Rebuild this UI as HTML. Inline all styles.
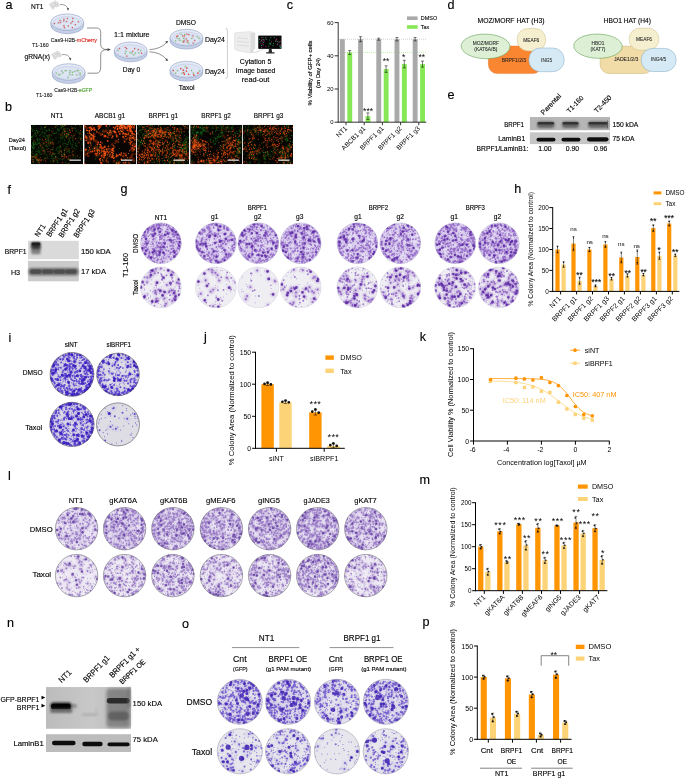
<!DOCTYPE html>
<html><head><meta charset="utf-8"><title>Figure</title>
<style>
html,body{margin:0;padding:0;background:#fff;}
svg{display:block;font-family:"Liberation Sans",sans-serif;}
</style></head><body>
<svg width="685" height="778" viewBox="0 0 685 778">
<defs>
<filter id="b3" x="-5%" y="-5%" width="110%" height="110%"><feGaussianBlur stdDeviation="0.35"/></filter>
<filter id="b6" x="-30%" y="-100%" width="160%" height="300%"><feGaussianBlur stdDeviation="0.6"/></filter>
<filter id="b10" x="-30%" y="-100%" width="160%" height="300%"><feGaussianBlur stdDeviation="1.0"/></filter>
<filter id="b15" x="-30%" y="-100%" width="160%" height="300%"><feGaussianBlur stdDeviation="1.5"/></filter>
<linearGradient id="ngr" x1="0" x2="1" y1="0" y2="0"><stop offset="0" stop-color="#bcbcbc"/><stop offset=".55" stop-color="#c8c8c8"/><stop offset="1" stop-color="#b4b4b4"/></linearGradient>
</defs>
<rect width="685" height="778" fill="#fff"/>
<g opacity=".999">
<text x="5.6" y="8.5" font-size="12.6" stroke="#000" stroke-width=".16">a</text>
<circle cx="50.6" cy="4.6" r="1.15" fill="#efefef" stroke="#b4b4b4" stroke-width=".35"/>
<circle cx="52.8" cy="3.2" r="1.15" fill="#efefef" stroke="#b4b4b4" stroke-width=".35"/>
<circle cx="55" cy="4.2" r="1.15" fill="#efefef" stroke="#b4b4b4" stroke-width=".35"/>
<circle cx="51.8" cy="6.4" r="1.15" fill="#efefef" stroke="#b4b4b4" stroke-width=".35"/>
<circle cx="54" cy="6.2" r="1.15" fill="#efefef" stroke="#b4b4b4" stroke-width=".35"/>
<circle cx="56.4" cy="5.8" r="1.15" fill="#efefef" stroke="#b4b4b4" stroke-width=".35"/>
<circle cx="57.2" cy="3.4" r="1.15" fill="#efefef" stroke="#b4b4b4" stroke-width=".35"/>
<circle cx="55.2" cy="2" r="1.15" fill="#efefef" stroke="#b4b4b4" stroke-width=".35"/>
<circle cx="52.8" cy="8" r="1.15" fill="#efefef" stroke="#b4b4b4" stroke-width=".35"/>
<circle cx="58.2" cy="5.2" r="1.15" fill="#efefef" stroke="#b4b4b4" stroke-width=".35"/>
<path d="M55.4 2.1h0m-2.4 1.2h0m4.4 .2h0m-2.2 .8h0m-4.4 .4h0m7.6 .6h0m-1.8 .6h0m-2.4 .4h0m-2.2 .2h0m1 1.6h0" stroke="#c4c4c4" stroke-width="0.8" stroke-linecap="round" fill="none" stroke-opacity="0.9"/>
<circle cx="52.8" cy="54.8" r="1.15" fill="#efefef" stroke="#b4b4b4" stroke-width=".35"/>
<circle cx="55" cy="53.4" r="1.15" fill="#efefef" stroke="#b4b4b4" stroke-width=".35"/>
<circle cx="57.2" cy="54.4" r="1.15" fill="#efefef" stroke="#b4b4b4" stroke-width=".35"/>
<circle cx="54" cy="56.6" r="1.15" fill="#efefef" stroke="#b4b4b4" stroke-width=".35"/>
<circle cx="56.2" cy="56.4" r="1.15" fill="#efefef" stroke="#b4b4b4" stroke-width=".35"/>
<circle cx="58.6" cy="56" r="1.15" fill="#efefef" stroke="#b4b4b4" stroke-width=".35"/>
<circle cx="59.4" cy="53.6" r="1.15" fill="#efefef" stroke="#b4b4b4" stroke-width=".35"/>
<circle cx="57.4" cy="52.2" r="1.15" fill="#efefef" stroke="#b4b4b4" stroke-width=".35"/>
<circle cx="55" cy="58.2" r="1.15" fill="#efefef" stroke="#b4b4b4" stroke-width=".35"/>
<circle cx="60.4" cy="55.4" r="1.15" fill="#efefef" stroke="#b4b4b4" stroke-width=".35"/>
<path d="M57.6 52.3h0m-2.4 1.2h0m4.4 .2h0m-2.2 .8h0m-4.4 .4h0m7.6 .6h0m-1.8 .6h0m-2.4 .4h0m-2.2 .2h0m1 1.6h0" stroke="#c4c4c4" stroke-width="0.8" stroke-linecap="round" fill="none" stroke-opacity="0.9"/>
<path d="M50.9 22.2 v3.2 a16.4 8.3 0 0 0 32.8 0 v-3.2z" fill="#c5d0e8" stroke="#7f8fb5" stroke-width=".5"/>
<ellipse cx="67.3" cy="22.2" rx="16.4" ry="8.3" fill="#e4eaf7" stroke="#7f8fb5" stroke-width=".5"/>
<ellipse cx="67.3" cy="23.1" rx="14.399999999999999" ry="6.500000000000001" fill="#dde4f3" stroke="#a9b5d2" stroke-width=".35"/>
<path d="M67.5 18.5h0m5.6 .1h0m-9 .9h0m-3.6 .9h0m3.1 .8h0m9 .2h0m-6.5 .1h0m12.7 .7h0m-18.9 .2h0m-1.6 .6h0m-3.7 .3h0m16.5 .1h0m4.2 1.5h0m-11.2 .6h0m4 .8h0m4.3 1.4h0m-7.6 .3h0" stroke="#aab2c6" stroke-width="2.1" stroke-linecap="round" fill="none" stroke-opacity="0.5"/>
<path d="M72.7 18.4h0m-5.3 .1h0m-3.5 .5h0m-4 1.7h0m3.9 .1h0m3.1 .7h0m5.7 0h0m5.6 .1h0m-17.4 .9h0m-2.4 .3h0m12.6 .1h0m-16.7 .7h0m21.1 1h0m-7.1 1.2h0m-4.4 .1h0m.4 1.5h0m8.1 .1h0" stroke="#e8412f" stroke-width="1.25" stroke-linecap="round" fill="none"/>
<path d="M52.3 72 v3.2 a16.4 8.3 0 0 0 32.8 0 v-3.2z" fill="#c5d0e8" stroke="#7f8fb5" stroke-width=".5"/>
<ellipse cx="68.7" cy="72" rx="16.4" ry="8.3" fill="#e4eaf7" stroke="#7f8fb5" stroke-width=".5"/>
<ellipse cx="68.7" cy="72.9" rx="14.399999999999999" ry="6.500000000000001" fill="#dde4f3" stroke="#a9b5d2" stroke-width=".35"/>
<path d="M77.9 70.4h0m-.8 .2h0m-11.5 .1h0m0 .1h0m4.2 .1h0m-7.9 .1h0m13.3 .4h0m-2.9 .4h0m-2.2 .3h0m9.3 .8h0m-16.7 .2h0m-6.8 .2h0m3.9 .9h0m10 .2h0m-11.4 .1h0m21.6 .1h0m-2.7 .1h0m-4.9 .3h0m-4.4 2.1h0" stroke="#aab2c6" stroke-width="2.1" stroke-linecap="round" fill="none" stroke-opacity="0.5"/>
<path d="M70.2 70.3h0m-5.2 .2h0m1.4 0h0m12.3 0h0m-1.5 .3h0m-15.3 .4h0m12.5 .1h0m-4.6 1h0m2.9 .1h0m-9.7 .4h0m-6.4 .3h0m23.7 0h0m-8 1.3h0m-2.4 .3h0m-9.8 .1h0m-1.3 .1h0m21.3 0h0m-3.7 .2h0m-8.4 2.6h0" stroke="#74c857" stroke-width="1.25" stroke-linecap="round" fill="none"/>
<path d="M114.3 50.3 v3.2 a16.4 8.3 0 0 0 32.8 0 v-3.2z" fill="#c5d0e8" stroke="#7f8fb5" stroke-width=".5"/>
<ellipse cx="130.7" cy="50.3" rx="16.4" ry="8.3" fill="#e4eaf7" stroke="#7f8fb5" stroke-width=".5"/>
<ellipse cx="130.7" cy="51.2" rx="14.399999999999999" ry="6.500000000000001" fill="#dde4f3" stroke="#a9b5d2" stroke-width=".35"/>
<path d="M125.9 47.7h0m-7 .5h0m16.3 .2h0m-9 .4h0m11.6 1.1h0m-20.2 .2h0m22.9 .5h0m-14.9 .7h0m6.5 .4h0m-1.6 .5h0m7.8 .3h0m-6.4 .4h0m10 .1h0m-6.9 .4h0m-9.9 .1h0m8.1 1.3h0m-5.9 1.1h0" stroke="#aab2c6" stroke-width="2.1" stroke-linecap="round" fill="none" stroke-opacity="0.5"/>
<path d="M125.2 47.4h0m-5.5 1.1h0m7.1 .1h0m7.7 .1h0m3.9 .6h0m-5.5 1.9h0m8.5 2h0m-14.7 2.9h0" stroke="#e8412f" stroke-width="1.25" stroke-linecap="round" fill="none"/>
<path d="M118.2 50.5h0m22.5 0h0m-14.3 .9h0m3.5 1.4h0m5.5 .2h0m3.5 0h0m-7.7 .1h0m-5.9 .6h0m8.6 1.2h0" stroke="#74c857" stroke-width="1.25" stroke-linecap="round" fill="none"/>
<path d="M170 37.6 v3.2 a16.4 8.3 0 0 0 32.8 0 v-3.2z" fill="#c5d0e8" stroke="#7f8fb5" stroke-width=".5"/>
<ellipse cx="186.4" cy="37.6" rx="16.4" ry="8.3" fill="#e4eaf7" stroke="#7f8fb5" stroke-width=".5"/>
<ellipse cx="186.4" cy="38.5" rx="14.399999999999999" ry="6.500000000000001" fill="#dde4f3" stroke="#a9b5d2" stroke-width=".35"/>
<path d="M180.3 33.8h0m6.1 .4h0m-1.3 .1h0m4.4 .2h0m3 1.1h0m-9.6 .1h0m.9 .4h0m-5.5 .2h0m-1.3 .3h0m20 .1h0m-20.5 1.3h0m7.7 .1h0m8.2 .1h0m6.7 0h0m-13.7 .7h0m-6.3 .1h0m15.6 1.2h0m-15.1 .1h0m7.7 .2h0m-2.9 .1h0m-9 .4h0m7.3 .4h0m1.3 .3h0m3.3 0h0m6.3 1h0m-4.5 .6h0" stroke="#aab2c6" stroke-width="2.1" stroke-linecap="round" fill="none" stroke-opacity="0.5"/>
<path d="M187 34.2h0m1.8 .5h0m-11.1 1.1h0m6.8 .1h0m-1.8 .1h0m10.4 0h0m-16.6 .3h0m9.8 2.5h0m8.5 1.8h0m-6.9 .1h0m-3.8 .1h0m2.9 1.3h0m-3.4 .1h0m9.4 .9h0" stroke="#e8412f" stroke-width="1.25" stroke-linecap="round" fill="none"/>
<path d="M181.2 34.3h0m3.4 .3h0m12.6 2h0m-20 1.5h0m21.7 .1h0m-15.5 .3h0m8.3 0h0m-12.5 .1h0m.7 1.8h0m-4.2 .4h0m6.9 .4h0m5.8 1.7h0" stroke="#74c857" stroke-width="1.25" stroke-linecap="round" fill="none"/>
<path d="M170 69.6 v3.2 a16.4 8.3 0 0 0 32.8 0 v-3.2z" fill="#c5d0e8" stroke="#7f8fb5" stroke-width=".5"/>
<ellipse cx="186.4" cy="69.6" rx="16.4" ry="8.3" fill="#e4eaf7" stroke="#7f8fb5" stroke-width=".5"/>
<ellipse cx="186.4" cy="70.5" rx="14.399999999999999" ry="6.500000000000001" fill="#dde4f3" stroke="#a9b5d2" stroke-width=".35"/>
<path d="M185.4 66.8h0m2 1h0m-6.5 .8h0m2.7 1.3h0m-10.8 .2h0m5 .5h0m13.7 .2h0m8.2 .3h0m-13.3 .1h0m-2.6 1.3h0m13.9 .4h0m-4.7 .2h0m-11.2 .1h0m-6.2 .1h0m12.9 .9h0m-4.6 .2h0m10.6 .8h0" stroke="#aab2c6" stroke-width="2.1" stroke-linecap="round" fill="none" stroke-opacity="0.5"/>
<path d="M186.8 68h0m-6.1 .5h0m2.5 1.7h0m-9.8 .4h0m13.1 .4h0m-2.9 1.5h0m14.4 .6h0m-13.5 1.1h0m4.1 .2h0m5.1 .6h0" stroke="#e8412f" stroke-width="1.25" stroke-linecap="round" fill="none"/>
<path d="M185.3 66.3h0m6.3 4h0m-14.2 .4h0m21.9 .2h0m-23.7 2.2h0m18.1 .1h0m-11.5 .1h0" stroke="#74c857" stroke-width="1.25" stroke-linecap="round" fill="none"/>
<path d="M186.8 68h0m-6.1 .5h0m2.5 1.7h0m-9.8 .4h0m13.1 .4h0m-2.9 1.5h0m14.4 .6h0m-13.5 1.1h0m4.1 .2h0m5.1 .6h0" stroke="#e8412f" stroke-width="1.25" stroke-linecap="round" fill="none"/>
<text x="31" y="8.6" font-size="6.8" textLength="12.4" lengthAdjust="spacingAndGlyphs" stroke="#000" stroke-width=".14">NT1</text>
<text x="24.5" y="58.8" font-size="7" textLength="25.5" lengthAdjust="spacingAndGlyphs" stroke="#000" stroke-width=".14">gRNA(x)</text>
<path d="M60 4.5 q7 -.5 8 5" fill="none" stroke="#444" stroke-width=".5"/><path d="M66.8 8.3l1.3 2.4 .9-2.6z" fill="#444"/>
<path d="M62 54.5 q7.5 -.5 8.3 5" fill="none" stroke="#444" stroke-width=".5"/><path d="M69.1 58.3l1.3 2.4 .9-2.6z" fill="#444"/>
<text x="50.8" y="42.3" font-size="5.4" textLength="46.2" lengthAdjust="spacingAndGlyphs" fill="#222" stroke="#222" stroke-width=".14">Cas9-H2B-<tspan fill="#e0281e" stroke="#e0281e">mCherry</tspan></text>
<text x="32" y="46.6" font-size="5.3" textLength="16.6" lengthAdjust="spacingAndGlyphs" fill="#222" stroke="#222" stroke-width=".14">T1-160</text>
<text x="54.3" y="92.2" font-size="5.38" textLength="37.7" lengthAdjust="spacingAndGlyphs" fill="#222" stroke="#222" stroke-width=".14">Cas9-H2B-<tspan fill="#4aa02c" stroke="#4aa02c">eGFP</tspan></text>
<text x="36" y="96.6" font-size="5.23" textLength="16.4" lengthAdjust="spacingAndGlyphs" fill="#222" stroke="#222" stroke-width=".14">T1-160</text>
<path d="M87 28 h9.5 q4.2 0 4.2 4.2 v12 q0 5.4 6.5 5.4 q-6.5 0 -6.500 5.4 v12 q0 6.2 -4.2 6.200 h-9" fill="none" stroke="#333" stroke-width=".55"/>
<path d="M107.4 48.2l3.400 1.4 -3.400 1.400z" fill="#333"/>
<text x="114" y="36.6" font-size="6.85" textLength="35.6" lengthAdjust="spacingAndGlyphs" stroke="#000" stroke-width=".14">1:1 mixture</text>
<text x="122.8" y="71.7" font-size="6.91" textLength="17.5" lengthAdjust="spacingAndGlyphs" stroke="#000" stroke-width=".14">Day 0</text>
<text x="175.9" y="25" font-size="6.95" textLength="20" lengthAdjust="spacingAndGlyphs" stroke="#000" stroke-width=".14">DMSO</text>
<text x="178.8" y="89.6" font-size="6.6" textLength="15.8" lengthAdjust="spacingAndGlyphs" stroke="#000" stroke-width=".14">Taxol</text>
<path d="M149.500 49.6 q11 -.5 17 -7" fill="none" stroke="#333" stroke-width=".55"/><path d="M165.200 41.5l2.800 -.6 -1 2.700z" fill="#333"/>
<path d="M149.500 51.8 q11 .5 17 7.6" fill="none" stroke="#333" stroke-width=".55"/><path d="M165.2 60.200l2.800 .8 -1 -2.800z" fill="#333"/>
<text x="204.9" y="41.9" font-size="7.03" textLength="20" lengthAdjust="spacingAndGlyphs" stroke="#000" stroke-width=".14">Day24</text>
<text x="204.9" y="74" font-size="7.03" textLength="20" lengthAdjust="spacingAndGlyphs" stroke="#000" stroke-width=".14">Day24</text>
<path d="M225.5 28.200 q1.900 .2 1.900 2.200 v46 q0 2 -1.900 2.200" fill="none" stroke="#aaa" stroke-width=".6"/>
<path d="M234.500 34 q0 -1.200 1.500 -1.400 l14 -1 4 .8 q1 .2 1 1.400 v14.500 l-4.500 4.600 -13 -2.200 q-3 -.5 -3 -3z" fill="#ededed" stroke="#cfcfcf" stroke-width=".4"/>
<path d="M250.500 33 l4.500 .2 v15.500 l-4.500 4.800z" fill="#dcdcdc"/>
<path d="M237 41.500 l12 1 M237 45 l12 1.200 M238 38 l10 .6" stroke="#c8c8c8" stroke-width=".5" fill="none"/>
<path d="M251 52 q5 1.500 9 -1.500 l4 -2" fill="none" stroke="#999" stroke-width=".4"/>
<rect x="258.2" y="35.5" width="23.4" height="13.4" fill="#2e2e2e" rx=".7"/>
<rect x="258.8" y="36.1" width="22.2" height="12.2" fill="#070707"/>
<path d="M262.9 37.2h0m11.4 .3h0m-3.5 .1h0m-5.1 .2h0m-6.1 1.5h0m6.7 .2h0m-2.7 .1h0m5.7 .4h0m-7.7 .3h0m15.9 .9h0m-1.7 .1h0m-15.6 .7h0m19 0h0m-15.7 .5h0m5.7 .5h0m1.2 .3h0m3.1 .3h0m-2.9 .3h0m-.4 .3h0m7.2 .4h0m-4.4 1h0m-11.5 .1h0m7.4 .4h0m11 .1h0m.5 1.2h0m.4 .4h0" stroke="#22a866" stroke-width="1.15" stroke-linecap="round" fill="none" stroke-opacity="0.9"/>
<path d="M261.7 37.6h0m4.2 .2h0m10.6 1.1h0m-14.4 .8h0m2 .1h0m0 .1h0m12 0h0m-14.7 .7h0m14.6 0h0m-11.9 .7h0m16.3 0h0m-18.3 .2h0m9.4 .3h0m7.4 .3h0m-17.8 1.7h0m16.6 .1h0m-15.3 .1h0m1.2 .9h0m16.4 .3h0m.2 .5h0m-14.2 .9h0m-4.3 1.1h0" stroke="#a8327e" stroke-width="1.15" stroke-linecap="round" fill="none" stroke-opacity="0.9"/>
<path d="M269 48.800 h2.600 l.5 3.500 h2.400 v1.200 h-8.400 v-1.200 h2.400z" fill="#2a2a2a"/>
<text x="255.6" y="64.2" font-size="6.83" text-anchor="middle" textLength="31.5" lengthAdjust="spacingAndGlyphs" stroke="#000" stroke-width=".14">Cytation 5</text>
<text x="255.6" y="72.8" font-size="6.91" text-anchor="middle" textLength="39.5" lengthAdjust="spacingAndGlyphs" stroke="#000" stroke-width=".14">Image based</text>
<text x="255.6" y="81.6" font-size="6.98" text-anchor="middle" textLength="27.5" lengthAdjust="spacingAndGlyphs" stroke="#000" stroke-width=".14">read-out</text>
<text x="4.9" y="111.2" font-size="12.6" stroke="#000" stroke-width=".16">b</text>
<text x="57" y="118.4" font-size="6.8" text-anchor="middle" textLength="12.4" lengthAdjust="spacingAndGlyphs" stroke="#000" stroke-width=".14">NT1</text>
<text x="110" y="118.4" font-size="7.02" text-anchor="middle" textLength="30.5" lengthAdjust="spacingAndGlyphs" stroke="#000" stroke-width=".14">ABCB1 g1</text>
<text x="163.3" y="118.4" font-size="7.03" text-anchor="middle" textLength="29.5" lengthAdjust="spacingAndGlyphs" stroke="#000" stroke-width=".14">BRPF1 g1</text>
<text x="216" y="118.4" font-size="7.03" text-anchor="middle" textLength="29.5" lengthAdjust="spacingAndGlyphs" stroke="#000" stroke-width=".14">BRPF1 g2</text>
<text x="268.5" y="118.4" font-size="7.03" text-anchor="middle" textLength="29.5" lengthAdjust="spacingAndGlyphs" stroke="#000" stroke-width=".14">BRPF1 g3</text>
<text x="8.8" y="141.8" font-size="5.69" textLength="16.2" lengthAdjust="spacingAndGlyphs" stroke="#000" stroke-width=".14">Day24</text>
<text x="8.8" y="149.7" font-size="5.64" textLength="17.3" lengthAdjust="spacingAndGlyphs" stroke="#000" stroke-width=".14">(Taxol)</text>
<g clip-path="url(#cb21)"><clipPath id="cb21"><rect x="30.9" y="124.8" width="52.2" height="39.4"/></clipPath>
<rect x="30.9" y="124.8" width="52.2" height="39.4" fill="#060503"/>
<g filter="url(#b10)">
<path d="M62.6 125.7h0m.4 .7h0m-18.5 .9h0m-12.7 .6h0m28.8 .2h0m7.5 .5h0m-10.5 .4h0m-12.7 .4h0m-12.5 .4h0m31.4 .1h0m-14.3 .3h0m9.1 .2h0m17.6 .2h0m-38.2 1.2h0m4.5 .1h0m37.4 .4h0m-23.5 .5h0m12.3 .5h0m-24.6 .2h0m-9.5 .1h0m26.3 .4h0m3.7 0h0m3.3 .1h0m-.9 .7h0m15 0h0m-15.2 .1h0m-27.2 .5h0m28.1 .7h0m-23.4 .2h0m-12.4 .7h0m29.3 .2h0m-.9 .4h0m3.1 0h0m7.3 .1h0m-23.8 .3h0m9.1 0h0m-17.8 1.1h0m1.6 .7h0m12.9 .1h0m11.7 .2h0m-3.8 .4h0m21.6 0h0m-44.8 .1h0m32.4 0h0m-18.9 1.5h0m18 .4h0m-18.6 .1h0m-14.8 .1h0m28 .5h0m-24.8 .2h0m37.1 0h0m-22.6 .2h0m-4.7 .3h0m-11 .2h0m25.3 .1h0m-28.9 .4h0m0 0h0m38.3 .1h0m4.3 .5h0m-30.7 .4h0m31 .9h0m-29.9 .1h0m-6.5 .1h0m-7.8 .8h0m27.8 .3h0m-16.7 .1h0m22 .5h0m-32 .4h0m19.1 .7h0m-9.5 .1h0m13.8 .1h0m-.8 .1h0m-15.3 .3h0m3.7 .4h0m-6.8 .4h0m31.1 0h0m-1 .4h0m-7.6 .1h0m-28.7 .8h0m26.4 1.2h0m-21.7 .2h0m2.9 .1h0m1.6 .6h0m13.7 0h0m-19.5 .2h0m11.8 .3h0m-10.7 .3h0m15.4 .4h0m-20 .3h0m3.5 .1h0m40.3 1h0m-2.4 .1h0m-40.6 .5h0m19.5 1h0m1.6 .1h0m15 .2h0m-.1 .6h0m-29.5 .5h0m4.8 .2h0m-6.6 .2h0m20.1 .7h0m-5 .6h0m5.8 .8h0m-24.6 .4h0m36 1.2h0" stroke="#1c8a1e" stroke-width="2.4" stroke-linecap="round" fill="none" stroke-opacity="0.15"/>
<path d="M72.9 128.4h0m-8.8 .8h0m.3 5h0m4.2 .4h0m-18.9 .3h0m11.3 0h0m10.5 .7h0m-4.9 1.3h0m9 1.8h0m5 .6h0m-31.9 2.8h0m3.9 .2h0m-6.3 .1h0m3.8 1.3h0m16.8 6.1h0m-23.7 .8h0m29.4 4h0m-8 .1h0m3.7 1.7h0m-6.4 .2h0m-25.5 .3h0m9.5 1.5h0m18 .2h0m-7.7 .4h0m-18.5 .2h0m32.5 .2h0m-28.6 .4h0m-3.5 1.3h0m15.5 0h0m-14 1.8h0" stroke="#c23a08" stroke-width="2.4" stroke-linecap="round" fill="none" stroke-opacity="0.17"/>
</g>
<path d="M61.2 124.8h0m1.4 .9h0m-22.1 .7h0m21.3 0h0m-28.8 .1h0m29.7 0h0m-6.6 .3h0m16.4 1h0m-40.7 .1h0m5 .1h0m23.8 .1h0m-12.2 .1h0m-17 .2h0m33 .3h0m-.7 .3h0m-30.1 .3h0m11.3 .1h0m14 0h0m13.4 .1h0m-36.1 .2h0m-3.8 .1h0m35.3 0h0m-33.1 .5h0m37.1 0h0m-12.3 .2h0m-13.5 .1h0m-9.8 .5h0m10.7 .2h0m20.8 0h0m8.9 .1h0m-30 .1h0m16.6 .4h0m-7.1 .6h0m8.7 .3h0m10.6 .6h0m-31.2 .1h0m-9.5 .1h0m26.3 .4h0m3.7 0h0m-23.1 .3h0m17 .1h0m8.6 .4h0m-.3 .1h0m7 .2h0m-5.1 .2h0m-29.1 .1h0m26.3 .4h0m6.9 .1h0m-21.4 .2h0m-7.1 .2h0m16.9 .9h0m2.2 .4h0m-18.4 .3h0m-8.2 .2h0m13.6 .1h0m11.7 0h0m6.8 .2h0m-30.7 .7h0m35.3 .4h0m-22.3 .5h0m21.4 .2h0m-39.2 .1h0m27.2 .2h0m16.9 0h0m4.7 0h0m-32.8 .6h0m-4.3 .3h0m-9.9 .4h0m7.4 .4h0m-3.9 .2h0m30.2 .1h0m-8.8 .1h0m22.7 0h0m-50 .3h0m25 .3h0m5.7 0h0m-19.7 .1h0m38.1 .1h0m-16.9 .1h0m-2.2 .7h0m5.7 0h0m-34.6 .1h0m0 .3h0m37.2 .1h0m5.4 .5h0m-12.8 .5h0m-29.5 1.6h0m-1.9 .5h0m28.1 0h0m-26.9 .3h0m-1.3 .1h0m9.1 .1h0m33.4 .1h0m-21.8 .5h0m23.6 .3h0m-39.3 .1h0m6.1 .3h0m13.8 .1h0m-.8 .1h0m-18 .2h0m36.8 0h0m-34.1 .1h0m28.5 0h0m-16.7 .1h0m28.4 .3h0m.4 .3h0m-44.7 .2h0m7.7 1h0m-4.6 .1h0m34.9 1h0m-20.8 .3h0m-12.8 .2h0m14.1 0h0m-16.1 .1h0m10.4 .3h0m-12.1 .2h0m-2.5 .3h0m1.1 .6h0m13.6 .8h0m-12.8 .1h0m14.3 .1h0m29.2 .1h0m-15.8 .2h0m-21.5 .4h0m32.2 .1h0m-2.4 .1h0m-40.6 .5h0m23.5 .2h0m-10.2 .4h0m14.7 .1h0m2.5 .5h0m-3.3 .7h0m-21.7 .4h0m5.8 .3h0m13.7 .5h0m7.8 .2h0m-26.4 .5h0m13.4 .3h0m-14.3 .8h0m28.1 .9h0" stroke="#17701a" stroke-width="1.1" stroke-linecap="round" fill="none" stroke-opacity="0.45"/>
<path d="M64.5 125.5h0m.4 0h0m10.7 0h0m-41.5 .2h0m21.6 0h0m4.9 0h0m1.7 .3h0m-16.2 .3h0m16.9 .1h0m-18.3 1.2h0m.4 .1h0m10.7 0h0m5.8 .1h0m-.4 .1h0m13.2 0h0m-22.1 .4h0m15.8 .3h0m-27.6 .5h0m1.5 0h0m21.8 .8h0m-14.2 .1h0m9 .4h0m-22.3 .1h0m-4.2 .1h0m44.1 0h0m-43.2 1h0m6.1 .1h0m-1.1 .1h0m4.5 .1h0m-4.9 .3h0m45 .1h0m-37.6 .5h0m11.4 0h0m-19 .3h0m-1.9 .1h0m33.2 .1h0m-13.9 .1h0m-1 .1h0m13.3 .2h0m-14.1 .1h0m14.9 .3h0m14.1 .7h0m-30.5 .4h0m-15.3 .2h0m11.7 .2h0m19.8 .5h0m-23.8 .1h0m18.9 0h0m-13.9 .2h0m-17.3 .6h0m.3 0h0m-.4 .3h0m35.3 .1h0m3.9 .3h0m10.5 .1h0m-2.8 .4h0m-16.3 .1h0m19.4 .4h0m-35.8 .2h0m-14.1 .6h0m8.2 .3h0m-2.4 .8h0m32.4 0h0m-22.9 .1h0m4 1.4h0m17.6 .1h0m-18.2 .4h0m-14.8 .1h0m-.4 .4h0m-1.4 .1h0m36.6 .1h0m-31.6 .1h0m.8 0h0m25.7 0h0m-12 .2h0m-17.3 .3h0m12.6 0h0m18.3 .5h0m-32.9 .2h0m.4 0h0m2.3 .3h0m45.5 .1h0m-50.5 .2h0m44.2 .1h0m-30 .3h0m-13 .3h0m1.5 .7h0m37.9 0h0m-31.8 .1h0m6.9 0h0m19.6 .2h0m-.8 .2h0m-7.3 .2h0m-26.2 .2h0m6.1 0h0m5 .4h0m30.4 .3h0m-40 .1h0m46.8 0h0m-32.4 .1h0m8.3 .4h0m-4 .7h0m11.6 .3h0m-4.7 .2h0m-19.8 .2h0m3.1 .9h0m25 .2h0m-32.2 .1h0m24.6 0h0m-2.5 .3h0m-19.4 .2h0m22.7 0h0m7.7 0h0m-29.3 .1h0m30.2 .6h0m-17.4 1h0m11.6 .1h0m-.4 .3h0m-18.4 .2h0m-8.8 .2h0m25.3 .1h0m-14.8 .3h0m14.9 .5h0m-26.2 .1h0m-1.7 .6h0m18.5 .1h0m3 .1h0m-7.9 .8h0m32.3 .5h0m-24.8 .8h0m-10.2 .7h0m17.3 .6h0m-28.6 .3h0m2.9 0h0m.7 .4h0m17 .3h0m3.1 .4h0m-23.7 .3h0m35.9 2.7h0m-16 .1h0" stroke="#25a027" stroke-width="0.75" stroke-linecap="round" fill="none" stroke-opacity="0.78"/>
<path d="M65.7 124.8h0m-8.6 .8h0m6.2 .5h0m16.5 0h0m-8.3 .4h0m8.9 .5h0m-35.9 .3h0m-2.6 .6h0m33.5 .4h0m-9.4 .1h0m-8.4 .6h0m-9.5 1h0m9.4 0h0m-8 .2h0m-12.8 .3h0m10.2 .2h0m18.9 .1h0m-14.5 .1h0m2.4 .1h0m29.3 .7h0m-18.4 .3h0m15.3 .3h0m-37.7 .1h0m20.5 .2h0m16 .1h0m-43.4 .2h0m19.1 .6h0m-9.3 .3h0m-9.8 .6h0m44.6 0h0m-39.6 .4h0m26.7 0h0m-33.8 .4h0m13.2 .2h0m2.6 .3h0m15.2 0h0m-28.5 .7h0m11.7 0h0m-14.6 .1h0m40.1 .3h0m6.3 .1h0m-13.9 .1h0m-33.7 .2h0m28.7 .4h0m-13.4 .4h0m9.1 0h0m24.5 .6h0m-32.5 .1h0m-14.9 .1h0m4.5 .1h0m2.4 .1h0m8.2 .7h0m.7 0h0m-11.8 .2h0m15.6 0h0m11.7 .2h0m8.1 .1h0m-24.4 .5h0m-2.1 .5h0m23 .2h0m-10.3 .5h0m-18.9 .1h0m38.5 0h0m-5.1 .2h0m-40.2 .6h0m.5 .6h0m42.3 0h0m-31.6 .3h0m-6.7 .4h0m30 .1h0m-26.3 .3h0m31 .2h0m-38.8 .1h0m15.9 .9h0m-15.7 .1h0m26.3 .7h0m16.9 0h0m-29.9 .1h0m-15.8 .1h0m1.8 .5h0m39.2 0h0m-14.5 .1h0m-19.2 .3h0m21.6 0h0m11.9 .6h0m-6.2 .2h0m-32 .4h0m16.4 1.3h0m14 .1h0m-19.4 .3h0m37 0h0m-43.8 .4h0m31.1 0h0m3.8 .2h0m-40.5 .1h0m-.6 1h0m32.7 0h0m1.9 0h0m5.8 .6h0m-14 .6h0m-25.1 .1h0m3.4 .1h0m23.1 .2h0m-7.2 .1h0m-11.4 .4h0m13.7 0h0m10.4 .1h0m8 .3h0m-21.4 .8h0m10.7 .2h0m-30.7 .1h0m3.5 .1h0m20.3 .6h0m.6 0h0m1.2 .5h0m-22.2 .8h0m10 .3h0m6.9 .4h0m1.6 .1h0m5.3 0h0m-19.9 .1h0m9.2 0h0m20.4 .1h0m-32.4 .4h0m-3.2 .2h0m35.5 0h0m-28.6 .1h0m-.9 .4h0m23.2 0h0m-25.5 .1h0m32.7 .1h0m-30.3 .3h0m11.6 .6h0m2.9 .3h0m4.5 1.1h0m7.6 0h0m-32.2 .4h0m5.5 0h0m-7.2 .5h0m36.4 .6h0" stroke="#42cc3c" stroke-width="0.5" stroke-linecap="round" fill="none" stroke-opacity="0.85"/>
<path d="M55.1 127.3h0m16.7 .9h0m-.3 7.4h0m1.3 2.5h0m7.8 1.2h0m-37.6 1.4h0m36.3 2h0m-27.9 .4h0m-11.1 1h0m1.7 2.2h0m11.3 1.2h0m13.6 2.3h0m-17.9 1.9h0m3.9 1.3h0m-.9 1h0m20.6 .6h0m-35.4 .5h0m32.8 .3h0m3.4 0h0m-7.3 1h0m-20.2 2h0m10.3 .6h0m-19.9 .1h0m31.7 .1h0m2.2 .2h0m-31.4 .1h0m2.8 .3h0m-2.3 .1h0m1.3 .5h0m28.2 3.4h0" stroke="#a33008" stroke-width="1.5" stroke-linecap="round" fill="none" stroke-opacity="0.55"/>
<path d="M62.2 125.2h0m3 .3h0m-.9 5.9h0m5.9 .3h0m-.1 .9h0m-3.4 .8h0m1.9 1.2h0m-7.6 .3h0m-18.8 4.4h0m3.3 0h0m-11.4 1.6h0m18.5 1.4h0m.5 1.8h0m-13 1.3h0m28.9 3.3h0m-18 .6h0m-7.8 1.3h0m29.8 .5h0m-13.8 .8h0m-8.4 .2h0m-18.6 4.5h0m29.7 0h0m-27.2 .3h0m1.7 0h0m28.4 .1h0m-27.1 2.2h0m.5 1.2h0m7.3 .6h0m-12.7 .2h0m29.9 1.4h0" stroke="#e8450c" stroke-width="1.05" stroke-linecap="round" fill="none" stroke-opacity="0.95"/>
<path d="M45.5 127h0m24.2 3.4h0m10.8 0h0m-8 .6h0m-20.4 .8h0m28 1.9h0m-15.7 .5h0m9.9 1h0m-7.7 1.7h0m9 1.8h0m-6.4 .2h0m-22.9 3.5h0m-2.5 .4h0m6.3 .9h0m10.3 2.3h0m-18.1 2.1h0m4.8 1.2h0m14 1.1h0m3.2 0h0m-2.9 1.7h0m-7.7 1.9h0m10.9 .7h0m12.7 1.2h0m-14.5 .6h0m3.6 .7h0m-34.5 .2h0m.1 2.3h0m9.2 .5h0m-3.1 .9h0m15.5 0h0" stroke="#ff5a14" stroke-width="0.8" stroke-linecap="round" fill="none"/>
<path d="M56.5 125h0m-25.4 3.4h0m41.8 0h0m-8.8 .8h0m5.7 .2h0m-4.9 1.3h0m.9 .8h0m-3.1 1.8h0m-13 1.6h0m16.9 1.2h0m-17.7 1.6h0m-.2 4.4h0m-5.4 1.9h0m3 1.1h0m1.6 6.6h0m-3.7 .2h0m.9 .1h0m-2 1.8h0m6.8 .2h0m14.7 .1h0m-2.7 .5h0m2.4 .9h0m4 .9h0m-34.7 .2h0m21.9 .6h0m-15.2 .2h0m-4.9 .4h0m28.5 .8h0m-30.5 3.3h0m6.2 1h0" stroke="#ff7d2c" stroke-width="0.55" stroke-linecap="round" fill="none"/>
</g>
<rect x="69.5" y="159.6" width="11.4" height="1.1" fill="#fff"/>
<g clip-path="url(#cb22)"><clipPath id="cb22"><rect x="84.2" y="124.8" width="52.2" height="39.4"/></clipPath>
<rect x="84.2" y="124.8" width="52.2" height="39.4" fill="#060503"/>
<g filter="url(#b10)">
<path d="M107.3 127.7h0m-4.8 3.6h0m-7.2 16.2h0m-2.8 1.1h0m4.4 1h0m-9.6 .2h0m10.3 6.4h0m-2 2.7h0m21.7 1.8h0" stroke="#1c8a1e" stroke-width="2.4" stroke-linecap="round" fill="none" stroke-opacity="0.15"/>
<path d="M106.4 125.1h0m17.6 .3h0m-3.7 .1h0m7.1 .7h0m3.4 .6h0m-6.4 .3h0m7 0h0m-6 .3h0m-36 .2h0m40.1 0h0m-38.7 .3h0m-4.2 .2h0m28.3 .2h0m2.8 0h0m-26.1 .5h0m25.8 .2h0m12.1 .8h0m-2.3 .3h0m-6.7 .5h0m-14.3 .2h0m3.9 0h0m11.9 .7h0m9 .2h0m1.1 .3h0m-21.2 .6h0m-3.6 .2h0m2.2 0h0m6.1 .1h0m12.9 .3h0m3.9 .3h0m-.4 .1h0m-6.7 .2h0m-22.9 .5h0m6.6 .8h0m-16.7 .4h0m-1.1 .2h0m31.8 1h0m7.4 0h0m-40.8 .2h0m18.2 .2h0m-21.5 .2h0m48.1 .1h0m-47.8 .2h0m45.9 .2h0m-2.5 .1h0m-45.6 .4h0m9.2 .7h0m-6.2 .1h0m47.4 .8h0m-40.7 .5h0m22.1 .7h0m-19.9 .2h0m28.3 .2h0m7.3 .1h0m-1.5 2.2h0m-33 .5h0m14.9 .2h0m21 .3h0m-30.2 3h0m29 .2h0m-36.7 .1h0m-.9 .5h0m14.4 .2h0m3.6 .1h0m-6.2 .2h0m28.3 0h0m-27.1 .2h0m-.8 .2h0m5.4 0h0m-26.6 .6h0m13.7 .3h0m-2 .3h0m4.7 .2h0m-4.4 .3h0m9.7 0h0m-14.8 .2h0m19.5 0h0m-21 .3h0m18.9 0h0m-8.6 .6h0m-14 1.4h0m38.4 .2h0m-15.1 .5h0m-3.2 .3h0m-22.3 .1h0m19.9 0h0m-2.1 .1h0m-6.6 .7h0m16.9 0h0m3.8 .2h0m-12.7 .2h0m5 .3h0m7.2 0h0m-4.2 .4h0m19.4 .3h0m-5.8 2.4h0m-23.4 .5h0m3.9 .2h0m10.5 2.5h0m12.4 .5h0" stroke="#c23a08" stroke-width="4.08" stroke-linecap="round" fill="none" stroke-opacity="0.17"/>
</g>
<path d="M111.6 134.1h0m-22.2 8.5h0m5.7 3.3h0m-3.3 .1h0m6.1 .3h0m-2.6 1.2h0m-1.1 1.3h0m-6.9 1h0m8.9 4h0m.4 1.5h0m1 .9h0m19.4 7.5h0" stroke="#17701a" stroke-width="1.1" stroke-linecap="round" fill="none" stroke-opacity="0.45"/>
<path d="M130.7 128h0m-34.3 2.1h0m6.1 1.2h0m29.1 4.4h0m-44.6 .2h0m3.5 6.4h0m-1.8 .5h0m47 1h0m-47.1 2.5h0m8.3 3.3h0m29.8 6.3h0m-9.4 4.8h0" stroke="#25a027" stroke-width="0.75" stroke-linecap="round" fill="none" stroke-opacity="0.78"/>
<path d="M107.3 127.7h0m-19.2 3.1h0m32.2 2.1h0m-11.9 1.7h0m-18.1 4.4h0m1.5 4.9h0m5.7 4.5h0m21.8 .1h0m-26.8 .1h0m-4.1 1.9h0m11.3 2.4h0m-4.1 6h0" stroke="#42cc3c" stroke-width="0.5" stroke-linecap="round" fill="none" stroke-opacity="0.85"/>
<path d="M124 125.4h0m-25.7 1.4h0m30.7 0h0m-9.1 .1h0m3.5 0h0m7.7 0h0m-6.7 .2h0m-38.5 .1h0m36.6 .2h0m3.2 .2h0m4.5 0h0m-8.6 .1h0m5.1 0h0m-6 .2h0m9.8 0h0m-43.9 .2h0m39.1 .2h0m4.5 0h0m3.7 0h0m-12 .5h0m-27.3 .7h0m8.9 1.2h0m2.7 .1h0m22.6 .3h0m-24.7 .5h0m11.5 1.3h0m-16.3 .1h0m11.7 .4h0m0 .2h0m14 .6h0m-30.6 .5h0m6.5 .1h0m9.5 0h0m16 .2h0m-.6 .3h0m-36.1 .6h0m15 .5h0m12.6 0h0m-23.2 .2h0m36.3 .1h0m4 .7h0m-48.3 .2h0m-1.7 .7h0m43.2 .1h0m3.6 0h0m-39.1 .4h0m1.2 .2h0m-5.9 .1h0m6.5 .1h0m.2 1.2h0m-4.2 .1h0m26.3 .6h0m-19.9 .2h0m21.8 .5h0m-29.7 .1h0m1.8 .8h0m44 1.3h0m-21.9 .5h0m21 .3h0m1.5 .2h0m-44.1 .4h0m43.6 .1h0m-20.1 1.4h0m-18.6 1.1h0m-.2 .1h0m37 0h0m-32.8 .3h0m-5.1 .2h0m13 .7h0m-17.6 .1h0m20.7 0h0m-3.2 .1h0m23.7 .2h0m1.5 1.4h0m-28.7 .3h0m8 0h0m-7.5 .8h0m-15.8 .3h0m36.3 1.4h0m.7 0h0m10.3 .1h0m-3.4 .3h0m-22 .1h0m-25.5 .4h0m19.9 0h0m-2.1 .1h0m-4.4 .1h0m22.5 .2h0m10.8 .6h0m-43.5 .2h0m13.7 .4h0m21.4 0h0m8.3 .6h0m-1.8 .7h0m3.6 1.6h0m.5 1.7h0m-19.9 .1h0m-7.2 .4h0m12.8 .6h0m9.6 1h0" stroke="#a33008" stroke-width="2.55" stroke-linecap="round" fill="none" stroke-opacity="0.55"/>
<path d="M123.3 125h0m-16.9 .1h0m22.3 0h0m-8.4 .4h0m-19.3 .2h0m20.4 .1h0m2.6 .1h0m-6.9 .1h0m-32.1 .2h0m13.4 0h0m19.4 0h0m2.6 0h0m7 0h0m2.9 0h0m-1.6 .1h0m-13.2 .8h0m15.9 0h0m2.1 0h0m-44.1 .5h0m32.5 .2h0m-31.1 .1h0m36.5 0h0m-33.3 .1h0m30.6 0h0m-25.4 .1h0m15.7 .2h0m4.8 0h0m10.2 .3h0m-12.4 .6h0m13.1 0h0m-1.1 .6h0m1 0h0m-35.9 .1h0m32.6 .2h0m-12.8 1h0m16.2 .1h0m5 0h0m-46.1 .3h0m29.3 .2h0m-21.9 .1h0m35.2 .2h0m-16.7 .1h0m8 1.3h0m8.6 .2h0m-12.2 .4h0m8.3 .3h0m6 .1h0m-17.5 .8h0m-23.6 .3h0m12.2 .1h0m-.8 .4h0m8.3 .2h0m-7 .1h0m17.6 .6h0m-30.1 .2h0m-6.6 .5h0m45.6 0h0m-2.2 .3h0m-38.4 .6h0m-.4 1.1h0m16.3 1.2h0m.3 .3h0m16.8 .4h0m-23.9 .6h0m30.2 0h0m-32.7 .4h0m-10 .4h0m42.2 .9h0m-33 .5h0m3.6 1.6h0m34.4 .4h0m-34.4 .9h0m2.1 .6h0m-1.2 .8h0m-15.9 .8h0m26.1 .1h0m21.9 .2h0m-48.5 .4h0m11.7 .6h0m-2.6 .1h0m7.3 .1h0m2 .2h0m-11.5 .3h0m11.5 0h0m2 .6h0m2.5 .6h0m12.9 .5h0m-16 .4h0m-9.9 .2h0m1 .1h0m21.6 1.5h0m7.9 .1h0m-21.7 .6h0m12.2 .3h0m-4.2 .4h0m.6 .6h0m8.5 1.9h0m4.3 3.5h0m-24 .5h0m-17.1 .5h0" stroke="#e8450c" stroke-width="1.78" stroke-linecap="round" fill="none" stroke-opacity="0.95"/>
<path d="M92.6 124.9h0m39.8 .2h0m2 .6h0m-3.6 .2h0m-31.3 .1h0m6.7 .1h0m22.9 .5h0m2.1 0h0m-.4 .2h0m-39.9 .1h0m9.2 .4h0m13.3 0h0m12 .1h0m.1 .3h0m-3.1 .2h0m-4.7 .4h0m2.6 .2h0m-28.7 .3h0m38.8 0h0m-32 .2h0m-5.7 .2h0m.2 0h0m-1.8 .3h0m32 .5h0m-36.5 .2h0m2.9 .3h0m-1.8 .1h0m22.4 .2h0m21.2 .2h0m-9.9 .2h0m.6 .3h0m9 .2h0m-16.3 .5h0m-7.4 .6h0m0 0h0m-18 .4h0m43.1 .3h0m.4 0h0m-7.5 .3h0m-22.9 .5h0m24 0h0m-34.8 .1h0m44.5 .5h0m-5.9 .6h0m-44.6 .5h0m40.2 .4h0m-9 .4h0m-9 .3h0m-21.5 .2h0m25.7 .4h0m24.2 .3h0m-2.7 .2h0m-42.5 .1h0m2.6 .7h0m32.5 .1h0m8.9 .7h0m-.2 .1h0m-4.9 .3h0m-43.7 .2h0m45.7 1.2h0m-43.8 1.2h0m12.4 1.6h0m31.9 1.2h0m-27.4 .6h0m3.5 .1h0m25.7 .6h0m-30 .2h0m.8 0h0m-15.6 .5h0m42.7 .4h0m-18.6 .8h0m-1 .1h0m-6.2 .2h0m-7.1 1.3h0m13.6 .1h0m1 .6h0m-6.6 .1h0m-16.3 .5h0m13.3 0h0m8.4 1.1h0m-7.4 .2h0m-7.9 .1h0m2.3 .4h0m-12.4 .2h0m32.4 .8h0m-14.6 .1h0m.1 .2h0m15.8 .1h0m-24.7 .7h0m5.2 .2h0m15.5 0h0m-4.1 .2h0m-1.5 1.1h0m2.4 1.3h0m-13.1 .4h0m-1 .4h0m.6 1.6h0m.4 1.9h0m22.6 0h0m-4.3 1h0" stroke="#ff5a14" stroke-width="1.36" stroke-linecap="round" fill="none"/>
<path d="M120.7 125.3h0m2.1 .1h0m7.1 0h0m-8.6 .3h0m-11.5 .2h0m15.2 .5h0m-.9 .7h0m-2.5 .1h0m1 0h0m-2.9 .2h0m9.8 .2h0m-3.7 .9h0m-8.4 .5h0m-7.2 1.3h0m-18.7 .1h0m29 .2h0m-7.3 .3h0m-3 .3h0m3.8 .3h0m-2.1 .3h0m10.3 .1h0m-12.9 .4h0m1.6 .3h0m-1.4 .2h0m14.1 .1h0m-29.8 .3h0m34.7 0h0m-40.7 .1h0m20.9 0h0m-18 .1h0m32.1 .6h0m-32 .4h0m18.2 .7h0m23.2 .1h0m-39.9 .3h0m-1.1 .2h0m3.7 .8h0m28.1 .2h0m-33.4 .2h0m43.8 0h0m-39.7 .3h0m38.8 .6h0m-42.6 .1h0m34.3 .3h0m-5.8 1.3h0m11.3 .2h0m-.6 2.8h0m-38.7 .5h0m24.7 .1h0m-12.9 .1h0m-2.6 1.2h0m13.9 1.4h0m-16.3 1.1h0m2.4 0h0m36.3 .1h0m-41.4 .9h0m18.6 .4h0m-18.7 .3h0m14.5 .2h0m24.3 .2h0m1.4 .1h0m-37.4 .3h0m9.5 .1h0m-2.5 .2h0m-5.6 .3h0m31 .8h0m-32.1 .4h0m2.1 0h0m10.2 .5h0m-8.6 .6h0m10.3 .1h0m-13.6 .3h0m25.6 .5h0m-10 .3h0m-9.2 .1h0m24.1 0h0m-24.5 .3h0m12.6 .4h0m-3.8 .2h0m-5.4 .2h0m2.6 .3h0m-4.6 .4h0m7.8 .2h0m10 .2h0m-13.9 .5h0m5.6 1.2h0m-11.5 .1h0m24.2 .2h0m-22.8 .1h0m2.4 .3h0m18.7 1.2h0m-23.4 .5h0m3.9 .2h0m-3.3 .9h0m5.6 1.1h0m8.2 .5h0m1.9 .1h0m-2.5 .6h0m.8 .1h0m7.5 .6h0" stroke="#ff7d2c" stroke-width="0.94" stroke-linecap="round" fill="none"/>
</g>
<rect x="121" y="159.6" width="11.4" height="1.1" fill="#fff"/>
<g clip-path="url(#cb23)"><clipPath id="cb23"><rect x="137" y="124.8" width="52.2" height="39.4"/></clipPath>
<rect x="137" y="124.8" width="52.2" height="39.4" fill="#060503"/>
<g filter="url(#b10)">
<path d="M170.5 125.5h0m-10 .4h0m-20.6 .3h0m5.3 0h0m4.6 3.1h0m11 .5h0m6.9 .1h0m-11.7 1h0m-10.2 .1h0m8.5 .4h0m1.5 .2h0m33.2 .3h0m-50.6 .2h0m43.3 .5h0m-33.1 .1h0m15.2 .1h0m-14.6 .3h0m16.6 .2h0m-3 .3h0m-24.6 .5h0m32.9 .2h0m3.7 .3h0m-21.4 .4h0m-5.9 .3h0m31 0h0m-29.3 .2h0m-4.3 .4h0m18.1 0h0m-6.6 .6h0m29.9 .1h0m-15.3 .6h0m-33.3 .6h0m49.6 .3h0m-.7 .4h0m-43.1 .2h0m35.8 .5h0m7.3 .4h0m-43.4 1h0m33.6 .3h0m-38 .1h0m6 .2h0m13.7 .3h0m15 0h0m-33 .6h0m43 .1h0m-43.2 .3h0m45.7 .5h0m-16.5 .2h0m19.1 .2h0m-4.4 .5h0m-42.6 .5h0m21.7 .4h0m11.8 .4h0m10.8 .5h0m-.9 .1h0m-10.7 1.4h0m-20 .5h0m27.2 .3h0m2 .2h0m1.3 .3h0m1.8 .5h0m-18.8 .5h0m17.3 .5h0m-24.6 .8h0m25.8 1.3h0m.5 .1h0m-3.7 .1h0m-12.3 .2h0m-13.2 2.7h0m22.1 0h0m-.6 .4h0m-12.6 .3h0m4.7 .4h0m-2.4 2.1h0m10.8 0h0m9.3 .1h0m-17 2.1h0m-14.4 .4h0m22.6 0h0m-2.5 .5h0m7.7 .4h0m-31.4 .3h0m20.2 .2h0m-4.7 .1h0m9.1 .5h0" stroke="#1c8a1e" stroke-width="2.4" stroke-linecap="round" fill="none" stroke-opacity="0.15"/>
<path d="M148.8 125.3h0m1 2.5h0m37.5 .1h0m-28.9 .4h0m-.8 .4h0m7.4 .1h0m12.4 .1h0m-3.2 .7h0m-16.2 .4h0m2.8 0h0m-1.5 .2h0m18.5 .1h0m-16.8 .2h0m0 0h0m2.9 .6h0m1.4 .2h0m-4.5 .2h0m-11.1 .1h0m29.2 0h0m.9 .1h0m-22.7 .1h0m3.1 0h0m-.8 .1h0m3 .5h0m7.6 0h0m4.5 1h0m-36.7 .4h0m17.7 .3h0m-3.1 .3h0m24.6 .6h0m-11.7 .2h0m-.4 .1h0m10.8 .1h0m-20 .3h0m5.9 0h0m-16.5 .1h0m.8 .1h0m15.3 .2h0m3.5 .4h0m-16.6 .2h0m5.8 .2h0m16.6 .1h0m-21.5 .3h0m30.4 .1h0m-33.4 .1h0m20.5 0h0m9 .6h0m-13.3 .2h0m-24.7 1.5h0m35.3 .1h0m5.5 .3h0m-12.6 .1h0m-16.1 .3h0m8.4 .3h0m-2.4 .3h0m-2.1 .3h0m-.1 .8h0m6.4 .2h0m-1.5 .7h0m-6 .4h0m1.5 .2h0m16 .1h0m-16.6 .3h0m27.1 .1h0m-21.5 .2h0m26.5 0h0m-37.2 .3h0m34.1 .9h0m-15.9 .4h0m22.7 .2h0m-31.6 .4h0m-18.2 .5h0m10.8 .1h0m1.2 .2h0m-4.2 .2h0m18.4 .2h0m7.1 .1h0m-34.4 .1h0m16.3 0h0m13.5 .1h0m-16.8 .1h0m20.9 .2h0m-34.1 .4h0m36.2 .4h0m-29.2 .6h0m2.8 0h0m9.2 0h0m-1.1 .2h0m19.4 0h0m4.9 .1h0m-4.8 .1h0m-23.8 .3h0m31.2 0h0m-5.4 .1h0m-14.8 .2h0m2.2 0h0m-16.7 .3h0m13 0h0m18.2 .3h0m-11.9 .3h0m5.2 .1h0m-5.4 .3h0m-19.9 .2h0m8 .6h0m28.6 0h0m-38.1 .2h0m31.7 0h0m1 .2h0m-4.8 .3h0m-25.3 .1h0m-8.7 .3h0m35.5 .1h0m10.8 0h0m-43.3 .1h0m26.8 .1h0m11.6 0h0m-30.3 .1h0m.8 .2h0m3.8 .1h0m21.8 0h0m-3.6 .1h0m8.5 0h0m-30.8 .1h0m-11.9 .4h0m35.8 0h0m-30.5 .3h0m-4.2 .5h0m39.9 0h0m1.4 .4h0m-23 .3h0m21.1 .1h0m-13.8 .4h0m-21.4 1h0m9.6 .3h0m31.1 .1h0m-45.4 .1h0m11.9 0h0m.7 .1h0m26.1 .3h0m-34.9 .2h0m14.9 .2h0m24.3 .2h0m-15.4 .5h0m-17.1 .1h0m28.3 0h0m1.5 .6h0m-35.6 1h0m2.8 .6h0m-8.4 .1h0m35.1 .4h0" stroke="#c23a08" stroke-width="2.64" stroke-linecap="round" fill="none" stroke-opacity="0.17"/>
</g>
<path d="M165.8 124.9h0m-7.2 .2h0m19.5 0h0m-7.6 .4h0m-25.3 .7h0m-1.2 .2h0m-1.2 .4h0m-3 .3h0m4.9 .1h0m20.1 .1h0m14.7 .7h0m-12.9 .1h0m-5.3 .1h0m-14.9 .1h0m3.4 .2h0m5 1.1h0m-14.7 .2h0m20.4 .9h0m-14.7 .3h0m28.6 .3h0m-27.8 .1h0m-4.8 .1h0m14 .1h0m11.4 .4h0m-14.1 .3h0m-4.5 .4h0m25.5 0h0m-28.3 .2h0m3.4 .2h0m-4.2 .1h0m17.8 .4h0m-24.6 .5h0m13.4 .2h0m9.8 .1h0m13.4 .2h0m-28.2 .3h0m.9 .4h0m31 0h0m-29.3 .2h0m5.5 .3h0m8.3 .1h0m-16.2 .2h0m5 0h0m23.2 .1h0m-18.6 .3h0m29.9 .1h0m-35.2 .1h0m.8 .3h0m36.7 0h0m-13.7 .7h0m-37.2 .1h0m49.6 .3h0m-5.7 .1h0m5 .3h0m-45.5 .3h0m9.5 .1h0m-11.6 .4h0m35.7 .2h0m-31.5 1.1h0m41.8 .5h0m-40.2 .1h0m27.2 0h0m14.7 .1h0m-27.5 .3h0m-17.3 .1h0m-.4 .5h0m26.1 .1h0m15.5 .4h0m-13.6 .5h0m-30.6 .5h0m1.1 .7h0m1.6 0h0m-4.6 .3h0m48 1.1h0m-.6 .3h0m-33.7 .2h0m34.7 1.1h0m.6 .1h0m-5.9 .1h0m-6.7 .1h0m-4.4 4.2h0m16.1 0h0m-32.5 .5h0m18.2 .1h0m6.4 .4h0m7.9 .1h0m-28.2 .2h0m13.8 .1h0m-17.3 .1h0m1.3 2.6h0m9.4 1.5h0m-.5 .3h0m-6.8 .5h0m7.3 .2h0m-21.1 1.7h0m8.3 0h0m9.4 0h0m-7.1 .1h0m10.3 .2h0m8 .1h0m-5.9 .2h0m12.3 .2h0m-31.2 .5h0m23.2 0h0m7.3 0h0m4.4 0h0m3.3 .4h0m-31.4 .3h0m15.5 .3h0m-6.4 .2h0m18.3 .5h0m-17.1 .2h0m16 .6h0" stroke="#17701a" stroke-width="1.1" stroke-linecap="round" fill="none" stroke-opacity="0.45"/>
<path d="M175 125h0m-1.9 .2h0m-14.8 .1h0m-19.8 .2h0m13.4 0h0m-1.2 .1h0m32.3 0h0m-28.7 .3h0m32.2 1.8h0m-12 .3h0m6 .1h0m-30.7 1.2h0m6 .1h0m-14.2 .4h0m26.1 .1h0m3 0h0m-10.2 .2h0m-20.1 .2h0m-.5 .2h0m-.1 .2h0m8.8 .2h0m21.4 .1h0m-.5 .1h0m5.1 .3h0m1.4 0h0m-31 .3h0m11.3 0h0m32.7 .7h0m-16.1 .1h0m-13.6 .1h0m22.3 .1h0m-38.4 .8h0m5 .4h0m22.9 .4h0m-18.1 .5h0m.4 .2h0m1.6 .1h0m-9.6 .2h0m-3.1 .5h0m3.8 0h0m22.5 .5h0m10.4 .2h0m-38.5 .6h0m31.8 1.3h0m-28.8 .3h0m35.8 .5h0m-2.9 .1h0m10.2 .3h0m-1.7 .5h0m-46.1 .3h0m38 .5h0m-38 .1h0m19.7 .5h0m18.3 .1h0m6.7 .6h0m-41.6 .6h0m42.4 0h0m1.7 .2h0m.1 0h0m-43.7 .1h0m36.4 .2h0m9.8 .1h0m-45.8 .1h0m41.4 .4h0m-16.9 .1h0m15.5 .2h0m1 1h0m-.1 .3h0m-44.1 .1h0m-1 .1h0m46.1 0h0m1.2 0h0m1.4 1.1h0m-8.9 .2h0m7.9 0h0m-29.4 .5h0m23.9 0h0m-26.5 .2h0m-16 .3h0m43.2 0h0m2 .2h0m-.6 .1h0m1.9 .2h0m-17 1h0m13.8 .2h0m-19.2 .3h0m4.6 0h0m18.1 0h0m-15.4 .1h0m11.9 1.3h0m-22.8 .1h0m-20.9 .1h0m45.2 .7h0m-11.7 1.5h0m-13.8 1.4h0m-3.1 .6h0m16.7 .5h0m-28.4 .6h0m36.3 1h0m-6.8 .3h0m-3.5 .2h0m10.8 0h0m-8.3 1.7h0m5.1 .2h0m-3 .1h0m1.1 .9h0m7.4 .1h0m-13.2 .1h0m5.4 .9h0m-9.2 .5h0m13.6 .1h0m-9.1 .5h0m-10 .3h0" stroke="#25a027" stroke-width="0.75" stroke-linecap="round" fill="none" stroke-opacity="0.78"/>
<path d="M185.6 125.1h0m-44.2 .4h0m8.4 .2h0m23.8 0h0m14.1 0h0m-27.2 .2h0m-20.6 .3h0m-2.5 1.6h0m5.7 .1h0m10.4 0h0m21.3 .6h0m-32.3 .6h0m8.5 .1h0m5.6 0h0m-2.2 .2h0m-11.4 .2h0m17.8 .2h0m-12.4 .4h0m7.6 .7h0m-1.7 .5h0m34.7 .5h0m-50.6 .2h0m13.9 0h0m29.4 .5h0m-17.9 .2h0m-22.6 .1h0m21.5 .2h0m3.1 .2h0m-10.5 .6h0m18.2 .1h0m-18.1 .3h0m-11.5 .3h0m27.7 .3h0m-29.2 .1h0m42.3 .2h0m-39.8 .7h0m4.8 .2h0m27.1 .5h0m-1.1 .4h0m-4.7 .2h0m-27.1 .2h0m44.7 .3h0m-47.2 2.3h0m29.9 .1h0m-9.2 .2h0m5.1 0h0m9.5 0h0m8.2 .3h0m-44.8 .7h0m18.3 .2h0m15.1 0h0m12.3 .3h0m1 0h0m-46.3 .3h0m46.1 .1h0m-46.3 .3h0m40.2 .1h0m-34.7 .8h0m3.1 .6h0m38.3 .7h0m-23.9 .1h0m20.6 .3h0m-8.8 .1h0m-8.4 .3h0m14.7 .7h0m-25.8 .4h0m18.7 .6h0m0 0h0m13.7 1h0m-2.7 .2h0m-3.2 .1h0m2.6 .1h0m-19.7 .2h0m21.6 .2h0m.2 .5h0m-33.8 .3h0m6.2 .3h0m5.9 .6h0m-4.6 .1h0m26 .2h0m-49.3 .4h0m45 .3h0m2.3 .1h0m1.8 .3h0m.5 .1h0m-1.9 .7h0m-25.5 .5h0m.1 .8h0m25.9 .2h0m-12.7 .6h0m-10.4 .1h0m17.4 .1h0m-.6 .4h0m-19.4 .2h0m4.4 .1h0m2.4 0h0m-8.8 1.3h0m27.5 .7h0m-26.1 .5h0m29.8 .1h0m-40.6 .6h0m8.3 0h0m24.8 .2h0m-13.4 .2h0m-28.1 1h0m22.7 .3h0m-5.1 .2h0m22.6 0h0m-23.1 .5h0m-10.9 .3h0m41.8 .2h0m-35.7 .8h0m22.1 .1h0m-16.7 1.1h0" stroke="#42cc3c" stroke-width="0.5" stroke-linecap="round" fill="none" stroke-opacity="0.85"/>
<path d="M148.8 125.3h0m-2.3 1h0m6 .2h0m22.6 .7h0m12.2 .7h0m-36.9 .5h0m27.4 .3h0m-9.8 .3h0m-6.5 .5h0m-17.2 .1h0m11.4 0h0m5.1 .1h0m.6 .1h0m-2 .4h0m18.4 .1h0m-16.3 .1h0m7.9 0h0m-8.4 .1h0m-13.4 .1h0m34.2 .4h0m-17.9 .1h0m-18.7 .3h0m13.9 .1h0m-9.4 .1h0m30.1 .1h0m-27.5 .1h0m2.8 .2h0m6.3 .4h0m8.6 0h0m-23.4 .2h0m18.6 .5h0m-3.7 .2h0m-14.1 .1h0m32.6 1.7h0m-27.5 .6h0m23 0h0m-14.3 .4h0m-.7 .1h0m-13.7 .4h0m5.1 0h0m15.6 0h0m3.4 .1h0m-.4 .3h0m-17.1 .3h0m3.8 0h0m3 0h0m8.7 0h0m-22.9 .2h0m4.3 0h0m19.7 .5h0m-7.8 .3h0m-17.7 .1h0m33.8 1.8h0m-12.6 .1h0m-7.7 .6h0m8.8 .3h0m-17.2 .1h0m1.3 0h0m-7 .1h0m9.6 .1h0m11.3 0h0m-2 .5h0m23.5 .3h0m-33.5 .8h0m.9 .2h0m24.9 1.4h0m-30.5 .1h0m7.7 0h0m-12.4 .1h0m16.6 0h0m24.1 .3h0m-23.4 .1h0m-6.9 .7h0m13.1 0h0m-.6 .1h0m-22 .1h0m8.5 .9h0m4.8 .2h0m-5 .5h0m17.7 .3h0m-2.4 .1h0m-16.8 .1h0m-13.2 .6h0m31.7 .2h0m-10.3 .6h0m20.7 0h0m3.9 0h0m-39 .2h0m12 0h0m18.3 .2h0m-1.5 .1h0m-25.8 .2h0m5.7 .1h0m23.7 .2h0m.7 0h0m-30 .5h0m6.5 .5h0m18.8 0h0m-23.2 .2h0m-11.7 .2h0m28.7 .1h0m-16.9 .2h0m-1 .2h0m-6.2 .2h0m29.4 .1h0m15.8 .2h0m-9.8 .3h0m-7.3 .1h0m2.5 .2h0m-25.3 .1h0m7.7 .3h0m6 0h0m20.1 0h0m-7 .1h0m-21.7 .2h0m27.6 0h0m-30.3 .1h0m-7.9 .1h0m34.4 .1h0m-11.9 .2h0m-20.9 .1h0m35 0h0m-17.5 .1h0m-9.5 .2h0m-4.8 .1h0m-8 .3h0m11 0h0m4.2 .1h0m-8.2 .3h0m30.4 0h0m4.9 .4h0m5.7 0h0m-39.3 .5h0m31.5 0h0m3.9 .7h0m-39.4 .5h0m9.9 .5h0m32.6 .4h0m-8.2 .2h0m1.2 0h0m-21.2 .4h0m25 .4h0m-35.6 .4h0m1.1 0h0m25 .1h0m-23.9 .6h0m-3.1 .8h0m35.8 0h0m-43.9 .8h0m9.2 1.3h0" stroke="#a33008" stroke-width="1.65" stroke-linecap="round" fill="none" stroke-opacity="0.55"/>
<path d="M183.4 125.6h0m-40.8 1.5h0m30.2 .2h0m-29 .4h0m30.5 .2h0m-13.5 .9h0m16.6 .1h0m-21.8 .2h0m-2.1 1.1h0m5.8 0h0m-7 .3h0m-.7 .5h0m-5 .1h0m30 0h0m-22.5 .1h0m11.2 .1h0m-4.5 .2h0m13.3 0h0m10 .1h0m-23.9 .2h0m2.1 0h0m-2.9 .1h0m7 0h0m-4.7 .2h0m2.3 .3h0m1.1 .1h0m3 .1h0m-7.7 .1h0m11.3 .3h0m-16.4 .1h0m-4.7 .3h0m23.9 0h0m-4.7 .4h0m-14.3 .3h0m1 0h0m12.2 .1h0m-10.8 .4h0m-3.1 .1h0m-7.9 .3h0m30.1 0h0m-24 .3h0m-1.4 .1h0m2.8 0h0m1.3 .3h0m-10.6 .1h0m25.2 .1h0m-12.7 .4h0m-7.2 .2h0m14.3 0h0m-10.8 .4h0m4.6 .1h0m14.4 0h0m-28.4 .6h0m-.3 .3h0m36.4 .1h0m-5.1 .1h0m-20.6 .1h0m8 .2h0m-6.9 1.5h0m4.1 .1h0m-9.2 .5h0m4.7 .7h0m23.2 .5h0m-3.5 .2h0m-7.9 .5h0m-4.9 .1h0m-8.4 .3h0m-9.6 .3h0m9.5 .3h0m19.8 0h0m-21.5 .2h0m3.6 .2h0m-6.5 .4h0m3.8 0h0m.8 0h0m4.8 .3h0m26.5 0h0m-17 .4h0m14.3 0h0m-25.6 .2h0m-11.9 .2h0m37.1 .4h0m-22.3 .2h0m13 .3h0m-22.9 1.1h0m8.6 .3h0m12.4 .1h0m14.8 .1h0m-31.4 .1h0m11 0h0m6.6 .6h0m-20.5 .6h0m.9 0h0m6.9 .1h0m8.8 .3h0m-12.3 .6h0m-4.3 .5h0m-9.2 .5h0m18.7 .1h0m18.2 .3h0m-11.9 .3h0m9.2 .1h0m-13.3 .3h0m-3.9 .8h0m3.2 .1h0m14.9 .1h0m-10.1 .2h0m6.4 .1h0m-.1 .1h0m12.8 .3h0m-48.6 .1h0m10.2 .3h0m-6.9 .1h0m38.1 .1h0m8.7 .3h0m-14.4 .1h0m-22.3 .1h0m25.4 .1h0m4.8 .3h0m-34.7 .1h0m25.7 .2h0m13.6 0h0m-33.9 .2h0m-.4 .1h0m4.1 .1h0m25.9 .5h0m-32.9 .3h0m9.9 0h0m-17.2 .3h0m40.3 .1h0m-44.1 .1h0m28.3 0h0m-18.6 .5h0m41.1 .2h0m-39 .2h0m12.5 0h0m18.8 .4h0m-33.1 .1h0m34.8 0h0m-30 .2h0m-13.2 .4h0m2.1 .2h0m17.7 .2h0m23.8 .1h0m-15.4 .5h0m-8.1 1.2h0m-12 .1h0m.5 .4h0m26 .9h0m-29.5 .2h0" stroke="#e8450c" stroke-width="1.16" stroke-linecap="round" fill="none" stroke-opacity="0.95"/>
<path d="M170.7 125.5h0m-10 2h0m7.2 0h0m-18.1 .3h0m1.9 .3h0m32.7 0h0m-29.7 .6h0m2.9 0h0m-5.3 .1h0m12.7 0h0m11.9 .4h0m-2.7 .4h0m-12.1 1h0m-13.7 .2h0m5.9 .2h0m4.8 .1h0m-5.1 .3h0m5.4 .2h0m19.5 0h0m-21.8 .2h0m5.3 .6h0m1.5 0h0m6.5 .3h0m.3 .2h0m-20.6 .2h0m4.3 .5h0m-4.7 .1h0m9.2 .1h0m4 0h0m1.8 0h0m4.2 .1h0m-20.6 .4h0m4.1 .1h0m7.4 .2h0m2.2 0h0m7.5 0h0m-4.6 .7h0m-4.4 .1h0m15.2 0h0m4.4 0h0m-23.2 .3h0m4.7 0h0m-15.7 .2h0m9.9 .2h0m6 .2h0m-13.7 .4h0m12.1 .3h0m19.2 .4h0m-30.9 .2h0m5.5 1h0m19.2 1.4h0m-31.6 .5h0m8 .1h0m27.4 .1h0m-33.6 .3h0m7.3 0h0m.4 .1h0m16.8 1h0m11.8 0h0m-26.3 .2h0m-8.4 1.2h0m-2.4 .2h0m21.1 .2h0m14.6 .3h0m-15.5 .3h0m9.8 0h0m-19.1 .3h0m21.4 .4h0m-17 .1h0m1.7 0h0m-2 .9h0m31.4 .1h0m-40 .6h0m28.7 0h0m-14.3 .1h0m-12.2 .5h0m29.8 0h0m-34 .2h0m32.8 .1h0m-25.4 .3h0m-1.6 1.1h0m21.3 .1h0m-11.8 .3h0m17.6 .1h0m2.8 0h0m-35 .2h0m10.4 0h0m-12.2 .2h0m2.6 .1h0m17.8 .2h0m12.7 0h0m3.7 .2h0m-34.8 .1h0m28.1 .1h0m-11.3 .1h0m18.5 .1h0m-23.1 .2h0m26.2 .1h0m-48.4 .3h0m6.7 .3h0m8.5 0h0m19.4 0h0m10.1 0h0m-3.6 .3h0m-19.7 .1h0m-12.1 .1h0m8.6 0h0m28 .6h0m3.1 0h0m-11.1 .3h0m-33.1 .7h0m-1.3 .2h0m44.5 0h0m-11.3 .2h0m-28.2 .2h0m5.1 .1h0m25.6 .1h0m4.9 .1h0m-31.6 .1h0m30.4 0h0m2 .2h0m-37.8 .1h0m-5.7 .1h0m5.3 .3h0m21.5 0h0m13.5 .2h0m-36.4 .2h0m-2.8 .1h0m35.8 .1h0m-5 .2h0m-2.9 .2h0m-1.3 .3h0m-24.9 .4h0m1.7 0h0m26.4 .1h0m-30.9 .4h0m45.3 .3h0m-40 .2h0m7.5 .2h0m22.6 .1h0m-18.1 .1h0m-4.8 .1h0m12.5 1.6h0m6.1 1.5h0m-15.6 .1h0m-15.9 .2h0m8.5 .4h0m36.4 .4h0m-9.7 .1h0m-28.2 .8h0" stroke="#ff5a14" stroke-width="0.88" stroke-linecap="round" fill="none"/>
<path d="M170.2 125.2h0m-11.8 .5h0m26.1 .7h0m1.1 0h0m-38.2 .1h0m11 1.8h0m3 0h0m-16 .8h0m36.3 .1h0m-1.5 .1h0m-26 .7h0m3.8 0h0m2.8 0h0m5.9 .1h0m-18.4 .3h0m12.7 .1h0m-4.3 .2h0m-3.4 .6h0m3.5 .7h0m-.7 .4h0m-2.9 .1h0m0 .1h0m2.4 0h0m12.9 0h0m-15.6 .2h0m19.3 .2h0m1.5 .1h0m-11.2 .1h0m-11.5 .3h0m4.7 .2h0m-17.9 .1h0m22 .2h0m5.2 .3h0m.6 .2h0m-17.4 .1h0m10 .2h0m12.4 .2h0m-12.6 .1h0m7.3 .1h0m4.9 .2h0m-17 .8h0m1 .1h0m4.6 0h0m4.7 .2h0m2.6 .4h0m-17.1 .4h0m17.5 .2h0m2 .5h0m4.7 .2h0m12.1 .4h0m-41 .1h0m32 .2h0m-38.8 .9h0m35.3 .1h0m8.2 .5h0m-24 .4h0m2.2 1.2h0m-.2 .4h0m.8 .1h0m-9 .1h0m9.9 .1h0m-4.6 .1h0m8.3 0h0m-6.6 .1h0m.5 .3h0m4.4 .1h0m.9 .1h0m-12.4 .2h0m22.6 .1h0m-20 .1h0m16 .1h0m-12.1 .2h0m22.6 .2h0m-.8 .4h0m-.5 .4h0m-12.3 .2h0m13.6 .5h0m-6.3 .1h0m-24.1 .1h0m22.9 .2h0m-27.4 .2h0m11.8 .1h0m.2 .2h0m-18.2 .5h0m28.3 0h0m17.4 .7h0m-12.4 .1h0m-34.4 .1h0m9.6 .4h0m14.8 .1h0m-9.2 .4h0m-7.5 .1h0m11.2 0h0m-18 .7h0m15 .3h0m18.6 .1h0m5.1 0h0m2.4 0h0m-4.8 .1h0m-2 .4h0m5.4 .1h0m-18.3 .1h0m2.1 0h0m23.5 .1h0m-27.7 .1h0m23.2 .2h0m2.9 .1h0m-35 .2h0m13.2 .2h0m10.8 .6h0m-25.8 .1h0m-2.9 .3h0m10.5 .2h0m-9.5 .2h0m-.6 .3h0m39.6 .1h0m-45.1 .5h0m3 .2h0m26.8 .1h0m5.1 .2h0m-19.2 .2h0m-2.5 .1h0m13.7 0h0m-18 .4h0m26.6 .1h0m5.1 .3h0m-37.5 .2h0m8.3 .3h0m29.3 0h0m-4.6 .1h0m-31.7 .1h0m44.7 .4h0m-43.3 .7h0m39.9 1.3h0m-45.4 .1h0m3.8 .6h0m20.6 .7h0m-13.9 .3h0m24.2 0h0m4.1 0h0m8.8 .1h0m-49.7 .2h0m38.9 0h0m-34.5 .1h0m23.5 .2h0m14.5 0h0m-35.6 1h0m25.1 .1h0m-20.7 .2h0m10.4 1.6h0" stroke="#ff7d2c" stroke-width="0.61" stroke-linecap="round" fill="none"/>
</g>
<rect x="173.5" y="159.6" width="11.4" height="1.1" fill="#fff"/>
<g clip-path="url(#cb24)"><clipPath id="cb24"><rect x="190.2" y="124.8" width="52.2" height="39.4"/></clipPath>
<rect x="190.2" y="124.8" width="52.2" height="39.4" fill="#060503"/>
<g filter="url(#b10)">
<path d="M201.3 125.3h0m18.9 0h0m-17.5 .1h0m30.2 .1h0m-26.1 .2h0m-12.8 .6h0m29 .1h0m-10.8 .4h0m4.2 0h0m-19.8 .1h0m31.1 .3h0m-31.8 .1h0m8.7 .1h0m-11.5 .1h0m38.8 .2h0m-9.9 .1h0m5.9 0h0m-28.3 .1h0m26 0h0m-23.9 .6h0m14.6 1.4h0m23.9 .2h0m-35.7 .4h0m-9.9 .1h0m27.4 .5h0m-16.5 .4h0m-4.6 .2h0m-7.5 .5h0m29.1 .4h0m-24.1 .2h0m-7.5 .5h0m9.3 .2h0m37.4 0h0m-15 .5h0m-20.6 .5h0m37.5 0h0m-21 1.6h0m1 .2h0m-21.1 .5h0m44 .3h0m-23.6 .5h0m22.8 0h0m-26.6 .4h0m15.3 .3h0m-3.2 .8h0m-16.9 .2h0m28.7 .5h0m-41.4 .1h0m12.8 .1h0m14.9 .8h0m13.2 .5h0m-.6 .4h0m1 .1h0m1.4 .2h0m-27.1 .4h0m24.8 .9h0m4.2 0h0m-1.5 5.3h0m-2 .5h0m0 .3h0m-12.9 .3h0m13.6 .8h0m-43.8 .4h0m44.1 .8h0m1.1 0h0m-.8 .7h0m-3 1.4h0m-.3 2.1h0m-3.8 3.7h0m-40.7 .6h0m.7 1.4h0m41.1 .1h0m-25.1 .4h0m-4 .2h0m13.1 .1h0" stroke="#1c8a1e" stroke-width="2.4" stroke-linecap="round" fill="none" stroke-opacity="0.15"/>
<path d="M194.3 125.9h0m12.5 1.4h0m19.7 .6h0m15.6 1.1h0m-8.3 1h0m-11.8 .2h0m6.8 1.3h0m3.8 0h0m8.1 .4h0m-12.8 3.5h0m-4.1 .6h0m11.7 .1h0m-39.7 .5h0m33.6 1.8h0m-34.9 1.4h0m1.5 0h0m-2 1.1h0m-.1 .3h0m1.2 0h0m7.8 .3h0m26.5 .1h0m-30.4 .1h0m-1.6 .5h0m-2.5 .2h0m37.7 0h0m-1.7 .4h0m9 0h0m-11.8 .4h0m9.7 .4h0m-44.8 .2h0m4.1 0h0m26.3 .7h0m8.8 .2h0m-36 .1h0m35 0h0m-31.5 .1h0m4.6 0h0m28 0h0m-38.2 .1h0m35.1 .1h0m-27.9 .3h0m30.7 .1h0m-37.6 .2h0m4.4 0h0m-3.5 .1h0m2 .1h0m4.9 0h0m31.6 .1h0m-41.7 .4h0m12.8 .1h0m-10.4 .1h0m.6 0h0m32.6 0h0m-32.9 .2h0m36.4 .4h0m7.6 .5h0m-11.4 .4h0m-23.4 .1h0m-10.5 .2h0m2.1 .1h0m8.5 0h0m-5.1 .1h0m-.8 .3h0m39.4 0h0m-35.4 .3h0m19 1h0m1.1 .2h0m1.8 .4h0m6.3 .8h0m-5.9 .5h0m15.1 0h0m-15.8 .2h0m9.1 .1h0m-39.4 .2h0m37.5 .1h0m-17.1 .9h0m9.8 0h0m9.2 .1h0m-3.5 .1h0m-5.9 .5h0m.8 .8h0m-10.9 .4h0m-9.5 .3h0m5.6 .2h0m26 .7h0m-17.1 .2h0m13.3 .1h0m-4.1 .1h0m-29.4 .2h0m18.8 0h0m22.2 .8h0m-21.6 .1h0m-6.6 .1h0m21.9 1.1h0m-11.8 .1h0m2.4 .3h0m-9 .1h0m-13.1 .6h0m5.3 .2h0m-5.9 .2h0m21.2 0h0m2.5 .1h0m1.7 .3h0m-5.4 .2h0m13.1 .3h0m-35.2 .2h0m12.6 .5h0m6.2 0h0" stroke="#c23a08" stroke-width="2.76" stroke-linecap="round" fill="none" stroke-opacity="0.17"/>
</g>
<path d="M218.4 124.8h0m-17.6 .2h0m.5 .3h0m8.9 .1h0m2.7 .3h0m-18.4 .7h0m17.7 .4h0m4.2 0h0m13.3 .1h0m-33.8 .4h0m41.6 .3h0m-37.4 .2h0m21.7 .1h0m3.8 0h0m-24.4 .1h0m12.4 .2h0m-10.7 .2h0m3.9 0h0m6.7 0h0m15.4 0h0m-5.2 .2h0m-28.4 .4h0m29.4 0h0m-21.7 .1h0m36.6 .5h0m-10.3 .1h0m10.9 .4h0m-.6 .4h0m-45 .1h0m17.2 .6h0m18.6 .2h0m-24.9 .1h0m19.3 0h0m-29.1 .5h0m33.9 0h0m-36.2 .2h0m14.8 .4h0m-17.3 .7h0m44 .1h0m-41.8 .3h0m20.1 .2h0m9.4 .1h0m-31.4 .2h0m48.3 .3h0m-16.5 .4h0m-21.7 .1h0m14.5 0h0m-21.5 .2h0m45.7 .7h0m-20.5 .4h0m-24.4 .2h0m18 .8h0m23.9 .2h0m-14.6 .3h0m-27.7 .6h0m40.5 .1h0m.7 1h0m.1 .1h0m-20.5 .7h0m-9.2 1.2h0m1.9 .2h0m4.9 .7h0m26.2 .4h0m-45.1 .1h0m43.7 .4h0m-1.3 .6h0m2.3 1.2h0m-35.9 .4h0m34.7 0h0m-16.5 .4h0m.8 .8h0m-20.8 1.9h0m22.4 .1h0m2.2 0h0m-20 .2h0m32.8 .5h0m-12.9 .3h0m15 2h0m-1.3 .2h0m.5 .5h0m1 .5h0m-34.7 .1h0m33 .1h0m1.1 .1h0m-32.4 .2h0m29 .4h0m-2.9 .8h0m-22.3 .1h0m24.9 1.2h0m2.2 1.1h0m-14.1 .3h0m-33.8 .3h0m28.2 .1h0m13.7 1.9h0m-40.7 .6h0m5.7 1.1h0m-5 .3h0m25.4 .5h0m4.2 .1h0m-17.6 .1h0" stroke="#17701a" stroke-width="1.1" stroke-linecap="round" fill="none" stroke-opacity="0.45"/>
<path d="M215.6 125h0m-12.9 .4h0m30.2 .1h0m-38.9 .8h0m27.4 0h0m1.6 .1h0m-26.4 .5h0m16.4 0h0m14.7 .3h0m-36.2 .1h0m26.8 .2h0m-18 .2h0m2.6 0h0m14.7 .1h0m10.3 0h0m-28.3 .1h0m5.3 .3h0m16.4 0h0m19.6 0h0m-46.7 .1h0m7.5 .2h0m30.4 .7h0m-28.3 .7h0m12.5 0h0m-23.3 .2h0m13.4 1h0m15.6 0h0m17.6 .1h0m-37.4 .4h0m-5.9 .2h0m29.9 0h0m5.5 .2h0m-34.6 .2h0m5 .1h0m19.7 .3h0m12.8 0h0m-33.3 .1h0m-2.9 .1h0m2.9 .3h0m20.8 0h0m-1.2 .1h0m14.6 0h0m-35.3 .3h0m37.4 0h0m-6.6 .7h0m-12.4 .1h0m-24.4 .1h0m41.4 1.3h0m-45 .6h0m.6 .2h0m5.4 .1h0m23.9 0h0m-2.8 .1h0m-22.3 .8h0m46.2 .1h0m-23.7 .1h0m-1.1 .3h0m-1 .2h0m14.5 .1h0m-37.6 .6h0m5.5 0h0m43.6 .3h0m-2.7 .3h0m-.2 .3h0m-28.6 .2h0m-16.1 .3h0m23.1 .3h0m-21.9 .6h0m43 .1h0m-.6 .4h0m-41.6 1h0m18.8 .9h0m25 .1h0m-24.5 .1h0m23.5 .2h0m-14.1 .2h0m-10.7 .3h0m11.1 .4h0m6.8 .3h0m-11.9 .3h0m1.3 1h0m8.6 0h0m3.4 .3h0m5.8 1.5h0m.3 0h0m-.3 2.2h0m3 .3h0m-46.8 .1h0m40.5 .3h0m3.6 .5h0m-1.9 .1h0m-.7 .7h0m-46.7 1h0m31.6 0h0m15.8 2.2h0m-18.5 5.4h0m14.7 .6h0m-25.1 .4h0m27.1 .9h0m-27.8 1h0" stroke="#25a027" stroke-width="0.75" stroke-linecap="round" fill="none" stroke-opacity="0.78"/>
<path d="M220.2 125.3h0m-13.4 .4h0m20.6 .3h0m-30.9 .1h0m43.7 .7h0m-49.1 .4h0m9.5 0h0m4 .2h0m-11.5 .1h0m38.9 0h0m-23.9 .1h0m23.8 .1h0m-9.9 .1h0m-10 .5h0m19.8 .1h0m-39.9 1.2h0m11.8 0h0m14.1 .2h0m-12.1 .2h0m-12.9 .1h0m9.9 0h0m17.4 .2h0m-15.6 .2h0m-1 .4h0m12 .5h0m-2.8 .1h0m24.2 .1h0m-36 .1h0m27.5 .2h0m-30.7 .2h0m.6 0h0m-1 .3h0m-.6 .2h0m25.8 0h0m-29.9 .1h0m8.3 0h0m20.1 0h0m-24.8 1.1h0m16.4 0h0m-15.9 .2h0m.3 .2h0m-3.1 .1h0m8.1 .2h0m31.4 .5h0m-11.9 .7h0m-3 .4h0m-23.3 .4h0m25.7 .1h0m-22.5 .2h0m44 .3h0m-48.4 .2h0m24.8 .3h0m18.5 .3h0m-22.3 .1h0m13.8 .6h0m-1.7 .5h0m-16.9 .2h0m5.3 0h0m22.9 .5h0m-40.9 .1h0m40.4 .2h0m-24.6 .3h0m24.5 .3h0m-12.6 .1h0m-9 .6h0m-2.4 .2h0m7.7 0h0m17.3 .2h0m1.4 .2h0m-49.6 .8h0m51.5 .5h0m-4.9 1h0m-33.8 .2h0m-5 .1h0m31.8 .6h0m-26.4 .3h0m20.3 .2h0m8.6 .3h0m3.7 .8h0m3.3 .4h0m.9 .4h0m-.9 .8h0m-5.5 .2h0m6.4 0h0m-46.6 .2h0m26.3 0h0m18.3 .3h0m-21.3 .6h0m20.6 .1h0m-36.2 1.6h0m24.2 2.3h0m-19.9 .5h0m-10.6 1.3h0m41.2 .3h0m-28.1 3.5h0m8.1 1.2h0m7.6 .9h0m.8 0h0m-14.9 .7h0m7.8 .3h0" stroke="#42cc3c" stroke-width="0.5" stroke-linecap="round" fill="none" stroke-opacity="0.85"/>
<path d="M215.7 125.5h0m7.6 .3h0m-26.2 1.3h0m6.6 .6h0m12.8 .2h0m-9.4 .7h0m14.9 1.6h0m-27.2 5.4h0m29 .4h0m-28 .6h0m35.4 .8h0m-6.2 .2h0m3.6 .7h0m-2 1.8h0m6.8 .2h0m-29.5 .6h0m-10 .3h0m1.6 .1h0m-3.2 .3h0m32.6 0h0m4.5 0h0m-36.7 .1h0m45.9 .2h0m-11.1 .2h0m5.1 .3h0m-26.8 .4h0m25.1 0h0m1.5 .2h0m-5.3 .1h0m1 .1h0m-30.4 .2h0m40.1 .2h0m-37.1 .3h0m3.3 0h0m-5.9 .3h0m-5.1 .4h0m7.2 0h0m8.3 .4h0m-15.1 .1h0m1.2 .1h0m2.5 0h0m26.1 .2h0m-29.6 .1h0m.8 .2h0m.9 .1h0m2 .1h0m4.9 0h0m33.6 .1h0m-40.8 .3h0m1 .1h0m-1.3 .2h0m.4 0h0m7.6 .2h0m20.6 0h0m-24 .3h0m31.9 .1h0m-4.4 .2h0m3.6 0h0m-8 .2h0m16.4 .1h0m-44.3 .3h0m9.5 .2h0m-8.4 .3h0m41.6 0h0m-6.7 .2h0m-38.5 1.4h0m36.8 .4h0m-12.1 .1h0m7.8 .1h0m2.3 0h0m-2.7 .1h0m-31.4 .1h0m34.7 .5h0m4.3 .4h0m-31.9 .1h0m24 .4h0m-5.8 .1h0m16.1 .7h0m-20.2 .5h0m19 .1h0m-3.5 .1h0m-11.6 .5h0m7.1 .3h0m3 .3h0m-3.6 .2h0m-1.2 .4h0m-5.3 .6h0m-19.6 1.2h0m16.4 .6h0m16.6 .2h0m2 .2h0m-20.3 .3h0m4.4 .2h0m16.6 .5h0m-20.2 .3h0m-12.3 .9h0m5.1 .1h0m.2 .1h0m-8.1 .8h0m5.2 .3h0m-6.1 .1h0m32.4 .5h0m-15.4 .1h0m-20.5 .2h0m16.7 0h0m8.5 .2h0m-14.4 1.1h0" stroke="#a33008" stroke-width="1.72" stroke-linecap="round" fill="none" stroke-opacity="0.55"/>
<path d="M198.4 126.9h0m8.4 .4h0m25.8 4.2h0m8.1 .4h0m1.7 1.2h0m-31.9 .8h0m29.4 1.3h0m-12 .2h0m7.6 .7h0m-5.5 1.4h0m3.7 .1h0m-40.6 1.1h0m36 .1h0m4.7 1.4h0m-31 .2h0m31.5 .1h0m-39.2 .7h0m40 0h0m-29.6 .1h0m17.5 .1h0m-20.1 .1h0m-6.9 .5h0m11 .2h0m-12.1 .2h0m45 .4h0m-45.1 .5h0m4.2 0h0m-.2 .7h0m33.2 0h0m-6 .1h0m6.2 .6h0m-32.7 .2h0m35.9 0h0m-6.2 .2h0m-33.6 .1h0m4.6 .4h0m-6.7 .1h0m6.3 0h0m3.9 0h0m-3.6 .1h0m-5.2 .2h0m38.9 0h0m-40.5 .4h0m7.3 .1h0m4.3 0h0m-10.4 .1h0m3.5 0h0m29.7 0h0m7.3 .1h0m-23.1 .4h0m-19.1 .4h0m2.1 0h0m10.6 .1h0m21.9 .5h0m3.2 .1h0m-37.1 .2h0m30.2 0h0m-19.6 .1h0m25.8 .5h0m-34.9 .3h0m-3.1 .2h0m37.9 .2h0m-24.4 .2h0m-5.3 .1h0m-8.8 .3h0m12.9 .1h0m1.8 .5h0m2.7 .3h0m26.2 0h0m-39 .9h0m28.6 0h0m8.4 .3h0m-7.4 .1h0m-32 .1h0m25.1 .1h0m11 .2h0m-2.5 .5h0m-3.6 .9h0m4.2 .1h0m-18.4 .1h0m5.5 2.3h0m7.1 .1h0m5.7 .2h0m10.2 .2h0m-20.2 .9h0m-6.7 .1h0m-2.1 .1h0m8.8 .3h0m16.8 .1h0m-18.3 .2h0m13.8 .4h0m3 0h0m-22.1 .9h0m3.3 0h0m-10.4 .3h0m-2.9 .3h0m14.1 0h0m7.1 0h0m-20.4 .8h0m19.6 0h0m-2.6 .5h0m-19.7 .6h0m13.9 0h0m8.9 .4h0m-12 .3h0m1.5 .2h0m-4.5 .2h0" stroke="#e8450c" stroke-width="1.21" stroke-linecap="round" fill="none" stroke-opacity="0.95"/>
<path d="M193.5 127.7h0m33 .2h0m15.6 1.1h0m-34.2 2.1h0m20.9 .4h0m-16.4 1.1h0m20.7 2.1h0m-36.5 .4h0m.1 .4h0m42.3 .9h0m-45.5 .9h0m7.4 2.1h0m35.2 0h0m-41.1 .3h0m-.5 .1h0m1.5 0h0m32.9 .4h0m-37.6 .1h0m44.4 .2h0m-41.7 .4h0m44.1 .6h0m-5.9 .3h0m-37.4 .1h0m16.1 .1h0m22.3 .5h0m-36.6 .1h0m-3.9 .1h0m35.8 .5h0m-38.1 .1h0m39.9 0h0m5 0h0m-42.3 .5h0m4.1 0h0m11.6 .1h0m-8.4 .1h0m2.7 0h0m-7.5 .2h0m42.4 .4h0m-41.7 .2h0m35 0h0m-31.5 .1h0m30.1 .1h0m-33.4 .1h0m-.2 .2h0m2.6 .4h0m-4.7 .1h0m34.3 0h0m-35.2 .1h0m1.6 .1h0m-1.2 .5h0m-.4 .2h0m4.9 .4h0m33 .2h0m-4.4 .4h0m-6.9 .1h0m-26.1 .3h0m-3.5 .3h0m8.8 .2h0m38.6 .3h0m-40.7 .5h0m-2.6 .2h0m9.1 .1h0m34.7 .6h0m-15.8 .1h0m5.4 0h0m-34.4 .9h0m46 .1h0m-28.7 .1h0m-18.1 .4h0m1.8 .3h0m11.2 .2h0m32.4 .8h0m-14.2 .4h0m-2.2 .3h0m-24.4 .5h0m-2.1 .4h0m12.6 .7h0m-3.7 .3h0m32 0h0m-4.2 1.2h0m-14.7 .3h0m-6 1h0m-2.1 .7h0m4.7 .6h0m-15.3 .2h0m25.2 0h0m-9 .1h0m-11.3 .2h0m-1.5 .1h0m10.3 .1h0m3 .1h0m-11 .4h0m4.7 0h0m.6 0h0m15.2 .2h0m-11 .1h0m-10.9 .2h0m6.7 0h0m16.9 0h0m-25.4 .1h0m20 .1h0m-5.8 .1h0m-4.9 .9h0m1.2 0h0m6.2 0h0m-25.6 .8h0m17.3 .8h0" stroke="#ff5a14" stroke-width="0.92" stroke-linecap="round" fill="none"/>
<path d="M194.3 125.9h0m31.7 4h0m7.8 .1h0m8.1 1.1h0m-31.8 2.1h0m-16 4.8h0m2.1 .1h0m33.2 .3h0m1.2 .6h0m-3.7 .6h0m.3 .6h0m-32.5 .1h0m1.9 .3h0m6.1 0h0m31.8 0h0m.2 0h0m-43.9 .5h0m8.2 .6h0m42.1 .1h0m-13.9 .2h0m-29.8 .2h0m41.4 .1h0m-40.2 .1h0m20.1 0h0m-16.7 .3h0m-8.2 .3h0m1 1.1h0m9.6 .1h0m-10.1 .1h0m11.5 .2h0m17.6 0h0m-21.2 .1h0m2.1 .3h0m28 0h0m-38.2 .1h0m.2 .1h0m.1 0h0m4.3 0h0m21.7 .2h0m4.4 0h0m5.6 0h0m-29.1 .1h0m2.5 0h0m28.2 .1h0m-31.9 .7h0m.2 .1h0m-8.2 .1h0m6 .2h0m12.1 0h0m-13.3 .1h0m-2.1 .1h0m28.8 0h0m-15.5 .5h0m-14.4 .1h0m40 .2h0m-41.5 .1h0m3.6 .1h0m34.1 .5h0m-31.4 .1h0m8.1 0h0m-9.3 .3h0m-5.1 .2h0m6 0h0m10.6 .1h0m-6.6 .2h0m19 1h0m-16.5 .3h0m-6.7 .4h0m-6.6 .5h0m42.2 .1h0m-3.2 .1h0m8 .3h0m1.2 .2h0m-8.6 .6h0m-6.6 .5h0m-20.9 .1h0m-11.3 .5h0m11.9 .2h0m6.3 0h0m6.7 0h0m-16.5 .2h0m25 .2h0m-21.9 .1h0m9.7 1h0m16.6 .3h0m-20.5 .2h0m4.2 0h0m3.7 .4h0m18.1 .3h0m-13.1 .1h0m-4 .1h0m-.1 .1h0m7.1 .7h0m-17.4 .3h0m31.2 .1h0m-32.4 1.3h0m14.3 .1h0m-19.6 .9h0m17.5 .5h0m20.5 .1h0m-19 .1h0m-10.5 .1h0m23.9 .6h0m-42 .1h0m6.8 .1h0m4.5 .3h0m6.7 .1h0m7 .5h0m17.4 1.1h0" stroke="#ff7d2c" stroke-width="0.63" stroke-linecap="round" fill="none"/>
</g>
<rect x="227.5" y="159.6" width="11.4" height="1.1" fill="#fff"/>
<g clip-path="url(#cb25)"><clipPath id="cb25"><rect x="243" y="124.8" width="50" height="39.4"/></clipPath>
<rect x="243" y="124.8" width="50" height="39.4" fill="#060503"/>
<g filter="url(#b10)">
<path d="M248.5 126.7h0m-3 .4h0m9.4 1h0m5.2 0h0m-5.3 1.1h0m-2.1 .2h0m15.4 .8h0m-22.7 .1h0m3.6 .6h0m7 .1h0m-.8 .9h0m13.9 .1h0m13.5 .8h0m-35.2 1.3h0m36.7 .2h0m-14.5 1h0m16.9 1.9h0m.6 1.5h0m-.2 .4h0m-43.7 .4h0m41.8 0h0m-34.2 3h0m3.8 1.6h0m-11.3 1.1h0m44.8 .3h0m.4 .5h0m1.7 .2h0m-.3 1h0m.2 .1h0m-15 .3h0m-21.5 .8h0m19.8 .1h0m14.7 .3h0m1.7 .7h0m-33.1 .6h0m19.5 .3h0m5.7 .7h0m-.9 .2h0m-9.5 .2h0m8.1 .5h0m-15.6 .5h0m-14.1 .8h0m32.6 .1h0m-15 .3h0m15 1h0m-30.3 1h0m13.4 .6h0m17.7 .6h0m2.7 .1h0m-4.9 .2h0m-16.7 .3h0m-15 .6h0m16.1 1h0m14.2 .1h0m-24.3 .1h0m3.6 .7h0m24.8 1.9h0m6.5 .7h0m-40.4 1.1h0m9.3 .3h0" stroke="#1c8a1e" stroke-width="2.4" stroke-linecap="round" fill="none" stroke-opacity="0.15"/>
<path d="M254.1 125.1h0m5.8 .1h0m16.5 0h0m-2.8 1.6h0m.6 .7h0m7.3 .7h0m-22.3 .2h0m10.8 0h0m-14 .4h0m6.5 .1h0m-7.9 .1h0m10.5 .7h0m-4.1 .1h0m-.8 .2h0m29.4 0h0m-28.7 .2h0m4.3 .7h0m6 0h0m9.3 .1h0m10.7 0h0m-3.7 .1h0m-43.1 .2h0m27.8 .5h0m-7.5 .8h0m-6.4 .1h0m21.4 .2h0m6.8 .5h0m-17.4 .2h0m8.6 .3h0m-26 .2h0m15.4 .1h0m-14.2 .9h0m12.7 .5h0m-12.3 .6h0m31.8 0h0m-11.7 1.3h0m3.6 .2h0m-22.4 .5h0m-1.5 .1h0m16 .6h0m2.7 .4h0m4.9 .9h0m-6.8 .1h0m8.7 1.1h0m-5.3 .5h0m-10 .5h0m-14.7 1.1h0m18.4 .6h0m6 .5h0m-18.6 .2h0m19.2 .3h0m-7.4 .4h0m9.4 0h0m7.5 1.4h0m-15.6 .3h0m-17.5 .1h0m36.2 .8h0m-3.9 .4h0m-35.8 .5h0m43.5 .2h0m-46.9 .2h0m34.7 .2h0m-19.7 .3h0m29.1 .2h0m.6 1.1h0m-7.4 .4h0m-25.6 .4h0m4.1 .3h0m-8.8 .4h0m24.9 .3h0m-24 .6h0m30.4 2.1h0m-31.9 .3h0m36 .8h0m-11.6 .2h0m6.5 0h0m7.8 .1h0m-5.8 .5h0m-.9 .1h0m-.5 .9h0m-27.2 .1h0m19.1 .1h0m4.8 3.2h0m-.9 .1h0m15.6 1.9h0" stroke="#c23a08" stroke-width="2.64" stroke-linecap="round" fill="none" stroke-opacity="0.17"/>
</g>
<path d="M249.7 124.9h0m37.4 .6h0m-28.1 .6h0m9 .3h0m-9.6 .6h0m-12.9 .1h0m2.8 1.9h0m40.5 0h0m-34 .2h0m-2.1 .2h0m-4.9 .3h0m13.4 .7h0m19.7 0h0m-31.9 .5h0m6.8 .1h0m24.8 0h0m-35.4 .1h0m15.4 .4h0m-11.3 .4h0m5.9 0h0m29.5 .3h0m-.7 .6h0m-35.9 .9h0m-.7 .4h0m6.4 .3h0m36.2 .5h0m-41.8 .3h0m27 .1h0m11.2 .1h0m-25.9 .1h0m5.7 .3h0m2.5 1.7h0m19.2 1.4h0m-39.6 .6h0m38.3 .4h0m-17.8 1.6h0m17.4 .3h0m-35.4 .7h0m3.8 1.6h0m33.7 .8h0m-36.1 .7h0m36.3 .4h0m-33.2 .4h0m.6 1.2h0m19.2 0h0m-1.7 .9h0m14.7 .3h0m-14.2 .1h0m10.9 .3h0m5 .3h0m-33.1 .6h0m25 .4h0m-.7 .8h0m-24.7 .9h0m26.2 1.2h0m2.5 0h0m4 .7h0m-44.3 .3h0m10.1 .3h0m29.6 0h0m-30.2 .3h0m20.5 .2h0m-8.5 .1h0m5.4 .3h0m20.6 1h0m-29.3 .1h0m21.8 .3h0m1.3 0h0m-29.4 .1h0m15.5 0h0m-3.2 1.5h0m10.8 .6h0m-9.2 .3h0m10.5 1.5h0m2.8 .9h0m4.5 .7h0m-3.8 1h0m.7 0h0m-26 .4h0m27 .1h0" stroke="#17701a" stroke-width="1.1" stroke-linecap="round" fill="none" stroke-opacity="0.45"/>
<path d="M286.5 125.5h0m2 .2h0m-28.8 1.2h0m23.5 0h0m-23.1 1.2h0m-4.1 1h0m-8.1 .5h0m20.2 .6h0m-22.7 .1h0m9.6 .5h0m1 .2h0m35.5 .3h0m-4 .5h0m-18.4 .2h0m-8 .1h0m-2.8 .1h0m2.6 0h0m-.3 .8h0m-9.6 .2h0m33.1 1.1h0m-21.3 .3h0m.9 0h0m-5.2 .1h0m23.1 2h0m4.9 .5h0m.6 1.5h0m-12.8 .7h0m11 .4h0m2.3 1.2h0m-5.6 .9h0m-34 .4h0m13.3 .6h0m19.8 .3h0m7 2.3h0m2.1 .7h0m-.3 1h0m-4.1 .1h0m-4.9 1.6h0m-28.1 .8h0m10.9 .2h0m-6.4 .8h0m25.1 .2h0m1.3 .1h0m-1.8 .1h0m-10.4 .4h0m-5.2 .4h0m-7.2 .3h0m8.5 .1h0m-16.9 .2h0m14.7 .3h0m-4.6 .3h0m-1.5 .4h0m26.9 0h0m-18.7 .2h0m.7 .4h0m.6 .1h0m-17.4 .2h0m-1.8 .2h0m32.9 .1h0m-34.8 .9h0m17.9 .7h0m3.2 0h0m18.3 .8h0m-6 .1h0m2.9 .6h0m-19.8 .1h0m.3 1.2h0m-5.5 .9h0m29.2 .2h0m2.8 1h0m-4.5 .1h0m-36.2 .2h0m-3.9 .3h0m17.9 0h0m18.5 .5h0m5.8 .1h0m-39 .2h0m40.7 0h0m-31.8 .8h0m-8.6 .3h0" stroke="#25a027" stroke-width="0.75" stroke-linecap="round" fill="none" stroke-opacity="0.78"/>
<path d="M248.5 126.7h0m9.8 .2h0m29.8 .1h0m-1.4 .1h0m-23.7 .5h0m-8.1 .5h0m-1.6 1.4h0m-3.2 .7h0m10 .3h0m4 1h0m.8 0h0m8.2 .3h0m15.7 0h0m-26.4 .1h0m20.2 .9h0m-26.2 1.2h0m16.1 .2h0m-6.1 1h0m3.2 .1h0m22.2 .1h0m-.2 .3h0m-6.4 .7h0m-15.4 .9h0m20.8 1h0m-8.9 .1h0m5.2 .7h0m-43.7 .4h0m41.8 0h0m-31.1 .7h0m33.7 .2h0m.5 .1h0m-10.2 .6h0m12.6 .1h0m-.3 .5h0m2.4 .2h0m.2 .7h0m-20.2 1.3h0m-29.3 1.3h0m10.7 0h0m21.8 2h0m14.3 .1h0m-36.5 1.1h0m22.6 2h0m12.2 .8h0m-20.8 .1h0m12 .7h0m-6.8 .1h0m-9.5 .4h0m.7 0h0m0 .1h0m20.8 .1h0m-4.8 .3h0m-30.1 .3h0m30.1 .2h0m3.2 0h0m5.1 .5h0m-14.6 .1h0m-3.6 .3h0m13 .2h0m-25.6 .2h0m30 0h0m-22.4 .1h0m-12.9 .2h0m11.5 .2h0m-11.5 .4h0m1.2 0h0m17.1 .9h0m12.8 .3h0m-31.6 .3h0m12.7 .3h0m-15 .6h0m5.2 0h0m24.8 .2h0m-15.4 .4h0m-10.9 .1h0m12.4 .3h0m-10.1 .2h0m-1.2 .4h0m29.9 .1h0m-15 2.6h0" stroke="#42cc3c" stroke-width="0.5" stroke-linecap="round" fill="none" stroke-opacity="0.85"/>
<path d="M267.7 126.7h0m10.5 1.1h0m-19 .6h0m14.8 .1h0m-7.8 .2h0m-10.2 .1h0m6.5 .1h0m-7.9 .1h0m-6.9 .6h0m13.3 .2h0m-1.3 .1h0m.5 .1h0m30.5 .3h0m-6.3 .3h0m-19.9 .2h0m1.3 .1h0m-14.4 .2h0m-7 .2h0m27.8 .5h0m11.4 .3h0m-28.9 .1h0m17 .3h0m-13.4 .2h0m-14.7 .2h0m28.2 .8h0m12.8 .2h0m-20.8 .2h0m6.2 .2h0m9 .6h0m-26.1 .2h0m32.2 1.1h0m-22.1 .8h0m10.4 .5h0m2.1 .1h0m7.2 .1h0m7.2 .7h0m-9.7 .4h0m-11.1 .1h0m-3.2 1.7h0m-14.2 .7h0m12.6 .5h0m2.9 .5h0m-23 1.1h0m30.1 .4h0m4.8 .2h0m-4.7 .3h0m-1.9 1h0m9.9 .8h0m-12.2 .4h0m-20.2 .8h0m-5.1 .1h0m41.8 0h0m-.5 .7h0m-28 1h0m19.6 .5h0m-19.7 .3h0m24 2.1h0m-3 .2h0m-29 .5h0m34.6 .2h0m-9.7 .1h0m10.2 .1h0m-28.2 .2h0m34.5 .1h0m-37.8 .1h0m22.1 .1h0m1.7 1.1h0m7.7 .2h0m-17.8 .3h0m-17.9 .8h0m14.3 .4h0m-9.7 .4h0m30.9 .2h0m-32.5 .2h0m2.1 .1h0m29.7 0h0m1.6 .3h0m-39.5 .6h0m9.7 1.5h0m30.9 1h0m-32.1 1.1h0m21.9 .3h0m-33 .2h0m3 .8h0m45.6 .9h0" stroke="#a33008" stroke-width="1.65" stroke-linecap="round" fill="none" stroke-opacity="0.55"/>
<path d="M270.3 126.9h0m22.3 .6h0m-11.1 .7h0m4 0h0m-16 .1h0m.5 .1h0m5.3 .3h0m13 .8h0m-6.6 .1h0m-16.6 .1h0m22.4 .1h0m-27 .4h0m-1.7 .3h0m21.7 .5h0m-12.8 .3h0m-4.4 .1h0m20.6 .7h0m-33.2 .4h0m35.8 .9h0m-2.6 .1h0m-14.8 .1h0m7.5 .1h0m4 0h0m-13.5 .5h0m13.9 2.8h0m-4 .7h0m-23.9 .6h0m-3.9 .7h0m15.7 .1h0m6.9 .2h0m-4.5 1.4h0m-22.3 2.1h0m34.6 .9h0m-2.4 .8h0m-2.3 .1h0m-20.5 .2h0m35.2 .1h0m-41.4 .1h0m24.1 0h0m3.3 .5h0m3.2 .2h0m-30.5 .1h0m25.7 1.2h0m16.8 0h0m-23.3 .2h0m24.1 .2h0m-8.7 .3h0m-38.9 1h0m16.8 0h0m-9.3 .2h0m23.4 .2h0m8.7 .3h0m-24.4 .7h0m-12 1h0m3.2 .8h0m17.5 0h0m-13.1 .1h0m27.5 0h0m-7.3 .1h0m7.7 .6h0m8.8 .9h0m-.4 .7h0m-39.3 .2h0m1.9 0h0m38.1 .2h0m-42.7 .2h0m36.5 .2h0m2 .5h0m-6.2 .1h0m-7.5 1.3h0m6.5 0h0m1.1 .7h0m-32 .3h0m29.3 .2h0m-27.2 .2h0m25.6 .1h0m3.8 .1h0m-27.2 .1h0m16.2 .4h0m13.1 .8h0m-7.3 .5h0m12.3 .9h0m-43.4 .3h0m33 .4h0m5.5 1.1h0" stroke="#e8450c" stroke-width="1.16" stroke-linecap="round" fill="none" stroke-opacity="0.95"/>
<path d="M259.9 125.2h0m17.7 0h0m6.8 1.1h0m-19.9 .2h0m23.7 .5h0m-30.8 .6h0m15.1 .2h0m11.9 .3h0m-11.6 .8h0m5.9 0h0m-6.4 .1h0m-1.3 .2h0m17.2 .2h0m-14.9 .2h0m-6.4 .2h0m-11.8 .6h0m29.8 .4h0m6.3 .2h0m-43.7 .1h0m30.3 0h0m7.8 0h0m1.9 0h0m-23.5 .1h0m.1 .1h0m4.9 .8h0m14.8 .1h0m-9.1 .2h0m5 .5h0m-2 1h0m7.1 .6h0m-19.2 1.1h0m21.5 .2h0m-33.8 .4h0m-.6 1.5h0m1.9 .5h0m-4.6 .5h0m15.7 0h0m-13 .4h0m29.2 1.1h0m-12 .1h0m8.7 1.1h0m-5.3 .5h0m-24.7 1.6h0m44.1 1h0m-19.7 .1h0m-21.7 .4h0m8.6 .1h0m-4.5 .2h0m36.1 .7h0m-14.9 .5h0m1.2 0h0m-31.9 .4h0m37.2 0h0m-29.6 .5h0m1.1 1.1h0m27.7 0h0m5.5 .1h0m.4 .6h0m1.8 0h0m-46.9 .2h0m6.1 .1h0m38 .6h0m-31.2 .8h0m.1 .2h0m5.9 0h0m25 0h0m-2.5 .1h0m3.3 0h0m-29.9 .3h0m-4.8 .1h0m-.6 .2h0m-.7 .3h0m13.7 .1h0m-8.8 1.7h0m33.9 1.6h0m.8 .6h0m-.5 .5h0m-8.5 1h0m3.2 1.1h0m-12.7 .1h0m11.9 0h0m1.1 1.7h0m-1.6 1.7h0m6 1.4h0m-2.7 .3h0" stroke="#ff5a14" stroke-width="0.88" stroke-linecap="round" fill="none"/>
<path d="M254.1 125.1h0m11.5 .1h0m10.8 0h0m-5.7 .1h0m4.3 .8h0m-1.4 .7h0m-12.9 .6h0m13.5 .1h0m14.5 .2h0m-12.3 .9h0m6.4 .1h0m-6 1.3h0m12.8 0h0m1.2 .1h0m-29.9 .1h0m.1 .1h0m13.1 .2h0m-17.3 .3h0m8.4 .1h0m6 0h0m8.8 .2h0m-4.4 .3h0m-19.8 .4h0m20.4 .4h0m-11.5 .4h0m24.1 .3h0m-37.1 1.2h0m-.2 .6h0m11 .2h0m11.4 1.6h0m-29.4 1.3h0m20.5 0h0m17.3 .2h0m-2.8 .4h0m1.4 .2h0m-12.2 .1h0m9.4 .7h0m-19.7 .1h0m18.3 .7h0m-11.1 .4h0m6.1 .5h0m10.8 .3h0m-31.9 .3h0m-.4 .5h0m13.1 .2h0m-13.8 .2h0m39.8 1h0m-22.3 .5h0m-15.7 .3h0m22.3 .7h0m-7.4 .4h0m-7.1 1.6h0m4.3 .1h0m19.8 .6h0m.5 .8h0m-39.6 .3h0m2.4 .1h0m3.2 .1h0m-.2 .2h0m-6.2 .3h0m2.5 .1h0m27.5 1.3h0m15.1 .1h0m-42.4 .5h0m34.4 0h0m-21.5 .7h0m20.9 .2h0m8.2 .1h0m-35.2 .1h0m33 .4h0m-34.8 .5h0m13 1.2h0m25 1.3h0m-3.5 .7h0m2.7 .3h0m-39.2 .4h0m30 .1h0m6.7 .2h0m-28.7 1.2h0m21.8 .3h0m3.6 .8h0m1.4 2.1h0m6.5 .5h0m-24.8 .1h0m18.6 1h0" stroke="#ff7d2c" stroke-width="0.61" stroke-linecap="round" fill="none"/>
</g>
<rect x="278.2" y="159.6" width="11.4" height="1.1" fill="#fff"/>
<text x="286.8" y="8.7" font-size="12.6" stroke="#000" stroke-width=".16">c</text>
<line x1="339" y1="39.2" x2="426" y2="39.2" stroke="#9a9a9a" stroke-width="0.5" stroke-dasharray="1 1"/>
<line x1="339" y1="52.5" x2="426" y2="52.5" stroke="#87e856" stroke-width="0.5" stroke-dasharray="1 1"/>
<rect x="339.9" y="39.2" width="4.9" height="83" fill="#a9a9a9"/>
<rect x="347.3" y="52.5" width="4.9" height="69.7" fill="#87e856"/>
<path d="M349.7 50.5V54.5M348.2 50.5h3M348.2 54.5h3" stroke="#111" stroke-width="0.55" fill="none"/>
<rect x="358.1" y="39.2" width="4.9" height="83" fill="#a9a9a9"/>
<rect x="365.5" y="116.2" width="4.9" height="5.98" fill="#87e856"/>
<path d="M360.5 36.7V41.7M359 36.7h3M359 41.7h3" stroke="#111" stroke-width="0.55" fill="none"/>
<path d="M367.9 112.9V119.5M366.4 112.9h3M366.4 119.5h3" stroke="#111" stroke-width="0.55" fill="none"/>
<rect x="376.3" y="39.2" width="4.9" height="83" fill="#a9a9a9"/>
<rect x="383.7" y="69.1" width="4.9" height="53.1" fill="#87e856"/>
<path d="M378.7 38.2V40.2M377.2 38.2h3M377.2 40.2h3" stroke="#111" stroke-width="0.55" fill="none"/>
<path d="M386.1 65.8V72.4M384.6 65.8h3M384.6 72.4h3" stroke="#111" stroke-width="0.55" fill="none"/>
<rect x="394.5" y="39.2" width="4.9" height="83" fill="#a9a9a9"/>
<rect x="401.9" y="64.1" width="4.9" height="58.1" fill="#87e856"/>
<path d="M396.9 37.5V40.9M395.4 37.5h3M395.4 40.9h3" stroke="#111" stroke-width="0.55" fill="none"/>
<path d="M404.3 60.3V67.9M402.8 60.3h3M402.8 67.9h3" stroke="#111" stroke-width="0.55" fill="none"/>
<rect x="412.7" y="39.2" width="4.9" height="83" fill="#a9a9a9"/>
<rect x="420.1" y="64.1" width="4.9" height="58.1" fill="#87e856"/>
<path d="M415.1 37.5V40.9M413.6 37.5h3M413.6 40.9h3" stroke="#111" stroke-width="0.55" fill="none"/>
<path d="M422.5 61.1V67.1M421 61.1h3M421 67.1h3" stroke="#111" stroke-width="0.55" fill="none"/>
<line x1="338.2" y1="22.3" x2="338.2" y2="122.5" stroke="#000" stroke-width="0.8"/>
<line x1="337.8" y1="122.2" x2="426.3" y2="122.2" stroke="#000" stroke-width="0.8"/>
<line x1="334.6" y1="122.2" x2="338.2" y2="122.2" stroke="#000" stroke-width="0.8"/>
<text x="333.6" y="124.3" font-size="5.9" text-anchor="end">0</text>
<line x1="334.6" y1="89" x2="338.2" y2="89" stroke="#000" stroke-width="0.8"/>
<text x="333.6" y="91.1" font-size="5.9" text-anchor="end">20</text>
<line x1="334.6" y1="55.8" x2="338.2" y2="55.8" stroke="#000" stroke-width="0.8"/>
<text x="333.6" y="57.9" font-size="5.9" text-anchor="end">40</text>
<line x1="334.6" y1="22.6" x2="338.2" y2="22.6" stroke="#000" stroke-width="0.8"/>
<text x="333.6" y="24.7" font-size="5.9" text-anchor="end">60</text>
<line x1="346" y1="122.2" x2="346" y2="125.2" stroke="#000" stroke-width="0.8"/>
<line x1="364.2" y1="122.2" x2="364.2" y2="125.2" stroke="#000" stroke-width="0.8"/>
<line x1="382.4" y1="122.2" x2="382.4" y2="125.2" stroke="#000" stroke-width="0.8"/>
<line x1="400.6" y1="122.2" x2="400.6" y2="125.2" stroke="#000" stroke-width="0.8"/>
<line x1="418.8" y1="122.2" x2="418.8" y2="125.2" stroke="#000" stroke-width="0.8"/>
<text font-size="6.6" text-anchor="end" transform="translate(347.6 128.9) rotate(-45)">NT1</text>
<text font-size="6.6" text-anchor="end" transform="translate(365.8 128.9) rotate(-45)">ABCB1 g1</text>
<text font-size="6.6" text-anchor="end" transform="translate(384 128.9) rotate(-45)">BRPF1 g1</text>
<text font-size="6.6" text-anchor="end" transform="translate(402.2 128.9) rotate(-45)">BRPF1 g2</text>
<text font-size="6.6" text-anchor="end" transform="translate(420.4 128.9) rotate(-45)">BRPF1 g3</text>
<text font-size="5.96" text-anchor="middle" textLength="65" lengthAdjust="spacingAndGlyphs" transform="translate(312.4 73) rotate(-90)" stroke="#000" stroke-width=".16">% Viability of GFP+ cells</text>
<text font-size="5.74" text-anchor="middle" textLength="30" lengthAdjust="spacingAndGlyphs" transform="translate(319.6 73) rotate(-90)" stroke="#000" stroke-width=".16">(on Day 24)</text>
<text x="368.1" y="113.6" font-size="8.6" text-anchor="middle">***</text>
<text x="386" y="63.6" font-size="8.6" text-anchor="middle">**</text>
<text x="403.8" y="59.6" font-size="8.6" text-anchor="middle">*</text>
<text x="421.8" y="60" font-size="8.6" text-anchor="middle">**</text>
<rect x="407" y="16.4" width="10.6" height="3.6" fill="#a9a9a9"/>
<text x="420.8" y="20.3" font-size="5.47" textLength="16.4" lengthAdjust="spacingAndGlyphs" stroke="#000" stroke-width=".1">DMSO</text>
<rect x="407" y="25.2" width="10.6" height="3.6" fill="#87e856"/>
<text x="420.8" y="29" font-size="5.53" textLength="8.6" lengthAdjust="spacingAndGlyphs" stroke="#000" stroke-width=".1">Tax</text>
<text x="447.6" y="9.2" font-size="12.6" stroke="#000" stroke-width=".16">d</text>
<text x="511" y="22.5" font-size="6.88" text-anchor="middle" textLength="67" lengthAdjust="spacingAndGlyphs" stroke="#000" stroke-width=".14">MOZ/MORF HAT (H3)</text>
<text x="627.4" y="22.5" font-size="6.84" text-anchor="middle" textLength="47.2" lengthAdjust="spacingAndGlyphs" stroke="#000" stroke-width=".14">HBO1 HAT (H4)</text>
<rect x="488.3" y="46" width="53.5" height="27.6" rx="9" fill="#fa8632" stroke="#dd7426" stroke-width=".4"/>
<ellipse cx="485.6" cy="46.4" rx="24.4" ry="12.3" fill="#ddf0d6" stroke="#5a9a48" stroke-width=".55" transform="rotate(1 485.4 46.2)"/>
<rect x="517.2" y="28.5" width="28.4" height="22.4" rx="10.5" fill="#f6efcf" stroke="#cdbd84" stroke-width=".5"/>
<rect x="528.9" y="48" width="35.3" height="23.7" rx="11.5" fill="#d6eaf5" stroke="#7fa9c4" stroke-width=".5"/>
<text x="485.9" y="45.2" font-size="4.6" text-anchor="middle" textLength="26.2" lengthAdjust="spacingAndGlyphs" fill="#222" stroke="#222" stroke-width=".06">MOZ/MORF</text>
<text x="485.8" y="51.1" font-size="4.6" text-anchor="middle" textLength="23" lengthAdjust="spacingAndGlyphs" fill="#222" stroke="#222" stroke-width=".06">(KAT6A/B)</text>
<text x="513.9" y="61.7" font-size="4.8" text-anchor="middle" textLength="24.5" lengthAdjust="spacingAndGlyphs" fill="#222" stroke="#222" stroke-width=".06">BRPF1/2/3</text>
<text x="531.3" y="41.6" font-size="4.6" text-anchor="middle" textLength="16" lengthAdjust="spacingAndGlyphs" fill="#222" stroke="#222" stroke-width=".06">MEAF6</text>
<text x="546.6" y="61.7" font-size="4.7" text-anchor="middle" textLength="11" lengthAdjust="spacingAndGlyphs" fill="#222" stroke="#222" stroke-width=".06">ING5</text>
<rect x="600.1" y="46.2" width="52.9" height="27.3" rx="9" fill="#f1dba6" stroke="#c9b373" stroke-width=".5"/>
<ellipse cx="598" cy="46.2" rx="24.2" ry="12.1" fill="#ddf0d6" stroke="#5a9a48" stroke-width=".55" transform="rotate(1 598 46.2)"/>
<rect x="629.2" y="28.2" width="29.6" height="22" rx="10.5" fill="#f6efcf" stroke="#cdbd84" stroke-width=".5"/>
<rect x="641.2" y="48.4" width="35" height="23.1" rx="11.5" fill="#d6eaf5" stroke="#7fa9c4" stroke-width=".5"/>
<text x="598" y="45.3" font-size="4.6" text-anchor="middle" textLength="12.8" lengthAdjust="spacingAndGlyphs" fill="#222" stroke="#222" stroke-width=".06">HBO1</text>
<text x="598" y="51.1" font-size="4.6" text-anchor="middle" textLength="14.8" lengthAdjust="spacingAndGlyphs" fill="#222" stroke="#222" stroke-width=".06">(KAT7)</text>
<text x="626.2" y="61.4" font-size="4.8" text-anchor="middle" textLength="24.5" lengthAdjust="spacingAndGlyphs" fill="#222" stroke="#222" stroke-width=".06">JADE1/2/3</text>
<text x="644" y="41.4" font-size="4.6" text-anchor="middle" textLength="16" lengthAdjust="spacingAndGlyphs" fill="#222" stroke="#222" stroke-width=".06">MEAF6</text>
<text x="658.6" y="61.4" font-size="4.7" text-anchor="middle" textLength="15.5" lengthAdjust="spacingAndGlyphs" fill="#222" stroke="#222" stroke-width=".06">ING4/5</text>
<text x="447.6" y="98.6" font-size="12.6" stroke="#000" stroke-width=".16">e</text>
<rect x="529.9" y="117" width="80.1" height="13.2" fill="#b6b6b6"/>
<rect x="537" y="121.6" width="17.6" height="6.4" rx="3.2" fill="#505050" opacity="0.8" filter="url(#b10)"/>
<rect x="537.5" y="122" width="16.6" height="2.6" rx="1.3" fill="#2a2a2a" opacity="0.85" filter="url(#b6)"/>
<rect x="562" y="121.6" width="17" height="6.4" rx="3.2" fill="#505050" opacity="0.8" filter="url(#b10)"/>
<rect x="562.5" y="122" width="16" height="2.6" rx="1.3" fill="#2a2a2a" opacity="0.85" filter="url(#b6)"/>
<rect x="588" y="121.6" width="20" height="6.4" rx="3.2" fill="#505050" opacity="0.8" filter="url(#b10)"/>
<rect x="588.5" y="122" width="19" height="2.6" rx="1.3" fill="#2a2a2a" opacity="0.85" filter="url(#b6)"/>
<rect x="606.8" y="120.5" width="1.2" height="8" fill="#3a3a3a" opacity=".6" filter="url(#b6)"/>
<rect x="529.9" y="132.3" width="80.1" height="11.8" fill="#c6c6c6"/>
<rect x="536.5" y="137.7" width="19" height="3.8" rx="1.9" fill="#0c0c0c" opacity="1" filter="url(#b6)"/>
<rect x="561.5" y="137.7" width="19" height="3.8" rx="1.9" fill="#0c0c0c" opacity="1" filter="url(#b6)"/>
<rect x="587" y="137.2" width="21.5" height="4.2" rx="2.1" fill="#0c0c0c" opacity="1" filter="url(#b6)"/>
<text x="504.2" y="126.6" font-size="6.93" textLength="19.79" lengthAdjust="spacingAndGlyphs" stroke="#000" stroke-width=".14">BRPF1</text>
<text x="498.2" y="140.8" font-size="6.93" textLength="27" lengthAdjust="spacingAndGlyphs" stroke="#000" stroke-width=".14">LaminB1</text>
<text x="476.6" y="150.8" font-size="6.93" textLength="51.8" lengthAdjust="spacingAndGlyphs" stroke="#000" stroke-width=".14">BRPF1/LaminB1:</text>
<text x="545" y="150.8" font-size="6.75" text-anchor="middle" textLength="13.3" lengthAdjust="spacingAndGlyphs" stroke="#000" stroke-width=".14">1.00</text>
<text x="572.5" y="150.8" font-size="6.75" text-anchor="middle" textLength="13.3" lengthAdjust="spacingAndGlyphs" stroke="#000" stroke-width=".14">0.90</text>
<text x="600.6" y="150.8" font-size="6.75" text-anchor="middle" textLength="13.3" lengthAdjust="spacingAndGlyphs" stroke="#000" stroke-width=".14">0.96</text>
<text x="612.5" y="126.6" font-size="6.84" textLength="25.8" lengthAdjust="spacingAndGlyphs" stroke="#000" stroke-width=".14">150 kDA</text>
<text x="612.5" y="140.8" font-size="6.84" textLength="22" lengthAdjust="spacingAndGlyphs" stroke="#000" stroke-width=".14">75 kDA</text>
<text font-size="6.86" textLength="26" lengthAdjust="spacingAndGlyphs" transform="translate(543.5 115.2) rotate(-46)" stroke="#000" stroke-width=".14">Parental</text>
<text font-size="6.7" textLength="21" lengthAdjust="spacingAndGlyphs" transform="translate(569.4 113.4) rotate(-46)" stroke="#000" stroke-width=".14">T1-160</text>
<text font-size="6.86" textLength="21.5" lengthAdjust="spacingAndGlyphs" transform="translate(597 113.4) rotate(-46)" stroke="#000" stroke-width=".14">T2-450</text>
<text x="7.5" y="193.8" font-size="12.6" stroke="#000" stroke-width=".16">f</text>
<rect x="28" y="240.8" width="50.8" height="18.4" fill="#dadada"/>
<rect x="31.200" y="242.200" width="9.400" height="12" rx="1.500" fill="#5a5a5a" opacity=".7" filter="url(#b10)"/>
<rect x="31.400" y="242.400" width="9" height="6.500" rx="1" fill="#2a2a2a" opacity=".85" filter="url(#b10)"/>
<rect x="31.600" y="242.600" width="8.600" height="3" rx="1" fill="#151515" opacity=".8" filter="url(#b6)"/>
<rect x="28" y="260.9" width="50.8" height="20.4" fill="#cbcbcb"/>
<rect x="28.500" y="268" width="50" height="7.600" rx="3" fill="#555" opacity=".8" filter="url(#b10)"/>
<rect x="30" y="269.400" width="11.500" height="4.400" rx="2.200" fill="#3a3a3a" opacity=".6" filter="url(#b6)"/>
<rect x="42" y="269.400" width="11.500" height="4.400" rx="2.200" fill="#3a3a3a" opacity=".6" filter="url(#b6)"/>
<rect x="53.5" y="269.400" width="11.500" height="4.400" rx="2.200" fill="#3a3a3a" opacity=".6" filter="url(#b6)"/>
<rect x="65" y="269.400" width="11.500" height="4.400" rx="2.200" fill="#3a3a3a" opacity=".6" filter="url(#b6)"/>
<text x="4.7" y="253.8" font-size="7.67" textLength="21.9" lengthAdjust="spacingAndGlyphs" stroke="#000" stroke-width=".14">BRPF1</text>
<text x="10.9" y="274.8" font-size="7.33" textLength="9.2" lengthAdjust="spacingAndGlyphs" stroke="#000" stroke-width=".14">H3</text>
<text x="80.9" y="253.8" font-size="7.9" textLength="29.8" lengthAdjust="spacingAndGlyphs" stroke="#000" stroke-width=".14">150 kDA</text>
<text x="80.9" y="273.6" font-size="7.82" textLength="25.1" lengthAdjust="spacingAndGlyphs" stroke="#000" stroke-width=".14">17 kDA</text>
<text font-size="7.41" textLength="13.5" lengthAdjust="spacingAndGlyphs" transform="translate(38.6 237.6) rotate(-57)" stroke="#000" stroke-width=".14">NT1</text>
<text font-size="7.75" textLength="32.5" lengthAdjust="spacingAndGlyphs" transform="translate(50.2 237.6) rotate(-57)" stroke="#000" stroke-width=".14">BRPF1 g1</text>
<text font-size="7.75" textLength="32.5" lengthAdjust="spacingAndGlyphs" transform="translate(62.4 238.2) rotate(-57)" stroke="#000" stroke-width=".14">BRPF1 g2</text>
<text font-size="7.75" textLength="32.5" lengthAdjust="spacingAndGlyphs" transform="translate(77.4 238.4) rotate(-57)" stroke="#000" stroke-width=".14">BRPF1 g3</text>
<text x="120.6" y="192.8" font-size="12.6" stroke="#000" stroke-width=".16">g</text>
<text x="257.3" y="209.6" font-size="6.76" text-anchor="middle" textLength="19.3" lengthAdjust="spacingAndGlyphs" stroke="#000" stroke-width=".14">BRPF1</text>
<text x="378.4" y="209.6" font-size="6.76" text-anchor="middle" textLength="19.3" lengthAdjust="spacingAndGlyphs" stroke="#000" stroke-width=".14">BRPF2</text>
<text x="475.3" y="209.6" font-size="6.76" text-anchor="middle" textLength="19.3" lengthAdjust="spacingAndGlyphs" stroke="#000" stroke-width=".14">BRPF3</text>
<text x="161" y="219.5" font-size="6.75" text-anchor="middle" textLength="12.3" lengthAdjust="spacingAndGlyphs" stroke="#000" stroke-width=".14">NT1</text>
<text x="214.7" y="219.2" font-size="6.81" text-anchor="middle" textLength="7.4" lengthAdjust="spacingAndGlyphs" stroke="#000" stroke-width=".14">g1</text>
<text x="257.7" y="219.2" font-size="6.81" text-anchor="middle" textLength="7.4" lengthAdjust="spacingAndGlyphs" stroke="#000" stroke-width=".14">g2</text>
<text x="299.7" y="219.2" font-size="6.81" text-anchor="middle" textLength="7.4" lengthAdjust="spacingAndGlyphs" stroke="#000" stroke-width=".14">g3</text>
<text x="358" y="219.2" font-size="6.81" text-anchor="middle" textLength="7.4" lengthAdjust="spacingAndGlyphs" stroke="#000" stroke-width=".14">g1</text>
<text x="400.3" y="219.2" font-size="6.81" text-anchor="middle" textLength="7.4" lengthAdjust="spacingAndGlyphs" stroke="#000" stroke-width=".14">g2</text>
<text x="454.3" y="219.2" font-size="6.81" text-anchor="middle" textLength="7.4" lengthAdjust="spacingAndGlyphs" stroke="#000" stroke-width=".14">g1</text>
<text x="497.4" y="219.2" font-size="6.81" text-anchor="middle" textLength="7.4" lengthAdjust="spacingAndGlyphs" stroke="#000" stroke-width=".14">g2</text>
<text font-size="6.6" text-anchor="middle" textLength="19" lengthAdjust="spacingAndGlyphs" transform="translate(138.2 243.4) rotate(-90)" stroke="#000" stroke-width=".14">DMSO</text>
<text font-size="6.52" text-anchor="middle" textLength="15.6" lengthAdjust="spacingAndGlyphs" transform="translate(138.2 287.4) rotate(-90)" stroke="#000" stroke-width=".14">Taxol</text>
<text font-size="7.75" text-anchor="middle" textLength="24.3" lengthAdjust="spacingAndGlyphs" transform="translate(128 265.2) rotate(-90)" stroke="#000" stroke-width=".14">T1-160</text>
<clipPath id="p1"><circle cx="160.9" cy="243.2" r="20.5"/></clipPath>
<circle cx="160.9" cy="243.2" r="20.5" fill="#e6dff4"/>
<g clip-path="url(#p1)">
<g filter="url(#b10)">
<path d="M158.8 224.4h0m-5 .1h0m3.3 .2h0m1 0h0m.1 .4h0m-1.7 .6h0m12.3 .3h0m-9.7 .1h0m-5.5 .9h0m-1.8 .1h0m-2.6 .2h0m20.5 .5h0m-14.3 .4h0m3.1 .1h0m14.9 0h0m-26.3 .3h0m1.3 .4h0m22.7 .1h0m-3.8 .2h0m-12.8 .2h0m17.8 .9h0m-24.2 .3h0m6.2 0h0m-8.9 .1h0m27.1 .8h0m-27.9 .4h0m15.1 0h0m16.1 0h0m-6.4 .9h0m-1.8 .5h0m-12.6 .1h0m18.6 0h0m-5.2 .7h0m-24 .3h0m31.3 0h0m-24.2 .1h0m26 0h0m.7 .2h0m-13.1 .2h0m-10.7 .2h0m20 0h0m-13.1 .2h0m-8.3 .6h0m9.9 0h0m-17.2 .3h0m28.2 .1h0m3.4 1.2h0m2 .4h0m-25.5 .7h0m-7.8 .1h0m7.1 .6h0m-6.7 .4h0m23.7 0h0m-6.1 .1h0m4.1 0h0m3 .6h0m-25.3 1.2h0m33.9 .4h0m-8.4 .2h0m2.7 .1h0m-10.7 .5h0m1.4 .2h0m16.4 .1h0m-22.3 .2h0m-11.7 .1h0m5.8 .2h0m-8.1 .2h0m33.8 0h0m-13.9 .3h0m13.8 .8h0m-7.4 .8h0m8.1 0h0m-20.7 .9h0m4.9 .1h0m-5.2 .1h0m-12.8 .2h0m.1 0h0m19 .1h0m15.3 0h0m-19.3 .3h0m-4.5 .3h0m21.7 0h0m-34.9 .4h0m30.5 .1h0m-31.2 .1h0m1.1 .2h0m.9 0h0m8.6 .2h0m-5.2 .1h0m23.8 .1h0m-23.2 .3h0m-.6 .2h0m12.7 .3h0m1.9 0h0m-19.6 .7h0m3.6 .1h0m-4 .2h0m14.8 0h0m-2.6 .1h0m14.1 .1h0m5.6 0h0m-10.9 .8h0m-3.1 .2h0m-10.8 .1h0m3.5 .3h0m21.9 .1h0m-19.5 .2h0m4.6 0h0m3.7 .1h0m-8.2 .1h0m-5.6 .3h0m6.7 .2h0m20.4 .4h0m-20.2 .1h0m-11.6 .1h0m14.5 .9h0m5.2 .2h0m-15.4 .4h0m19.8 1.2h0m5.3 .1h0m-24.1 .4h0m.7 .4h0m12.8 .3h0m-6.5 2.3h0m-4.6 .9h0m10 0h0m-2.1 1.6h0" stroke="#7a46ba" stroke-width="4.05" stroke-linecap="round" fill="none" stroke-opacity="0.24"/>
</g>
<g filter="url(#b6)">
<path d="M161.2 223.8h0m5.7 .3h0m-8.1 .3h0m-5 .1h0m3.3 .2h0m1 0h0m5.9 .2h0m-5.8 .2h0m8.2 0h0m-.3 .1h0m-5.5 .2h0m2.6 0h0m-3.8 .2h0m-2.9 .1h0m12.3 .3h0m-9.7 .1h0m-5.2 .1h0m-1.2 .4h0m.9 .4h0m5.7 0h0m-7.5 .1h0m-2.6 .2h0m24 .2h0m-3.5 .3h0m-14.3 .4h0m18 .1h0m-12.6 .3h0m-10.7 .1h0m.6 0h0m-2.3 .3h0m22.7 .1h0m-3.8 .2h0m-13.3 .6h0m18.8 .3h0m1.3 .2h0m-26 .3h0m6.2 0h0m-8.9 .1h0m6.8 .3h0m8.8 0h0m-7.1 .1h0m11.7 .2h0m6.9 .2h0m2 .3h0m-26.8 .7h0m21.7 .3h0m4.2 .6h0m-18.1 .3h0m-1.4 .4h0m14.3 0h0m-15.7 .1h0m20 .1h0m-28.3 .1h0m31.3 0h0m-24.2 .1h0m7.5 0h0m-5.2 .1h0m24.4 .1h0m-23.8 .4h0m20 0h0m-31.2 .2h0m18.1 0h0m17.8 .3h0m-16.2 .3h0m-17.2 .3h0m17.3 0h0m10.9 .1h0m-28.9 .4h0m14.8 .1h0m.3 .1h0m17.2 .6h0m2 .4h0m-18 .1h0m-19.6 .2h0m12.1 .4h0m6 .5h0m20.5 0h0m-27.2 .2h0m-6.7 .4h0m27.3 0h0m-9.7 .1h0m4.1 0h0m5 .6h0m3.3 .8h0m-27.9 .1h0m-2.7 .3h0m25.5 .6h0m2.7 .1h0m-17.5 .1h0m6.8 .4h0m10 0h0m-27.7 .2h0m14.9 0h0m20.6 .1h0m-22.3 .2h0m-5.9 .3h0m-8.1 .2h0m33.8 0h0m-13.9 .3h0m-3.1 .8h0m16.9 0h0m-31.8 .2h0m10.5 0h0m21.5 .1h0m.6 0h0m-8.2 .5h0m1.9 .1h0m-15.5 .3h0m1 .5h0m-.3 .2h0m9 0h0m-21.8 .2h0m.1 0h0m19 .1h0m15.3 0h0m-35.7 .1h0m11.9 .5h0m21.7 0h0m-34.9 .4h0m30.5 .1h0m-30.1 .3h0m.9 0h0m8.6 .2h0m-5.2 .1h0m23.8 .1h0m7.9 0h0m-25.6 .2h0m-5.5 .1h0m6.2 .1h0m-6.8 .1h0m12.7 .3h0m1 0h0m.9 0h0m4.1 .6h0m-23.7 .1h0m34 .2h0m-34.4 .1h0m14.8 0h0m1.7 .2h0m9.8 0h0m-8.5 .5h0m3.2 .3h0m9.2 .2h0m-23.1 .1h0m6 .1h0m15.1 .1h0m-25.3 .2h0m.1 .1h0m10 .1h0m.1 .2h0m-5.6 .3h0m6.7 .2h0m8.1 .3h0m12.3 .1h0m-20.2 .1h0m13.7 0h0m-24.2 .2h0m11 0h0m18.8 .5h0m-22.5 .1h0m22.4 .2h0m-18.9 .2h0m7.8 0h0m-15.4 .4h0m24.7 .1h0m-16.4 .3h0m-8.7 .2h0m26.3 0h0m-6.1 .6h0m-20.8 .4h0m3.1 0h0m1.7 0h0m-2.8 .1h0m-2.7 .6h0m16.2 .1h0m-9.6 .4h0m-2.6 .7h0m9.6 .2h0m9.6 0h0m-12.2 .1h0m-1.3 .9h0m-4.6 .9h0m10 0h0m-8 1.3h0m5.9 .3h0" stroke="#7a46ba" stroke-width="1.85" stroke-linecap="round" fill="none" stroke-opacity="0.66"/>
<path d="M158.5 228.3h0m-11.4 .3h0m7.4 .9h0m17.8 .9h0m-27.7 1.6h0m15.1 0h0m16.1 0h0m-8.2 1.4h0m-12.6 .1h0m22.5 1.1h0m-12.4 .4h0m-12.1 1h0m-7 2.8h0m24.1 1h0m1 .7h0m8.6 1.6h0m-15 1h0m-17.6 .4h0m32.1 2.3h0m-15.8 1h0m-2.9 .7h0m-18.4 .9h0m4 2.2h0m8.2 .3h0m19.7 .1h0m-14 1h0m-7.3 .4h0m21.9 .1h0m-14.9 .2h0m3.7 .1h0m-18.5 1.2h0m14.5 .9h0m14.9 1.9h0m-23.4 .8h0" stroke="#5a28a2" stroke-width="2.7" stroke-linecap="round" fill="none" stroke-opacity="0.8"/>
</g><g filter="url(#b3)">
<path d="M164.2 223.5h0m-6 .2h0m1.1 .1h0m-3.3 .1h0m6.2 0h0m2.1 0h0m-3.1 .4h0m-1.9 .2h0m7.1 0h0m-3.1 .3h0m3.5 .6h0m-6.9 .1h0m.1 .1h0m6.2 0h0m-4.5 .3h0m-9.3 .1h0m14.1 0h0m-10.4 .1h0m-3.4 .4h0m4 .3h0m11.6 0h0m-8.9 .2h0m3.7 .3h0m4.4 0h0m.3 0h0m-16.7 .1h0m3.1 0h0m-6.1 .4h0m6.5 .2h0m-2.8 .2h0m.4 0h0m5.3 .1h0m13.9 .2h0m-13.7 .2h0m-6 .2h0m18.5 .2h0m-8.4 .1h0m-3.8 .1h0m4.4 0h0m8.2 .1h0m-13.2 .1h0m-10 .1h0m14.7 0h0m-9.4 .2h0m7.7 0h0m7.7 0h0m5 0h0m-12.4 .1h0m-9.1 .1h0m20.4 0h0m1.1 0h0m-23.1 .1h0m7.8 .1h0m-9.5 .2h0m1.6 .1h0m-2.7 .1h0m10.1 0h0m17 0h0m-11.5 .1h0m-4.2 .3h0m-10.2 .3h0m19.5 0h0m-1.1 .1h0m-21.7 .1h0m22.1 0h0m-12.4 .1h0m-6.8 .1h0m11.7 .3h0m5.3 .1h0m-19.4 .7h0m26.5 .1h0m1.2 .2h0m-28.6 .1h0m3.3 .1h0m-3.8 .1h0m17.7 0h0m.5 0h0m14.6 .1h0m-26 .1h0m1.8 0h0m12 0h0m-17.5 .3h0m3.5 0h0m14.3 0h0m3.6 0h0m-16.7 .2h0m19.9 .1h0m-5.3 .3h0m9 0h0m-31.8 .1h0m6 .1h0m3.2 0h0m-7.7 .1h0m.9 .1h0m15.6 0h0m3.6 .1h0m-21.4 .1h0m2.7 0h0m13.3 .1h0m-2.5 .2h0m-14.3 .1h0m6.3 0h0m11.3 .2h0m-16.6 .1h0m.1 .1h0m4.1 0h0m-6.1 .2h0m5.4 0h0m6.8 0h0m17.8 .2h0m-27.7 .1h0m24 0h0m-20.1 .1h0m11.8 0h0m13.7 .2h0m2.4 0h0m-8.5 .1h0m.7 .1h0m-16.8 .1h0m9.1 0h0m-16.9 .1h0m.6 0h0m34.9 .2h0m-12.4 .1h0m2.5 0h0m-26.1 .1h0m15.9 0h0m11.6 0h0m-14.7 .3h0m6.3 0h0m1.9 0h0m12.1 .1h0m-30.3 .1h0m9.4 0h0m-6.1 .4h0m28.8 0h0m-1.1 .2h0m-16.4 .1h0m18.1 .1h0m.8 0h0m.4 0h0m-26.8 .2h0m7.3 .1h0m1.5 0h0m16 0h0m1 .1h0m-2.2 .2h0m-15.4 .1h0m13.6 0h0m2.6 0h0m-6.4 .1h0m-30.4 .2h0m14.2 0h0m4.8 0h0m15.1 .1h0m-32.4 .1h0m-1.4 .1h0m8.3 .2h0m-2.2 .5h0m12.1 0h0m6.8 0h0m-9.3 .1h0m9.1 0h0m-12.9 .1h0m24.9 .2h0m-8.5 .1h0m-14.9 .1h0m-9.9 .1h0m34.3 .2h0m0 0h0m-22.1 .2h0m-5.1 .1h0m19.1 0h0m-20.2 .1h0m1.5 0h0m25 0h0m-13.3 .1h0m-5.1 .1h0m.2 .2h0m-10.5 .1h0m13.1 .1h0m3.1 0h0m6.5 0h0m.9 0h0m-12.9 .1h0m16.7 .1h0m-17.4 .1h0m21.2 .1h0m-37.1 .2h0m.5 0h0m5.4 .1h0m29 .1h0m-12.8 .2h0m-14.5 .1h0m28.1 0h0m-16.5 .2h0m1.7 0h0m1.6 0h0m3.7 0h0m-12.8 .2h0m11.3 0h0m-15.4 .2h0m23.6 .1h0m-24.6 .1h0m22.1 .2h0m-31.3 .1h0m30.8 0h0m-29.5 .1h0m.5 .5h0m26.6 .1h0m10 .1h0m-26.8 .1h0m.5 .2h0m6.2 .1h0m9.4 0h0m-5.4 .3h0m10.2 0h0m-23.6 .1h0m1.2 .1h0m-9.8 .1h0m4.4 .3h0m31.6 0h0m-14.1 .1h0m-15.3 .1h0m13.2 .1h0m-1.1 .1h0m4.2 0h0m-18.6 .1h0m11.1 .2h0m-3.2 .6h0m18.1 0h0m6.7 .2h0m-13.8 .1h0m11.7 0h0m1.4 0h0m-36.9 .1h0m21.2 .1h0m15.1 0h0m-14.9 .2h0m1.7 .1h0m12.8 0h0m-11.3 .5h0m8.4 0h0m-13.9 .1h0m-7.7 .1h0m26.5 .6h0m-23.7 .1h0m-9.4 .1h0m28.6 .3h0m-1.4 .2h0m-25.7 .1h0m6.9 0h0m5.3 0h0m-1.8 .2h0m-8.8 .1h0m10.7 0h0m-7.1 .4h0m21.4 0h0m3.6 .3h0m-17.2 .1h0m-4.9 .2h0m.9 .1h0m-7 .1h0m22 0h0m-7.4 .1h0m9.4 .1h0m-19.5 .3h0m-8.7 .3h0m25.4 0h0m6.2 .1h0m-12.1 .1h0m-12.2 .1h0m13.9 0h0m-18.7 .2h0m10.1 .2h0m1.6 0h0m8.4 .1h0m7.2 0h0m1.5 .3h0m-22.9 .2h0m18.2 .1h0m1.8 0h0m-9.6 .2h0m-8 .6h0m-10.6 .2h0m10.9 0h0m10.9 0h0m1.2 .1h0m6.6 .1h0m-23.2 .1h0m11 .3h0m-1.6 .3h0m4.7 0h0m5.2 .2h0m-14.2 .2h0m-8.2 .4h0m7.1 0h0m-.4 .1h0m.4 0h0m3.4 0h0m7.2 .1h0m4.2 .1h0m1.7 0h0m-6.7 .3h0m-16 .3h0m11.9 .1h0m7.9 .1h0m-14.7 .1h0m2.5 0h0m-3.5 .1h0m11.3 .2h0m-15.3 .2h0m17 .5h0m4.1 0h0m-13.8 .1h0m-3.2 .8h0m10.8 .3h0m-11.3 .1h0m1 .6h0m10 0h0m-1.8 .1h0m-8.6 .1h0m2.2 0h0m11.2 0h0m-5.2 .1h0m.5 .1h0m4.4 .1h0m-4.9 .2h0m-5.7 .2h0m.6 0h0" stroke="#7a46ba" stroke-width="1" stroke-linecap="round" fill="none" stroke-opacity="0.55"/>
<path d="M147.1 228.6h0m7.4 .9h0m17.8 .9h0m3.5 1.6h0m-10.7 3h0m-19.1 3.8h0m33.7 3.3h0m-16.3 4.7h0m-21.3 1.6h0m4 2.2h0m8.2 .3h0m5.7 1.1h0m-7.3 .4h0m21.9 .1h0m-14.9 .2h0m3.7 .1h0m-12.5 4.8h0" stroke="#5a28a2" stroke-width="1.3" stroke-linecap="round" fill="none" stroke-opacity="0.9"/>
</g></g>
<circle cx="160.9" cy="243.2" r="20.3" fill="none" stroke="#a79cc4" stroke-width="0.4"/>
<clipPath id="p2"><circle cx="160.9" cy="287.4" r="20.6"/></clipPath>
<circle cx="160.9" cy="287.4" r="20.6" fill="#efeef3"/>
<g clip-path="url(#p2)">
<g filter="url(#b10)">
<path d="M160.9 268.4h0m-5.2 .4h0m-4.6 1.2h0m.9 0h0m16.3 .4h0m-15.9 .2h0m19.9 1h0m-21.7 .8h0m22.8 .2h0m-18.7 .7h0m16.7 1.7h0m-20.5 .2h0m-.7 1.9h0m-3 .3h0m.1 .1h0m16.2 .1h0m15.4 1.8h0m-36.5 2.6h0m4.7 .1h0m9.9 .6h0m19.9 .1h0m-6.5 .3h0m8.3 .5h0m-11.8 1.4h0m-26 2.5h0m19.1 2.6h0m13.1 0h0m-17.8 .5h0m16.3 0h0m-11.2 .3h0m9.2 0h0m-5 1.2h0m-8.8 .4h0m-.7 .4h0m19.1 .1h0m5.3 1.8h0m-16.9 .6h0m13 .1h0m-30.6 .2h0m30.5 .9h0m-31.1 .4h0m-1.1 .7h0m31.8 .4h0m-10.6 .4h0m-8.3 .4h0m17.5 .1h0m1.5 .9h0m-2.9 1h0m-15.7 .5h0m-4.4 .1h0m14 2.3h0m-1.2 2h0" stroke="#7a46ba" stroke-width="4.2" stroke-linecap="round" fill="none" stroke-opacity="0.35"/>
</g>
<g filter="url(#b6)">
<path d="M160.9 268.4h0m-5.2 .4h0m-2.9 .7h0m-.8 .5h0m20.3 1.6h0m-21.7 .8h0m22.8 .2h0m-15.2 .2h0m-3.5 .5h0m6.7 1.2h0m5.2 .7h0m-4.7 .9h0m-11.7 1h0m-5.8 .2h0m2.8 .1h0m.1 .1h0m24.9 .3h0m-10.1 1.4h0m10.8 2h0m-25.8 .9h0m30.1 .1h0m-.3 .6h0m1.8 .8h0m1 .1h0m-35.3 1.2h0m26.3 0h0m-3.8 .1h0m-10.9 .3h0m23.4 1.2h0m0 1.9h0m-20.8 1h0m1.4 .7h0m13.1 0h0m-17.8 .5h0m16.3 0h0m-2 .3h0m5.4 0h0m3.4 0h0m-9.4 1.3h0m-13.2 .3h0m-.7 .4h0m1.2 1.4h0m22.6 .7h0m-8.8 .3h0m5.5 .2h0m-30.6 .2h0m-1 1.1h0m31.1 1.3h0m-.8 .2h0m-17.4 .1h0m7.6 .1h0m-8.3 .4h0m17.5 .1h0m-4.3 .6h0m-11 1.1h0m13.9 .2h0m-17 1.2h0m10.9 1.7h0m-11.7 1.9h0m10.5 .1h0" stroke="#7a46ba" stroke-width="1.9" stroke-linecap="round" fill="none" stroke-opacity="0.7"/>
<path d="M151.1 270h0m17.2 .4h0m-15.9 .2h0m19 4.4h0m-20.5 .2h0m12.6 2.4h0m15.4 1.8h0m-36.5 2.6h0m14.6 .7h0m13.4 .4h0m-29.5 4.4h0m19.5 3.4h0m4.2 1.2h0m9.6 .9h0m5.3 1.8h0m-16.9 .6h0m12.9 1.2h0m-31.1 .4h0m-1.1 .7h0m31.9 2.2h0m-18.6 1.5h0m-4.4 .1h0" stroke="#5a28a2" stroke-width="2.8" stroke-linecap="round" fill="none" stroke-opacity="0.85"/>
</g><g filter="url(#b3)">
<path d="M157.6 267.9h0m9.6 1.6h0m-7.2 .3h0m-3.5 .1h0m6.9 .2h0m1.1 .4h0m-8.5 .6h0m-1 .1h0m-.9 .2h0m-6 1.4h0m12.6 .4h0m13.4 2.1h0m-20.5 .3h0m10.2 1.9h0m.7 1.4h0m7.5 .6h0m-20.2 .4h0m9.7 0h0m.7 .2h0m.5 0h0m-19.1 2.1h0m13 0h0m7.3 .1h0m-3.8 .5h0m18.7 .2h0m-7.4 .3h0m-24.3 .2h0m-3.6 .1h0m8.2 .6h0m-10.2 1.4h0m20.4 1.1h0m13.2 .2h0m-18.7 .2h0m-2.3 .2h0m16.4 1h0m10.2 .5h0m-36.3 .2h0m27.1 .4h0m-26.8 .5h0m12.9 0h0m6.2 .2h0m-13.6 .2h0m5.8 .1h0m-5.5 .5h0m9.6 .3h0m9.9 0h0m-16.1 .2h0m9.3 0h0m-10.4 .6h0m16.6 .1h0m-2.5 .2h0m1.9 .2h0m-21.5 .6h0m21.7 .1h0m3.1 0h0m-12.8 .4h0m-11.6 .4h0m1 0h0m24.1 0h0m-5.5 .1h0m11.3 .3h0m-6.6 .5h0m1.7 0h0m-26.2 .5h0m3 .4h0m.1 1.2h0m-2 .8h0m18.5 0h0m-6.8 .2h0m-1.2 .2h0m-10.6 .2h0m28.2 .1h0m-13.8 .7h0m-16.1 .1h0m12.2 .1h0m-6.5 .5h0m10.8 .4h0m-7.9 .1h0m1.7 .4h0m-4.5 .2h0m-3.6 .1h0m15.8 .6h0m2.7 .1h0m-15.3 1.4h0m19.6 0h0m-13.4 .1h0m6.8 .3h0m-13.6 .1h0m9.2 .9h0m.5 1.8h0" stroke="#7a46ba" stroke-width="1" stroke-linecap="round" fill="none" stroke-opacity="0.55"/>
<path d="M168.3 270.4h0m-15.9 .2h0m19 4.4h0m7.5 4.4h0m-21.9 3.3h0m-16.1 4.8h0m23.7 4.6h0m-2 3.3h0m-18.2 1.6h0m-1.1 .7h0m8.9 3.8h0" stroke="#5a28a2" stroke-width="1.3" stroke-linecap="round" fill="none" stroke-opacity="0.9"/>
</g></g>
<circle cx="160.9" cy="287.4" r="20.4" fill="none" stroke="#cfcbdc" stroke-width="0.4"/>
<clipPath id="p3"><circle cx="215.9" cy="243.2" r="20.5"/></clipPath>
<circle cx="215.9" cy="243.2" r="20.5" fill="#e6dff4"/>
<g clip-path="url(#p3)">
<g filter="url(#b10)">
<path d="M213.6 223.1h0m-1.5 .7h0m3.9 .3h0m.7 .9h0m7.4 .9h0m-5.4 .2h0m2.2 .1h0m-.8 .3h0m-12.2 .9h0m1.4 .7h0m18.5 .5h0m-3.6 .2h0m-21.9 .5h0m.5 .8h0m15.8 .2h0m-13.6 .1h0m5 .5h0m-.6 1.5h0m-10.1 .3h0m31.8 .2h0m-12.8 .9h0m-17.4 .2h0m24.3 0h0m-.8 .1h0m-12.2 .1h0m19.5 .6h0m-17.5 .1h0m-4.3 .7h0m-.6 .3h0m6.1 0h0m-5.8 .8h0m-.8 .7h0m16.8 1.3h0m.4 .1h0m8 0h0m-27.5 .7h0m24.8 .2h0m.8 .1h0m-2.4 .1h0m-27.9 .6h0m-5.9 .2h0m26.5 .1h0m-1.6 .3h0m-19.6 .6h0m18.7 0h0m-23.5 .4h0m28.1 0h0m-26.3 1h0m16.8 0h0m7.7 .2h0m-.2 .3h0m-19.2 .2h0m2.3 0h0m20.2 .4h0m8.9 .1h0m-34.3 .1h0m-3.4 .2h0m37.1 0h0m-28.7 .6h0m-2.6 .4h0m3.9 .3h0m25.6 0h0m-13.5 .4h0m-12.6 .2h0m-9.8 .4h0m26.5 1.1h0m-25.9 .5h0m3.1 .4h0m32.6 .1h0m-19.8 .1h0m11.6 .9h0m-25.3 .6h0m14.6 .7h0m-13.1 .3h0m24.6 .3h0m-22.9 .3h0m6.6 0h0m3.4 .9h0m-3.6 .1h0m20 .3h0m1.2 .6h0m-18 .4h0m14.2 0h0m-19 .1h0m9.2 .2h0m14.4 .5h0m-30 .2h0m13.3 .5h0m-9.7 .2h0m24.1 .4h0m-11.9 .2h0m8.1 .6h0m2.8 .5h0m-14 .2h0m10.4 .2h0m-19.6 .6h0m18.2 .7h0m-11.1 .2h0m-1.5 .3h0m14.7 .3h0m-8.6 .4h0m-5.5 .3h0m7.9 .5h0m2.6 .6h0m-2.7 .5h0" stroke="#7a46ba" stroke-width="4.05" stroke-linecap="round" fill="none" stroke-opacity="0.24"/>
</g>
<g filter="url(#b6)">
<path d="M213.6 223.1h0m2.7 .4h0m.2 .1h0m-4.4 .2h0m-.7 .2h0m4.6 .1h0m.3 0h0m-.7 .4h0m-6.6 .1h0m6.1 .2h0m9 1.1h0m-5.4 .2h0m2.2 .1h0m-2.9 .7h0m-10.1 .5h0m16.3 .1h0m-10.5 .4h0m-4.4 .2h0m17.6 .3h0m.9 .2h0m-3.6 .2h0m-6.4 .1h0m.6 0h0m-16.1 .4h0m24.5 .1h0m-22.7 .2h0m5 .2h0m11.4 .2h0m-17.7 .1h0m25.7 .1h0m-23.5 .2h0m5 .5h0m-5.4 .8h0m6.5 .2h0m-1.7 .5h0m21.7 .5h0m-16.4 .1h0m-12.4 .3h0m16 .5h0m-17.4 .2h0m23.5 .1h0m-16.4 .1h0m4.2 0h0m11.9 0h0m-8.8 .5h0m15.3 0h0m1.1 .1h0m-17.5 .1h0m18.9 .7h0m-26.3 .1h0m2.5 .2h0m10.9 .6h0m7.8 .1h0m-10.1 .5h0m-9.1 .3h0m26.6 .9h0m-33 .2h0m23.2 .2h0m-24.1 .1h0m32.5 0h0m-19.5 .1h0m-8 .6h0m12.8 .2h0m12 0h0m-1.6 .2h0m-9.8 .2h0m-18.1 .4h0m27.2 0h0m-1.2 .2h0m-5.4 .1h0m11.6 .3h0m-36.9 .3h0m4.1 .3h0m4 0h0m-8.8 .4h0m28.1 0h0m-7.8 .1h0m17.9 .4h0m-38.3 .3h0m5.4 .1h0m-3.5 .1h0m24.5 .2h0m-.2 .3h0m3.3 .6h0m8.9 .1h0m-37.7 .3h0m37.1 0h0m-36.8 .3h0m8.1 .3h0m4.7 0h0m-12.5 .1h0m23.6 .1h0m-18.4 .2h0m3.9 .3h0m25.6 0h0m-13.5 .4h0m1.1 .4h0m-3.5 .3h0m17.7 .6h0m-11.2 .4h0m-1.4 .3h0m-9.8 .5h0m-11.6 .1h0m32.6 .1h0m-19.8 .1h0m-5.6 .1h0m-9.3 .3h0m35.8 1.5h0m-18.2 .2h0m-14.9 .4h0m16.4 .1h0m8.2 .2h0m-16.3 .3h0m-4.6 .4h0m8 .5h0m-3.6 .1h0m20 .3h0m1.2 .6h0m-18 .4h0m16.7 0h0m-21.5 .1h0m9.2 .2h0m14.4 .5h0m-.3 .1h0m-29.7 .1h0m7.7 .2h0m9.8 .1h0m-4.2 .2h0m12.3 .6h0m2.1 0h0m-18.7 .8h0m14.9 0h0m2.8 .5h0m-23.9 .1h0m9.9 .1h0m10.4 .2h0m-19.6 .6h0m3.4 0h0m-1.6 .4h0m16.3 .1h0m.1 .2h0m-11.1 .2h0m-1.5 .3h0m7 .7h0m-6.4 .3h0m7.9 .5h0m2.6 .6h0m-.9 .2h0m-8.9 .1h0m6.1 0h0" stroke="#7a46ba" stroke-width="1.85" stroke-linecap="round" fill="none" stroke-opacity="0.66"/>
<path d="M216.7 225h0m3.4 1.5h0m-1.5 3.8h0m-19.3 2.4h0m25.9 1.3h0m-15.3 1.6h0m5.5 .3h0m-5.8 .8h0m16.4 2.1h0m6.1 1h0m-36.2 .9h0m24.9 .4h0m-.9 .6h0m-4.9 1.4h0m-11.7 .7h0m2.3 0h0m-5.2 .6h0m5.8 2.1h0m-9.8 .4h0m.6 1.6h0m27.5 1.5h0m-25.3 .6h0m14.6 .7h0m-11.4 .9h0m23.8 2.3h0m-21.8 1.7h0m12.2 .6h0m8 3.6h0m-8.6 .4h0m2.3 1.9h0" stroke="#5a28a2" stroke-width="2.7" stroke-linecap="round" fill="none" stroke-opacity="0.8"/>
</g><g filter="url(#b3)">
<path d="M218.1 223.2h0m-2.3 .5h0m4.3 .7h0m-8.8 .2h0m-.8 .2h0m2.2 0h0m-3.7 .1h0m11.9 .2h0m4.1 .1h0m-11.2 .1h0m-5.7 .2h0m-1.3 .2h0m5.1 0h0m-.9 .3h0m9.6 0h0m-12.6 .3h0m1.4 0h0m4.4 .2h0m-7.1 .2h0m2 .2h0m18 .1h0m-18.1 .1h0m5.3 0h0m9.7 0h0m1 .1h0m3.6 0h0m-14.5 .1h0m13.6 .2h0m-20.5 .3h0m-.3 .1h0m21.6 .1h0m-4.6 .2h0m-13.8 .1h0m1 .1h0m-3.2 .3h0m.4 .2h0m3 .1h0m7.5 0h0m-16.9 .1h0m24.8 .3h0m-21.9 .2h0m13.2 0h0m9.7 .3h0m.5 0h0m-6.8 .3h0m6.7 .2h0m-24.8 .1h0m24.2 .2h0m-15.1 .2h0m-8.1 .1h0m-1.9 .6h0m1.1 .1h0m19.5 .5h0m-19 .1h0m-3.4 .1h0m.9 0h0m24.1 0h0m-15.7 .1h0m-10.4 .1h0m22 .4h0m5.5 0h0m-10.7 .2h0m2.9 .1h0m-7.2 .2h0m2.5 0h0m9.2 0h0m-6.9 .1h0m-17.6 .1h0m.7 .4h0m5.7 .1h0m20 .1h0m-22.6 .1h0m13.7 .1h0m-15.8 .2h0m6 .1h0m23.7 .2h0m-12.1 .1h0m13.7 .1h0m-7.4 .1h0m-7.2 .2h0m12.1 0h0m-9.8 .3h0m.7 0h0m10.1 0h0m3.8 0h0m-20.7 .1h0m-10.6 .2h0m-5.5 .1h0m1.5 0h0m9.3 0h0m26.4 .2h0m-20 .3h0m-8.2 .2h0m23.3 0h0m1.4 0h0m-27.7 .2h0m-5.6 .2h0m4.4 .2h0m32.4 0h0m-30.2 .3h0m-4.9 .1h0m14.5 .5h0m6.9 0h0m-4.5 .2h0m7.9 0h0m1.2 .5h0m3.4 0h0m-25.9 .4h0m2.1 0h0m4.3 0h0m26.1 .2h0m-10.4 .4h0m2 0h0m5.1 .1h0m-12.6 .1h0m11.8 0h0m3.4 0h0m-33.7 .2h0m23.3 .1h0m-14.8 .1h0m13.6 0h0m2.5 .1h0m-6.6 .1h0m-3.2 .1h0m-18.9 .2h0m33.2 0h0m-31.7 .2h0m21.9 .1h0m7.1 0h0m-8.2 .3h0m7.9 .1h0m-28.3 .2h0m21.7 .1h0m15.2 .2h0m-22.7 .2h0m16.1 0h0m-22.6 .1h0m14.2 0h0m-6.8 .1h0m20.6 .2h0m-26.3 .3h0m15.5 .2h0m-.7 .2h0m4.4 0h0m-27.2 .5h0m25.9 .1h0m7.5 0h0m-33.1 .2h0m17.9 0h0m-21.5 .1h0m15.6 0h0m21.8 0h0m-22 .1h0m10.6 0h0m-2.4 .1h0m-19.1 .3h0m31.1 0h0m-35.8 .2h0m1.4 0h0m14 0h0m-14.6 .4h0m11.4 0h0m12.4 0h0m-23.8 .4h0m23.8 .2h0m10.4 .2h0m-9 .5h0m12.2 .1h0m-37 .3h0m30.6 .1h0m3.6 0h0m-16 .2h0m-17.4 .1h0m8.8 .2h0m25.4 0h0m-4.3 .1h0m-30.7 .1h0m12.1 0h0m-11.5 .2h0m1.9 .1h0m6.4 .1h0m23.1 0h0m-22.9 .1h0m24.8 0h0m-14.3 .1h0m-.3 .4h0m-9.7 .5h0m17.7 0h0m.9 .1h0m4.9 0h0m-15.1 .1h0m8 .1h0m7 0h0m-31.5 .1h0m-.8 .1h0m35.6 0h0m-35.4 .3h0m5.7 0h0m25.9 .1h0m2.3 0h0m-14.3 .3h0m8.9 0h0m6.7 0h0m-27.5 .1h0m10.3 .1h0m.1 0h0m1.8 .1h0m6 .3h0m-2.6 .1h0m-15.4 .3h0m6.3 .1h0m9.5 0h0m-2.5 .2h0m1.5 0h0m-19.4 .1h0m22 .9h0m-22.8 .2h0m17 .2h0m10.2 .1h0m-9.8 .1h0m12.7 0h0m-9.2 .2h0m9 0h0m-21.1 .4h0m16.1 .1h0m2.8 .7h0m-.3 .3h0m-14.9 .3h0m13.4 0h0m-15.9 .2h0m-3.9 .1h0m21.3 0h0m-20.5 .1h0m-5.3 .1h0m26.5 0h0m-13.9 .3h0m1.2 0h0m13.7 .3h0m-5.4 .1h0m-9.6 .7h0m-12.5 .1h0m2.2 .2h0m21.1 .1h0m-15.1 .3h0m-1.4 .1h0m-.9 .2h0m13.4 .1h0m-13.5 .1h0m8.4 .4h0m-6.1 .1h0m3.2 .2h0m10.6 0h0m-.9 .2h0m-18 .1h0m6.3 .2h0m13.8 0h0m-15.3 .1h0m4.2 .4h0m6.6 .1h0m-2.3 .2h0m1.9 0h0m-3.4 .4h0m2.9 0h0m-10 .4h0m10.5 0h0m-5.5 .2h0m6.6 0h0m-5.4 .1h0m-1 .3h0m-4.6 .1h0" stroke="#7a46ba" stroke-width="1" stroke-linecap="round" fill="none" stroke-opacity="0.55"/>
<path d="M220.1 226.5h0m-1.5 3.8h0m6.6 3.7h0m-9.8 1.9h0m10.6 2.9h0m6.1 1h0m-12.2 1.9h0m-14.3 2.1h0m.6 2.7h0m-9.8 .4h0m17.4 4.4h0m12.4 3.2h0m-9.6 2.3h0m8 3.6h0m-6.3 2.3h0" stroke="#5a28a2" stroke-width="1.3" stroke-linecap="round" fill="none" stroke-opacity="0.9"/>
</g></g>
<circle cx="215.9" cy="243.2" r="20.3" fill="none" stroke="#a79cc4" stroke-width="0.4"/>
<clipPath id="p4"><circle cx="215.9" cy="287.4" r="20.6"/></clipPath>
<circle cx="215.9" cy="287.4" r="20.6" fill="#efeef3"/>
<g clip-path="url(#p4)">
<g filter="url(#b10)">
<path d="M208.6 269.2h0m3.3 .5h0m.3 2.5h0m3.2 .6h0m-11 .8h0m13.2 1.7h0m9.6 2.8h0m-21.6 2.1h0m13.6 .4h0m-20.8 1h0m36.9 .5h0m-28.3 3.7h0m22.2 1.9h0m-15.9 1.9h0m-2.7 2h0m-9.8 2.1h0m17.4 5.8h0m-13.4 .8h0m8.3 6h0m5.3 .6h0" stroke="#7a46ba" stroke-width="4.2" stroke-linecap="round" fill="none" stroke-opacity="0.35"/>
</g>
<g filter="url(#b6)">
<path d="M208.6 269.2h0m3.3 .5h0m.3 2.5h0m15 .2h0m-11.8 .4h0m2.2 2.5h0m3.7 2h0m5.2 .1h0m4.9 .5h0m-4.2 .2h0m-21.6 2.1h0m13.6 .4h0m16.1 1.5h0m-26.7 1.7h0m22.4 5.6h0m-17.7 .2h0m10.2 .3h0m-5.5 .3h0m-7.4 1.4h0m-9.8 2.1h0m7.1 1.7h0m8.4 2h0m6 3.4h0m-16.1 1.8h0m3.6 3.2h0m3.3 .5h0" stroke="#7a46ba" stroke-width="1.9" stroke-linecap="round" fill="none" stroke-opacity="0.7"/>
<path d="M204.4 273.6h0m-6 8h0m8.6 4.2h0m22.2 1.9h0m-11 11.8h0m-13.4 .8h0m13.6 6.6h0" stroke="#5a28a2" stroke-width="2.8" stroke-linecap="round" fill="none" stroke-opacity="0.85"/>
</g><g filter="url(#b3)">
<path d="M216.7 267.4h0m.3 2.3h0m-3.3 .8h0m6.7 0h0m1.8 .1h0m7.3 1.7h0m-3.1 2.3h0m-13.7 .7h0m3.4 2.5h0m2.6 1.3h0m9.6 .9h0m-22.9 .3h0m27.5 .1h0m-31 1.4h0m4.1 0h0m23.3 0h0m-20.9 1.6h0m18.2 1.1h0m-28.3 .7h0m17.4 .3h0m2 1.4h0m10.5 .9h0m-12.9 .1h0m15.7 .1h0m-31.2 .2h0m17.4 .7h0m17 1.3h0m-3.9 1.6h0m-18.3 1.2h0m14.7 1h0m-28.4 .7h0m17.8 .6h0m-17.6 1.3h0m24.8 .4h0m-2.6 .6h0m.5 1.5h0m-6 2.9h0m4.2 1.9h0m-4.4 .6h0m5.8 0h0" stroke="#7a46ba" stroke-width="1" stroke-linecap="round" fill="none" stroke-opacity="0.55"/>
<path d="M198.4 281.6h0m19.8 17.9h0m-13.4 .8h0m13.6 6.6h0" stroke="#5a28a2" stroke-width="1.3" stroke-linecap="round" fill="none" stroke-opacity="0.9"/>
</g></g>
<circle cx="215.9" cy="287.4" r="20.4" fill="none" stroke="#cfcbdc" stroke-width="0.4"/>
<clipPath id="p5"><circle cx="258.4" cy="243.2" r="20.5"/></clipPath>
<circle cx="258.4" cy="243.2" r="20.5" fill="#e6dff4"/>
<g clip-path="url(#p5)">
<g filter="url(#b10)">
<path d="M257.1 223.8h0m-3 .2h0m-.6 .1h0m1.7 0h0m-1.3 .2h0m4.4 .4h0m-4.1 .4h0m7.4 1h0m-6.9 .2h0m-2.7 .4h0m2.7 .4h0m8.2 .5h0m-15.4 1.4h0m22.4 .3h0m-20.3 .3h0m2.5 .1h0m8.9 .6h0m-16.6 .1h0m21.3 .3h0m-20.4 .2h0m28.2 0h0m-.7 .1h0m-.9 .7h0m-23.3 .1h0m19.5 0h0m-10.4 .8h0m-15.7 .3h0m23.7 .1h0m-9 .1h0m-4.9 .2h0m-6.2 .4h0m-4 1.1h0m34.3 .3h0m-11.3 .1h0m-21.6 .4h0m25.3 .3h0m-3.1 .1h0m-5 1.1h0m-2.2 1h0m7.8 0h0m-11.7 .2h0m8.3 .2h0m-11 .5h0m6.9 .5h0m-17.9 .9h0m15.7 .1h0m-12.2 .1h0m11.2 0h0m16.8 0h0m-31.8 .6h0m33.3 .2h0m-31 .3h0m31.5 .2h0m-6 .4h0m10.1 .1h0m-37.4 .2h0m35.5 .2h0m-37.5 .1h0m34.8 .1h0m-18.4 .1h0m.7 .3h0m-6.4 .5h0m-2.6 .3h0m-8 .2h0m13.4 .1h0m25.2 .5h0m-19.1 .6h0m17.8 .4h0m-24 .3h0m9.3 .6h0m-14.2 .1h0m-6.9 .3h0m10.7 .1h0m1.5 .1h0m23.8 .5h0m-4.6 .6h0m-4.4 .1h0m-25.6 .3h0m13.4 1.2h0m5 .7h0m-15.5 .4h0m23.5 .9h0m-4.7 .4h0m-10.9 1.7h0m20.8 .1h0m-28 .4h0m13.3 .2h0m15.5 0h0m-13 .2h0m4.1 .4h0m-3.1 .2h0m10.4 .1h0m-23.4 .7h0m16.9 .1h0m3.2 .4h0m-18.7 .3h0m-3 1h0m12.4 .3h0m-12.8 .4h0m20.2 .3h0m-8.3 .7h0m-6.3 .4h0m12 .6h0m-3.9 .2h0m6.3 .2h0m-9.1 .3h0m-1.5 .9h0" stroke="#7a46ba" stroke-width="4.05" stroke-linecap="round" fill="none" stroke-opacity="0.24"/>
</g>
<g filter="url(#b6)">
<path d="M257.1 223.8h0m-3 .2h0m1.1 .1h0m2.4 0h0m.7 .6h0m8.9 .3h0m-13 .1h0m.5 1.2h0m-4.1 .2h0m1.4 .2h0m2.7 .4h0m2.2 .1h0m6 .4h0m-10.4 .1h0m11.4 0h0m-16.4 1.3h0m23.8 0h0m-14.9 .1h0m13.5 .2h0m-17.8 .4h0m8.9 .6h0m4.7 .4h0m-20.4 .2h0m28.2 0h0m-.7 .1h0m-23.5 .4h0m16.9 .1h0m5.7 .2h0m-23.3 .1h0m19.5 0h0m-10.4 .8h0m17 .2h0m-29.1 .9h0m21.3 .6h0m3 .2h0m-25.6 .1h0m15.6 0h0m15.7 .6h0m-7.3 .7h0m-3.1 .1h0m-8 .3h0m3 .8h0m-13.5 .5h0m26.8 0h0m4 .4h0m-19.5 .1h0m7.8 0h0m-11.7 .2h0m5.8 0h0m2.5 .2h0m-11 .5h0m-4.8 .4h0m11.7 .1h0m-17.9 .9h0m31.2 0h0m.5 0h0m-28.2 .2h0m11.2 0h0m16.8 0h0m6.1 0h0m.5 0h0m-17.7 .1h0m9.3 .2h0m-11.9 .4h0m15.2 .1h0m4.5 0h0m-10.2 .1h0m-13.9 .1h0m-11.4 .1h0m34.4 0h0m-4.4 .2h0m1.5 0h0m3.7 .3h0m-36.5 .1h0m26.8 0h0m-6.1 .1h0m16.2 0h0m-37.4 .2h0m35.5 .2h0m-37.5 .1h0m16.4 .2h0m-3.6 .1h0m4.3 .2h0m-3.6 1.1h0m20.6 0h0m4.6 .5h0m-14.9 .2h0m-9.9 .2h0m8.4 0h0m-2.7 .2h0m19.4 .3h0m-24 .5h0m7.7 .5h0m-14.2 .1h0m-6.9 .3h0m10.7 .1h0m1.5 .1h0m-11.7 1.2h0m26.5 0h0m-25.6 .3h0m10.6 .1h0m8 .1h0m3.5 .4h0m8.4 .3h0m-15.2 .3h0m12.4 0h0m-28.2 .5h0m18.9 .2h0m-15.5 .4h0m10.8 .1h0m1.3 .1h0m20.1 .1h0m-24.7 .4h0m13.1 .2h0m-15.3 1.1h0m-.6 .4h0m21.9 .3h0m2.1 .4h0m-16.2 .3h0m13.4 0h0m-25.2 .1h0m3.4 .2h0m25.4 0h0m-13 .2h0m-13.1 .4h0m8.7 0h0m10.8 .3h0m5 0h0m-3.3 1.2h0m-23 .1h0m4.3 .2h0m9.1 .7h0m-12.1 .3h0m12.4 .3h0m.2 0h0m-13.4 .4h0m.4 0h0m.4 .2h0m18.5 .1h0m1.3 0h0m-19 .6h0m10.7 .1h0m3.2 .3h0m-9.5 .1h0m11.7 .3h0m.3 .3h0m-3.9 .2h0m6.3 .2h0m-9.1 .3h0m-1.5 .9h0" stroke="#7a46ba" stroke-width="1.85" stroke-linecap="round" fill="none" stroke-opacity="0.66"/>
<path d="M253.5 224.1h0m.4 .2h0m7.7 1.8h0m-12 3.5h0m-5.2 .8h0m-2.4 2.5h0m23.7 .1h0m-9 .1h0m-4.9 .2h0m-10.2 1.5h0m34.3 .3h0m-11.3 .1h0m-21.6 .4h0m13.1 4.9h0m-16 .7h0m33.3 1.8h0m-24.1 .9h0m-2.6 .3h0m-8 .2h0m37.3 1.6h0m-24 .3h0m24.2 1.7h0m-4.6 .6h0m-16.6 1.6h0m13 2h0m-4.7 .4h0m-10.9 1.7h0m6.1 .7h0m6.6 .6h0m-3.1 .2h0m-13 .8h0m16.9 .1h0" stroke="#5a28a2" stroke-width="2.7" stroke-linecap="round" fill="none" stroke-opacity="0.8"/>
</g><g filter="url(#b3)">
<path d="M259.4 223.8h0m.8 .1h0m2.1 .1h0m.3 0h0m-.9 .2h0m-.9 .2h0m-3.8 .2h0m-5.9 .4h0m8.6 0h0m-6.2 .2h0m.1 0h0m.4 0h0m12.6 .9h0m-6.1 .1h0m3.8 .2h0m-12.2 .2h0m5.7 .2h0m9.5 0h0m-16.6 .1h0m16.6 0h0m-10.3 .2h0m-3.6 .2h0m4 .2h0m12.8 0h0m-13.8 .1h0m13.6 .4h0m-10.7 .1h0m8.2 .1h0m-18.7 .1h0m-.9 .4h0m22.7 0h0m.1 0h0m-23.3 .2h0m.1 .2h0m6.4 0h0m-.9 .2h0m19.2 0h0m-11.9 .2h0m-2.5 .1h0m3.7 0h0m6.4 .4h0m-14.6 .3h0m1.5 0h0m8.3 .2h0m-4.9 .1h0m-4.7 .3h0m6.9 0h0m-14.1 .2h0m9.2 .1h0m-5.7 .1h0m-4.2 .2h0m1.2 0h0m8.4 0h0m-.4 .1h0m1.9 .4h0m-5 .3h0m12.6 .1h0m-22.6 .1h0m2.1 .2h0m26.8 .3h0m-3 .7h0m-9.9 .5h0m.7 0h0m12.5 0h0m4.8 .1h0m-25.2 .1h0m8.1 0h0m8.7 .4h0m-22.2 .2h0m4.5 0h0m6.7 .1h0m15.7 0h0m-7.2 .1h0m2 0h0m6.1 0h0m-9.3 .1h0m3.6 .1h0m-23 .2h0m20.7 0h0m9.6 .1h0m-29 .1h0m25.4 0h0m-7.6 .1h0m-4.8 .1h0m-18.6 .1h0m23.3 0h0m-23 .1h0m8.9 0h0m9.8 0h0m-11.6 .1h0m-1.2 .1h0m12.5 .1h0m8.2 0h0m9.1 0h0m-29.5 .1h0m6.3 .1h0m23.3 .2h0m-36.1 .2h0m3.3 .3h0m13 .1h0m4.5 .1h0m-10 .2h0m4.8 .1h0m15.4 .2h0m-6.3 .1h0m1.4 0h0m-14 .1h0m18.8 0h0m5.9 0h0m-19 .1h0m13.1 0h0m-25.2 .1h0m5.9 0h0m19 .3h0m-14.4 .1h0m1.7 .3h0m8.6 0h0m9.5 .4h0m-4.2 .2h0m-4.7 .2h0m-21.9 .1h0m12.3 0h0m8.6 0h0m0 0h0m-13.4 .3h0m2.7 0h0m-11 .1h0m32.6 .1h0m-19.5 .1h0m-9.3 .1h0m15.4 .3h0m7.3 .1h0m-11 .1h0m12.9 .6h0m5.3 0h0m-13.3 .1h0m8.3 .2h0m-27.9 .2h0m8.1 0h0m6.7 0h0m14.8 0h0m-29.6 .2h0m-4.4 .3h0m2.4 .1h0m.8 .1h0m26.5 0h0m4.8 .3h0m-7.7 .1h0m-2.5 .1h0m-13.1 .3h0m14.1 0h0m-9.2 .5h0m7.1 0h0m9.4 .1h0m-18.9 .1h0m13.2 0h0m-22.3 1.1h0m12.6 .3h0m5.5 0h0m13.8 .2h0m-34.9 .1h0m21.8 0h0m-23.8 .3h0m34.1 .1h0m-9.3 .2h0m-19.9 .5h0m6.8 .2h0m16.9 .1h0m-14.5 .1h0m-8.2 .1h0m22.6 .4h0m-21.5 .1h0m15.4 .1h0m-21.6 .1h0m11.6 0h0m-7.3 .3h0m10.6 0h0m15.6 0h0m-32.1 .6h0m3.2 0h0m32.9 0h0m-12.3 .3h0m-4 .2h0m1.9 .1h0m-8.9 .1h0m15 0h0m6.9 0h0m-30.8 .1h0m32.1 .1h0m-33.5 .1h0m12.3 0h0m19.6 0h0m-9.6 .2h0m-18.5 .1h0m4 0h0m2.5 0h0m-4.6 .1h0m14.6 0h0m-5.4 .1h0m1.9 .1h0m-.1 .3h0m16.5 0h0m-13 .1h0m-20.3 .2h0m6.2 0h0m-5.4 .2h0m25.1 0h0m-3.9 .2h0m7.9 .5h0m-25.7 .2h0m27.1 .1h0m-26.7 .1h0m28.9 .1h0m-8.1 .1h0m.2 .2h0m-21.1 .1h0m12 0h0m.5 .5h0m-12.8 .1h0m-.6 .3h0m-2.6 .2h0m10.2 .3h0m-1.8 .1h0m0 .5h0m-7.9 .2h0m24.6 0h0m-16 .2h0m7.1 .1h0m-16.1 .1h0m2.6 .1h0m21.1 0h0m-22.6 .4h0m7.4 0h0m20.2 .4h0m0 0h0m-27.2 .1h0m8.3 0h0m19.8 .1h0m-18.4 .4h0m16.5 0h0m-15.5 .1h0m-6.1 .3h0m5.7 0h0m14 0h0m-1.6 .3h0m-11.4 .7h0m4.4 .3h0m3.4 .3h0m3.5 .2h0m.8 .5h0m-4.6 .4h0m-7.3 .2h0m2.5 0h0m2.1 0h0m-6.9 .5h0m2 .2h0m3.6 .4h0m-5.1 .7h0m7.1 .1h0m-2 .1h0" stroke="#7a46ba" stroke-width="1" stroke-linecap="round" fill="none" stroke-opacity="0.55"/>
<path d="M261.6 226.1h0m-17.2 4.3h0m-2.4 2.5h0m14.7 .2h0m-13.7 2.5h0m-2.9 5.6h0m33.3 1.8h0m-24.1 .9h0m-2.6 .3h0m5.3 2.1h0m19.6 2.3h0m-8.3 4h0m-10.9 1.7h0m6.1 .7h0m6.6 .6h0m-3.1 .2h0" stroke="#5a28a2" stroke-width="1.3" stroke-linecap="round" fill="none" stroke-opacity="0.9"/>
</g></g>
<circle cx="258.4" cy="243.2" r="20.3" fill="none" stroke="#a79cc4" stroke-width="0.4"/>
<clipPath id="p6"><circle cx="258.4" cy="287.4" r="20.6"/></clipPath>
<circle cx="258.4" cy="287.4" r="20.6" fill="#efeef3"/>
<g clip-path="url(#p6)">
<g filter="url(#b10)">
<path d="M257.2 270.5h0m10.3 .9h0m1.2 7.5h0m6.3 2.3h0m-24.7 5.9h0m22.8 7.3h0m-26 1.6h0m-1.3 3.2h0m22.3 6.1h0" stroke="#7a46ba" stroke-width="4.2" stroke-linecap="round" fill="none" stroke-opacity="0.35"/>
</g>
<g filter="url(#b6)">
<path d="M257.2 270.5h0m-6.3 2.9h0m.7 0h0m-.3 7.3h0m23.7 .5h0m-24.7 5.9h0m4.4 3h0m-1.9 .8h0m-5.7 5.1h0m11.7 0h0m-13 3.2h0m22.3 6.1h0" stroke="#7a46ba" stroke-width="1.9" stroke-linecap="round" fill="none" stroke-opacity="0.7"/>
<path d="M267.5 271.4h0m1.2 7.5h0m4.4 15.5h0" stroke="#5a28a2" stroke-width="2.8" stroke-linecap="round" fill="none" stroke-opacity="0.85"/>
</g><g filter="url(#b3)">
<path d="M268.1 270.6h0m-3.6 .3h0m-3.8 4.3h0m-9.1 .5h0m-9 1.3h0m7.9 2.1h0m23.7 .9h0m1.8 2h0m-29.8 2.3h0m24.3 .8h0m1.1 .1h0m-1 .4h0m-23.2 1.1h0m23.8 1.8h0m-29.3 .9h0m1.5 2.3h0m-1.5 .2h0m28.7 2.4h0m-15 1.7h0m-.4 6.8h0" stroke="#7a46ba" stroke-width="1" stroke-linecap="round" fill="none" stroke-opacity="0.55"/>
<path d="M267.5 271.4h0m1.2 7.5h0" stroke="#5a28a2" stroke-width="1.3" stroke-linecap="round" fill="none" stroke-opacity="0.9"/>
</g></g>
<circle cx="258.4" cy="287.4" r="20.4" fill="none" stroke="#cfcbdc" stroke-width="0.4"/>
<clipPath id="p7"><circle cx="300.7" cy="243.2" r="20.5"/></clipPath>
<circle cx="300.7" cy="243.2" r="20.5" fill="#e6dff4"/>
<g clip-path="url(#p7)">
<g filter="url(#b10)">
<path d="M296.3 224.1h0m10.3 1.3h0m2.5 .1h0m-.1 .5h0m-11.1 .1h0m8.9 1h0m-15.3 1h0m12.8 0h0m-.9 .6h0m-3.9 .1h0m7.6 .3h0m.2 0h0m-2.6 .9h0m-9.9 .7h0m3 .5h0m16.6 .1h0m-11.7 .1h0m-11.4 .2h0m23.2 .1h0m-27.6 .4h0m26.1 .3h0m-20.8 .6h0m-1.5 .2h0m11 .1h0m.9 .3h0m-11.8 .1h0m16.6 1h0m-11.4 .1h0m9.5 .2h0m-14.6 .4h0m22.6 .1h0m-9.1 .1h0m-9 .1h0m21.7 .4h0m.1 .1h0m-20.9 .4h0m19.2 .2h0m-19.6 .6h0m7.9 .1h0m-18.6 .5h0m25 .2h0m8 .1h0m-24.2 .5h0m24.7 .7h0m-15.6 .1h0m15.1 0h0m-9.2 .2h0m3.7 0h0m-3.9 .7h0m1.5 .2h0m8.9 .3h0m-6 .1h0m1.1 .4h0m-19.1 .3h0m24.3 .4h0m-37.2 .2h0m7 .4h0m5.9 0h0m7.6 0h0m2 .6h0m-23.7 .2h0m14 0h0m24.7 0h0m-23.9 .3h0m14.2 .2h0m10.2 0h0m-36.2 .6h0m18.3 0h0m-5.4 .4h0m-14.8 .3h0m5.1 .1h0m10.4 .1h0m22.2 .8h0m-35.9 .2h0m19.5 1.1h0m-12.7 .6h0m10 .2h0m12.3 0h0m-9.2 .4h0m-16.6 .1h0m-4.1 1.9h0m11.1 0h0m8.5 .2h0m-17 1h0m15.4 0h0m15 0h0m-4 .4h0m-3.7 .3h0m-1.4 .9h0m-16.4 .1h0m11.2 .1h0m1.4 .6h0m12.4 .5h0m-27 .2h0m21.3 .9h0m-5.4 .6h0m-5.8 .1h0m3.8 .3h0m-3.8 .2h0m13 0h0m-8.1 .7h0m-15.8 .1h0m9.6 .4h0m-6.6 .1h0m-.9 .2h0m12 .2h0m3.6 .1h0m4.3 1.1h0m-13.5 .7h0m.9 .1h0m5.1 .2h0m-6.1 .4h0m5.8 .5h0m2.8 .8h0" stroke="#7a46ba" stroke-width="4.05" stroke-linecap="round" fill="none" stroke-opacity="0.24"/>
</g>
<g filter="url(#b6)">
<path d="M296.3 224.1h0m7.7 .7h0m3.9 .5h0m-14.3 .1h0m13 0h0m2.5 .1h0m-.1 .5h0m-9.5 .4h0m-3.6 .2h0m5.1 .5h0m11.7 .8h0m-21.2 .2h0m8.6 .4h0m-.4 .2h0m3.7 0h0m-3.9 .1h0m8.5 .5h0m.9 .1h0m-4.2 .6h0m-9.9 .7h0m15.6 0h0m-6.1 .3h0m-6.5 .2h0m-8.8 .1h0m13.7 .1h0m9.8 0h0m-19.9 .1h0m-1.3 .1h0m23.2 .1h0m2.2 0h0m-29.8 .4h0m2.2 .5h0m28.1 .2h0m-12.6 .2h0m6.7 .2h0m-8.7 .4h0m-11.8 .1h0m-5.6 .2h0m3.8 .6h0m18.4 .2h0m-20.5 .1h0m15.2 0h0m3.4 .2h0m-18 .4h0m3.4 0h0m22.6 .1h0m-9.1 .1h0m-9 .1h0m21.7 .4h0m-25.8 .1h0m25.9 0h0m-20.9 .4h0m13.9 .2h0m5.3 0h0m-29.2 .1h0m8.2 .2h0m9.1 .4h0m10.2 .2h0m-28.6 .3h0m16.8 .1h0m-13.4 .1h0m21.6 0h0m8 .1h0m-24.2 .5h0m9.1 .8h0m15.1 0h0m-12.7 .2h0m7.2 0h0m-17.4 .5h0m17.9 .8h0m-17.7 .4h0m23.2 .4h0m-28.3 .3h0m-6.8 .1h0m16.1 0h0m-17.4 .1h0m0 0h0m7 .4h0m5.9 0h0m7.6 0h0m-13.8 .3h0m13.2 0h0m-19.6 .1h0m-1.5 .4h0m14 0h0m24.7 0h0m-23.9 .3h0m14.2 .2h0m10.2 0h0m-23.7 .1h0m-11.1 .1h0m-1.4 .4h0m18.3 0h0m8.9 .3h0m-14.3 .1h0m17.7 .1h0m-32.5 .2h0m15.5 .2h0m2 .2h0m15.4 0h0m4.8 .6h0m-37.1 1.3h0m33.9 0h0m-19.3 .2h0m-6.6 .4h0m10 .2h0m12.3 0h0m-17.9 .4h0m8.7 0h0m-16.6 .1h0m21.1 .1h0m10 .1h0m-2.6 .4h0m-32.8 .3h0m12.2 .9h0m-.9 .1h0m3.3 .2h0m5.2 0h0m-9.6 .7h0m11 .7h0m8 0h0m-3.7 .3h0m-1.4 .9h0m-16.4 .1h0m11.2 .1h0m-2.4 .6h0m16.2 .5h0m-27 .2h0m24.3 0h0m-27.8 .5h0m24.8 .4h0m3.2 0h0m-14.5 .5h0m-12.4 .1h0m11.9 0h0m6.4 0h0m-16.5 .1h0m10.7 0h0m-8.1 .5h0m8.1 0h0m13 0h0m-25.2 .3h0m17.1 .4h0m-8.2 .4h0m-4.6 .2h0m-.9 .2h0m12 .2h0m3.6 .1h0m1.6 .8h0m-3.7 .6h0m3.2 .2h0m-10.3 .2h0m.9 .1h0m5.1 .2h0m-6.7 .1h0m4 0h0m-3.4 .3h0m5.8 .5h0m0 .4h0m2.8 .4h0" stroke="#7a46ba" stroke-width="1.85" stroke-linecap="round" fill="none" stroke-opacity="0.66"/>
<path d="M297.9 226.1h0m8.9 1h0m-2.5 1h0m2.8 1h0m.2 0h0m7.1 2.2h0m-1.4 1.1h0m-20.8 .6h0m-1.5 .2h0m11 .1h0m-5.7 1.5h0m-.1 2.6h0m7.9 .1h0m14.9 2h0m-9.7 .3h0m-.2 .7h0m1.5 .2h0m8.9 .3h0m-4.9 .5h0m-19.1 .3h0m24.3 .4h0m-14.7 1.2h0m-17.5 2.1h0m-3.3 1.1h0m19.5 1.1h0m-20.3 3.2h0m2.6 1.2h0m15.4 0h0m15 0h0m-12.9 2.4h0m-.7 2.6h0m-14.7 1h0m9.6 .4h0m12.4 1.7h0" stroke="#5a28a2" stroke-width="2.7" stroke-linecap="round" fill="none" stroke-opacity="0.8"/>
</g><g filter="url(#b3)">
<path d="M299.3 223.8h0m6.4 .6h0m-9.3 .3h0m5.4 .3h0m-7 .2h0m6 0h0m-5.3 .2h0m13.9 .3h0m-18.1 .4h0m1.6 .2h0m.8 0h0m-4.2 .1h0m19.8 .3h0m-18.8 .2h0m5 0h0m15.4 0h0m.8 0h0m-5.6 .2h0m5.9 0h0m-18.9 .1h0m7 .1h0m4.8 0h0m-6.8 .3h0m9.8 0h0m-14.8 .4h0m10.4 0h0m-1.6 .2h0m-14 .1h0m9.8 0h0m-7.7 .3h0m1.7 0h0m21.4 .1h0m-5.6 .1h0m-6.4 .1h0m-13.1 .2h0m6.3 0h0m7 .4h0m-13.2 .1h0m11 .1h0m-4.2 .1h0m3.8 .1h0m13 0h0m-14.3 .5h0m17.3 0h0m-1.1 .2h0m-1.4 .2h0m3.7 .2h0m-18.2 .4h0m-5.9 .1h0m22.7 .1h0m-6.6 .1h0m-22.1 .3h0m5.5 0h0m2.3 .3h0m6.3 0h0m17.6 0h0m-24.7 .1h0m.4 0h0m13.1 .1h0m-4.1 .1h0m10.7 0h0m-27.7 .1h0m16.1 .1h0m-9.5 .1h0m22.1 0h0m-13.7 .1h0m-5.8 .2h0m5.9 0h0m-7.5 .4h0m25.2 0h0m-16.5 .1h0m12.5 0h0m-26.6 .1h0m16.1 0h0m.6 .1h0m-20.3 .5h0m27.4 .1h0m-16.9 .3h0m-10.5 .2h0m1.1 .5h0m23.5 0h0m-21.4 .1h0m7 0h0m12.8 0h0m11.2 0h0m-26.6 .2h0m25.1 .1h0m2.6 0h0m-15.5 .1h0m2.5 .1h0m12 0h0m-25.4 .2h0m23.5 0h0m-19.7 .2h0m2.5 .1h0m3 .1h0m-9.4 .1h0m25.4 0h0m0 0h0m-34.3 .2h0m1.8 .1h0m4.4 0h0m8.2 .2h0m-15.3 .2h0m-1.3 .1h0m18.7 .1h0m7.8 .5h0m11.1 .1h0m-37.6 .1h0m24.3 0h0m2.7 .1h0m-4 .1h0m1.5 .2h0m-19 .1h0m32.5 0h0m.3 0h0m-15.5 .2h0m-6.4 .1h0m13.8 0h0m-22.9 .1h0m1.2 .1h0m2 0h0m1.5 .2h0m24.4 .2h0m-30.8 .1h0m-4.2 .1h0m.6 0h0m10 0h0m24.3 .2h0m-28.4 .1h0m23.5 0h0m-25.2 .1h0m12.1 0h0m1.3 .1h0m2.9 .1h0m3.6 .1h0m12 .2h0m-27.8 .1h0m25.6 0h0m-11.9 .1h0m-24.2 .1h0m4.2 0h0m23.1 .1h0m-27.5 .1h0m9.7 .1h0m4.9 .3h0m10.8 0h0m-2.5 .2h0m-22.8 .1h0m1.6 .1h0m33.2 0h0m-4.4 .2h0m8.1 0h0m-11.7 .1h0m-22.4 .1h0m2.4 0h0m30.6 .1h0m-26.5 .1h0m23.5 0h0m-24 .3h0m11.2 0h0m2.4 0h0m5.1 0h0m-1.7 .2h0m-11.3 .2h0m21.1 .2h0m-36.7 .1h0m16 0h0m-2.8 .4h0m8.6 0h0m3.6 0h0m3.3 .2h0m-29.1 .2h0m22.7 0h0m-17.6 .2h0m3.9 .1h0m14.3 0h0m10 .2h0m-28.5 .2h0m32.1 .1h0m-13.7 .3h0m-4.1 .1h0m14.7 0h0m1.1 .2h0m1.2 .1h0m-22.2 .1h0m20.4 .1h0m-32.3 .1h0m34.3 .2h0m-14.5 .2h0m3 .2h0m12.8 0h0m-35.3 .2h0m10.7 0h0m9.4 0h0m14.4 0h0m-12.5 .2h0m-22.8 .2h0m15.4 .1h0m-2.1 .1h0m19.9 0h0m-4.5 .1h0m2.9 0h0m-7.1 .1h0m-13.3 .1h0m2.4 .2h0m14 .1h0m-24.8 .1h0m-1 .1h0m27.8 .1h0m5.9 0h0m-7.9 .2h0m-27.8 .2h0m23.9 .1h0m-9 .1h0m9.1 0h0m9.6 .7h0m-30.6 .2h0m24.9 0h0m-26 .2h0m14 .1h0m-10.8 .4h0m-.9 .1h0m5.6 0h0m21.3 0h0m-21.9 .2h0m5.6 .1h0m-9.5 .1h0m-.7 .1h0m10.6 .4h0m-11.7 .1h0m13.5 0h0m3.6 .1h0m13.2 0h0m-29.9 .2h0m19.8 0h0m-14.2 .1h0m24.9 0h0m-3.2 .1h0m-27.4 .6h0m7.6 .1h0m8.7 0h0m13.7 .3h0m-27.8 .2h0m0 0h0m27.5 .3h0m-15.4 .1h0m-6.1 .5h0m2 0h0m4.6 .2h0m-16.6 .1h0m17.2 .1h0m-16.7 .2h0m5.4 .1h0m22.7 .1h0m-21.7 .4h0m-4.1 .4h0m.5 .2h0m24.4 .3h0m.4 .2h0m-9.3 .1h0m-7.2 .1h0m-7.3 .2h0m8.4 .1h0m8.6 0h0m7.1 0h0m-19.5 .3h0m6.8 0h0m12 .4h0m-6.1 .2h0m3.3 .2h0m-16.8 .4h0m15.7 .3h0m-16.9 .2h0m3.3 0h0m-4.1 .2h0m17.5 0h0m-9.3 .1h0m3 0h0m-4.8 .8h0m-1.3 .6h0m-.8 .3h0m2.8 0h0m.9 0h0m8.7 0h0m-2.7 .1h0m-8.7 .3h0m5.7 .2h0m1.5 1.1h0m-3.9 .3h0" stroke="#7a46ba" stroke-width="1" stroke-linecap="round" fill="none" stroke-opacity="0.55"/>
<path d="M297.9 226.1h0m8.9 1h0m7.6 4.2h0m-1.4 1.1h0m-20.8 .6h0m3.7 4.4h0m7.9 .1h0m5.2 2.3h0m-.2 .7h0m1.5 .2h0m-26.3 5.9h0m19.5 1.1h0m-20.3 3.2h0m2.6 1.2h0m15.4 0h0m2.1 2.4h0m-15.4 3.6h0" stroke="#5a28a2" stroke-width="1.3" stroke-linecap="round" fill="none" stroke-opacity="0.9"/>
</g></g>
<circle cx="300.7" cy="243.2" r="20.3" fill="none" stroke="#a79cc4" stroke-width="0.4"/>
<clipPath id="p8"><circle cx="300.7" cy="287.4" r="20.6"/></clipPath>
<circle cx="300.7" cy="287.4" r="20.6" fill="#efeef3"/>
<g clip-path="url(#p8)">
<g filter="url(#b10)">
<path d="M293.8 269.7h0m9.1 .5h0m7.7 1.5h0m4.3 5.3h0m-1.7 1.1h0m5 .7h0m-1 2h0m1.1 .2h0m-36.6 3.4h0m27.8 2.7h0m-13.1 .4h0m-5.1 .7h0m3.5 .4h0m11.2 .1h0m-22.8 .5h0m34.5 .3h0m-26.9 1.6h0m21.3 .2h0m-9.6 1h0m-6.5 .2h0m17.8 .3h0m-26 .1h0m-.6 2.3h0m8.8 1.4h0m8.1 0h0m10 2h0m-1.5 3.5h0m-19 .3h0m-3.3 1.2h0m1.9 1.2h0" stroke="#7a46ba" stroke-width="4.2" stroke-linecap="round" fill="none" stroke-opacity="0.35"/>
</g>
<g filter="url(#b6)">
<path d="M309.2 269.6h0m-15.4 .1h0m9.1 .5h0m4.2 .7h0m.7 3.4h0m-12.9 2.7h0m20 0h0m-1.7 1.1h0m-29.6 2h0m34.7 .9h0m-8.8 6.1h0m-24.7 .2h0m8.9 .3h0m-2.4 .6h0m-8.1 1h0m34.5 .3h0m-37.2 .8h0m27.8 .2h0m-16.8 .6h0m20.6 .2h0m-3.6 .4h0m-12.5 .8h0m17.8 .3h0m-14.4 3h0m-3.4 .8h0m3.6 2.1h0m16.4 1h0m-12.8 1.1h0m9.4 1.3h0m-19 .3h0m6.4 .2h0m-9.7 1h0m1.9 1.2h0m3.7 1.8h0" stroke="#7a46ba" stroke-width="1.9" stroke-linecap="round" fill="none" stroke-opacity="0.7"/>
<path d="M310.6 271.7h0m7.6 7.1h0m-1 2h0m-35.5 3.6h0m14.7 3.1h0m-1.6 1.1h0m11.2 .1h0m-15.2 2.4h0m11.7 1.2h0m-14.7 .6h0m-.6 2.3h0m16.9 1.4h0m10 2h0" stroke="#5a28a2" stroke-width="2.8" stroke-linecap="round" fill="none" stroke-opacity="0.85"/>
</g><g filter="url(#b3)">
<path d="M300.9 269.3h0m.3 0h0m-9.6 1.8h0m8.1 0h0m-11.6 1.3h0m2.8 .4h0m2.8 2.5h0m-6.9 .7h0m26.5 .1h0m-22.1 1.2h0m5.3 1.4h0m-14.9 4.3h0m26.2 .1h0m-25.1 .1h0m-.7 .4h0m17 .7h0m-16.1 1.2h0m3.6 0h0m-1.7 .6h0m8.3 .4h0m17.1 1.7h0m-7.9 .2h0m-13 1h0m26.4 0h0m-10.8 .3h0m-1.2 .1h0m1.5 .4h0m-15.7 .3h0m10.1 .1h0m-1.7 1.4h0m-5.6 1.2h0m26.2 .3h0m-22.8 1.5h0m-2.9 .9h0m6.7 .4h0m7.4 .8h0m8.6 .1h0m-10.7 1.3h0m5.5 .1h0m4.9 .6h0m-28.2 .1h0m19.6 .1h0m-21 .6h0m13.3 .2h0m-9.6 3.2h0m4.4 .1h0m-.6 1.3h0m5.9 0h0m8.9 .6h0m-6.6 .9h0" stroke="#7a46ba" stroke-width="1" stroke-linecap="round" fill="none" stroke-opacity="0.55"/>
<path d="M318.2 278.8h0m-36.5 5.6h0m13.1 4.2h0m7.7 3.7h0m-15.3 2.9h0m16.9 1.4h0m10 2h0" stroke="#5a28a2" stroke-width="1.3" stroke-linecap="round" fill="none" stroke-opacity="0.9"/>
</g></g>
<circle cx="300.7" cy="287.4" r="20.4" fill="none" stroke="#cfcbdc" stroke-width="0.4"/>
<clipPath id="p9"><circle cx="357.4" cy="243.2" r="20.5"/></clipPath>
<circle cx="357.4" cy="243.2" r="20.5" fill="#e6dff4"/>
<g clip-path="url(#p9)">
<g filter="url(#b10)">
<path d="M353.6 223.8h0m3.6 0h0m2 .2h0m-5.5 .3h0m7.8 .4h0m2.9 .1h0m-13.4 1.7h0m3.1 .1h0m16.1 1.5h0m-21.1 .7h0m3.6 .6h0m-4.3 .8h0m17.5 0h0m6 .4h0m-16.5 .5h0m-10.7 .2h0m13.6 .1h0m-1.6 1.1h0m-10.3 .4h0m22.7 0h0m-3.4 .4h0m9.8 1h0m-5.4 .3h0m-22.9 .2h0m-3.2 1.1h0m15.4 .2h0m-15.5 1h0m-3.2 .2h0m2.4 .4h0m20.9 0h0m-23.9 .1h0m35.3 .1h0m-15.7 .1h0m-6.4 .7h0m-.4 .5h0m-7.5 .2h0m1.5 .3h0m17 .1h0m11.6 .7h0m-28.4 .4h0m6 .3h0m9.6 0h0m-2.6 .3h0m-13.9 .4h0m-6.7 .2h0m.2 .1h0m37 .1h0m-15.2 .1h0m-23.1 .2h0m37 .3h0m-17.5 .1h0m-18.6 .2h0m28.8 1.9h0m-28.9 .5h0m30.1 .4h0m-24.9 .1h0m18.2 .3h0m13.9 .3h0m.5 .5h0m-16 .4h0m9.1 .1h0m-10.9 .2h0m-17.4 .2h0m13 0h0m10.8 .6h0m-25.8 .2h0m18.5 .7h0m-1.5 .3h0m-4.3 .3h0m-5.4 .4h0m15.6 .6h0m6.9 .1h0m4.4 .3h0m-5.4 .2h0m5.8 .4h0m-34.2 .6h0m1 .2h0m.4 .1h0m-1.4 .2h0m13.7 .4h0m15.4 .1h0m3.8 .2h0m.4 0h0m-25.3 .1h0m9.6 .2h0m13.3 3h0m-14.3 .4h0m12.7 .4h0m-7.5 1.8h0m-13.2 .4h0m3.8 1h0m9 .1h0m-10.2 .4h0m7.3 .1h0m-7.7 .2h0m10.8 0h0" stroke="#7a46ba" stroke-width="4.05" stroke-linecap="round" fill="none" stroke-opacity="0.24"/>
</g>
<g filter="url(#b6)">
<path d="M356 223.3h0m1.2 .5h0m2 .2h0m-5.5 .3h0m4.7 .3h0m3.1 .1h0m-10.5 1.8h0m9.1 .2h0m6.6 .7h0m-1.9 .2h0m5.4 .5h0m-24.2 1.2h0m17.3 .5h0m.7 .1h0m5 0h0m-20.6 .3h0m17.5 0h0m4.8 .4h0m1.2 0h0m-16.5 .5h0m-10.7 .2h0m13.6 .1h0m-14.4 .3h0m21.9 .2h0m-9.1 .6h0m-10.3 .4h0m22.7 0h0m-16 .1h0m3.3 .2h0m9.3 .1h0m-25.3 .2h0m35.1 .8h0m-5.4 .3h0m-22.9 .2h0m11.3 .7h0m4 .8h0m3.8 .3h0m-23.2 1.1h0m20.9 0h0m-23.9 .1h0m35.3 .1h0m-15.7 .1h0m-21.2 .4h0m5.4 .1h0m2.8 0h0m5.7 .7h0m-7.7 .5h0m1.3 0h0m.9 0h0m.8 .2h0m27.8 .6h0m-28.4 .4h0m-8.5 .2h0m14.5 .1h0m21.5 .1h0m-34.8 .1h0m28.8 0h0m-8.5 .1h0m10.4 0h0m-30.8 .7h0m37 .1h0m-15.2 .1h0m-23.1 .2h0m12.2 0h0m24.8 .3h0m-17.5 .1h0m-18.6 .2h0m7.6 .3h0m-5.8 .1h0m25.8 .4h0m6.2 .2h0m3.2 .8h0m-8.2 .1h0m-1.6 .4h0m-11.2 .4h0m14 .1h0m-24.9 .1h0m18.2 .3h0m-19.3 .1h0m33.7 .7h0m-16 .4h0m2.7 .1h0m6.4 0h0m-10.9 .2h0m-17.4 .2h0m13 0h0m10.8 .6h0m-25.8 .2h0m32.9 .2h0m-14.4 .5h0m-10.4 .2h0m8.9 .1h0m-6.5 .7h0m5.6 0h0m14.6 .3h0m-7.8 .3h0m6.9 .1h0m-8.2 .1h0m12.6 .2h0m-30.5 .1h0m25.1 .1h0m-28.6 .2h0m30.8 .3h0m-30.6 .5h0m1 .2h0m.4 .1h0m-1.4 .2h0m13.7 .4h0m-5.9 .1h0m21.3 0h0m3.8 .2h0m-24.9 .1h0m24.5 0h0m-30.6 .9h0m6.4 .1h0m2.9 .4h0m19.2 .1h0m-10.7 .1h0m-11.5 .6h0m4.3 .2h0m10.2 .1h0m8.4 .2h0m-13.4 .4h0m13.2 .1h0m-23.8 .4h0m8 .1h0m3.1 .2h0m-7.7 .2h0m2.4 0h0m4.1 .8h0m3.5 0h0m1.3 .9h0m-13.2 .4h0m2.1 0h0m2.9 .5h0m7.8 .6h0m-10.2 .4h0m7.3 .1h0m-7.7 .2h0m10.8 0h0" stroke="#7a46ba" stroke-width="1.85" stroke-linecap="round" fill="none" stroke-opacity="0.66"/>
<path d="M353.6 223.8h0m10.8 1h0m-10.3 1.8h0m-5 2.2h0m3.6 .6h0m-8.7 6.5h0m15.4 .2h0m-15.5 1h0m-3.2 .2h0m12.6 1.4h0m-.4 .5h0m-7.5 .2h0m18.5 .4h0m-1.2 1.4h0m-16.5 .7h0m-6.7 .2h0m-.3 3.5h0m37.3 1.1h0m-24 3.5h0m-5.4 .4h0m27.3 1.6h0m-.9 1.8h0m-15.7 .3h0m-1 3.4h0m12.7 .4h0m-16.9 3.2h0" stroke="#5a28a2" stroke-width="2.7" stroke-linecap="round" fill="none" stroke-opacity="0.8"/>
</g><g filter="url(#b3)">
<path d="M355.5 223.8h0m7.2 .5h0m-5.9 .6h0m-.4 .2h0m2.8 .3h0m.7 .1h0m-1.8 .4h0m-4 .1h0m9.6 .3h0m1.2 0h0m-5.9 .2h0m9.2 .2h0m-.3 .2h0m.3 .1h0m-10.6 .1h0m7.6 0h0m-18 .4h0m21.2 .1h0m-18.2 .1h0m4.9 .3h0m7.7 .3h0m-10.7 .4h0m12 0h0m4.8 .3h0m1.3 0h0m-18.9 .1h0m2.4 .1h0m-10.6 .4h0m13.8 .1h0m7.5 .1h0m5.4 0h0m-8.5 .2h0m-.7 .2h0m0 .2h0m-11.6 .1h0m10 .1h0m11.4 .1h0m-13.1 .1h0m15.1 .1h0m-28.6 .1h0m27 0h0m-17.6 .1h0m7 .2h0m9.3 0h0m3.2 .1h0m-10 .1h0m-12.4 .6h0m-4.3 .2h0m-5.1 .2h0m2.3 0h0m-.6 .3h0m.1 0h0m28.9 0h0m-28.3 .1h0m18.4 .1h0m-19.7 .2h0m-2.2 .4h0m17.3 0h0m7.6 .2h0m8.2 0h0m-23.4 .2h0m3.3 0h0m-10.7 .3h0m7.8 0h0m-1.7 .1h0m4.2 .1h0m9.4 .2h0m-13.6 .1h0m-1.6 .1h0m-4 .1h0m4.8 0h0m.1 .1h0m-5.5 .2h0m6.4 .2h0m8.8 .1h0m15 0h0m-30.6 .1h0m10.3 .2h0m12.2 .3h0m5.3 0h0m-28.4 .1h0m22.4 0h0m-19.4 .4h0m-1.2 .2h0m.8 0h0m32.5 .3h0m-35 .3h0m28.1 0h0m-4.7 .1h0m-16.9 .1h0m-8.7 .2h0m4.5 0h0m-4 .1h0m1.9 .2h0m18.2 .1h0m11.1 .1h0m1.5 0h0m-7.5 .5h0m-13.4 .1h0m3.6 0h0m11.7 0h0m7.4 0h0m-22.6 .1h0m24 0h0m-31.8 .3h0m-1.4 .1h0m6 .1h0m27.6 .2h0m-20.6 .1h0m19.8 .1h0m-31.8 .2h0m18 0h0m-13.3 .1h0m19.7 0h0m-28.5 .3h0m4.9 .1h0m6.5 .2h0m16.3 0h0m2.9 0h0m-29.1 .3h0m16 0h0m8.1 .1h0m-26.1 .2h0m23.7 .4h0m2.1 .1h0m3.9 .2h0m-1.2 .1h0m-.8 .1h0m-17.3 .1h0m23 0h0m-29 .1h0m-5.1 .4h0m33 0h0m-19 .4h0m-3.7 .1h0m19.8 0h0m-10.1 .1h0m12.9 .1h0m6.4 .1h0m.1 .2h0m-18.1 .2h0m-14.2 .1h0m-6.5 .1h0m1.1 0h0m31.1 .4h0m-5.1 .1h0m3 0h0m-4.8 .1h0m-2.3 .2h0m-13.9 .1h0m5.2 0h0m12.8 0h0m-25.1 .1h0m20.1 .1h0m.9 0h0m14.8 .2h0m-32.1 .1h0m2.6 .2h0m29.1 0h0m-35.3 .2h0m.1 .5h0m28.7 .5h0m-20.4 .1h0m-9.6 .3h0m27.7 .1h0m-27.9 .2h0m10.7 0h0m-7.8 .1h0m7.5 0h0m-10.6 .1h0m30.2 0h0m-1.2 .1h0m-15.1 .2h0m-12.5 .1h0m24.4 .1h0m-1.1 .1h0m-16.6 .1h0m13.1 .1h0m16.5 .2h0m-10.3 .2h0m1.4 0h0m-22.2 .2h0m16.7 0h0m-13.5 .1h0m26.9 0h0m-4.8 .1h0m-31.3 .1h0m14.7 .2h0m17.2 .1h0m2 0h0m2.3 .2h0m-32.9 .1h0m9.4 0h0m4 0h0m-17.1 .3h0m28.7 0h0m-5.9 .1h0m-1.5 .3h0m-6.1 .1h0m-.7 .1h0m-12.8 .1h0m14.8 .1h0m8.1 0h0m-3.5 .1h0m3.5 0h0m7 0h0m-.6 .1h0m-20.5 .1h0m.7 0h0m13.9 0h0m-20.2 .4h0m7.9 0h0m-10.4 .1h0m32.2 0h0m-10.8 .5h0m-4 .3h0m-.4 .6h0m-18.2 .1h0m5.7 0h0m28.1 0h0m-30.8 .4h0m26.2 0h0m-9.3 .1h0m5.3 0h0m-11 .4h0m-12.4 .3h0m1.3 0h0m8.2 0h0m-9.1 .5h0m1.3 0h0m23.2 .1h0m4.4 0h0m-17.9 .2h0m8.1 .1h0m3.7 0h0m4 .3h0m-10.9 .3h0m5 .2h0m-18.1 .2h0m13.2 .1h0m-13.2 .1h0m.7 0h0m7.9 0h0m-7.4 .1h0m4.6 0h0m-4.6 .1h0m25.2 0h0m-15.1 .2h0m14.6 0h0m-17.4 .1h0m-2.2 .1h0m12 .1h0m-17.9 .4h0m.6 .1h0m1.3 .1h0m-2.9 .2h0m6.6 0h0m1.3 .1h0m-1.7 .4h0m12.2 .1h0m6.5 0h0m-21.1 .2h0m19.5 .1h0m-2.6 .1h0m-10.2 .2h0m4.6 0h0m-4.3 .1h0m.5 .2h0m3.6 .7h0m0 0h0m.8 .2h0m-2.6 .3h0m-7.7 .7h0m10 0h0m.2 .1h0m-1.5 .1h0m-1.7 .1h0m-4.5 .2h0m3.7 .4h0m2.5 .4h0" stroke="#7a46ba" stroke-width="1" stroke-linecap="round" fill="none" stroke-opacity="0.55"/>
<path d="M364.4 224.8h0m-15.3 4h0m-5.1 7.1h0m-.1 1.2h0m1.5 2.3h0m18.5 .4h0m-1.2 1.4h0m-16.5 .7h0m-6.7 .2h0m37 4.6h0m-2.1 5.5h0m-.9 1.8h0m-15.7 .3h0" stroke="#5a28a2" stroke-width="1.3" stroke-linecap="round" fill="none" stroke-opacity="0.9"/>
</g></g>
<circle cx="357.4" cy="243.2" r="20.3" fill="none" stroke="#a79cc4" stroke-width="0.4"/>
<clipPath id="p10"><circle cx="357.4" cy="287.4" r="20.6"/></clipPath>
<circle cx="357.4" cy="287.4" r="20.6" fill="#efeef3"/>
<g clip-path="url(#p10)">
<g filter="url(#b10)">
<path d="M345.9 271.1h0m.8 4.7h0m-3.1 .3h0m23.9 .5h0m-3.8 .2h0m-.8 .1h0m-22 1.7h0m6.6 .4h0m14.7 .5h0m-16.1 .8h0m9.6 .1h0m-16.4 .1h0m1 .6h0m9.5 .6h0m12.1 .1h0m-1.1 2.7h0m14.6 1.5h0m-27.3 1.2h0m2.6 .5h0m-6.3 .1h0m-6.2 .3h0m10.2 .3h0m11.4 0h0m-11.7 1.2h0m7.5 .6h0m18.5 .2h0m-35.5 .8h0m1.7 .5h0m6.4 .2h0m26.1 .3h0m-18.6 1.4h0m-12.9 .7h0m15.5 .2h0m7.7 .7h0m-7.1 .3h0m-3 .6h0m-.4 2h0m.5 .5h0m10.5 .2h0m7.8 .4h0m-1.3 .3h0m-3 1.1h0m-22.5 .5h0m3.2 .3h0m-3.5 .4h0m25.3 .2h0m-23.6 .5h0m3.5 .3h0m-5.1 .6h0m11.1 .1h0m-4.4 1.2h0m2.9 .4h0m0 .1h0m-.9 .3h0m.8 .2h0m2.9 1.7h0" stroke="#7a46ba" stroke-width="4.2" stroke-linecap="round" fill="none" stroke-opacity="0.35"/>
</g>
<g filter="url(#b6)">
<path d="M352.3 268.1h0m11.2 .3h0m-14.7 1.6h0m-3.2 1h0m.3 .1h0m9.5 1.9h0m11.8 .2h0m-11.6 2.1h0m2.4 0h0m-11.3 .5h0m-3.1 .3h0m20.1 .7h0m-.8 .1h0m-22 1.7h0m3.2 .4h0m18.1 .5h0m-7.1 .1h0m-5.7 .5h0m-3.3 .2h0m9.6 .1h0m-16.4 .1h0m1 .6h0m7.1 .4h0m28.9 .1h0m-26.5 .1h0m12.1 .1h0m-19.4 .5h0m26.2 .6h0m-14.4 1.8h0m10.2 .2h0m-17.8 .1h0m5.8 .9h0m-4.4 1.3h0m2.6 .5h0m17.7 .4h0m-25.2 .3h0m16.6 0h0m6.5 .1h0m4.8 .1h0m-20.8 .5h0m5.3 1.1h0m-17 1h0m1.7 .5h0m6.4 .2h0m3.5 .1h0m5.5 1.5h0m-1.5 .1h0m-7.2 .6h0m-5.7 .1h0m7.3 .2h0m15.9 .7h0m-7.1 .3h0m7.9 .2h0m-17.9 1.2h0m6.6 1.2h0m-1.7 .3h0m12.7 .4h0m7.8 .4h0m-1.3 .3h0m-14.4 .7h0m-6.3 .3h0m17.7 .1h0m-22.5 .5h0m3.2 .3h0m10 .1h0m-13.5 .3h0m-1.9 .1h0m27.2 .1h0m-20.1 .8h0m6 .7h0m6.4 .8h0m-10.8 .4h0m2 .8h0m-2.1 .6h0m5.8 1.3h0" stroke="#7a46ba" stroke-width="1.9" stroke-linecap="round" fill="none" stroke-opacity="0.7"/>
<path d="M367.5 276.6h0m-20 2.4h0m13.3 5.5h0m14.6 1.5h0m-31 1.8h0m-6.2 .3h0m10.2 .3h0m-.3 1.2h0m26 .8h0m-1.3 1.8h0m-16 2.3h0m-2.4 1.6h0m.1 2.5h0m-7.1 3.9h0m-1.6 .9h0m9.6 1.7h0m0 .1h0m-.1 .5h0" stroke="#5a28a2" stroke-width="2.8" stroke-linecap="round" fill="none" stroke-opacity="0.85"/>
</g><g filter="url(#b3)">
<path d="M357.9 268.3h0m-6.6 .7h0m3.9 .3h0m3.4 .3h0m-2.7 .3h0m9.1 .1h0m-2.4 .6h0m-16 .5h0m1.9 .5h0m7.9 .4h0m11.7 0h0m-16.4 .5h0m-7.9 .4h0m20.3 .2h0m-20 .3h0m20.7 .3h0m-19.4 .3h0m13.6 .2h0m13.5 .6h0m-3.6 .1h0m-25.7 .4h0m18.2 0h0m4.5 1.3h0m-17.2 .2h0m10.9 1.5h0m3.8 .7h0m1.1 .2h0m-21.9 .2h0m5.1 .5h0m-1.4 .5h0m5.4 .7h0m18.9 .1h0m2.2 .8h0m4.2 .2h0m-21 .2h0m14.9 .4h0m.1 0h0m-6.5 .4h0m-19.8 .2h0m30 .2h0m-12.1 .2h0m5.8 .2h0m-.6 .6h0m-22.9 .3h0m.8 0h0m16.9 0h0m10.3 .1h0m-29 .3h0m21.7 0h0m-28 .5h0m22.3 .9h0m-20.9 .2h0m26 0h0m11.3 1.1h0m-6.7 .3h0m-20.2 .7h0m5.6 .1h0m-7.5 .3h0m-5.1 .6h0m9.3 .3h0m-12.4 .1h0m23.3 .2h0m3.8 .5h0m10.3 .2h0m-23.1 .2h0m15.5 .2h0m3 .1h0m-33.3 .7h0m7.3 0h0m-5.8 .2h0m29 0h0m-30.4 .5h0m7.1 .4h0m23.5 .1h0m-4 .2h0m-25.4 .8h0m13.8 .7h0m13 .8h0m1 .2h0m.4 .6h0m.6 .4h0m5 .4h0m-9.3 .2h0m-.6 .1h0m1.5 .9h0m-18.6 .1h0m24.2 .1h0m-29.9 .2h0m28.2 .4h0m-17.3 .3h0m20.2 0h0m-7 .2h0m4.6 .1h0m-.5 .1h0m-15.2 .2h0m5.2 .1h0m9 .4h0m-1.4 .3h0m-22.1 .2h0m23.3 .1h0m0 .1h0m1.5 .4h0m-16.7 .9h0m3.8 1.6h0m3.4 .2h0m-9.1 .2h0m1.3 .3h0m6.7 0h0m-.5 .6h0m-2.8 1.2h0" stroke="#7a46ba" stroke-width="1" stroke-linecap="round" fill="none" stroke-opacity="0.55"/>
<path d="M367.5 276.6h0m-20 2.4h0m.6 10.6h0m8.7 4.9h0m-9.4 8h0m-1.6 .9h0m9.6 1.7h0m0 .1h0m-.1 .5h0" stroke="#5a28a2" stroke-width="1.3" stroke-linecap="round" fill="none" stroke-opacity="0.9"/>
</g></g>
<circle cx="357.4" cy="287.4" r="20.4" fill="none" stroke="#cfcbdc" stroke-width="0.4"/>
<clipPath id="p11"><circle cx="400.3" cy="243.2" r="20.5"/></clipPath>
<circle cx="400.3" cy="243.2" r="20.5" fill="#e6dff4"/>
<g clip-path="url(#p11)">
<g filter="url(#b10)">
<path d="M394.1 224.2h0m-1.9 1.4h0m15.9 .1h0m3.8 1.1h0m-8.2 1.1h0m-16.7 .1h0m1 .6h0m1.5 0h0m6.6 0h0m-.5 .3h0m16.2 .7h0m-11.3 .5h0m14.6 0h0m-27.6 .5h0m19.4 .4h0m-2 .1h0m-1.8 .1h0m-.5 .4h0m-7.4 1.1h0m5.6 1.4h0m-7 .5h0m18.5 .1h0m-11.3 .6h0m-18.6 .2h0m20.7 .2h0m3.5 .4h0m-7.5 .1h0m7 1.4h0m-14.2 .3h0m-4.6 .1h0m3.1 .4h0m2.5 0h0m-3.9 .9h0m18.8 .1h0m-17 .2h0m17.9 .5h0m-21 .4h0m2.7 .1h0m3.2 .3h0m-7.4 .1h0m15.6 .8h0m-20.1 .5h0m17.7 1.2h0m2.6 .2h0m-20.2 .1h0m7.7 .1h0m-3.8 .3h0m12.1 .7h0m19.9 0h0m-10.2 .3h0m2 .2h0m-17.2 .7h0m8.8 .3h0m1.8 0h0m0 .9h0m10.6 .6h0m-14.7 .6h0m-15.9 .2h0m26.4 .3h0m-21 .1h0m-1.2 .9h0m-1 .7h0m11.3 .2h0m-6 .1h0m-7.6 .5h0m27 .1h0m-9.7 .3h0m16.3 .9h0m-2.3 .4h0m-21 .7h0m-8.6 .3h0m6.7 .3h0m15.1 .3h0m5.1 .1h0m.5 1.1h0m-4.2 .6h0m-20.2 .1h0m9.1 .6h0m-10.5 .3h0m9.9 .2h0m-2.3 .6h0m16.5 .7h0m-14.9 .4h0m-2.6 .1h0m4.2 .4h0m-5.4 .1h0m1.3 .5h0m6.6 .4h0m1.5 1h0" stroke="#7a46ba" stroke-width="4.05" stroke-linecap="round" fill="none" stroke-opacity="0.24"/>
</g>
<g filter="url(#b6)">
<path d="M406.7 225.2h0m-14.5 .4h0m10.9 .2h0m-3.6 1.1h0m9.2 .1h0m-17.2 .7h0m-1.7 .1h0m-1.8 .8h0m1.5 0h0m6.6 0h0m-.5 .3h0m10.1 .4h0m3.5 .2h0m2.6 .1h0m-3.4 .3h0m-7.9 .2h0m14.6 0h0m-27.6 .5h0m6.1 .2h0m13.3 .2h0m-2 .1h0m-1.8 .1h0m10.2 .3h0m-12.8 .9h0m-5.3 .3h0m19.7 .8h0m-10.4 .4h0m-12.1 .7h0m1.4 0h0m-4.1 .2h0m11.3 .5h0m-18.6 .2h0m20.7 .2h0m3.1 .4h0m.4 0h0m-7.5 .1h0m4.6 .7h0m-19.2 .3h0m21.6 .4h0m12.9 .1h0m-27.1 .2h0m-4.6 .1h0m5.6 .4h0m10.5 .6h0m9.7 .2h0m-24.1 .1h0m14.8 0h0m11.9 0h0m-24.9 .3h0m19.2 .1h0m-12.8 .4h0m11.5 0h0m-21 .4h0m2.7 .1h0m5.9 0h0m6.1 0h0m-8.8 .3h0m13.2 .1h0m12 .1h0m-23.3 .1h0m6.3 .6h0m-7.9 .1h0m-12.6 .1h0m39 0h0m-38.6 .3h0m7.6 .1h0m.1 .3h0m10 .8h0m2.6 .2h0m-20.2 .1h0m-.7 .4h0m38.3 .3h0m-39.1 .1h0m17.5 .3h0m19.9 0h0m-5.2 .3h0m-.7 .3h0m-10.7 .4h0m-8.8 .2h0m8.8 .3h0m1.8 0h0m-4.7 .1h0m4.7 .8h0m-.8 .3h0m17.4 .2h0m-20.7 .7h0m10.5 .5h0m-21 .1h0m-1.2 .9h0m16.1 0h0m-14.8 .1h0m19 .2h0m4.7 .1h0m-2.5 .2h0m-12.2 .3h0m-6 .1h0m25.1 0h0m-4.7 .4h0m-28 .1h0m27 .1h0m-9.7 .3h0m-10.4 .1h0m-1.4 .1h0m28.1 .7h0m-2.3 .4h0m-21 .7h0m-10.8 .1h0m2.2 .2h0m28.9 .1h0m-22.2 .2h0m18.4 .1h0m-3.3 .2h0m7.6 0h0m-2.5 .1h0m.5 1.1h0m-26.5 .4h0m11.9 .3h0m-.7 .6h0m-10.5 .3h0m2.8 .3h0m21.3 1.2h0m-19.2 .1h0m4.3 .3h0m-2.6 .1h0m13 .1h0m-8.8 .3h0m2.5 1h0m1.5 1h0m-1.1 .5h0m-2.3 .4h0" stroke="#7a46ba" stroke-width="1.85" stroke-linecap="round" fill="none" stroke-opacity="0.66"/>
<path d="M394.1 224.2h0m14 1.5h0m3.8 1.1h0m-8.2 1.1h0m-16.7 .1h0m15.6 3.6h0m-1.8 2.5h0m11.5 .6h0m-21.9 3.7h0m17.4 1h0m-21.6 1.6h0m3.3 2.9h0m-3.8 .3h0m21.8 1h0m2 .2h0m4 2.5h0m-30.6 .8h0m3.2 2h0m22.6 5.9h0m-20.2 .1h0m8.5 1.1h0m-2.3 .6h0m-2.2 1.7h0m1.3 .5h0" stroke="#5a28a2" stroke-width="2.7" stroke-linecap="round" fill="none" stroke-opacity="0.8"/>
</g><g filter="url(#b3)">
<path d="M401.8 223.4h0m2.9 .5h0m-.5 .5h0m2.3 .1h0m-9.5 .1h0m1.5 0h0m-3.7 .3h0m6.7 .3h0m0 0h0m-1.9 .4h0m-8.4 .2h0m-1.2 .6h0m6 0h0m12.6 .1h0m-8.2 .6h0m4.2 0h0m-9.8 .1h0m16.9 0h0m-18.6 .1h0m7.9 .5h0m-11.3 .3h0m9.6 0h0m-6.7 .1h0m-2.4 .1h0m.3 .1h0m11.1 0h0m-12.6 .2h0m11.4 .5h0m5.8 0h0m4.1 .1h0m-21.7 .6h0m15.7 0h0m10.8 .1h0m-7.2 .3h0m-16.4 .4h0m11.1 .1h0m-16 .1h0m26.4 .1h0m-7 .2h0m.8 .2h0m.1 0h0m-7.1 .1h0m4.5 0h0m.3 0h0m-2.9 .1h0m-15.1 .1h0m23.9 0h0m-23.8 .2h0m23.4 .1h0m-25.6 .1h0m7.5 .2h0m15.7 0h0m.7 0h0m-12.8 .2h0m-.6 .1h0m-10.1 .5h0m9.2 0h0m-5.9 .1h0m.7 0h0m28.4 0h0m-20.7 .2h0m18.5 .1h0m-28 .2h0m16.9 .1h0m13.6 0h0m-16.2 .1h0m-18.4 .2h0m11.1 .5h0m3.4 0h0m12.5 0h0m-12.4 .1h0m.7 .2h0m7.9 0h0m-18.7 .1h0m-1.1 .2h0m14.2 0h0m2.8 0h0m4.5 0h0m-15.2 .1h0m16.9 0h0m-16.3 .3h0m21.5 0h0m-20.1 1h0m6.8 .1h0m1.8 0h0m-20.3 .2h0m27 .2h0m-27.9 .6h0m15.7 .1h0m9.8 0h0m9.3 .3h0m-27.4 .1h0m10.6 0h0m10.5 0h0m4.5 .1h0m1.8 0h0m-8.1 .2h0m-25.8 .3h0m7.8 0h0m19.9 .4h0m-24.3 .1h0m4.6 .2h0m-10.2 .2h0m32.1 .1h0m-18.8 .1h0m18.5 0h0m-10.6 .1h0m4 0h0m13.3 0h0m-37.9 .2h0m24 .4h0m-3.9 .1h0m15.7 .1h0m-34.6 .2h0m37.3 .3h0m-39 .1h0m5.1 .1h0m10.9 0h0m-14.9 .1h0m.1 .2h0m19.2 .1h0m7.4 0h0m1.3 0h0m-1.3 .1h0m-16.6 .5h0m10.5 .3h0m10.2 0h0m-14.4 .1h0m-16.9 .2h0m30.8 0h0m-5.6 .1h0m3.1 0h0m-16.5 .1h0m13.8 0h0m3.9 0h0m-17.9 .4h0m1.6 0h0m2.4 .1h0m14.8 0h0m-9.4 .1h0m13.6 0h0m-9.9 .3h0m-12.9 .4h0m12.2 0h0m-23.3 .1h0m36.8 .2h0m-25.7 .2h0m-.9 .1h0m-10.8 .1h0m.3 .2h0m.3 0h0m5.6 0h0m11.5 0h0m1.7 0h0m-16 .1h0m9.9 0h0m-5.5 .6h0m-3.6 .6h0m32.8 0h0m-13.3 .1h0m12.1 0h0m-36.6 .2h0m1.9 .4h0m24.3 0h0m-25.2 .1h0m12.7 .1h0m-11.9 .1h0m3.8 .1h0m16.3 .1h0m5 0h0m-16.8 .1h0m-.4 .3h0m-6.6 .1h0m23 .2h0m4 0h0m-7.4 .1h0m-8.9 .1h0m11.7 0h0m-23.7 .2h0m10.9 0h0m11.5 0h0m-3.7 .1h0m13 .2h0m-26.2 .1h0m6.2 .2h0m-4.6 .4h0m26.1 .1h0m-8.4 .3h0m-7.6 .3h0m8.1 0h0m-12.2 .3h0m9 0h0m10.5 0h0m2.4 0h0m-15.9 .2h0m-12.4 .8h0m26.1 .2h0m-32.6 .1h0m2.2 0h0m29 .4h0m-29.5 .1h0m32 0h0m-15.7 .1h0m3.9 0h0m3.7 .2h0m-14.1 .2h0m11.8 0h0m5.3 0h0m-12.5 .2h0m-14.9 .1h0m8.6 .1h0m3.7 0h0m5.4 .2h0m2.8 .1h0m-19.2 .3h0m11.9 0h0m9.3 0h0m-13.2 .1h0m4.2 .1h0m-11.5 .1h0m3.7 .1h0m26.4 .2h0m-16.7 .2h0m.4 0h0m13.9 .1h0m-22.5 .1h0m3.4 0h0m-8.4 .1h0m5.5 0h0m22.3 .3h0m-14.1 .1h0m-6.9 .1h0m6.6 .1h0m-6.2 .2h0m3.6 .1h0m11.4 .3h0m1.8 .1h0m-7.2 .3h0m.8 .3h0m2.3 .4h0m-16.2 .2h0m6.2 0h0m14.1 .2h0m-1.1 .1h0m.5 .1h0m.2 .9h0m-9.7 .3h0m3.2 .1h0m1.9 0h0m-13.6 .3h0m2 .3h0m-1.4 .1h0m3.6 .5h0m6.7 .2h0m-3.6 .1h0m-4.8 .1h0m7.9 .5h0m5.5 .1h0m-10.1 .4h0m3.4 1h0" stroke="#7a46ba" stroke-width="1" stroke-linecap="round" fill="none" stroke-opacity="0.55"/>
<path d="M387 228h0m15.6 3.6h0m9.7 3.1h0m-21.9 3.7h0m-.9 5.5h0m24 4h0m-30.6 .8h0m3.2 2h0m2.4 6h0m8.5 1.1h0m-2.3 .6h0m-2.2 1.7h0" stroke="#5a28a2" stroke-width="1.3" stroke-linecap="round" fill="none" stroke-opacity="0.9"/>
</g></g>
<circle cx="400.3" cy="243.2" r="20.3" fill="none" stroke="#a79cc4" stroke-width="0.4"/>
<clipPath id="p12"><circle cx="400.3" cy="287.4" r="20.6"/></clipPath>
<circle cx="400.3" cy="287.4" r="20.6" fill="#efeef3"/>
<g clip-path="url(#p12)">
<g filter="url(#b10)">
<path d="M395.4 268.1h0m5.6 .2h0m-4.8 2.3h0m.4 0h0m9.6 .4h0m3.2 .4h0m-1.6 1h0m5.6 0h0m-13.4 2.5h0m-8.1 .1h0m16.4 .1h0m6 .5h0m-8 .6h0m-10 .2h0m-6 .9h0m13.8 .1h0m-5.6 1.5h0m-3.5 1.2h0m4.2 .1h0m9.4 .4h0m-17.9 2.2h0m27.8 1.5h0m-20.6 .1h0m19.8 1.1h0m2.4 0h0m-25.9 1.9h0m18.6 .2h0m-24.7 .2h0m21.3 .8h0m-10.5 2h0m20.9 1.3h0m-36.5 .5h0m36.1 .5h0m-23.3 .4h0m6.4 .1h0m15.6 .6h0m-24.6 .1h0m24.4 .4h0m-6.4 1.3h0m-8.1 .1h0m-17.8 .9h0m25.3 .8h0m-6.7 .1h0m-18.5 .1h0m26.6 .8h0m-21.3 .6h0m19.2 2h0m2.1 0h0m-1 1.9h0m-1.5 .1h0m.5 .2h0m-2.6 1.5h0m-4.5 1.1h0m.8 .6h0m-.4 .5h0" stroke="#7a46ba" stroke-width="4.2" stroke-linecap="round" fill="none" stroke-opacity="0.35"/>
</g>
<g filter="url(#b6)">
<path d="M395.4 268.1h0m7.4 .3h0m-4 .3h0m-3.8 1.2h0m1.6 .7h0m9.6 .4h0m3.2 .4h0m-1.6 1h0m4.6 0h0m1 0h0m-25.9 .5h0m.2 .5h0m4.2 1.6h0m16.4 .1h0m6 .5h0m-8 .6h0m-1.2 .1h0m-17.2 .5h0m3.2 .3h0m-3.8 .1h0m20.8 .1h0m-4.7 .1h0m3.4 1.1h0m-8.3 .4h0m9.9 .6h0m-18.9 .4h0m13.9 .1h0m-8.4 .1h0m4.2 .1h0m9.4 .4h0m-13.2 .4h0m8.4 .1h0m-13.1 1.7h0m27.8 1.5h0m-20.6 .1h0m5.3 1.7h0m5.6 .1h0m-23.2 .7h0m27.2 .7h0m-13.9 3h0m-10.6 .7h0m31.5 .6h0m-36.5 .5h0m36.1 .5h0m-23.3 .4h0m6.4 .1h0m-13.5 .6h0m2.6 .1h0m1.9 0h0m24.4 .4h0m-34.3 .9h0m4.4 .2h0m23.5 .2h0m-15.6 .2h0m15 1.6h0m-6.7 .1h0m-5.7 .2h0m11.7 .2h0m2.1 .5h0m-21.3 .6h0m1 .4h0m7.2 1.5h0m13.1 .1h0m-1 1.9h0m-19.5 .2h0m18.5 .1h0m-3.6 .2h0m-14.5 .7h0m12.3 2.6h0m-.9 .2h0" stroke="#7a46ba" stroke-width="1.9" stroke-linecap="round" fill="none" stroke-opacity="0.7"/>
<path d="M401 268.3h0m-4.8 2.3h0m3.8 4.3h0m-3.7 1.5h0m-6 .9h0m13.8 .1h0m13.6 8.1h0m2.4 0h0m-25.9 1.9h0m-6.1 .4h0m21.3 .8h0m8.7 5.4h0m-14.7 1.9h0m-17.8 .9h0m.1 1h0m24.5 3.4h0m-.4 2h0m-2.1 1.7h0m-4.5 1.1h0m.8 .6h0" stroke="#5a28a2" stroke-width="2.8" stroke-linecap="round" fill="none" stroke-opacity="0.85"/>
</g><g filter="url(#b3)">
<path d="M398.8 268.9h0m8.9 0h0m-12.6 .2h0m8.3 .7h0m-4.8 .2h0m-5.2 .9h0m13.9 0h0m-12.4 .5h0m6.9 .6h0m6.6 .1h0m-12.7 .2h0m4.1 0h0m.6 .9h0m-6.3 .2h0m18.4 .2h0m-15.8 .1h0m2.6 .1h0m1.5 .1h0m6.9 .8h0m-17.7 .1h0m-5.2 1h0m23.9 .8h0m6.1 .2h0m-6.3 .6h0m-7.3 1.3h0m-5 .2h0m5.1 .5h0m-19.1 .2h0m36.8 .4h0m-23.2 .2h0m16.1 0h0m-26.6 .1h0m33.4 0h0m-11.8 .6h0m-20.8 .1h0m16.6 .5h0m.3 .1h0m-9.4 .7h0m-3.1 .3h0m11.6 .1h0m15.5 .2h0m.8 .5h0m-9.5 .1h0m-3.5 .7h0m-2.5 .3h0m-20.4 .9h0m31.2 0h0m-11.5 .4h0m-5.2 .3h0m17.7 0h0m-.7 .1h0m-27.2 .2h0m12.5 .2h0m-10.8 1h0m-7.6 .6h0m7.6 .1h0m-7.4 .3h0m27.5 0h0m-2.5 .5h0m-25.4 .5h0m39.2 .3h0m0 .2h0m-38.2 1.7h0m.3 .1h0m18.2 .1h0m-14.4 .1h0m-1.5 .1h0m-1.1 .2h0m31.6 .3h0m-18.5 .2h0m21.7 .1h0m-29.5 1.2h0m-2.6 .1h0m15.3 0h0m11.5 .6h0m-7 .2h0m-2.1 .1h0m-5.6 .5h0m-13.2 .1h0m16.2 .4h0m-16.7 .6h0m30.7 .1h0m-1 .1h0m-29.7 .3h0m32.7 .9h0m-20.4 .4h0m3.5 .1h0m-11.8 1h0m-.2 .3h0m-.7 1.2h0m4.1 .2h0m22.6 .1h0m-16.3 .3h0m-5.2 .2h0m-5.7 .1h0m9.4 .2h0m-6.9 1.1h0m20.6 .7h0m-16.1 .2h0m-2.5 .1h0m11.2 .2h0m.3 .4h0m-9.7 .9h0m2.6 .3h0m8.7 .2h0" stroke="#7a46ba" stroke-width="1" stroke-linecap="round" fill="none" stroke-opacity="0.55"/>
<path d="M401 268.3h0m-4.8 2.3h0m3.8 4.3h0m-3.7 1.5h0m7.8 1h0m13.6 8.1h0m-29.6 2.3h0m30 6.2h0m-8.3 9.2h0m-2.1 1.7h0" stroke="#5a28a2" stroke-width="1.3" stroke-linecap="round" fill="none" stroke-opacity="0.9"/>
</g></g>
<circle cx="400.3" cy="287.4" r="20.4" fill="none" stroke="#cfcbdc" stroke-width="0.4"/>
<clipPath id="p13"><circle cx="455.2" cy="243.2" r="20.5"/></clipPath>
<circle cx="455.2" cy="243.2" r="20.5" fill="#e6dff4"/>
<g clip-path="url(#p13)">
<g filter="url(#b10)">
<path d="M453.2 223.2h0m1.2 2.4h0m-8.6 .3h0m1.2 .7h0m-3.7 .4h0m3.7 .5h0m14.9 0h0m4.4 .2h0m-1.8 .2h0m-15.8 .3h0m4.3 .2h0m1.5 .6h0m9.4 .1h0m-14 1.1h0m4 .1h0m-13.8 .2h0m3.6 .7h0m12.6 .1h0m9.4 0h0m-17.6 .3h0m-.1 .2h0m23 0h0m-1 .1h0m-16.7 1.3h0m17 .3h0m-32.4 .4h0m35.4 .1h0m-33.9 .2h0m22.8 .6h0m8.2 0h0m-25.6 1.2h0m10.4 .1h0m1.5 1.7h0m16.5 .2h0m-31.9 .2h0m.6 0h0m30 .1h0m2.8 .2h0m-27.3 .3h0m20.5 .1h0m-31 .3h0m38.2 .1h0m-30.5 .4h0m18 .2h0m-6.6 .2h0m-12.1 .1h0m25.5 0h0m-27 .1h0m19.3 0h0m-8.7 .2h0m14.6 .6h0m5 .2h0m-27.6 .6h0m12.4 .4h0m-7.2 .4h0m-10.8 1.2h0m20.2 .1h0m-14 .5h0m28 .1h0m-11.1 .1h0m4.3 0h0m-29.8 .1h0m21.8 .1h0m2.9 0h0m-1.3 .3h0m13 .4h0m.6 0h0m-25.9 .5h0m26.5 .2h0m-15 .3h0m15.4 0h0m-6.3 .2h0m-26 .7h0m12.1 1h0m-14.7 .1h0m25.8 .1h0m8.7 .1h0m-16.6 .1h0m-7.2 .1h0m2.4 .1h0m1.6 .7h0m-17 .1h0m1.9 .1h0m18.3 0h0m6.9 .1h0m5.3 .3h0m-12.8 .2h0m7.2 .5h0m-10.6 .4h0m-2.8 .3h0m18.1 0h0m-8.2 .1h0m-23.4 .2h0m24.4 .1h0m-22.6 .8h0m-.6 .3h0m10 .5h0m21.7 0h0m-30.4 .2h0m3.1 .1h0m11.7 .8h0m-13.9 .2h0m16.6 .7h0m9.3 0h0m-8.1 .5h0m-2 .1h0m-5.1 .3h0m6.5 0h0m-17.4 .3h0m9.7 .2h0m10.2 0h0m-15.5 1.1h0m16.7 .1h0m1.5 0h0m-4.1 .8h0m-11.4 .3h0m12.2 .5h0m-14 .5h0m9 .3h0m-.9 .6h0m4.2 0h0m4.2 .3h0m-13.3 .4h0m4.4 .1h0m7.6 0h0m-1.2 .1h0" stroke="#7a46ba" stroke-width="4.05" stroke-linecap="round" fill="none" stroke-opacity="0.24"/>
</g>
<g filter="url(#b6)">
<path d="M453.2 223.2h0m5.3 .5h0m-9 .5h0m3.7 .3h0m-2.1 .3h0m6.6 .4h0m-3.3 .4h0m-7.4 1h0m-3.7 .4h0m7.2 .1h0m17 0h0m-15.6 .2h0m10 .2h0m4.4 .2h0m-1.8 .2h0m-15.8 .3h0m13.7 0h0m-9.4 .2h0m10.5 0h0m-22 .2h0m7.7 .2h0m.9 .1h0m16.3 0h0m-11.9 .1h0m14.9 0h0m-5.5 .1h0m-7.5 .1h0m8.9 .2h0m-18 .2h0m14.4 .4h0m-11.8 .2h0m4 .1h0m-13.8 .2h0m3.6 .7h0m12.6 .1h0m9.4 0h0m4.3 .6h0m-32.2 1.7h0m13.3 .2h0m-13.2 .1h0m35.4 .1h0m-18.1 .1h0m-6.1 .3h0m22.6 0h0m1 .2h0m-10.5 .2h0m-.8 .2h0m-10.2 .4h0m10.5 0h0m9.9 .4h0m-25.6 .3h0m-1.4 1h0m29 0h0m-16.9 .7h0m16.5 .2h0m-31.9 .2h0m.6 0h0m28.5 0h0m-33.3 .1h0m34.8 0h0m2.8 .2h0m-13.8 .3h0m7 .1h0m-31 .3h0m38.2 .1h0m-25.6 .4h0m13.1 .2h0m4.1 .1h0m6.3 0h0m-18.6 .1h0m-10.5 .1h0m25.5 0h0m-33.1 .1h0m6.1 0h0m19.3 0h0m5.9 .8h0m-26.3 .1h0m23.7 .1h0m7.6 0h0m-33.9 .1h0m-.2 .5h0m6.5 0h0m29.3 .1h0m-33.8 .1h0m16.9 .2h0m-14.5 .4h0m7.3 0h0m13.7 0h0m10.3 0h0m-9.5 .4h0m-21.1 .3h0m3.5 .2h0m-.1 .2h0m12.2 .2h0m.4 0h0m3.5 .2h0m1.8 .1h0m-19.3 .2h0m13.7 .2h0m-6 .2h0m5.5 0h0m1.6 .3h0m13.6 .4h0m-25.9 .5h0m26.5 .2h0m-25.9 .1h0m10.9 .2h0m9.1 .2h0m6.2 0h0m-29.6 .1h0m11.7 .2h0m-15.2 .8h0m13 .6h0m-14.7 .1h0m25.8 .1h0m-7.9 .2h0m-7.2 .1h0m10.5 0h0m12.4 0h0m-20.5 .1h0m.1 .2h0m1.5 .5h0m-18.2 .1h0m1.2 0h0m10.5 .1h0m9.7 0h0m4.9 .1h0m2 0h0m-26.4 .2h0m19.6 .1h0m-.7 .2h0m10.3 .3h0m-3.1 .2h0m-10.6 .4h0m-3.8 .1h0m1 .2h0m18.1 0h0m-8.2 .1h0m-23.4 .2h0m-.2 .1h0m24.6 0h0m5.4 .1h0m-7.4 .5h0m-20.6 .2h0m-.6 .3h0m1.1 0h0m11.9 .4h0m-3 .1h0m21.7 0h0m-27.3 .3h0m26.2 .1h0m-5 .1h0m-23.8 .1h0m29.9 .5h0m-29.5 .2h0m16.6 .7h0m1.2 .5h0m-2 .1h0m-5.1 .3h0m-6.5 1.6h0m16.7 .1h0m1.5 0h0m1.7 .3h0m-5.8 .5h0m-11.4 .2h0m12.2 .6h0m1.6 .1h0m-1.3 .3h0m-14.3 .1h0m9 .3h0m-5.2 .5h0m-.8 .1h0m5.1 0h0m4.2 0h0m-5.2 .1h0m9.4 .2h0m-5.9 .1h0m-7.4 .3h0m4.4 .1h0m7.6 0h0" stroke="#7a46ba" stroke-width="1.85" stroke-linecap="round" fill="none" stroke-opacity="0.66"/>
<path d="M445.8 225.9h0m1.2 1.6h0m1.1 4.1h0m-.1 .2h0m23 0h0m-17.7 1.4h0m17 .3h0m-30.9 .7h0m31 .6h0m-25.6 1.2h0m10.4 .1h0m-7.8 2.7h0m-2.8 .9h0m11.4 .4h0m-3 .4h0m-13.6 3.4h0m34.2 .7h0m-11.1 .1h0m4.3 0h0m-29.8 .1h0m24.7 .1h0m11.7 .7h0m1.6 1h0m-32.3 .9h0m31.9 1.3h0m-34.9 1.2h0m30.5 .4h0m-30 3.6h0m14.8 .9h0m12 .9h0m-8.7 .9h0m-17.4 .3h0m9.7 .2h0m10.2 0h0m-12.8 2.3h0m12.2 2.8h0" stroke="#5a28a2" stroke-width="2.7" stroke-linecap="round" fill="none" stroke-opacity="0.8"/>
</g><g filter="url(#b3)">
<path d="M455 222.9h0m1.4 .9h0m1.9 .1h0m-2.8 .1h0m2.5 0h0m-5.2 .3h0m6.3 .5h0m.6 0h0m-6.8 .1h0m10.7 0h0m-14.3 .2h0m7.4 0h0m-6 .5h0m1.1 0h0m-.9 .1h0m4.4 .3h0m5.5 .1h0m-13.9 .1h0m1.7 0h0m16.8 .3h0m.7 0h0m-14.3 .1h0m14.9 .2h0m-2.8 .6h0m-18.6 .1h0m11.4 0h0m10.6 .1h0m-18.5 .1h0m14.7 .2h0m.8 0h0m-20.9 .2h0m-.8 .1h0m7.2 0h0m5.9 .1h0m12.6 .1h0m-21.3 .2h0m-1.7 .3h0m19.9 .1h0m-19.8 .1h0m.2 .4h0m14.5 0h0m7.1 .4h0m-12.1 .2h0m5.1 0h0m-18.4 .1h0m0 .1h0m14.2 0h0m0 .5h0m8.3 0h0m-15.4 .1h0m8.2 0h0m11.4 0h0m-11.9 .3h0m12.5 .2h0m-30.5 .3h0m28.6 .2h0m1.6 0h0m-28.5 .2h0m.6 .1h0m13.8 0h0m5.6 .4h0m-11.8 .1h0m-.1 .1h0m10.1 .1h0m-19.8 .1h0m26.8 .3h0m2.4 0h0m-29.5 .1h0m2.8 0h0m7.7 .3h0m18.7 0h0m-22 .5h0m13.4 0h0m-11.4 .1h0m21.4 .3h0m-11.8 .2h0m9.4 0h0m-21 .2h0m-2.5 .1h0m2.2 0h0m12.9 0h0m6.9 .1h0m-13.5 .1h0m-7.3 .2h0m17 0h0m-14.7 .2h0m0 0h0m-7.4 .1h0m27.1 0h0m-24.9 .2h0m6 .1h0m-11.1 .2h0m1.8 .1h0m29.3 0h0m-24.8 .2h0m6 0h0m19.5 0h0m1.3 0h0m-26.9 .1h0m16.1 0h0m-22.2 .3h0m1.9 .1h0m3.9 0h0m6.8 .2h0m3.6 0h0m5.9 0h0m.8 .2h0m-20 .2h0m21 .1h0m1.8 .1h0m-1.2 .1h0m-18 .1h0m4.9 0h0m23.6 0h0m-20.5 .2h0m1.2 .1h0m-4.9 .3h0m13.6 .5h0m.6 0h0m6.6 .1h0m3.9 0h0m-6.8 .1h0m-19.5 .3h0m-3.4 .3h0m15.2 .2h0m-15.7 .2h0m4.7 0h0m-6.9 .3h0m15.1 0h0m-15.5 .1h0m29.2 0h0m-17 .1h0m2.5 0h0m-14.8 .1h0m8.4 0h0m-4 .1h0m30.3 .2h0m-14.1 .2h0m8.4 0h0m2.6 0h0m-17.2 .1h0m-12.8 .1h0m8.1 .2h0m-.9 .5h0m12.7 .1h0m10.3 .1h0m-34.9 .1h0m-.1 .1h0m36.2 .1h0m-.5 .1h0m-21.9 .1h0m4.7 .1h0m-18.4 .2h0m11.5 0h0m21.5 0h0m-20.3 .3h0m-1.5 .1h0m1.7 0h0m-5.3 .1h0m-7.2 .1h0m11.8 0h0m11.3 .1h0m-.4 .1h0m2 0h0m-24.8 .1h0m32 0h0m-31.3 .1h0m31.4 0h0m-16.7 .1h0m20.3 0h0m-34.7 .3h0m20.2 0h0m-6.5 .1h0m16.5 .1h0m-17.4 .1h0m-7.4 .3h0m8.8 .5h0m16.3 0h0m-26.4 .1h0m8 0h0m8.5 0h0m2.2 .1h0m6.8 0h0m-8.5 .1h0m-10.3 .6h0m17.2 .1h0m-1.2 .2h0m-13.1 .1h0m14.3 .2h0m8.5 .2h0m-32.5 .1h0m24.4 0h0m-6.1 .1h0m-7.7 .5h0m10.9 0h0m-11 .1h0m-10 .1h0m18.4 0h0m-6.2 .1h0m.5 0h0m7.7 0h0m-21.4 .1h0m-.8 .1h0m15.9 0h0m-15.1 .1h0m23 0h0m.7 0h0m-2.2 .2h0m-12 .1h0m-9.9 .4h0m7.6 0h0m10.7 0h0m15.1 0h0m-26.3 .2h0m9.6 0h0m-14.5 .1h0m23.7 0h0m.4 0h0m-16.3 .1h0m12.7 .1h0m6.3 0h0m-15.4 .4h0m-14.8 .1h0m22.3 .3h0m11.3 0h0m-20.3 .1h0m-6.1 .1h0m3.4 0h0m21.9 0h0m-34.3 .1h0m28.7 .1h0m-22.6 .2h0m7.8 0h0m18.2 0h0m-30.5 .3h0m33.3 .4h0m-21.9 .1h0m3.8 0h0m4.1 .1h0m-18.9 .2h0m16.3 .1h0m7 .2h0m-23.7 .1h0m12.6 0h0m-1.4 .1h0m-7.3 .2h0m8 0h0m18.3 0h0m2.2 0h0m-23.5 .1h0m-9.2 .2h0m12.7 .4h0m-1.6 .2h0m11.4 0h0m8.6 0h0m-27.9 .2h0m-.6 .2h0m16.8 .1h0m5.3 .4h0m-1.7 .1h0m-.6 .1h0m.1 .2h0m-14.2 .1h0m-.2 .2h0m17.1 .1h0m.5 .1h0m-6.4 .1h0m-10.3 .1h0m.1 0h0m10.9 0h0m10.4 .1h0m-5.6 .1h0m3.6 .1h0m-16.1 .1h0m2.4 0h0m-9.8 .3h0m-1.3 .5h0m19.9 0h0m-1.9 .1h0m7.8 .1h0m-13.1 .2h0m-1.9 .2h0m4.7 .6h0m7.2 .2h0m-20.1 .2h0m20.6 .2h0m-20.3 .1h0m4 .7h0m-2.8 .1h0m1.3 .5h0m10.3 0h0m5.3 0h0m-13.9 .3h0m12.6 .4h0m1.4 0h0m-7.9 .1h0m5 0h0m2.2 0h0m-13.4 .2h0m12.3 .2h0m-7.6 .2h0m6.3 0h0m-.7 .1h0m-1.1 .1h0m.5 0h0m-7 .2h0m5.9 .1h0m.9 0h0m-3.3 .6h0m-3.2 .1h0" stroke="#7a46ba" stroke-width="1" stroke-linecap="round" fill="none" stroke-opacity="0.55"/>
<path d="M445.8 225.9h0m1.2 1.6h0m1.1 4.1h0m5.2 1.6h0m-13.9 1h0m15.8 1.9h0m-7.8 2.7h0m-2.8 .9h0m-5.2 4.2h0m23.1 .8h0m4.3 0h0m-29.8 .1h0m36.4 .8h0m1.6 1h0m-35.3 3.4h0m.5 4h0m14.8 .9h0m-7 4.6h0" stroke="#5a28a2" stroke-width="1.3" stroke-linecap="round" fill="none" stroke-opacity="0.9"/>
</g></g>
<circle cx="455.2" cy="243.2" r="20.3" fill="none" stroke="#a79cc4" stroke-width="0.4"/>
<clipPath id="p14"><circle cx="455.2" cy="287.4" r="20.6"/></clipPath>
<circle cx="455.2" cy="287.4" r="20.6" fill="#efeef3"/>
<g clip-path="url(#p14)">
<g filter="url(#b10)">
<path d="M453 267.6h0m3.9 2.6h0m4.1 .6h0m3.4 1.5h0m1.5 .3h0m-4.7 .3h0m-7.8 1.2h0m5.5 .4h0m-2.8 .4h0m1.7 .2h0m12.3 1h0m-15.7 1.7h0m-14.8 .5h0m17 .2h0m4.1 .6h0m-12 .3h0m-1.1 1.4h0m14.8 0h0m-1.6 .9h0m-8 .8h0m-14.8 .1h0m3.4 .1h0m7.9 1h0m25.4 .3h0m-33 .1h0m10.8 .1h0m-.8 .1h0m-12.3 .3h0m25.1 .1h0m-12 .1h0m16.6 0h0m-25.3 .4h0m3.3 0h0m-12.1 .1h0m30.4 0h0m-23.3 .1h0m3.4 .3h0m21.9 0h0m-11.5 1.2h0m10.3 .3h0m-22.4 .3h0m8 1.1h0m-7.8 1.3h0m-8.5 .7h0m11.2 .1h0m3.8 .1h0m7.9 .3h0m1 .5h0m-2.4 .7h0m3.5 1h0m9.4 .1h0m-9.6 .8h0m-13.7 .4h0m-7.2 .6h0m13.1 .1h0m-1.1 1.1h0m7 0h0m-3.7 .3h0m-2.1 .4h0m-12.7 .8h0m-.8 .3h0m5.8 .2h0m19.9 .3h0m-13.1 .8h0m11.9 1.6h0m-15 .6h0m16.1 .5h0m-8.9 .2h0m4.1 .4h0m2.1 .3h0m-14.3 .6h0m13.4 .5h0m-1.8 .2h0m-9.8 .9h0m0 .9h0" stroke="#7a46ba" stroke-width="4.2" stroke-linecap="round" fill="none" stroke-opacity="0.35"/>
</g>
<g filter="url(#b6)">
<path d="M453 267.6h0m-4.9 1.6h0m8.2 .2h0m4.7 1.4h0m3.4 1.5h0m3.9 .3h0m-3.4 .9h0m-15.8 .4h0m8.3 .3h0m.4 .2h0m1.1 .1h0m-11.9 .1h0m10.8 .5h0m-17.8 .2h0m9.3 .2h0m-2.2 .2h0m23 .4h0m-15.7 1.7h0m11.7 1.4h0m-17.4 .2h0m-3.4 .2h0m2.3 1.2h0m13.2 .9h0m-22.8 .9h0m3.4 .1h0m26.9 .4h0m6.4 .9h0m-22.2 .2h0m-.8 .1h0m.8 .3h0m0 .2h0m16.6 0h0m-25.3 .4h0m3.3 0h0m18.3 .1h0m-29.1 .1h0m15.7 0h0m-6.5 .3h0m21.9 0h0m-32.5 .6h0m21.5 .1h0m9.8 .8h0m-1.9 1h0m-17.5 .2h0m5 .2h0m-1.3 2.2h0m17.6 .2h0m-9.7 .1h0m16.1 0h0m-15.1 .5h0m14.1 0h0m-22.9 .5h0m-2.1 .2h0m8.5 0h0m3.5 1h0m9.4 .1h0m-4.2 .9h0m5.2 .1h0m-31.5 .8h0m13.1 .1h0m-13.4 .9h0m12.3 .2h0m-13.4 .1h0m26.8 0h0m4.8 .3h0m1.4 1h0m-22.9 .2h0m21.5 .1h0m-30.5 .1h0m11.2 .2h0m14.5 .3h0m-8.9 .4h0m-3.8 .1h0m-.4 .3h0m-3.8 1.5h0m15.7 .1h0m-15 .6h0m16.1 .5h0m-8.9 .2h0m11 .2h0m-6.9 .2h0m-12.4 .6h0m.2 .3h0m13.4 .5h0m-1.8 .2h0m.4 1.6h0m-10.2 .2h0m7.7 .1h0m-2.7 .7h0m-1.2 .3h0" stroke="#7a46ba" stroke-width="1.9" stroke-linecap="round" fill="none" stroke-opacity="0.7"/>
<path d="M456.9 270.2h0m9 2.4h0m-4.7 .3h0m-7.8 1.2h0m2.7 .8h0m-16.5 3.4h0m17 .2h0m4.1 .6h0m1.7 1.7h0m-9.6 1.7h0m-3.5 1.2h0m-7.6 .4h0m-2.3 .5h0m25.1 .1h0m-29.5 .6h0m7.1 .1h0m13.8 1.5h0m-12.1 .6h0m.2 2.4h0m-8.5 .7h0m11.2 .1h0m13.6 3.5h0m-13.7 .4h0m11.8 1.8h0m-3.7 .3h0m-2.1 .4h0m-12.7 .8h0m5 .5h0m17.1 4.7h0m-12.5 2.2h0" stroke="#5a28a2" stroke-width="2.8" stroke-linecap="round" fill="none" stroke-opacity="0.85"/>
</g><g filter="url(#b3)">
<path d="M450.5 268.3h0m-1.1 1.4h0m.2 .2h0m4.3 .4h0m-.7 .5h0m-1.9 .2h0m.7 1h0m13.1 .1h0m.6 .5h0m-13.5 1.2h0m-.8 .4h0m10.1 .3h0m-16.5 .6h0m15.2 0h0m-18.3 .2h0m4.9 1.2h0m-6.8 .1h0m13.8 .3h0m9 .2h0m-16.6 .3h0m6 0h0m12.4 .8h0m7.4 .2h0m1.1 .7h0m-31.2 .8h0m.2 .4h0m26.9 .1h0m-14.2 .1h0m6.4 .4h0m-22 .1h0m8.5 .2h0m22.8 .1h0m1.7 0h0m-33.1 .2h0m4 0h0m0 0h0m4 .2h0m12.1 0h0m-23 .4h0m4.2 .2h0m4.4 .1h0m9.5 .2h0m-15.1 .9h0m.7 0h0m25.3 .3h0m-25.2 .3h0m26.8 0h0m-5 .2h0m-25.3 .2h0m34.3 .7h0m-9.6 .2h0m-25.3 .1h0m8.7 .1h0m27 .2h0m-36.2 .1h0m20.2 .1h0m-2.9 .3h0m14.1 .3h0m-4.9 .4h0m-25.6 .3h0m34.9 0h0m-8.8 .2h0m-2.3 .2h0m2.7 0h0m11.9 .1h0m-7.4 .1h0m-19.5 .3h0m6.5 0h0m9.4 0h0m-22.4 .1h0m29.6 .2h0m-1.3 .6h0m1.6 .5h0m3.1 .3h0m-1.9 .8h0m-23.1 .2h0m5.1 .1h0m-11.6 .2h0m31.6 .3h0m-37.9 .4h0m35.1 .5h0m-31.8 .3h0m20.7 0h0m-20.8 1h0m15 0h0m-11.5 .6h0m29.6 .2h0m-33.1 .1h0m5 .4h0m23 .1h0m4.3 .1h0m-34.7 .1h0m20.4 .2h0m-17.6 .2h0m10.7 0h0m-6.9 .3h0m-5.1 .1h0m5.1 .1h0m18.6 .1h0m-23.8 .1h0m32.1 .3h0m-23.4 .3h0m-7 .1h0m12 .1h0m14.3 .2h0m-10.6 .7h0m-9.9 .6h0m9.7 1h0m-15.8 .1h0m8.5 .3h0m13.2 0h0m5.8 .4h0m-3.7 .1h0m-2.6 1h0m-2.7 .5h0m-8.5 .4h0m17.8 .1h0m-18.8 .5h0m6.8 .4h0m-12.1 .2h0m4.2 0h0m5.5 .1h0m12.2 0h0m-20.1 .6h0m9.6 .2h0m-7.2 .7h0m10.5 0h0m-1.5 .5h0m2.4 .8h0m.8 .1h0" stroke="#7a46ba" stroke-width="1" stroke-linecap="round" fill="none" stroke-opacity="0.55"/>
<path d="M456.9 270.2h0m9 2.4h0m-4.7 .3h0m-21.6 5.4h0m17 .2h0m4.1 .6h0m-11.4 4.6h0m-7.6 .4h0m-6.7 1.2h0m7.1 .1h0m1.7 2.1h0m16.5 6.7h0m-13.7 .4h0m11.8 1.8h0m-18.5 1.5h0" stroke="#5a28a2" stroke-width="1.3" stroke-linecap="round" fill="none" stroke-opacity="0.9"/>
</g></g>
<circle cx="455.2" cy="287.4" r="20.4" fill="none" stroke="#cfcbdc" stroke-width="0.4"/>
<clipPath id="p15"><circle cx="498.8" cy="243.2" r="20.5"/></clipPath>
<circle cx="498.8" cy="243.2" r="20.5" fill="#e6dff4"/>
<g clip-path="url(#p15)">
<g filter="url(#b10)">
<path d="M504.8 224.8h0m-3.8 .2h0m-9.1 .8h0m3.4 0h0m6.3 .1h0m3.3 .1h0m.6 .9h0m6.7 1.8h0m-4.9 .2h0m4.9 .1h0m-13.3 .9h0m14.4 .2h0m-24.3 .2h0m20.7 0h0m-4.9 .5h0m7.9 .4h0m1.8 .3h0m-24.9 .1h0m-1.7 .9h0m3.2 .5h0m-7.6 .2h0m3.8 .1h0m-2 .3h0m11.9 0h0m.4 0h0m16.3 0h0m-29.7 .7h0m16 .7h0m-8.7 .2h0m-8.9 .1h0m22.7 .1h0m-14.9 .7h0m-4.4 .8h0m-1.1 1.5h0m18.8 0h0m-6.9 .2h0m-17.1 .2h0m25.1 0h0m3.9 .2h0m.3 .4h0m-26.3 .4h0m23.2 0h0m-5.1 .3h0m-18.7 .1h0m26 .3h0m-5.8 .4h0m9.8 .1h0m3.5 .3h0m-15.1 .3h0m10.5 .4h0m-18.3 .1h0m6.4 .2h0m-13.9 .4h0m3.5 .1h0m13.1 .4h0m-5.9 .2h0m-15.9 .3h0m4.1 .6h0m25.9 .1h0m4.5 0h0m-16.6 .4h0m.3 .4h0m-15 .1h0m8.4 .1h0m12.3 .2h0m-10 .6h0m22.2 .3h0m-36.3 .4h0m24 0h0m11.3 0h0m-14.4 .2h0m-20 .7h0m3.5 .2h0m10.5 .9h0m1.8 .2h0m11.1 0h0m4.4 .4h0m-9.8 .3h0m13.8 0h0m-11.5 .1h0m-8.3 .3h0m3.3 0h0m8.6 .4h0m-20.8 .2h0m-1.8 .3h0m-1.3 .3h0m6.2 .1h0m3.7 0h0m22.1 .1h0m-9.7 .4h0m5.2 0h0m-.7 .3h0m4.2 .3h0m-28.3 .2h0m26.7 0h0m1 0h0m-23.1 .1h0m8.2 .1h0m8 .3h0m8.3 .2h0m-9.8 .1h0m0 .1h0m-21.6 1.4h0m4.9 0h0m4.8 .5h0m16.3 .1h0m3.6 0h0m-30.1 .6h0m26.6 .1h0m-.3 .3h0m0 0h0m-6 .2h0m7.6 0h0m-.9 .6h0m-13.2 .2h0m5.5 .7h0m3.4 1.5h0m-2.4 .2h0m3 0h0m-4.4 .4h0m1.8 .2h0m-5.3 .1h0m2.8 .2h0m.7 .2h0m-7.1 .4h0m5 .1h0m.8 0h0m-5.9 .4h0m.3 .7h0" stroke="#7a46ba" stroke-width="4.05" stroke-linecap="round" fill="none" stroke-opacity="0.24"/>
</g>
<g filter="url(#b6)">
<path d="M500.3 224.2h0m-2 .2h0m6.5 .4h0m-3.8 .2h0m-6 .2h0m6.6 .7h0m-4.2 .1h0m7.5 0h0m-13.2 1.6h0m16.7 .1h0m-10.5 .3h0m-9.6 .6h0m23.9 .1h0m-4.9 .2h0m4.9 .1h0m-9.9 .1h0m-11.7 .8h0m8.3 0h0m14.4 .2h0m-24.3 .2h0m20.7 0h0m4.4 .2h0m-27.5 .3h0m18.2 0h0m7.9 .4h0m-19.2 .3h0m21 0h0m-14.6 .1h0m-17.5 .6h0m5.5 .3h0m3.2 .5h0m-6.8 .1h0m18.7 0h0m-19.5 .1h0m1.8 .4h0m11.9 0h0m.4 0h0m16.3 0h0m-4.9 .2h0m-24.8 .5h0m7.3 .9h0m-8.9 .1h0m22.7 .1h0m5.4 0h0m2.9 0h0m1.7 0h0m-24.9 .7h0m-4.4 .8h0m9.6 .7h0m5.5 0h0m2.6 .8h0m-8.2 .1h0m1.3 .1h0m-17.1 .2h0m25.1 0h0m-3 .2h0m6.9 0h0m-18.3 .5h0m-7.7 .3h0m33.1 .1h0m-15 .2h0m-18.7 .1h0m2.2 0h0m8 .2h0m-6.7 .2h0m-1 .1h0m17.7 .2h0m-22.1 .6h0m16.1 0h0m14.6 .1h0m1.4 .1h0m4.5 0h0m-6.6 .1h0m-2.8 .1h0m8.8 0h0m-1.8 .1h0m-15.3 .3h0m15.9 .3h0m-8.8 .1h0m-17.5 .1h0m-10 .1h0m8.6 .2h0m14.5 .1h0m-6.5 .1h0m.6 .1h0m-1.9 .1h0m4.6 .1h0m-7.2 .3h0m7.4 0h0m-10.6 .1h0m-8.8 .3h0m4.7 0h0m0 .2h0m-3.4 .3h0m17 0h0m.2 0h0m-3.4 .3h0m-11.3 .2h0m8.4 .1h0m5.7 0h0m-3.4 .8h0m11.5 0h0m.8 .1h0m9.9 .2h0m-12.3 .4h0m11.3 0h0m-14.4 .2h0m-15.5 .3h0m25.5 .2h0m-25.9 .1h0m-4.1 .1h0m3.5 .2h0m10.5 .9h0m15.8 .1h0m-14 .1h0m11.1 0h0m-24.9 .3h0m-2 .1h0m31.3 0h0m.2 .1h0m-27.9 .1h0m17.9 .1h0m2.3 .1h0m-15.8 .3h0m19.4 .4h0m-20.8 .2h0m-1.8 .3h0m-1.3 .3h0m6.2 .1h0m3.7 0h0m22.1 .1h0m-4.5 .4h0m-5.3 .3h0m.8 .1h0m8 .2h0m-28.3 .2h0m26.7 0h0m-22.1 .1h0m8.2 .1h0m4.9 0h0m9.6 .2h0m-30 .1h0m23.5 0h0m-6.1 .1h0m4.6 .2h0m0 .1h0m6.7 .9h0m-17.4 .4h0m-10.9 .1h0m9.1 .1h0m18.9 .2h0m-2.4 .2h0m-25.7 .1h0m29.7 0h0m-30.1 .6h0m26.6 .1h0m-16.4 .3h0m16.1 0h0m0 0h0m-5.4 .1h0m-.6 .1h0m7.6 0h0m-8.7 .1h0m-9.4 .1h0m8.9 .1h0m-9.9 .1h0m16.8 0h0m1.4 .2h0m-16.8 .1h0m3.6 .1h0m11.5 .1h0m-6 .6h0m-8.1 .9h0m-5.3 .3h0m16.8 .3h0m.6 .2h0m-4.4 .4h0m1.8 .2h0m-5.3 .1h0m2.8 .2h0m.7 .2h0m-7.1 .4h0m5 .1h0m-4.7 .4h0m-.1 .2h0" stroke="#7a46ba" stroke-width="1.85" stroke-linecap="round" fill="none" stroke-opacity="0.66"/>
<path d="M491.9 225.8h0m3.4 0h0m10.2 1.1h0m-15.9 4.7h0m-2.3 1.7h0m12.9 1.7h0m-15.3 3.4h0m24.1 1h0m-3.1 .4h0m2.2 .7h0m4 .5h0m3.5 .3h0m-15.1 .3h0m10.5 .4h0m-18.3 .1h0m-7.5 .6h0m-5.2 1h0m30 .7h0m4.5 0h0m-16.3 .8h0m5.7 .4h0m-24.1 1.3h0m36.2 2.9h0m-19.8 .4h0m3.3 0h0m7 1.8h0m4.5 .3h0m3.6 .5h0m1.4 .7h0m-26.5 1.6h0m4.8 .5h0m16.3 .1h0m-6.2 4.4h0m-2.7 1.6h0m-5.9 .4h0m.3 .7h0" stroke="#5a28a2" stroke-width="2.7" stroke-linecap="round" fill="none" stroke-opacity="0.8"/>
</g><g filter="url(#b3)">
<path d="M500.8 223.9h0m-3.4 .1h0m-2.8 .4h0m-2.2 .1h0m4.6 .2h0m-.3 .4h0m3.7 0h0m.9 0h0m.4 0h0m5.3 0h0m-10.1 .2h0m1 .1h0m2.3 .2h0m3.5 .2h0m-12.8 .5h0m6 0h0m-7.2 .2h0m15.2 0h0m3.8 .3h0m-20.9 .2h0m5.3 0h0m5.2 0h0m-5.6 .2h0m-3.4 .2h0m1.2 .2h0m6.7 0h0m.9 0h0m5.5 0h0m-15 .5h0m7.7 .1h0m10.3 .5h0m2.4 0h0m-17.6 .1h0m11 .1h0m8.8 .4h0m-20.2 .2h0m17.5 0h0m-5.5 .1h0m2.1 .1h0m-14.3 .2h0m11 .3h0m.3 0h0m1.8 0h0m-18.5 .1h0m28.2 0h0m-20.6 .1h0m14.1 .2h0m-14 .1h0m7.2 0h0m-4.4 .3h0m-11.8 .2h0m5.7 .1h0m20.3 .1h0m2 0h0m-29 .1h0m14.4 .2h0m-4 .2h0m16.9 .3h0m-14.6 .1h0m15.2 .2h0m-13.6 .1h0m2.4 .2h0m1.1 0h0m14.5 .1h0m-13.8 .2h0m5 0h0m-6.1 .1h0m13.7 .2h0m-8.7 .2h0m3.7 0h0m-11.4 .1h0m6.5 .1h0m-11.6 .2h0m22.8 .1h0m-34.4 .1h0m1.9 0h0m19.7 .1h0m-12.6 .2h0m23.3 0h0m2.2 0h0m-6.6 .2h0m-20.5 .2h0m1.7 0h0m9.6 0h0m-15.1 .1h0m23.7 .2h0m6.3 0h0m-12.2 .1h0m6.7 0h0m1.7 .1h0m-7.8 .1h0m5.9 0h0m7.4 .1h0m-31.1 .6h0m5.4 0h0m1.2 0h0m8.8 0h0m-20.5 .1h0m14 0h0m4 .1h0m13.6 0h0m-7.8 .2h0m6.9 0h0m-7.6 .3h0m4.8 .1h0m-27.6 .1h0m8 .2h0m25.9 0h0m-11.5 .1h0m4 0h0m11.2 0h0m-28.2 .2h0m25.9 .2h0m1 .2h0m-6.3 .1h0m-23.1 .1h0m12.1 .1h0m-17.6 .1h0m16.3 0h0m12.8 .2h0m-22.8 .2h0m13.9 0h0m14.9 0h0m-7.6 .1h0m-21.3 .6h0m27.6 .1h0m-11.5 .1h0m4.7 .3h0m5.6 .1h0m-13.1 .1h0m13.1 .1h0m-8.6 .1h0m11.2 .1h0m-4.6 .2h0m-25.1 .1h0m29.5 .1h0m-10.6 .1h0m1.7 0h0m3.4 0h0m-5 .3h0m5.3 .1h0m-13.2 .3h0m2 0h0m-20.4 .5h0m7.2 .1h0m29.3 0h0m-27.6 .1h0m19.5 .1h0m7.7 .1h0m-21.3 .1h0m7.8 .2h0m.2 0h0m-10.1 .2h0m19.3 0h0m.1 .1h0m-18 .1h0m3.9 .2h0m-.7 .1h0m-16.3 .1h0m26.7 .1h0m-8.7 .1h0m-13.4 .1h0m11.4 0h0m14 .2h0m6.7 0h0m-29.7 .1h0m17.9 .1h0m-18.3 .1h0m16.5 .2h0m14.7 0h0m-39 .2h0m3.4 0h0m29.2 0h0m4.7 0h0m-24.6 .1h0m-6.7 .2h0m31.4 .1h0m-35.4 .1h0m5.8 0h0m28.4 0h0m-20.7 .3h0m-1 .1h0m3.6 .3h0m-9.3 .7h0m29.6 0h0m-28.1 .1h0m7.2 0h0m6.4 0h0m-10.1 .1h0m17.7 0h0m3.7 0h0m-13.4 .1h0m-13.4 .2h0m29.4 .1h0m-27.4 .3h0m8.1 .1h0m-18.5 .1h0m6 .1h0m32.1 .4h0m-36.1 .2h0m27.9 .2h0m-14.1 .1h0m11.3 0h0m-20.1 .1h0m8.1 0h0m-6.8 .1h0m24.5 0h0m-32.4 .1h0m-.4 .2h0m29.6 0h0m-13.2 .1h0m-10.3 .2h0m25.2 0h0m-25.8 .2h0m29.2 0h0m0 0h0m2.1 0h0m-26.2 .2h0m11.7 0h0m-9.8 .1h0m9.1 0h0m-5.3 .3h0m-14.9 .1h0m33.4 0h0m-9.3 .2h0m-22.3 .3h0m18.6 0h0m1.7 .1h0m12.2 0h0m-28.3 .1h0m17.1 0h0m9.5 .1h0m-11.2 .1h0m-16.3 .1h0m-4.7 .1h0m10.4 0h0m10.3 .2h0m.2 0h0m11.7 .1h0m-16.9 .2h0m-8.5 .1h0m1.6 .1h0m3.2 0h0m-10.2 .2h0m10.9 0h0m-10.2 .1h0m9.8 .3h0m13.6 0h0m-24.9 .1h0m4.7 .2h0m27.3 .4h0m0 0h0m-31.2 .1h0m4.9 .1h0m1.3 0h0m23.1 0h0m-8.4 .2h0m-15.3 .1h0m9.4 0h0m-14.1 .1h0m26.6 0h0m-14.1 .1h0m10.5 0h0m-23.7 .6h0m1.4 .1h0m25.6 0h0m-13.2 .1h0m14.5 .1h0m.1 0h0m-28.3 .1h0m.3 .4h0m.1 0h0m19.8 0h0m10.5 0h0m-17.8 .1h0m12.4 .1h0m-18.9 .2h0m21.8 0h0m1.7 .1h0m-19.6 .1h0m15.9 0h0m-12 .2h0m6.3 .4h0m2.5 .4h0m-12.5 .1h0m-1.4 .1h0m12.6 0h0m-12.9 .1h0m-5 .3h0m8.9 0h0m15.2 0h0m-20.7 .3h0m.8 0h0m18 0h0m-4.2 .3h0m-4.7 .1h0m-8.7 .1h0m-1.8 .1h0m5.2 0h0m-7.2 .3h0m20.7 0h0m-3.6 .1h0m3.2 .1h0m-9.9 .5h0m8.2 0h0m-4.8 .1h0m-10 .6h0m1.1 0h0m12.8 .2h0m-14.8 .4h0m6.7 .4h0m-7.1 .1h0m8.6 .1h0m-.3 .1h0m-3.5 .3h0m5.4 0h0m-.6 .2h0m1.5 .1h0m-2.8 .3h0m-2.4 .3h0" stroke="#7a46ba" stroke-width="1" stroke-linecap="round" fill="none" stroke-opacity="0.55"/>
<path d="M505.5 226.9h0m-15.9 4.7h0m-2.3 1.7h0m-2.4 5.1h0m21 1.4h0m2.2 .7h0m4 .5h0m-11.6 .6h0m10.5 .4h0m-18.3 .1h0m-7.5 .6h0m-5.2 1h0m23.9 1.9h0m-7.7 4.6h0m10.3 1.8h0m9.5 1.5h0m-21.7 2.1h0m16.3 .1h0" stroke="#5a28a2" stroke-width="1.3" stroke-linecap="round" fill="none" stroke-opacity="0.9"/>
</g></g>
<circle cx="498.8" cy="243.2" r="20.3" fill="none" stroke="#a79cc4" stroke-width="0.4"/>
<clipPath id="p16"><circle cx="498.8" cy="287.4" r="20.6"/></clipPath>
<circle cx="498.8" cy="287.4" r="20.6" fill="#efeef3"/>
<g clip-path="url(#p16)">
<g filter="url(#b10)">
<path d="M503.4 267.9h0m-13.6 1.8h0m3 0h0m-3.3 .3h0m1.1 0h0m5.7 1.3h0m5 .9h0m-5.4 1.1h0m-7.8 .3h0m11.3 .3h0m12.3 .3h0m-23.7 .2h0m14 .4h0m-18 .3h0m15.7 .8h0m-1.5 .4h0m-11.5 .1h0m29.4 .6h0m-7.2 1h0m2.9 2.3h0m-12.2 .3h0m13.2 .1h0m-28.9 .7h0m24.8 .3h0m-16.9 .5h0m16.2 1.2h0m-13.2 .3h0m10.9 .3h0m9.9 .1h0m-26.1 .3h0m22.3 .1h0m-2.1 .2h0m0 .2h0m-5.5 .2h0m-3.7 1.1h0m-12.3 .2h0m24.6 .1h0m3.4 .3h0m-5.8 .7h0m-24.6 .1h0m7 0h0m-12.5 1.3h0m14.6 .2h0m-10 .3h0m25.4 .7h0m6.8 .9h0m-1.1 .3h0m-15.8 .2h0m5.3 .1h0m-22.6 .3h0m31.4 .5h0m-31 .1h0m23.6 .4h0m11.1 .2h0m-29.9 .1h0m28 .2h0m1.7 0h0m-36.2 .9h0m20.6 0h0m-15.6 .9h0m4.6 0h0m-3.4 .2h0m-.2 .7h0m2.2 .9h0m-1.6 .1h0m20.2 .2h0m-19.6 .5h0m-1.8 .2h0m-3.3 1.8h0m29.3 .6h0m-.2 .1h0m-11.1 .2h0m9.7 .4h0m1.6 .3h0m-15 .3h0m13.2 .3h0m-18.6 .2h0m11.8 .4h0m-13.1 .9h0m15.9 1.3h0m-9.5 .6h0m8.6 .1h0" stroke="#7a46ba" stroke-width="4.2" stroke-linecap="round" fill="none" stroke-opacity="0.35"/>
</g>
<g filter="url(#b6)">
<path d="M492.8 269.7h0m-3.3 .3h0m17.5 1h0m-5.7 1.2h0m-5.4 1.1h0m-11.1 .2h0m3.3 .1h0m23.6 .6h0m1.2 .4h0m-10.9 .2h0m-18 .3h0m4.4 0h0m21.8 0h0m-25.3 .4h0m3.4 .3h0m15.3 .3h0m-16.9 .3h0m17.4 0h0m-2.5 .3h0m14.5 .3h0m-27.6 .3h0m20.4 .7h0m-25.2 1.7h0m28.1 .6h0m-13.6 .2h0m-14.3 .9h0m4 0h0m25.9 .2h0m-5.1 .1h0m7.9 .2h0m-22.5 .1h0m12.1 .1h0m-14.4 .1h0m21.8 .5h0m4.5 .6h0m-38.7 .1h0m28.4 .1h0m-13 .2h0m-15.5 .5h0m10.2 .2h0m22.3 .1h0m-7.6 .6h0m3 .1h0m-6.7 1h0m-11.8 .1h0m27.5 .5h0m-16.7 .2h0m10.9 .5h0m-24.6 .1h0m11.8 .3h0m13.3 .2h0m-30.6 .8h0m6.1 0h0m16.3 .9h0m-10.2 .2h0m17.8 .1h0m5.7 1.2h0m-15.8 .2h0m-4.1 .1h0m9.4 0h0m-1.7 .2h0m-6.3 .6h0m16.8 0h0m-31 .1h0m1.3 .3h0m22.3 .1h0m11.1 .2h0m-29.9 .1h0m29.7 .2h0m-2.7 .8h0m-33.5 .1h0m20.6 0h0m-11.1 1h0m-3.5 .8h0m9.1 .4h0m16.3 0h0m-15.6 .2h0m-7.6 .3h0m22.6 .2h0m-23.6 .6h0m-1.8 .2h0m25.2 .7h0m-14.7 .6h0m-13.8 .5h0m29.3 .6h0m-.2 .1h0m-20.3 .2h0m9.2 0h0m9.7 .4h0m-5.9 .1h0m-7.5 .5h0m13.2 .3h0m-5.1 1h0m-15.3 .5h0m.5 0h0m6.1 .1h0m9 1.1h0m2.9 .2h0m-11.6 .5h0m8.6 .1h0" stroke="#7a46ba" stroke-width="1.9" stroke-linecap="round" fill="none" stroke-opacity="0.7"/>
<path d="M503.4 267.9h0m-13.6 1.8h0m.8 .3h0m5.7 1.3h0m3.1 2.6h0m-11.4 .5h0m11.7 1.5h0m-1.5 .4h0m1.4 4.3h0m13.2 .1h0m-4.8 2.7h0m-2.3 .6h0m9.9 .1h0m-5.9 .6h0m0 .2h0m-21.5 1.5h0m24.6 .1h0m-20 1.1h0m2.1 1.5h0m-10 .3h0m32.2 1.6h0m-34.2 .9h0m33.2 1.5h0m-29.5 1.8h0m4.6 0h0m-3.4 .2h0m.4 1.7h0m20.2 .2h0m4.6 4.1h0m-20.4 .8h0m11.8 .4h0m2.8 2.2h0" stroke="#5a28a2" stroke-width="2.8" stroke-linecap="round" fill="none" stroke-opacity="0.85"/>
</g><g filter="url(#b3)">
<path d="M502.2 268h0m.5 .5h0m2 .3h0m3.7 .7h0m-12.3 1.5h0m7.5 .3h0m3.5 .1h0m3.8 .4h0m-21.9 .2h0m15.7 .6h0m-18.3 .1h0m15 0h0m7.3 .8h0m2.8 .5h0m-2 1.1h0m-5.3 .2h0m-8.4 .2h0m13.4 .1h0m-26.6 .2h0m32.8 .5h0m-6.6 .3h0m1.4 0h0m-13.5 .4h0m-10.4 .2h0m.2 .6h0m27.5 .4h0m-19.4 .1h0m2.6 .3h0m18.9 .1h0m-7.6 .5h0m8.1 .4h0m-23.5 .3h0m14.9 0h0m-9.6 .1h0m-4.9 .4h0m10.8 .6h0m-12.5 .1h0m22.5 0h0m3.3 0h0m-32.8 .2h0m23.1 .1h0m4.7 .1h0m-26.4 .1h0m4.1 .5h0m7.9 0h0m10.7 .3h0m-5.9 .2h0m-21.5 .1h0m15.5 .2h0m21 0h0m-30.7 .2h0m-.2 .8h0m22.3 .4h0m-18.9 .3h0m.3 .3h0m-4.7 .1h0m3.7 .2h0m-2.3 .2h0m6.2 0h0m12.7 .7h0m-4.5 .3h0m4.2 .1h0m-25.3 .2h0m3.2 .3h0m17 0h0m-1.3 .1h0m-17.5 .6h0m35.2 .1h0m-.3 .3h0m-20 .3h0m14.8 .1h0m-17.8 .1h0m-13.7 .2h0m28.1 .3h0m-27.9 .2h0m24.2 0h0m13.4 0h0m-1.7 .2h0m-30.8 .1h0m30 .1h0m-22.6 .3h0m9.7 .2h0m-17.2 .4h0m27.6 .9h0m-14.1 .2h0m12.2 .2h0m-7.8 .1h0m3.5 0h0m1 .1h0m4.2 .1h0m2.9 0h0m-19.7 .1h0m22.5 0h0m-4 .2h0m-23.7 .2h0m1.9 .1h0m6.8 0h0m-6.2 1.3h0m23.1 0h0m-6.4 .1h0m-14.3 .1h0m-9.7 .2h0m5 0h0m1.1 0h0m9.5 .1h0m8.8 .4h0m-27.5 .2h0m16.2 .1h0m5.8 .3h0m4 .2h0m-23.2 .5h0m10.3 .3h0m1.3 .7h0m-14.5 .2h0m-.5 .5h0m33.8 0h0m-29.3 .5h0m16.4 .1h0m5.8 .4h0m6.9 .1h0m-18.1 .5h0m4.3 1h0m-3 .1h0m11.6 .1h0m-23.5 .1h0m21.2 .5h0m-23.1 .1h0m10.9 .5h0m-8.9 .6h0m5.7 .3h0m10.4 .1h0m-8.1 .3h0m14 .7h0m-5.2 .3h0m-15.1 .2h0m1.9 .4h0m8.7 .7h0m.9 .7h0m5.4 0h0m-2.3 .3h0" stroke="#7a46ba" stroke-width="1" stroke-linecap="round" fill="none" stroke-opacity="0.55"/>
<path d="M503.4 267.9h0m-12.8 2.1h0m-2.6 4.4h0m10.2 1.9h0m9.8 7.1h0m1.7 1.5h0m-21.5 1.5h0m24.6 .1h0m-20 1.1h0m-7.9 1.8h0m1.7 5.8h0m4.6 0h0m-3.4 .2h0m4.8 6.8h0m11.8 .4h0m2.8 2.2h0" stroke="#5a28a2" stroke-width="1.3" stroke-linecap="round" fill="none" stroke-opacity="0.9"/>
</g></g>
<circle cx="498.8" cy="287.4" r="20.4" fill="none" stroke="#cfcbdc" stroke-width="0.4"/>
<text x="514.3" y="193.3" font-size="12.6" stroke="#000" stroke-width=".16">h</text>
<rect x="555.4" y="249.5" width="4.2" height="41.9" fill="#ff9503"/>
<rect x="561.5" y="264.6" width="4.2" height="26.8" fill="#fdd377"/>
<path d="M557.5 246.1V252.9M556.4 246.1h2.2M556.4 252.9h2.2" stroke="#111" stroke-width="0.5" fill="none"/>
<path d="M563.6 261.7V267.5M562.5 261.7h2.2M562.5 267.5h2.2" stroke="#111" stroke-width="0.5" fill="none"/>
<path d="M557.5 246.8h0m0 5.4h0" stroke="#111" stroke-width="1.4" stroke-linecap="round" fill="none"/>
<path d="M563.6 262.2h0m0 4.1h0" stroke="#111" stroke-width="1.4" stroke-linecap="round" fill="none"/>
<rect x="571.4" y="243.6" width="4.2" height="47.8" fill="#ff9503"/>
<rect x="577.5" y="280.9" width="4.2" height="10.47" fill="#fdd377"/>
<path d="M573.5 236.5V250.8M572.4 236.5h2.2M572.4 250.8h2.2" stroke="#111" stroke-width="0.5" fill="none"/>
<path d="M579.6 277.2V284.7M578.5 277.2h2.2M578.5 284.7h2.2" stroke="#111" stroke-width="0.5" fill="none"/>
<path d="M573.5 237.9h0m0 11.4h0" stroke="#111" stroke-width="1.4" stroke-linecap="round" fill="none"/>
<path d="M579.6 277.9h0m0 5.3h0" stroke="#111" stroke-width="1.4" stroke-linecap="round" fill="none"/>
<rect x="587.3" y="249.5" width="4.2" height="41.9" fill="#ff9503"/>
<rect x="593.4" y="286" width="4.2" height="5.45" fill="#fdd377"/>
<path d="M589.4 247.4V251.6M588.3 247.4h2.2M588.3 251.6h2.2" stroke="#111" stroke-width="0.5" fill="none"/>
<path d="M595.5 285.1V286.8M594.4 285.1h2.2M594.4 286.8h2.2" stroke="#111" stroke-width="0.5" fill="none"/>
<path d="M589.4 247.8h0m0 3.4h0" stroke="#111" stroke-width="1.4" stroke-linecap="round" fill="none"/>
<path d="M595.5 285.3h0m0 1.2h0" stroke="#111" stroke-width="1.4" stroke-linecap="round" fill="none"/>
<rect x="603.3" y="244.5" width="4.2" height="46.9" fill="#ff9503"/>
<rect x="609.4" y="278.8" width="4.2" height="12.57" fill="#fdd377"/>
<path d="M605.4 241.5V247.4M604.3 241.5h2.2M604.3 247.4h2.2" stroke="#111" stroke-width="0.5" fill="none"/>
<path d="M611.5 277.6V280.1M610.4 277.6h2.2M610.4 280.1h2.2" stroke="#111" stroke-width="0.5" fill="none"/>
<path d="M605.4 242.1h0m0 4.7h0" stroke="#111" stroke-width="1.4" stroke-linecap="round" fill="none"/>
<path d="M611.5 277.8h0m0 1.8h0" stroke="#111" stroke-width="1.4" stroke-linecap="round" fill="none"/>
<rect x="619.2" y="257.5" width="4.2" height="33.9" fill="#ff9503"/>
<rect x="625.3" y="275.5" width="4.2" height="15.92" fill="#fdd377"/>
<path d="M621.3 252V262.9M620.2 252h2.2M620.2 262.9h2.2" stroke="#111" stroke-width="0.5" fill="none"/>
<path d="M627.4 273.8V277.2M626.3 273.8h2.2M626.3 277.2h2.2" stroke="#111" stroke-width="0.5" fill="none"/>
<path d="M621.3 253.1h0m0 8.7h0" stroke="#111" stroke-width="1.4" stroke-linecap="round" fill="none"/>
<path d="M627.4 274.1h0m0 2.4h0" stroke="#111" stroke-width="1.4" stroke-linecap="round" fill="none"/>
<rect x="635.2" y="257" width="4.2" height="34.4" fill="#ff9503"/>
<rect x="641.3" y="274.6" width="4.2" height="16.76" fill="#fdd377"/>
<path d="M637.3 249.9V264.2M636.2 249.9h2.2M636.2 264.2h2.2" stroke="#111" stroke-width="0.5" fill="none"/>
<path d="M643.4 273.4V275.9M642.3 273.4h2.2M642.3 275.9h2.2" stroke="#111" stroke-width="0.5" fill="none"/>
<path d="M637.3 251.3h0m0 11.4h0" stroke="#111" stroke-width="1.4" stroke-linecap="round" fill="none"/>
<path d="M643.4 273.6h0m0 1.8h0" stroke="#111" stroke-width="1.4" stroke-linecap="round" fill="none"/>
<rect x="651.2" y="228.1" width="4.2" height="63.3" fill="#ff9503"/>
<rect x="657.3" y="255.8" width="4.2" height="35.6" fill="#fdd377"/>
<path d="M653.3 224.8V231.5M652.2 224.8h2.2M652.2 231.5h2.2" stroke="#111" stroke-width="0.5" fill="none"/>
<path d="M659.4 252V259.6M658.3 252h2.2M658.3 259.6h2.2" stroke="#111" stroke-width="0.5" fill="none"/>
<path d="M653.3 225.4h0m0 5.4h0" stroke="#111" stroke-width="1.4" stroke-linecap="round" fill="none"/>
<path d="M659.4 252.8h0m0 5.2h0" stroke="#111" stroke-width="1.4" stroke-linecap="round" fill="none"/>
<rect x="667.1" y="223.5" width="4.2" height="67.9" fill="#ff9503"/>
<rect x="673.2" y="255.4" width="4.2" height="36" fill="#fdd377"/>
<path d="M669.2 221V226M668.1 221h2.2M668.1 226h2.2" stroke="#111" stroke-width="0.5" fill="none"/>
<path d="M675.3 254.1V256.6M674.2 254.1h2.2M674.2 256.6h2.2" stroke="#111" stroke-width="0.5" fill="none"/>
<path d="M669.2 221.5h0m0 4h0" stroke="#111" stroke-width="1.4" stroke-linecap="round" fill="none"/>
<path d="M675.3 254.4h0m0 1.7h0" stroke="#111" stroke-width="1.4" stroke-linecap="round" fill="none"/>
<line x1="552.7" y1="207.1" x2="552.7" y2="291.8" stroke="#000" stroke-width="1"/>
<line x1="552.2" y1="291.4" x2="679.4" y2="291.4" stroke="#000" stroke-width="1"/>
<line x1="549.3" y1="291.4" x2="552.7" y2="291.4" stroke="#000" stroke-width="1"/>
<text x="548.8" y="293.7" font-size="6.4" text-anchor="end">0</text>
<line x1="549.3" y1="270.4" x2="552.7" y2="270.4" stroke="#000" stroke-width="1"/>
<text x="548.8" y="272.8" font-size="6.4" text-anchor="end">50</text>
<line x1="549.3" y1="249.5" x2="552.7" y2="249.5" stroke="#000" stroke-width="1"/>
<text x="548.8" y="251.8" font-size="6.4" text-anchor="end">100</text>
<line x1="549.3" y1="228.5" x2="552.7" y2="228.5" stroke="#000" stroke-width="1"/>
<text x="548.8" y="230.9" font-size="6.4" text-anchor="end">150</text>
<line x1="549.3" y1="207.6" x2="552.7" y2="207.6" stroke="#000" stroke-width="1"/>
<text x="548.8" y="209.9" font-size="6.4" text-anchor="end">200</text>
<line x1="560.6" y1="291.4" x2="560.6" y2="294.4" stroke="#000" stroke-width="1"/>
<text font-size="7" text-anchor="end" transform="translate(561.5 299.1) rotate(-45)">NT1</text>
<line x1="576.6" y1="291.4" x2="576.6" y2="294.4" stroke="#000" stroke-width="1"/>
<text font-size="7" text-anchor="end" transform="translate(577.5 299.1) rotate(-45)">BRPF1 g1</text>
<line x1="592.5" y1="291.4" x2="592.5" y2="294.4" stroke="#000" stroke-width="1"/>
<text font-size="7" text-anchor="end" transform="translate(593.4 299.1) rotate(-45)">BRPF1 g2</text>
<line x1="608.5" y1="291.4" x2="608.5" y2="294.4" stroke="#000" stroke-width="1"/>
<text font-size="7" text-anchor="end" transform="translate(609.4 299.1) rotate(-45)">BRPF1 g3</text>
<line x1="624.4" y1="291.4" x2="624.4" y2="294.4" stroke="#000" stroke-width="1"/>
<text font-size="7" text-anchor="end" transform="translate(625.3 299.1) rotate(-45)">BRPF2 g1</text>
<line x1="640.4" y1="291.4" x2="640.4" y2="294.4" stroke="#000" stroke-width="1"/>
<text font-size="7" text-anchor="end" transform="translate(641.3 299.1) rotate(-45)">BRPF2 g2</text>
<line x1="656.4" y1="291.4" x2="656.4" y2="294.4" stroke="#000" stroke-width="1"/>
<text font-size="7" text-anchor="end" transform="translate(657.3 299.1) rotate(-45)">BRPF3 g1</text>
<line x1="672.3" y1="291.4" x2="672.3" y2="294.4" stroke="#000" stroke-width="1"/>
<text font-size="7" text-anchor="end" transform="translate(673.2 299.1) rotate(-45)">BRPF3 g2</text>
<text font-size="6.73" text-anchor="middle" textLength="114.5" lengthAdjust="spacingAndGlyphs" transform="translate(533.2 249.3) rotate(-90)">% Colony Area (Normalized to control)</text>
<text x="573.5" y="231.4" font-size="6.2" text-anchor="middle">ns</text>
<text x="589.7" y="243.8" font-size="6.2" text-anchor="middle">ns</text>
<text x="605.4" y="237.6" font-size="6.2" text-anchor="middle">ns</text>
<text x="621.3" y="246" font-size="6.2" text-anchor="middle">ns</text>
<text x="636.7" y="247.8" font-size="6.2" text-anchor="middle">ns</text>
<text x="579.5" y="277.9" font-size="8.2" text-anchor="middle" stroke="#000" stroke-width=".12">**</text>
<text x="596.4" y="284.9" font-size="8.2" text-anchor="middle" stroke="#000" stroke-width=".12">***</text>
<text x="611.8" y="279.1" font-size="8.2" text-anchor="middle" stroke="#000" stroke-width=".12">**</text>
<text x="627.7" y="275.5" font-size="8.2" text-anchor="middle" stroke="#000" stroke-width=".12">**</text>
<text x="643.6" y="274.9" font-size="8.2" text-anchor="middle" stroke="#000" stroke-width=".12">**</text>
<text x="653.2" y="224.3" font-size="8.2" text-anchor="middle" stroke="#000" stroke-width=".12">**</text>
<text x="669.1" y="221.3" font-size="8.2" text-anchor="middle" stroke="#000" stroke-width=".12">***</text>
<text x="659.2" y="253.1" font-size="8.2" text-anchor="middle" stroke="#000" stroke-width=".12">*</text>
<text x="675.3" y="254.7" font-size="8.2" text-anchor="middle" stroke="#000" stroke-width=".12">**</text>
<rect x="653.6" y="191.4" width="7.8" height="3" fill="#ff9503"/>
<text x="665.4" y="194.7" font-size="6.4" textLength="19.2" lengthAdjust="spacingAndGlyphs">DMSO</text>
<rect x="653.6" y="202.2" width="7.8" height="3" fill="#fdd377"/>
<text x="665.4" y="206" font-size="6.43" textLength="10" lengthAdjust="spacingAndGlyphs">Tax</text>
<text x="8.6" y="341.8" font-size="12.6" stroke="#000" stroke-width=".16">i</text>
<text x="71.2" y="347.2" font-size="6.67" text-anchor="middle" textLength="13" lengthAdjust="spacingAndGlyphs" stroke="#000" stroke-width=".14">siNT</text>
<text x="118.8" y="347.2" font-size="6.91" text-anchor="middle" textLength="24.5" lengthAdjust="spacingAndGlyphs" stroke="#000" stroke-width=".14">siBRPF1</text>
<text x="22.7" y="374.6" font-size="6.95" textLength="20" lengthAdjust="spacingAndGlyphs" stroke="#000" stroke-width=".14">DMSO</text>
<text x="25.2" y="429.8" font-size="7.02" textLength="16.8" lengthAdjust="spacingAndGlyphs" stroke="#000" stroke-width=".14">Taxol</text>
<clipPath id="p17"><circle cx="72" cy="374.4" r="22.2"/></clipPath>
<circle cx="72" cy="374.4" r="22.2" fill="#dcdbe6"/>
<g clip-path="url(#p17)">
<g filter="url(#b10)">
<path d="M71.7 353.7h0m-2.8 .1h0m11.3 1.1h0m-8.3 .2h0m-6.1 .1h0m11.1 .3h0m-2.6 1h0m-15.9 1.2h0m9 1.4h0m-7.2 .2h0m24 0h0m-21.8 .2h0m24.3 1h0m-17.6 .3h0m-14.4 .1h0m19.8 .5h0m-18.4 1.1h0m29.5 0h0m-31.2 .6h0m25 0h0m8.4 0h0m-34.7 .5h0m35.7 0h0m-17.4 .1h0m-1.5 .2h0m-5.1 .6h0m.7 .3h0m2.2 .2h0m-9.5 .1h0m-4.6 .4h0m19.9 0h0m9.7 .2h0m-19.2 .2h0m25.6 .2h0m2.4 0h0m-16.9 .1h0m-22.3 .3h0m17.2 0h0m15.8 .3h0m-18.2 .1h0m21.9 .1h0m-28.6 .7h0m23.9 0h0m5.7 .1h0m-34.8 .3h0m25.6 .1h0m9.2 0h0m-34.7 .4h0m13.9 .1h0m16.8 0h0m-13.9 .1h0m-16.2 .2h0m35.8 0h0m-33.9 .2h0m7.2 0h0m23.9 .2h0m-38.2 .3h0m4.4 .2h0m30.2 .1h0m3 0h0m.6 .4h0m-26.2 .2h0m16.6 .2h0m7.5 0h0m5.5 .1h0m-15.6 .1h0m-26.7 .4h0m25.5 .4h0m-4.8 .2h0m-17.1 .3h0m8.5 0h0m28.4 .1h0m-16.2 .1h0m16.4 .2h0m-38.2 .2h0m.7 0h0m39.2 .3h0m-41 .3h0m2.2 0h0m10.8 .2h0m1.1 .3h0m19.2 0h0m-14.6 .1h0m-17.9 .8h0m9.5 0h0m7.1 0h0m11.5 .1h0m-3 .5h0m-.5 .2h0m-4.5 .1h0m-9.8 .3h0m3.8 .1h0m15 1h0m3.7 .1h0m-34.6 .2h0m9.1 .1h0m24.1 .7h0m-19.9 .1h0m1 .4h0m14.8 0h0m11.1 .2h0m-40 .2h0m31.1 0h0m-30.9 .1h0m32.8 .1h0m-26.5 .2h0m32.2 .2h0m2.1 0h0m-.8 .3h0m-38.1 .3h0m23.2 .1h0m5.9 .5h0m-7.9 .1h0m13.8 .1h0m-35.6 .1h0m24.6 .1h0m2.2 0h0m11.8 .3h0m-22.9 .4h0m-13.8 .2h0m14.4 .1h0m16.4 .5h0m-30.3 .4h0m24.4 .1h0m3.3 .2h0m8 0h0m-1.2 .7h0m-.6 .1h0m-29.6 .1h0m-1.1 .4h0m29.2 .2h0m-25.2 .3h0m12.3 .1h0m-18.1 .3h0m30 .2h0m3.9 .8h0m-2.5 .9h0m-1 .4h0m-19.9 .2h0m3.1 .2h0m-9.4 .4h0m7.5 .1h0m19.5 0h0m-8.9 .4h0m6.5 0h0m-9.8 .1h0m-5.2 .2h0m9.2 0h0m7.4 0h0m-15.1 .1h0m-13.8 .1h0m23.5 0h0m-16.1 .2h0m20.9 .1h0m-11.4 .1h0m3.8 .3h0m6.5 .2h0m-26.4 .1h0m1.3 0h0m2.5 .1h0m19.9 .2h0m-8.4 .1h0m-7.4 .8h0m5.9 .2h0m10.2 0h0m1.8 .1h0m-16.6 .9h0m1.5 0h0m8.2 .1h0m-10 .2h0m-.7 .3h0m5.8 0h0m6.2 0h0m-12.3 .1h0m7.4 .2h0m2.4 0h0m-4.1 .7h0m.2 .1h0m5.2 0h0m-11.8 .1h0" stroke="#4c30cc" stroke-width="4.5" stroke-linecap="round" fill="none" stroke-opacity="0.14"/>
</g>
<g filter="url(#b6)">
<path d="M74.9 353.2h0m2.5 .2h0m-5.7 .3h0m5.6 .3h0m.2 .4h0m-8.2 .3h0m8.1 .3h0m-11.6 .2h0m16.8 0h0m-19.6 .2h0m9.5 .1h0m4.4 0h0m-8.4 1h0m5.8 0h0m-10 .2h0m17.4 .8h0m-23.3 .2h0m11.4 0h0m7.3 0h0m-3.6 .1h0m.6 .8h0m-10.8 .5h0m-6.5 .2h0m3.4 0h0m24 0h0m-21.8 .2h0m13.7 .1h0m6.7 .3h0m3.9 .6h0m-32 .4h0m13.2 .4h0m21.5 .3h0m-4 .7h0m-29.3 .2h0m5 .1h0m19.9 .1h0m-26.6 .4h0m25 0h0m8.4 0h0m-2.9 .1h0m3.3 0h0m-35.1 .4h0m35.7 0h0m-17.4 .1h0m16.4 .1h0m-17.9 .1h0m-15.4 .5h0m1.6 0h0m8.7 .1h0m2.9 .5h0m-9.5 .1h0m-4.2 .5h0m12.6 0h0m16.5 0h0m-13.6 .1h0m-5.5 .2h0m9.5 .1h0m18.5 .1h0m-21.6 .3h0m19.9 0h0m-37.5 .1h0m17.2 0h0m15.8 .3h0m-18.2 .1h0m21.9 .1h0m-19.5 .1h0m-17.2 .3h0m21.8 0h0m-13.7 .3h0m29.6 .1h0m-34.8 .3h0m10.5 0h0m15.1 .1h0m-14.2 .1h0m-11.3 .3h0m13.9 .1h0m16.8 0h0m5.8 0h0m-19.7 .1h0m3.3 0h0m-19.5 .2h0m35.8 0h0m-33.9 .2h0m31.1 .2h0m-38.2 .3h0m2.1 .2h0m16.1 0h0m16.4 .1h0m-22.6 .6h0m24.1 .2h0m5.5 .1h0m-15.6 .1h0m-26.7 .4h0m.5 .1h0m4.9 .1h0m28.3 .1h0m-8.2 .1h0m1.4 .2h0m-23.3 .3h0m1.8 0h0m6.7 0h0m12.2 .2h0m16.4 .2h0m-37.6 .2h0m.1 0h0m32.7 0h0m6.5 .3h0m-41 .3h0m2.2 0h0m.5 .1h0m10.3 .1h0m-13 .2h0m14.1 .1h0m19.2 0h0m7.5 0h0m-22.1 .1h0m0 .1h0m17.1 .2h0m-35 .5h0m28.1 .1h0m-14.1 .4h0m11.1 .1h0m-12.8 .1h0m7.8 .2h0m8.5 0h0m-18.3 .3h0m6.4 0h0m11.5 .1h0m-22.4 .1h0m16.4 0h0m7.7 0h0m8.6 0h0m1.6 0h0m-6.4 .2h0m6.9 0h0m-22.9 .4h0m20.7 0h0m-2.8 .1h0m-6.5 .2h0m-30.9 .3h0m14.1 0h0m-5 .1h0m.1 0h0m-9.1 .1h0m23.9 .2h0m16.5 .1h0m-7.3 .3h0m-19.9 .1h0m-11.9 .3h0m12.9 .1h0m14.8 0h0m11.1 .2h0m-40 .2h0m4.3 0h0m26.8 0h0m-11 .1h0m10.5 .2h0m8.6 .1h0m-7.3 .2h0m6.8 0h0m2.1 0h0m-.8 .3h0m-30.7 .1h0m12.1 0h0m-19.5 .2h0m23.2 .1h0m-24.1 .3h0m39.8 .2h0m-17.7 .1h0m13.8 .1h0m-35.6 .1h0m15.7 .1h0m8.9 0h0m2.2 0h0m-11.1 .7h0m-13.8 .2h0m35.9 .2h0m-5.1 .4h0m-30.3 .4h0m24.2 0h0m.2 .1h0m11.3 .2h0m-9.9 .2h0m3.6 0h0m-10.7 .3h0m15.2 .3h0m-24.2 .5h0m22.7 .2h0m-18 .1h0m-7.2 .2h0m12.3 .1h0m-18.1 .3h0m30 .2h0m-22.2 .2h0m-3.3 .2h0m8.4 0h0m-7.1 .2h0m-6.3 .5h0m30.5 .4h0m-22.2 .6h0m22.6 0h0m-19.9 .2h0m3.1 .2h0m11.1 0h0m-22.8 .1h0m2.3 .3h0m7.5 .1h0m8.3 .1h0m11.5 0h0m-9.2 .3h0m1.1 0h0m5.4 0h0m-9.8 .1h0m-5.2 .2h0m1.5 .1h0m-13.8 .1h0m23.5 0h0m-16.1 .2h0m20.9 .1h0m-11.4 .1h0m3.8 .3h0m-19.9 .3h0m1.3 0h0m2.5 .1h0m22.9 0h0m-25.3 .2h0m1.9 0h0m6.1 0h0m14.3 0h0m-4.2 .1h0m3.5 0h0m-1.2 .5h0m-8 .5h0m10.2 0h0m1.8 .1h0m-21.7 .1h0m3.7 .5h0m-4.1 .1h0m5.5 .2h0m1.5 0h0m1.5 .5h0m-4 .1h0m5.8 0h0m6.2 0h0m-12.3 .1h0m9.8 .2h0m3.4 0h0m-4.7 .2h0m.3 0h0m-1 .2h0m-2 .2h0m3.8 .1h0m-3.7 .1h0m5.2 0h0m-11.8 .1h0m.5 .2h0m9.9 0h0m.8 .1h0m-1.3 .2h0m-8.4 .2h0" stroke="#4c30cc" stroke-width="2" stroke-linecap="round" fill="none" stroke-opacity="0.82"/>
<path d="M68.9 353.8h0m11.3 1.1h0m-8.3 .2h0m-4.5 4h0m1.7 1.7h0m5.4 .6h0m11.1 1.1h0m-20.1 2.3h0m-11.9 .7h0m19.9 0h0m9.7 .2h0m6.4 .4h0m-14.5 .1h0m9.7 1.5h0m5.7 .5h0m-25 1h0m-9.9 .7h0m33.2 .1h0m.6 .4h0m-9.6 .4h0m-8.6 1.2h0m19.8 .4h0m-38 .5h0m9.2 2h0m7.1 0h0m8 .8h0m-10.5 .5h0m18.7 1.1h0m-34.2 2h0m32.8 .1h0m-26.5 .2h0m24.5 1.4h0m8.9 .7h0m-22.3 .7h0m13.8 1.2h0m6.8 .7h0m-30.2 .2h0m-1.1 .4h0m32.1 1.9h0m-2.5 .9h0m-.2 1.3h0m-8.2 .7h0m7.4 0h0m-1.7 1.1h0m-11.1 .5h0m-7.4 .8h0m11 1.3h0m-10 .2h0m6.4 .6h0m-1.7 .7h0" stroke="#3a1ebc" stroke-width="3" stroke-linecap="round" fill="none" stroke-opacity="0.92"/>
</g><g filter="url(#b3)">
<path d="M73.1 352.5h0m-3.1 .1h0m-1.1 .4h0m-.3 .6h0m3.3 .1h0m2.3 .5h0m2.9 .1h0m2.4 0h0m-9 .2h0m7.1 0h0m-13.7 .1h0m1.3 .1h0m3.2 .1h0m-2 .2h0m10.6 0h0m-12 .1h0m12.2 0h0m-11.3 .2h0m4.3 0h0m8.8 0h0m-13.5 .1h0m.6 .3h0m1.4 0h0m14 .4h0m-7.1 .4h0m-14 .2h0m2.9 .2h0m17.9 0h0m2.7 0h0m-25.1 .1h0m22.2 .2h0m-17 .7h0m15.6 0h0m3.7 .2h0m-3 .1h0m.2 0h0m5.4 .2h0m-27.5 .2h0m2.4 0h0m23.5 .5h0m-24.5 .1h0m.5 .6h0m13.8 0h0m12.8 .1h0m.7 .2h0m-20.2 .3h0m13.9 0h0m7.6 0h0m-26.2 .1h0m16.9 0h0m8.3 0h0m-29.9 .3h0m-2.1 .1h0m1.3 0h0m13.9 0h0m-5.5 .1h0m19.6 .1h0m-13.2 .2h0m1.5 .1h0m.4 .1h0m13.4 .1h0m-32.7 .3h0m21.7 0h0m-20.2 .2h0m.2 0h0m18.2 0h0m9.6 .8h0m.8 0h0m-21.6 .4h0m8.9 0h0m2.7 .4h0m-17.3 .1h0m.4 0h0m25.1 0h0m-17.6 .2h0m7.6 .2h0m-8.6 .4h0m-10.3 .2h0m-.3 .1h0m35.9 .1h0m-.5 .2h0m-23.4 .1h0m21.7 .2h0m-34.7 .1h0m30.5 0h0m-26.4 .1h0m22.5 0h0m11.9 0h0m-15 .1h0m-7.3 .1h0m.7 .2h0m18 0h0m-35 .2h0m11.5 0h0m25.8 .1h0m-7.8 .2h0m-1 .1h0m-26.9 .2h0m0 .1h0m29.5 0h0m7 0h0m-21.9 .1h0m2.3 0h0m18.8 0h0m-31 .3h0m12.2 0h0m-13.1 .1h0m14.3 0h0m-2.6 .4h0m1.1 .1h0m19.8 .2h0m-10.4 .3h0m-12.9 .2h0m24.3 .3h0m-24 .1h0m1.5 .3h0m3.4 .1h0m12.8 0h0m-19.6 .1h0m26.7 0h0m-40.1 .3h0m37.5 .1h0m.9 .3h0m-38.5 .1h0m-1.3 .2h0m22 .1h0m11.2 0h0m.6 0h0m-17.5 .2h0m1.9 .1h0m18.8 0h0m-17.9 .1h0m-15.6 .1h0m31.6 .3h0m6.8 0h0m-40.9 .3h0m39.5 .3h0m-23.8 .1h0m1.4 .2h0m17.7 0h0m-32 .2h0m36.2 0h0m.2 .3h0m-16 .6h0m8.9 0h0m-27.1 .1h0m36.3 .3h0m-7.2 .2h0m-22.4 .1h0m28.4 0h0m-10.8 .1h0m-23.4 .1h0m16.1 .1h0m6.7 .5h0m-9.3 .2h0m7.8 .1h0m-16.1 .2h0m2.6 .5h0m-15 .1h0m42.3 .1h0m-32.5 .1h0m9.2 .2h0m22.5 0h0m-8.9 .1h0m-8.2 .1h0m15.9 0h0m-30.4 .1h0m5.1 0h0m12.8 0h0m5.6 0h0m5.6 0h0m-24.4 .1h0m-3.6 .2h0m10.8 0h0m-4.5 .2h0m23.2 0h0m-21.4 .3h0m-18.3 .1h0m5.7 .3h0m9.6 0h0m0 0h0m25 0h0m-17.2 .1h0m7.5 .1h0m-25.2 .1h0m13.9 .2h0m22.1 0h0m-37.6 .1h0m1.9 0h0m26.1 .1h0m-27.8 .2h0m11.1 .3h0m12.7 0h0m-14 .2h0m11.1 0h0m8.5 .1h0m-22.4 .2h0m5.2 0h0m-14.9 .3h0m29.1 .1h0m-28.8 .2h0m5 .1h0m34.1 0h0m-26.8 .1h0m13.2 0h0m-4.3 .3h0m-10.6 .2h0m-.6 .1h0m-11.8 .2h0m40.1 .1h0m-7.7 .2h0m-18.3 .1h0m22.1 0h0m-22.2 .4h0m17.6 .1h0m-9.3 .1h0m14.1 0h0m-18.7 .1h0m21.2 0h0m-6.7 .1h0m-24.8 .2h0m12.8 0h0m-13.9 .1h0m4.6 0h0m-1.5 .1h0m-7.6 .1h0m6.3 0h0m19.4 .1h0m10.7 .1h0m-13.5 .3h0m7.1 .1h0m2.7 .1h0m-31.9 .8h0m7.5 0h0m-4.7 .2h0m23.3 0h0m-15 .2h0m10.7 0h0m14.1 .1h0m-13.8 .4h0m-21.3 .2h0m8.8 0h0m13.4 .1h0m-6.6 .1h0m-13.9 .5h0m28.8 0h0m3.9 0h0m-10 .4h0m-24.5 .3h0m12.9 0h0m-13.1 .2h0m27.1 0h0m-14.7 .1h0m-7.8 .3h0m7.1 .3h0m20.1 0h0m-25.5 .2h0m20.8 0h0m-9 .1h0m-14.9 .6h0m28 .2h0m-12.8 .4h0m6.7 0h0m6.4 0h0m-15.3 .1h0m6.9 0h0m-1.9 .2h0m-14.3 .2h0m-3.4 .3h0m25.7 0h0m-19.4 .1h0m21.6 .3h0m-14.5 .1h0m8.8 0h0m3 0h0m-9.9 .1h0m8.1 .3h0m-.3 .6h0m3.5 .3h0m-4.9 .2h0m1.5 0h0m-20 .6h0m6 0h0m9.4 0h0m1 .4h0m-2.7 .1h0m7.3 0h0m-15.5 .1h0m3.4 .2h0m-4 .1h0m9.4 .5h0m-7.5 .2h0m-2 .1h0m9.2 .2h0m-7.1 .2h0m-1.6 .1h0m4.4 .4h0m2.1 .3h0m-3.2 .2h0m4 0h0" stroke="#4c30cc" stroke-width="1.1" stroke-linecap="round" fill="none" stroke-opacity="0.7"/>
<path d="M80.2 354.9h0m-8.3 .2h0m-4.5 4h0m18.2 3.4h0m-32 3h0m36.9 2.7h0m-25 1h0m-9.9 .7h0m33.8 .5h0m-9.6 .4h0m-8.6 1.2h0m19.8 .4h0m-38 .5h0m9.2 2h0m7.1 0h0m-2.5 1.3h0m17.3 3.2h0m-2 1.6h0m.4 2.6h0m6.8 .7h0m-31.3 .6h0m32.1 1.9h0m-2.5 .9h0m-1 2h0m-20.2 2.4h0" stroke="#3a1ebc" stroke-width="1.43" stroke-linecap="round" fill="none" stroke-opacity="0.9"/>
</g></g>
<circle cx="72" cy="374.4" r="21.9" fill="none" stroke="#50505c" stroke-width="0.55"/>
<clipPath id="p18"><circle cx="118" cy="374.4" r="21.6"/></clipPath>
<circle cx="118" cy="374.4" r="21.6" fill="#dedde6"/>
<g clip-path="url(#p18)">
<g filter="url(#b10)">
<path d="M117.9 354.2h0m4.9 .2h0m-4.1 .3h0m-8.1 .4h0m14.9 .5h0m-15.6 1.5h0m17.1 .7h0m-5.6 .1h0m7.2 .5h0m-11.9 .3h0m1.5 .8h0m7.7 .1h0m-23.1 1.5h0m-.4 .3h0m13.2 .5h0m-7.5 .1h0m26.2 .1h0m-6.5 .1h0m-19 1.5h0m-9.2 .3h0m14.9 1.3h0m19.9 .2h0m-6.3 .7h0m8.1 .2h0m-35.8 .3h0m30.3 .4h0m6.2 0h0m-35.3 .1h0m25.4 0h0m9.1 .4h0m-19.2 .1h0m-18.4 2.6h0m10.4 1h0m-11.3 .6h0m5.6 1.2h0m8.6 .4h0m.5 .4h0m17.7 0h0m7.7 .8h0m-37.3 .1h0m17.2 .2h0m-18.8 .1h0m23.5 .9h0m3.5 .8h0m-27.9 .2h0m3.3 1.1h0m33.3 .3h0m-16.9 .2h0m-3.1 .2h0m19.7 0h0m-34 .3h0m31.5 0h0m-26.8 .7h0m13.8 .1h0m-14.2 .4h0m15.7 0h0m-18.8 .2h0m12.9 0h0m10 0h0m6.1 0h0m-3.9 .2h0m8 0h0m-35.1 .1h0m34.9 .9h0m-35.1 1h0m.7 0h0m2.4 2.8h0m32 .1h0m-1.3 .7h0m.2 .1h0m-28.1 .1h0m-1.6 .1h0m2.4 0h0m-3.1 .2h0m9.1 .6h0m12.6 .7h0m-7.8 .3h0m15.8 0h0m-4 1h0m-.6 .9h0m2.6 .2h0m-24.9 .4h0m5.9 .1h0m13.2 .5h0m-8.4 .3h0m6.9 .5h0m-8 .7h0m4.4 .1h0m6.6 0h0m1.3 0h0m-19.2 .2h0m6.9 .2h0m2.2 .2h0m.1 1.1h0m-3.4 .2h0m5.1 0h0" stroke="#4c30cc" stroke-width="4.5" stroke-linecap="round" fill="none" stroke-opacity="0.14"/>
</g>
<g filter="url(#b6)">
<path d="M122.6 353.8h0m-4.7 .4h0m.1 0h0m-6.3 .1h0m7 .1h0m4.1 0h0m-3.4 1h0m6.1 .2h0m3.3 1.1h0m-21.9 .3h0m20.1 .8h0m-13.1 .1h0m7.5 0h0m-3.2 1.6h0m7.7 .1h0m-22 .8h0m29.6 0h0m-16.2 .1h0m-14.9 .9h0m13.2 .5h0m-7.5 .1h0m19.7 .2h0m-23.5 .1h0m-1.3 .8h0m3.4 .2h0m29.8 .2h0m-36.6 .5h0m15 .1h0m16 .4h0m-12.5 .4h0m-3.6 .4h0m-2.2 .7h0m23.9 .4h0m-36.3 .1h0m.5 .2h0m20.1 .2h0m10.2 .2h0m-32.8 .1h0m3.7 0h0m25.4 0h0m9.1 .4h0m-19.2 .1h0m2.2 .6h0m-20 .3h0m-1.2 1.6h0m.6 .1h0m38.9 .2h0m-3 .2h0m-35.5 .4h0m10 .2h0m-11.3 .6h0m37.2 0h0m-31.6 1.2h0m8.6 .4h0m.5 .4h0m-14.2 .7h0m2.3 .2h0m4.3 0h0m12.9 .2h0m-18.8 .1h0m20.1 .2h0m9.5 .3h0m-6.1 .4h0m15.8 .1h0m-12.3 .7h0m-27.9 .2h0m15.8 .3h0m-12.5 .8h0m20.1 .3h0m13.2 0h0m-33.8 .1h0m16.9 .1h0m16.6 .2h0m-34 .3h0m31.5 0h0m-26.8 .7h0m3.7 .3h0m-4.1 .2h0m-3.1 .2h0m22.9 0h0m6.1 0h0m-23.5 .1h0m19.6 .1h0m8 0h0m-35.1 .1h0m34.9 .9h0m-33.9 .2h0m30.2 .4h0m-31.4 .4h0m.7 0h0m35.6 .3h0m1.5 .1h0m-9 .4h0m.2 .1h0m-25.6 1.1h0m8 0h0m3.5 .2h0m22.3 .2h0m-34.1 .4h0m32 .1h0m-3.7 .4h0m2.4 .3h0m.2 .1h0m2.1 .1h0m-29.4 .1h0m-3.1 .2h0m-.3 .2h0m8.6 0h0m9.4 .2h0m-16.2 .7h0m20.2 .2h0m-7.8 .3h0m16.2 .4h0m-25.9 .1h0m10 0h0m-8.6 .1h0m19.5 1.3h0m-10.5 .3h0m-5.9 .4h0m-.3 .2h0m16.7 0h0m-3.2 .3h0m-17.4 .3h0m9 0h0m2.8 .3h0m4.1 .2h0m-13.6 .6h0m5.6 .1h0m4.4 .1h0m2.4 0h0m4.2 0h0m1.3 0h0m-19.2 .2h0m3.4 0h0m3.5 .2h0m.5 .2h0m1.7 0h0m6.5 .7h0m-6.4 .4h0m3.4 .7h0" stroke="#4c30cc" stroke-width="2" stroke-linecap="round" fill="none" stroke-opacity="0.82"/>
<path d="M118.7 354.7h0m-8.1 .4h0m-.7 2h0m18.7 1.3h0m-11.9 .3h0m-13.9 2.4h0m31.5 1h0m-25.5 1.6h0m25.6 1.8h0m-6.3 .7h0m8.8 .9h0m-6.9 6.8h0m7.7 .8h0m-23.2 4.1h0m4.2 1.1h0m1.5 .4h0m-5.9 .2h0m-9.2 6h0m-1.6 .1h0m8.4 .8h0m20.6 1h0m-4 1h0m2 1.1h0m-24.9 .4h0m8.5 4.1h0m5.1 0h0" stroke="#3a1ebc" stroke-width="3" stroke-linecap="round" fill="none" stroke-opacity="0.92"/>
</g><g filter="url(#b3)">
<path d="M112.9 354.7h0m1.3 0h0m-4.2 1.1h0m3.9 .5h0m12.1 .3h0m2.3 .1h0m-16.9 .1h0m7.9 .3h0m-14.3 .3h0m8.5 .1h0m-1.1 .1h0m10.8 .4h0m5.2 0h0m-16.8 .2h0m16 .2h0m.3 0h0m-9.4 .4h0m11.6 .2h0m-1.9 .1h0m-19.7 .6h0m16.2 .1h0m-18.6 .2h0m-2.9 .6h0m-.8 .6h0m28.6 0h0m2 .7h0m-24.5 .4h0m7.4 0h0m-11.8 .1h0m17.7 0h0m10.9 .7h0m2.2 .6h0m-19.6 .2h0m-3 .2h0m2.2 .2h0m11.1 0h0m9.2 .1h0m-33.6 .4h0m1 .4h0m24.1 .4h0m-7.8 .1h0m9.3 .3h0m-29 .7h0m38.1 0h0m-34.8 .1h0m21 .5h0m-24 .6h0m27.9 0h0m-4.3 .1h0m-.3 .1h0m-18.4 .1h0m5.7 .2h0m13.5 .1h0m14.6 .1h0m.6 .3h0m-23.4 .3h0m-16.7 .2h0m5.3 0h0m.8 .1h0m-.8 .3h0m14.7 .1h0m19.1 .1h0m-38.6 .2h0m27.3 .6h0m-7 .3h0m-18.4 .1h0m2.2 0h0m-4.3 .2h0m27.3 .1h0m12.2 0h0m-37.4 .2h0m28.6 .1h0m-12.6 .1h0m-19.7 .2h0m28.4 0h0m-5.1 .3h0m-10.4 .4h0m3.5 .1h0m16 0h0m-9.4 .2h0m-6.8 .2h0m15.7 .1h0m1.2 .1h0m-14.4 .1h0m-17.9 .1h0m.9 .1h0m10.5 0h0m20.8 .3h0m-32.7 .2h0m.8 0h0m34.5 .1h0m1.7 .2h0m-33.3 .2h0m14.5 0h0m-16.4 .1h0m1.1 0h0m19 0h0m18.2 .1h0m-38.9 .2h0m3.7 .2h0m20.7 0h0m.8 .1h0m1.5 0h0m11.8 0h0m-21.1 .1h0m8.1 0h0m2.6 0h0m-27.7 .1h0m36.7 .2h0m-38.4 .2h0m-.4 .3h0m26.1 0h0m13.4 .1h0m-7.8 .2h0m-14.5 .2h0m-9.8 .1h0m13.1 .3h0m20.3 0h0m-9.8 .1h0m-14.7 .2h0m-10.3 .1h0m-4.3 .3h0m25 .5h0m-6.6 .2h0m-8 .1h0m18.5 0h0m-9.1 .2h0m12.1 .1h0m-20.5 .3h0m9.9 0h0m-20 .1h0m35.8 .4h0m1.3 .2h0m-32.8 .4h0m-.8 .2h0m-1.6 .3h0m22.9 0h0m.6 0h0m-7.7 .3h0m20.6 .3h0m-4.7 1h0m-10.1 .3h0m-3.3 .4h0m-19.5 .1h0m11.6 0h0m-9.6 .2h0m12.5 .2h0m9.3 .2h0m-14.4 .3h0m9.3 0h0m10.8 0h0m-24.3 .2h0m-3.7 .3h0m-1.5 .1h0m9.3 .1h0m10 0h0m-6.9 .5h0m4 .3h0m-14.6 .4h0m29.3 .4h0m-12.7 .1h0m15.6 0h0m-22.9 .1h0m-3 .1h0m-5.5 .1h0m30.1 .3h0m-28.8 .3h0m8.5 .4h0m13.5 .5h0m-10.3 .1h0m-10.5 .1h0m12.7 .1h0m14.4 .4h0m-3.9 .4h0m-24.2 .3h0m2.7 0h0m6.9 0h0m11 0h0m-21.6 .2h0m15.2 .3h0m-13.1 .2h0m19.1 .1h0m-17.9 .1h0m3.1 .1h0m19.8 .5h0m-15.4 .1h0m4.9 0h0m5.3 .1h0m1.6 0h0m-16.8 .9h0m3.5 0h0m-.8 .3h0m.6 .1h0m10.7 0h0m-1 .2h0m2 .3h0m-6.1 .2h0m.4 .2h0m-6.2 .1h0m7 1h0" stroke="#4c30cc" stroke-width="1.1" stroke-linecap="round" fill="none" stroke-opacity="0.7"/>
<path d="M110.6 355.1h0m18 3.3h0m-11.9 .3h0m17.6 3.4h0m.1 3.4h0m2.5 1.6h0m-6.9 6.8h0m-15.5 4.9h0m5.7 1.5h0m-5.9 .2h0m-10.8 6.1h0m29 1.8h0m-4 1h0" stroke="#3a1ebc" stroke-width="1.43" stroke-linecap="round" fill="none" stroke-opacity="0.9"/>
</g></g>
<circle cx="118" cy="374.4" r="21.3" fill="none" stroke="#50505c" stroke-width="0.55"/>
<clipPath id="p19"><circle cx="72" cy="424.4" r="22.4"/></clipPath>
<circle cx="72" cy="424.4" r="22.4" fill="#dcdbe6"/>
<g clip-path="url(#p19)">
<g filter="url(#b10)">
<path d="M68.7 403.2h0m5.8 .2h0m-3.8 .3h0m.1 0h0m.1 .3h0m5.6 0h0m-2.8 .1h0m-7.4 .2h0m3.9 .3h0m-1.7 .1h0m-3.5 .1h0m15.6 .7h0m-20.7 .3h0m2.6 .4h0m-2.5 .6h0m23 .1h0m-22.2 .1h0m22 .1h0m-16.8 .4h0m19.2 0h0m-13.2 1.4h0m6.3 0h0m-16.6 .2h0m22.3 0h0m-6.7 .1h0m1.7 .3h0m-4.3 .3h0m-1.2 1.6h0m11.7 .7h0m-17.7 .4h0m-11.4 .1h0m22.5 .9h0m-11.3 .6h0m21.1 .2h0m-2.2 .2h0m-.6 .2h0m-34 1.1h0m16.1 0h0m23.1 .1h0m-38.5 .1h0m39.7 0h0m-39.4 .1h0m24.1 0h0m-.7 .4h0m-4.6 .1h0m12.4 .2h0m-18.8 .6h0m8.5 .1h0m-20.2 .1h0m1.4 .3h0m-3.9 .3h0m13.2 0h0m29 .2h0m-24.5 .2h0m.8 0h0m2.2 0h0m-19.3 .3h0m26.1 0h0m-27.3 .2h0m31.4 .4h0m-2 .3h0m6 0h0m-28 .3h0m30.7 .1h0m2.6 .4h0m-1.7 .1h0m-32 .8h0m-5 .1h0m38.9 .1h0m-41.2 .1h0m42.2 .3h0m-.3 .8h0m-17.2 .3h0m5.4 .3h0m-28.4 .2h0m41 0h0m-25.4 .2h0m-16.8 .5h0m41 0h0m-31.3 .3h0m22.2 .6h0m-23.8 .1h0m-1.4 .7h0m5.5 .1h0m24.4 .3h0m-37.4 .5h0m9.5 .3h0m.9 0h0m31.6 .5h0m-16.8 .2h0m-9.6 .2h0m26.4 .2h0m-11.2 .7h0m-29.2 .5h0m11 .1h0m-.3 .2h0m10.8 0h0m-6.1 .3h0m-12.3 .7h0m1.5 0h0m33 .7h0m2.3 0h0m-40.6 .2h0m30.1 .1h0m10.7 .4h0m-5.2 .6h0m-32.9 .3h0m6.7 .2h0m1.6 .6h0m4.3 .3h0m7.2 .5h0m4.9 0h0m10.1 0h0m-11.5 .5h0m-22.4 .4h0m27.3 .1h0m7.7 .1h0m-11 .3h0m8.5 .3h0m-30.6 .4h0m31.9 .1h0m-26.8 .5h0m21.9 .7h0m-18.3 .8h0m-4.9 .1h0m10.4 .1h0m6.5 .1h0m-11.3 .1h0m21.8 .1h0m-29 .5h0m28.5 .2h0m-28 .1h0m-.4 .1h0m23.9 .1h0m-6.3 .1h0m-1.3 .5h0m-2.3 .1h0m1 .2h0m-14.3 .8h0m4.1 .1h0m19.6 0h0m-19.7 .3h0m0 .4h0m2.2 .1h0m13.5 0h0m-11.4 .4h0m6.3 0h0m.9 0h0m-12.3 .5h0m3.4 0h0m7.8 .7h0m3.1 0h0m1.7 .5h0m-9.3 .3h0" stroke="#4c30cc" stroke-width="4.5" stroke-linecap="round" fill="none" stroke-opacity="0.14"/>
</g>
<g filter="url(#b6)">
<path d="M72.8 402.5h0m-3.1 .7h0m4.8 .2h0m3 0h0m-6.6 .6h0m5.6 0h0m-2.8 .1h0m-7.4 .2h0m11.1 0h0m-10.2 .1h0m-4.4 .2h0m5.7 .1h0m-3.5 .1h0m-2.8 .3h0m6.8 .1h0m11.6 .3h0m-20.7 .3h0m1.9 .4h0m.7 0h0m21.4 0h0m-6.8 .5h0m5.9 .2h0m-23.1 .2h0m17.3 0h0m5.6 0h0m-6.4 .3h0m-10.4 .1h0m19.2 0h0m-1.8 .1h0m1.9 .4h0m-15.7 .8h0m2.4 .1h0m-10.3 .2h0m22.3 0h0m-18 .1h0m11.3 0h0m3.6 0h0m.2 .1h0m-2.1 .2h0m5.9 .1h0m-10.2 .2h0m-16.1 .7h0m15.1 .3h0m-17.6 .1h0m17.4 .5h0m-5.1 .2h0m-3.7 .5h0m20.5 0h0m-20.9 .1h0m23.5 .1h0m-20.3 .2h0m-11.4 .1h0m2.8 .4h0m-3.7 .2h0m22.5 0h0m.7 .8h0m10 .3h0m-4.7 .3h0m1.9 .1h0m-28.3 .8h0m33 .1h0m-38.7 .2h0m2.9 0h0m35.4 .1h0m-37.6 .1h0m39.7 0h0m-39.4 .1h0m4.7 0h0m30.2 .3h0m-11.5 .1h0m-4.6 .1h0m-6.4 .8h0m8.5 .1h0m18.8 0h0m-39 .1h0m-1.8 .3h0m3.2 0h0m25.9 0h0m-29.8 .3h0m13.2 0h0m29 .2h0m-24.5 .2h0m21.4 0h0m-37.7 .3h0m40.8 0h0m-42 .2h0m31 .3h0m5.1 0h0m-4.7 .1h0m-18.4 .3h0m16.4 0h0m6 0h0m-35.6 .1h0m7.6 .2h0m30.7 .1h0m-38.5 .4h0m41.1 0h0m-33.7 .9h0m-5 .1h0m38.9 .1h0m-35.6 .1h0m31.2 0h0m5.4 .3h0m-1.9 .5h0m-10.4 .2h0m12 .1h0m-6.2 .2h0m-5.6 .4h0m-28.1 .2h0m40.7 0h0m-42.2 .7h0m25.9 0h0m15.1 0h0m-21.9 .1h0m-9.4 .2h0m31.3 .1h0m-16.7 .1h0m-2 .1h0m-21.3 .1h0m30.9 .2h0m-23.8 .1h0m-6.5 .7h0m2.3 0h0m2.8 0h0m5.5 .1h0m11.5 .1h0m12.9 .2h0m-36.3 .4h0m40.2 .3h0m-5 .5h0m5.7 .1h0m-10.5 .1h0m-6.3 .1h0m-9.6 .2h0m15.2 .9h0m.9 .1h0m-30.1 .4h0m2.1 0h0m37 0h0m-28.1 .1h0m-.3 .2h0m-11.8 .1h0m33.1 0h0m-16.6 .2h0m-12.3 .7h0m13 0h0m-12.7 .6h0m34.2 .1h0m-38.3 .2h0m10.3 .1h0m19.8 0h0m9.5 0h0m-4.9 .1h0m-26.6 .3h0m30.9 .7h0m-36.3 .2h0m8.3 .8h0m-8.1 .1h0m12.4 .2h0m19.9 .3h0m-20.7 .1h0m12.9 .1h0m10.1 0h0m-26.7 .3h0m2.2 0h0m4.3 .2h0m-13.7 .4h0m-.1 .2h0m35.1 0h0m-11 .3h0m5 0h0m3.5 .3h0m-30.6 .4h0m25.2 0h0m-15.4 .1h0m-4.7 .5h0m.3 .3h0m21.6 .4h0m-19.4 .4h0m-2.1 .2h0m3.2 .2h0m-4.9 .1h0m10.4 .1h0m-4.8 .2h0m11.7 0h0m10.1 .1h0m-28.5 .8h0m-.4 .1h0m25 0h0m-1.1 .1h0m-23.2 .1h0m16.9 0h0m-3.6 .6h0m4.9 0h0m-3.9 .2h0m9 0h0m2.3 .2h0m-25.6 .6h0m20 0h0m-15.9 .1h0m19.6 0h0m.2 .5h0m-19.9 .2h0m-.7 .3h0m2.4 0h0m8.9 .2h0m.9 0h0m4.1 .3h0m-16.4 .2h0m3.4 0h0m13.7 0h0m-10.3 .3h0m4.4 .4h0m3.1 0h0m3.4 .1h0m-1.7 .4h0m-9.3 .3h0m1.9 .1h0m3.6 0h0m2.1 .1h0" stroke="#4c30cc" stroke-width="2" stroke-linecap="round" fill="none" stroke-opacity="0.82"/>
<path d="M68.7 403.2h0m2 .5h0m.1 0h0m-.6 .9h0m-10.2 2.2h0m.8 .2h0m17.5 1.9h0m.3 4.6h0m-11.3 .6h0m18.9 .4h0m-18.5 1.3h0m23.1 .1h0m-14.1 .2h0m7.1 .7h0m-14.5 1.8h0m2.2 0h0m6.8 .3h0m11.7 1.8h0m-39.3 1.1h0m24.7 1.4h0m-23 .5h0m15.6 .2h0m-17.6 3.1h0m9.5 .3h0m.9 0h0m31.6 1.1h0m-18.9 1.5h0m-16.9 1h0m35.3 .7h0m.2 .7h0m-5.2 .6h0m-26.2 .5h0m13.1 1.4h0m3.5 .5h0m4.9 .5h0m6.5 1.2h0m-11.2 2.3h0m-18.5 .7h0m28.5 .2h0m-12.1 .9h0m-11.6 1.5h0m2.2 .5h0m13.5 0h0m-11.4 .4h0" stroke="#3a1ebc" stroke-width="3" stroke-linecap="round" fill="none" stroke-opacity="0.92"/>
</g><g filter="url(#b3)">
<path d="M74.7 402.7h0m-3.6 .1h0m-1.3 .2h0m5.1 .1h0m-5.3 .2h0m5.7 .1h0m-.1 .3h0m-7.2 .2h0m5.2 .4h0m1.4 .2h0m5.9 0h0m-14.3 .2h0m-3.1 .4h0m9.6 .1h0m-5.7 .1h0m1.1 0h0m6.7 0h0m7.2 .2h0m.1 .1h0m-16 .1h0m5.8 .3h0m-7.9 .2h0m-.8 .1h0m10.9 .4h0m8.3 0h0m-20.5 .4h0m8.8 0h0m6.8 0h0m4.8 .2h0m-20.4 .2h0m24.1 .3h0m-2.3 .2h0m-23.5 .1h0m23.7 0h0m-24.1 .1h0m1.6 0h0m24.6 .2h0m-3.9 .2h0m-14.1 .3h0m16.5 .1h0m-25.7 .6h0m-2 .5h0m.9 0h0m18.1 .3h0m-13.2 .1h0m10.6 0h0m-16.6 .2h0m-1.9 .1h0m33.9 .3h0m-11.7 .1h0m-21 .2h0m.2 .4h0m-.5 .1h0m11.8 0h0m.2 .1h0m13.5 .2h0m1.1 0h0m-2.8 .2h0m-23.5 .1h0m.6 0h0m23 0h0m2.6 .2h0m.1 .1h0m-29 .1h0m3.5 0h0m16.9 0h0m-2.2 .1h0m-7.7 .4h0m25.3 .1h0m-6.4 .1h0m-27.3 .1h0m.3 0h0m34.8 0h0m-33.3 .1h0m12.6 .4h0m-9.7 .1h0m5.6 0h0m9.5 .5h0m-15.1 .3h0m-6.1 .2h0m14 .1h0m-15.3 .3h0m.8 0h0m19.5 .4h0m6.2 .3h0m-24.8 .3h0m36.5 0h0m-23.8 .6h0m24.4 .9h0m-36.5 .2h0m-2.7 .2h0m14.2 0h0m10.9 .1h0m4.9 .1h0m-15.7 .1h0m-11.4 .2h0m6.8 .1h0m2 .1h0m-3.9 1h0m.6 0h0m32.5 0h0m-40.2 .2h0m27.3 0h0m-18.1 .1h0m-10.5 .2h0m21.7 0h0m3.1 .5h0m7.1 .1h0m-1.7 .1h0m8.6 .2h0m-35.1 .1h0m27.1 .2h0m6 0h0m-31.2 .1h0m13 .1h0m-19.7 .1h0m.3 .2h0m11.2 .1h0m5.7 .4h0m6.8 .2h0m-16 .1h0m25.5 .2h0m-30.3 .1h0m13.5 0h0m-9.9 .2h0m5.1 0h0m.7 0h0m21.9 0h0m-21 .9h0m18.3 .1h0m-30.1 .1h0m40.1 0h0m-21.8 .3h0m10.8 .1h0m-16.6 .4h0m3.6 .5h0m-17.7 .2h0m10.3 0h0m-10.8 .1h0m24.3 0h0m10.9 .4h0m-20.6 .1h0m26.1 0h0m2.1 0h0m-.8 .3h0m-25.3 .2h0m-13.4 .1h0m-2.3 .4h0m29.3 0h0m11.1 0h0m-39.8 .4h0m2.5 0h0m30.3 0h0m-15.7 .1h0m-17.2 .1h0m25.8 0h0m-25.9 .4h0m40 0h0m-7.4 .2h0m3.1 0h0m-10.8 .1h0m-19.8 .2h0m16.7 0h0m5.8 .4h0m-27.5 .1h0m40.1 0h0m.5 .1h0m-36.8 .1h0m25.4 0h0m10.6 0h0m-2.5 .3h0m-2.9 .1h0m7.1 0h0m-5.6 .1h0m-25.4 .3h0m14.3 0h0m-15.3 .1h0m3.8 .1h0m6.9 0h0m17.8 0h0m-14.2 .1h0m-12.3 .1h0m-8.4 .1h0m9.7 0h0m8.4 0h0m-3.2 .5h0m17.4 .3h0m-23.6 .1h0m28.3 0h0m-38.9 .1h0m8.9 0h0m11 .2h0m10.5 0h0m5.9 0h0m-7.9 .1h0m10.7 .2h0m-21.2 .2h0m10.1 0h0m6.4 0h0m-.6 .2h0m-8.5 .4h0m1.2 .2h0m-25.8 .3h0m23.4 .1h0m-21.2 .3h0m7 .3h0m13.6 0h0m4.4 0h0m-15.2 .2h0m18.7 0h0m-28.3 .1h0m3.8 .1h0m17.6 .1h0m-1.4 .3h0m7.1 0h0m-16.3 .1h0m6.5 0h0m-1.9 .2h0m17.4 0h0m-25.2 .5h0m24.3 .4h0m-14.3 .2h0m-15.6 .1h0m5.5 .2h0m4.4 0h0m8.8 .4h0m-21 .1h0m14.1 0h0m7.1 0h0m-1.2 .2h0m-6.2 .2h0m19.1 .1h0m-13.9 .1h0m-16.3 .1h0m28.2 0h0m-1.6 .1h0m-28.5 .1h0m10.6 .1h0m-1.9 .1h0m8.4 .1h0m14.6 0h0m-24.4 .3h0m22.7 0h0m.6 .4h0m-14.7 .2h0m-2.4 .2h0m-11.7 .1h0m2.2 .1h0m.4 .2h0m20.7 .3h0m4.4 .2h0m-26.1 .1h0m-1 .3h0m25.4 0h0m-23.9 .1h0m11.6 0h0m-12.4 .1h0m3.9 .3h0m7.4 0h0m3.7 .1h0m-14.2 .1h0m1.3 .4h0m18.2 .1h0m-18.2 .1h0m-.2 .2h0m1.5 0h0m14.4 .1h0m-11.5 .1h0m-.5 .2h0m9.3 0h0m-4.8 .6h0m-4.6 .2h0m5.2 .4h0m8.5 0h0m-7.3 .3h0m5.2 .2h0m-6 .1h0m-4.1 .5h0m5.4 .3h0m2.3 .1h0" stroke="#4c30cc" stroke-width="1.1" stroke-linecap="round" fill="none" stroke-opacity="0.7"/>
<path d="M70.8 403.7h0m-.6 .9h0m-10.2 2.2h0m.8 .2h0m17.5 1.9h0m12.5 7h0m-7 .9h0m-14.5 1.8h0m2.2 0h0m18.5 2.1h0m-39.3 1.1h0m1.7 1.9h0m7.5 3.6h0m.9 0h0m12.7 2.6h0m-16.9 1h0m30.3 2h0m-26.2 .5h0m16.6 1.9h0m.2 4h0m-13.7 3.3h0m4.3 .9h0" stroke="#3a1ebc" stroke-width="1.43" stroke-linecap="round" fill="none" stroke-opacity="0.9"/>
</g></g>
<circle cx="72" cy="424.4" r="22.1" fill="none" stroke="#50505c" stroke-width="0.55"/>
<clipPath id="p20"><circle cx="118" cy="424.4" r="21.8"/></clipPath>
<circle cx="118" cy="424.4" r="21.8" fill="#dddde3"/>
<g clip-path="url(#p20)">
<g filter="url(#b10)">
<path d="M113.7 408.1h0m-4.4 5.4h0m25.4 .6h0m-7.5 4.6h0m-16.7 8h0m5.4 2h0" stroke="#4c30cc" stroke-width="4.5" stroke-linecap="round" fill="none" stroke-opacity="0.14"/>
</g>
<g filter="url(#b6)">
<path d="M113.7 408.1h0m8.8 4.7h0m12.2 1.3h0m-19.9 2.1h0m12.4 2.5h0m-16.7 8h0m5.4 2h0m-16.3 1.6h0m5.6 10.1h0" stroke="#4c30cc" stroke-width="2" stroke-linecap="round" fill="none" stroke-opacity="0.82"/>
<path d="M109.3 413.5h0" stroke="#3a1ebc" stroke-width="3" stroke-linecap="round" fill="none" stroke-opacity="0.92"/>
</g><g filter="url(#b3)">
<path d="M122.7 405.6h0m-17.4 2.5h0m21.2 .4h0m-14.1 .1h0m14.3 1.9h0m-19.1 1.4h0m25.1 1.3h0m-31.5 1.5h0m29.4 .2h0m-20.1 1.1h0m26.7 .2h0m-2.2 .2h0m-29.8 1.3h0m13.8 .2h0m18.3 .2h0m-13.1 .2h0m10.9 0h0m-33.8 .3h0m-1.7 1.1h0m38.6 1.3h0m-27.8 .5h0m-11.6 .5h0m36.7 .9h0m-36.8 .9h0m30.1 0h0m8 1.1h0m-24.2 .2h0m11.2 .9h0m8.8 .4h0m-35 .6h0m20.2 .1h0m-10.8 2.2h0m6.1 .2h0m7.7 .6h0m-15 .1h0m-2.6 2.4h0m28.6 .6h0m-24.2 .7h0m22.5 .9h0m1.1 .3h0m-26.7 1.6h0m28.5 .9h0m-11.2 2.7h0m-.2 1.1h0m-5.2 1.6h0m-4.5 .9h0" stroke="#4c30cc" stroke-width="1.1" stroke-linecap="round" fill="none" stroke-opacity="0.7"/>
<path d="M109.3 413.5h0" stroke="#3a1ebc" stroke-width="1.43" stroke-linecap="round" fill="none" stroke-opacity="0.9"/>
</g></g>
<circle cx="118" cy="424.4" r="21.5" fill="none" stroke="#50505c" stroke-width="0.55"/>
<text x="204" y="341.4" font-size="12.6" stroke="#000" stroke-width=".16">j</text>
<rect x="261.4" y="384.2" width="12.4" height="64" fill="#ff9503"/>
<path d="M267.6 383V385.5M265.8 383h3.6M265.8 385.5h3.6" stroke="#111" stroke-width="0.55" fill="none"/>
<path d="M267.6 382.7h0m-3.1 1.2h0m6.4 .5h0" stroke="#111" stroke-width="2.7" stroke-linecap="round" fill="none"/>
<rect x="279.3" y="402.2" width="12.4" height="46.1" fill="#fdd377"/>
<path d="M285.5 400.9V403.5M283.7 400.9h3.6M283.7 403.5h3.6" stroke="#111" stroke-width="0.55" fill="none"/>
<path d="M285.5 400.6h0m-3.1 1.2h0m6.4 .5h0" stroke="#111" stroke-width="2.7" stroke-linecap="round" fill="none"/>
<rect x="309.2" y="412.4" width="12.4" height="35.9" fill="#ff9503"/>
<path d="M315.4 409.9V415M313.6 409.9h3.6M313.6 415h3.6" stroke="#111" stroke-width="0.55" fill="none"/>
<path d="M315.4 409.4h0m-3.1 2.3h0m6.4 1h0" stroke="#111" stroke-width="2.7" stroke-linecap="round" fill="none"/>
<rect x="327.2" y="445.7" width="12.4" height="2.56" fill="#fdd377"/>
<path d="M333.4 443.8V447.7M331.6 443.8h3.6M331.6 447.7h3.6" stroke="#111" stroke-width="0.55" fill="none"/>
<path d="M333.4 443.4h0m-3.1 1.8h0m6.4 .7h0" stroke="#111" stroke-width="2.7" stroke-linecap="round" fill="none"/>
<line x1="255.5" y1="351.8" x2="255.5" y2="448.8" stroke="#000" stroke-width="1"/>
<line x1="255" y1="448.3" x2="344.8" y2="448.3" stroke="#000" stroke-width="1"/>
<line x1="252.1" y1="448.3" x2="255.5" y2="448.3" stroke="#000" stroke-width="1"/>
<text x="251.2" y="450.8" font-size="6.9" text-anchor="end">0</text>
<line x1="252.1" y1="416.3" x2="255.5" y2="416.3" stroke="#000" stroke-width="1"/>
<text x="251.2" y="418.8" font-size="6.9" text-anchor="end">50</text>
<line x1="252.1" y1="384.2" x2="255.5" y2="384.2" stroke="#000" stroke-width="1"/>
<text x="251.2" y="386.7" font-size="6.9" text-anchor="end">100</text>
<line x1="252.1" y1="352.2" x2="255.5" y2="352.2" stroke="#000" stroke-width="1"/>
<text x="251.2" y="354.7" font-size="6.9" text-anchor="end">150</text>
<line x1="276.4" y1="448.3" x2="276.4" y2="451.7" stroke="#000" stroke-width="1"/>
<line x1="324.2" y1="448.3" x2="324.2" y2="451.7" stroke="#000" stroke-width="1"/>
<text x="276.4" y="460.6" font-size="7.2" text-anchor="middle">siNT</text>
<text x="324.2" y="460.6" font-size="7.2" text-anchor="middle">siBRPF1</text>
<text font-size="7.64" text-anchor="middle" textLength="130" lengthAdjust="spacingAndGlyphs" transform="translate(234.4 400.2) rotate(-90)">% Colony Area (Normalized to control)</text>
<text x="315.4" y="407.2" font-size="9.2" text-anchor="middle" letter-spacing=".4">***</text>
<text x="333.4" y="440.2" font-size="9.2" text-anchor="middle" letter-spacing=".4">***</text>
<rect x="325.4" y="355.4" width="8.4" height="4.4" fill="#ff9503"/>
<text x="340.2" y="360" font-size="7.2" textLength="21.6" lengthAdjust="spacingAndGlyphs">DMSO</text>
<rect x="325.4" y="368.6" width="8.4" height="4.4" fill="#fdd377"/>
<text x="340.2" y="373.6" font-size="7.33" textLength="11.4" lengthAdjust="spacingAndGlyphs">Tax</text>
<text x="419.7" y="340.9" font-size="12.6" stroke="#000" stroke-width=".16">k</text>
<line x1="473.5" y1="348.3" x2="473.5" y2="441.4" stroke="#000" stroke-width="1"/>
<line x1="473" y1="441" x2="609.7" y2="441" stroke="#000" stroke-width="1"/>
<line x1="470" y1="441" x2="473.5" y2="441" stroke="#000" stroke-width="1"/>
<text x="469.1" y="443.5" font-size="6.9" text-anchor="end">0</text>
<line x1="470" y1="410.2" x2="473.5" y2="410.2" stroke="#000" stroke-width="1"/>
<text x="469.1" y="412.7" font-size="6.9" text-anchor="end">50</text>
<line x1="470" y1="379.5" x2="473.5" y2="379.5" stroke="#000" stroke-width="1"/>
<text x="469.1" y="382" font-size="6.9" text-anchor="end">100</text>
<line x1="470" y1="348.7" x2="473.5" y2="348.7" stroke="#000" stroke-width="1"/>
<text x="469.1" y="351.2" font-size="6.9" text-anchor="end">150</text>
<line x1="473.5" y1="441" x2="473.5" y2="444.7" stroke="#000" stroke-width="1"/>
<text x="472.5" y="452" font-size="6.9" text-anchor="middle">-6</text>
<line x1="507.4" y1="441" x2="507.4" y2="444.7" stroke="#000" stroke-width="1"/>
<text x="506.4" y="452" font-size="6.9" text-anchor="middle">-4</text>
<line x1="541.4" y1="441" x2="541.4" y2="444.7" stroke="#000" stroke-width="1"/>
<text x="540.4" y="452" font-size="6.9" text-anchor="middle">-2</text>
<line x1="575.4" y1="441" x2="575.4" y2="444.7" stroke="#000" stroke-width="1"/>
<text x="575.4" y="452" font-size="6.9" text-anchor="middle">0</text>
<line x1="609.3" y1="441" x2="609.3" y2="444.7" stroke="#000" stroke-width="1"/>
<text x="609.3" y="452" font-size="6.9" text-anchor="middle">2</text>
<text x="541.8" y="465.2" font-size="7.21" text-anchor="middle" textLength="89.5" lengthAdjust="spacingAndGlyphs">Concentration log[Taxol] µM</text>
<text font-size="7.36" text-anchor="middle" textLength="125" lengthAdjust="spacingAndGlyphs" transform="translate(452.6 394.5) rotate(-90)">Cell Viability % (Normalized to control)</text>
<path d="M490.5 378.5 L492.2 378.5 L493.9 378.5 L495.6 378.5 L497.3 378.5 L499 378.5 L500.7 378.6 L502.4 378.6 L504.1 378.6 L505.8 378.6 L507.4 378.6 L509.1 378.6 L510.8 378.6 L512.5 378.6 L514.2 378.6 L515.9 378.6 L517.6 378.6 L519.3 378.6 L521 378.6 L522.7 378.6 L524.4 378.6 L526.1 378.6 L527.8 378.7 L529.5 378.7 L531.2 378.7 L532.9 378.8 L534.6 378.9 L536.3 378.9 L538 379 L539.7 379.2 L541.4 379.3 L543.1 379.5 L544.8 379.7 L546.5 380 L548.2 380.4 L549.9 380.9 L551.6 381.4 L553.3 382.1 L555 382.9 L556.7 383.9 L558.4 385 L560.1 386.4 L561.8 387.9 L563.5 389.7 L565.2 391.6 L566.9 393.7 L568.6 395.8 L570.3 398.1 L572 400.3 L573.7 402.5 L575.4 404.6 L577 406.5 L578.7 408.2 L580.4 409.8 L582.1 411.1 L583.8 412.3 L585.5 413.2 L587.2 414.1 L588.9 414.7 L590.6 415.3 L592.3 415.8" fill="none" stroke="#ff9503" stroke-width=".8"/>
<path d="M490.5 380.9 L492.2 381 L493.9 381 L495.6 381.1 L497.3 381.1 L499 381.2 L500.7 381.2 L502.4 381.3 L504.1 381.4 L505.8 381.5 L507.4 381.6 L509.1 381.7 L510.8 381.8 L512.5 381.9 L514.2 382.1 L515.9 382.3 L517.6 382.5 L519.3 382.7 L521 383 L522.7 383.3 L524.4 383.6 L526.1 384 L527.8 384.4 L529.5 384.8 L531.2 385.3 L532.9 385.9 L534.6 386.5 L536.3 387.1 L538 387.8 L539.7 388.6 L541.4 389.5 L543.1 390.4 L544.8 391.3 L546.5 392.4 L548.2 393.5 L549.9 394.6 L551.6 395.8 L553.3 397.1 L555 398.3 L556.7 399.6 L558.4 401 L560.1 402.3 L561.8 403.6 L563.5 404.9 L565.2 406.2 L566.9 407.4 L568.6 408.6 L570.3 409.8 L572 410.9 L573.7 411.9 L575.4 412.9 L577 413.8 L578.7 414.6 L580.4 415.4 L582.1 416.1 L583.8 416.8 L585.5 417.4 L587.2 417.9 L588.9 418.4 L590.6 418.9 L592.3 419.3" fill="none" stroke="#fdd377" stroke-width=".8"/>
<rect x="488.8" y="379.6" width="3.4" height="3.4" fill="#fdd377"/>
<rect x="514.2" y="380.8" width="3.4" height="3.4" fill="#fdd377"/>
<rect x="522.7" y="385.8" width="3.4" height="3.4" fill="#fdd377"/>
<rect x="531.2" y="385.2" width="3.4" height="3.4" fill="#fdd377"/>
<rect x="539.7" y="389.5" width="3.4" height="3.4" fill="#fdd377"/>
<rect x="548.2" y="390.7" width="3.4" height="3.4" fill="#fdd377"/>
<rect x="556.7" y="400.5" width="3.4" height="3.4" fill="#fdd377"/>
<rect x="565.2" y="407.3" width="3.4" height="3.4" fill="#fdd377"/>
<rect x="573.6" y="412.8" width="3.4" height="3.4" fill="#fdd377"/>
<rect x="582.1" y="416.5" width="3.4" height="3.4" fill="#fdd377"/>
<rect x="590.6" y="418.4" width="3.4" height="3.4" fill="#fdd377"/>
<path d="M541.4 377.6h0m-25.5 .6h0m8.5 .7h0m-33.9 .6h0m42.4 .6h0m17 2.4h0m8.5 3.1h0m8.5 9.9h0m8.5 11h0m8.4 8h0m8.5 1.3h0" stroke="#ff9503" stroke-width="3.7" stroke-linecap="round" fill="none"/>
<line x1="569.9" y1="350.2" x2="580.1" y2="350.2" stroke="#ff9503" stroke-width="0.8"/>
<path d="M575 350.2h0" stroke="#ff9503" stroke-width="3.7" stroke-linecap="round" fill="none"/>
<text x="584.8" y="352.7" font-size="7.1">siNT</text>
<line x1="569.9" y1="363.3" x2="580.1" y2="363.3" stroke="#fdd377" stroke-width="0.8"/>
<rect x="573.3" y="361.6" width="3.4" height="3.4" fill="#fdd377"/>
<text x="584.8" y="365.8" font-size="7.1">siBRPF1</text>
<text x="572.7" y="397.4" font-size="7.3" textLength="43.8" lengthAdjust="spacingAndGlyphs" fill="#ff9503">IC50: 407 nM</text>
<text x="502.7" y="402.9" font-size="7.25" textLength="43" lengthAdjust="spacingAndGlyphs" fill="#fdd377">IC50: 114 nM</text>
<text x="8.1" y="480.2" font-size="12.6" stroke="#000" stroke-width=".16">l</text>
<text x="76" y="502.8" font-size="7.92" text-anchor="middle" textLength="14.43" lengthAdjust="spacingAndGlyphs" stroke="#000" stroke-width=".14">NT1</text>
<text x="123.2" y="502.8" font-size="7.92" text-anchor="middle" textLength="27.7" lengthAdjust="spacingAndGlyphs" stroke="#000" stroke-width=".14">gKAT6A</text>
<text x="173.8" y="502.8" font-size="7.92" text-anchor="middle" textLength="27.4" lengthAdjust="spacingAndGlyphs" stroke="#000" stroke-width=".14">gKAT6B</text>
<text x="220.8" y="502.8" font-size="7.92" text-anchor="middle" textLength="29.6" lengthAdjust="spacingAndGlyphs" stroke="#000" stroke-width=".14">gMEAF6</text>
<text x="269" y="502.8" font-size="7.92" text-anchor="middle" textLength="22.1" lengthAdjust="spacingAndGlyphs" stroke="#000" stroke-width=".14">gING5</text>
<text x="316.6" y="502.8" font-size="7.92" text-anchor="middle" textLength="26.2" lengthAdjust="spacingAndGlyphs" stroke="#000" stroke-width=".14">gJADE3</text>
<text x="365.5" y="502.8" font-size="7.92" text-anchor="middle" textLength="22.6" lengthAdjust="spacingAndGlyphs" stroke="#000" stroke-width=".14">gKAT7</text>
<text x="29.7" y="531.8" font-size="7.99" textLength="23" lengthAdjust="spacingAndGlyphs" stroke="#000" stroke-width=".14">DMSO</text>
<text x="32.4" y="577" font-size="7.83" textLength="18.75" lengthAdjust="spacingAndGlyphs" stroke="#000" stroke-width=".14">Taxol</text>
<clipPath id="p21"><circle cx="76.6" cy="528.7" r="21.5"/></clipPath>
<circle cx="76.6" cy="528.7" r="21.5" fill="#ebe5f3"/>
<g clip-path="url(#p21)">
<g filter="url(#b10)">
<path d="M76.4 507.4h0m-.3 1.3h0m-1.6 .1h0m7.6 .6h0m2.9 .9h0m3.3 2.2h0m-20.2 .2h0m20.4 1.2h0m-6 .1h0m-2.5 .1h0m9.8 .2h0m.2 .1h0m-7.8 .1h0m7.6 .3h0m-22.1 .1h0m15 .1h0m1 0h0m7 .4h0m-17.5 .7h0m17.8 .1h0m-28.4 1.3h0m1.7 0h0m8.2 .2h0m-8 .2h0m6.9 .6h0m5.4 .1h0m-6.2 .1h0m-8.1 .2h0m6.3 .4h0m6.3 .4h0m8.5 .3h0m-25.2 .2h0m31.2 .2h0m6.1 .2h0m-18.8 .8h0m-3.2 .2h0m-3.3 .1h0m2.7 .5h0m.3 0h0m1.8 0h0m-1.2 .3h0m-9 .4h0m23.9 .9h0m-8.7 .1h0m8.4 .6h0m6 1.8h0m-7 .1h0m-4 .7h0m-5.8 .7h0m4.6 .4h0m-21.6 .6h0m34.5 .6h0m-37.9 .5h0m-.4 .2h0m14.4 .1h0m9.3 .1h0m-20.3 1.7h0m22.1 .2h0m-.3 .5h0m-9.3 .8h0m3.3 .5h0m-17.5 .4h0m18.5 .3h0m-18.2 .7h0m20.7 .2h0m-9.8 .2h0m-3.3 .2h0m1.3 .4h0m-2.8 .1h0m29.6 1.2h0m-15.5 .4h0m-19.6 .1h0m20.5 .1h0m-11.7 .3h0m9.1 0h0m10.9 0h0m-26.6 .1h0m3.4 .5h0m14.7 .1h0m-5.8 .6h0m-3.2 1.4h0m13.8 .3h0m7.4 .2h0m-15.2 .3h0m7.8 3.2h0m1.4 .7h0m-18.4 .4h0m4.9 .7h0m-.1 .7h0" stroke="#8460ba" stroke-width="3.75" stroke-linecap="round" fill="none" stroke-opacity="0.3"/>
</g>
<g filter="url(#b6)">
<path d="M76.7 508.5h0m1.6 .3h0m6.7 1.5h0m.8 .1h0m-4.6 .5h0m-8.7 .8h0m15.8 .8h0m-20.2 .2h0m1.6 .4h0m14.7 .2h0m-17.2 .2h0m7.5 .2h0m2.5 .3h0m7.6 .4h0m5.2 0h0m-7.8 .1h0m3.4 .2h0m4.2 .1h0m-7.1 .2h0m1 0h0m-23.3 .4h0m30.3 0h0m-1.1 .6h0m1.4 .2h0m-13.1 .2h0m-15.3 1.1h0m1.7 0h0m8.2 .2h0m12.6 .1h0m-20.6 .1h0m12.3 .7h0m-11.8 .1h0m5.6 0h0m-8.1 .2h0m6.3 .4h0m6.3 .4h0m8.5 .3h0m-25.2 .2h0m31.2 .2h0m-30.6 .1h0m17.9 .9h0m-6.5 .3h0m5.2 .4h0m-2.2 .1h0m1.8 0h0m11.8 0h0m-.1 .1h0m-12.9 .2h0m-5.3 .1h0m24 .3h0m-21.9 .3h0m-4.5 .3h0m16.8 .3h0m5.8 0h0m-8.7 .1h0m8.4 .6h0m-18.2 .9h0m6.3 .8h0m17.9 .1h0m-7 .1h0m-4 .7h0m2.3 .4h0m-8.1 .3h0m-7.6 .2h0m16.2 .3h0m-18.8 .3h0m12.9 .7h0m-23.1 .6h0m14 .3h0m24.3 0h0m-15 .1h0m16.3 .5h0m-21.2 .9h0m4.8 0h0m-20.2 .3h0m4.7 .1h0m17.1 .6h0m-5.1 .1h0m5.6 .1h0m-16.4 .6h0m6.6 0h0m19.5 .2h0m-16.2 .3h0m4.3 .4h0m-3.3 .3h0m-18.2 .7h0m20.7 .2h0m-9.8 .2h0m15.2 0h0m-17.2 .6h0m-2.8 .1h0m18.2 .3h0m6.3 0h0m4.4 0h0m.7 .9h0m-8.6 .2h0m-11 .1h0m4.1 .1h0m-19.6 .1h0m20.5 .1h0m12.4 0h0m-24.1 .3h0m9.1 0h0m10.9 0h0m-26.6 .1h0m3.4 .5h0m11.5 .1h0m3.2 0h0m-8.3 .1h0m2.5 .5h0m-3.2 1.4h0m.9 .2h0m12.9 .1h0m7.4 .2h0m-26.3 .5h0m2 .6h0m22.4 0h0m-18 .1h0m18.2 .1h0m-8.3 1.4h0m-3.4 .4h0m-12.4 .3h0m18.4 .1h0m1.4 .7h0m-17.3 1h0m3.8 .1h0m-.1 .7h0m2.4 .4h0m-1.9 .2h0m8.1 .2h0" stroke="#8460ba" stroke-width="1.8" stroke-linecap="round" fill="none" stroke-opacity="0.66"/>
<path d="M76.4 507.4h0m-.3 1.3h0m-1.6 .1h0m7.6 .6h0m6.4 4.5h0m-6 .1h0m-2.5 .1h0m9.8 .2h0m-22.1 .6h0m5.5 1.2h0m-1.8 2.4h0m24.3 2.1h0m-22 1h0m-.6 .6h0m-8.1 .7h0m17.4 5.3h0m-21.6 .6h0m34.5 .6h0m-38.3 .7h0m25.5 2.1h0m-23.8 2.2h0m7.9 1.6h0m10.3 6.1h0m-9.2 4.3h0" stroke="#6340a2" stroke-width="2.5" stroke-linecap="round" fill="none" stroke-opacity="0.78"/>
</g><g filter="url(#b3)">
<path d="M75.8 508.3h0m5.9 .6h0m-8.9 .1h0m7.6 .1h0m3.5 1h0m-.2 .1h0m-14.7 .1h0m7 .1h0m-8.6 .1h0m.1 .1h0m2.6 .2h0m1.2 .7h0m2.5 0h0m3.7 .7h0m3.7 .1h0m8.2 .3h0m-13.6 .1h0m8.7 0h0m-2.3 .1h0m-6.7 .5h0m-8.8 .1h0m-4.8 .7h0m11.9 .2h0m-10.6 .3h0m-1.9 .1h0m29.1 .1h0m-7.3 .3h0m2.4 .1h0m6.6 .2h0m-1.9 .4h0m-4 .3h0m-4.9 .1h0m10 0h0m-15.6 .1h0m-16.3 .2h0m5.2 .5h0m3.5 .1h0m3.5 0h0m-1.1 .2h0m20.7 .3h0m-.1 .1h0m-29.9 .2h0m2.6 .1h0m21.3 0h0m1.1 .1h0m-26 .1h0m3.6 0h0m28.4 0h0m-4.3 .2h0m-11.9 .4h0m10.1 .5h0m3.6 .1h0m-3.5 .2h0m4.5 .1h0m-19.8 .3h0m8.3 0h0m-11.7 .8h0m11 .2h0m-4.6 .1h0m11.1 .1h0m-17.5 .4h0m-4.7 .1h0m2 0h0m5.8 0h0m-9.5 .1h0m3.3 0h0m31.6 0h0m-22 .1h0m19.8 0h0m-32.2 .1h0m11.4 0h0m11.9 0h0m-21.6 .1h0m1.3 0h0m23.5 .1h0m-25.1 .2h0m-3.4 .2h0m2.8 .2h0m-5.5 .3h0m25.7 .2h0m-23.9 .1h0m23.9 0h0m11.1 0h0m-35 .1h0m32.2 .7h0m5.6 0h0m-19.9 .6h0m-13.6 .1h0m32.5 .4h0m-30.6 .1h0m23.6 0h0m6.1 .1h0m3.1 .2h0m-29.5 .1h0m1.5 .1h0m1.4 0h0m-11.3 .7h0m4.5 0h0m10.3 0h0m-15.5 .2h0m.3 .2h0m.6 .2h0m4.1 .1h0m8 .5h0m-8.2 .2h0m10.4 .1h0m-10.7 .1h0m12.3 0h0m9.7 .1h0m-.6 .4h0m.5 .4h0m-27.5 .1h0m5.8 0h0m.8 0h0m30.9 .1h0m-8.2 .6h0m5.9 0h0m-31.9 .1h0m31.5 0h0m4.5 .1h0m-27 .2h0m24.1 0h0m-27.3 .4h0m30 0h0m.2 .1h0m-13.9 .2h0m6.2 .2h0m-11.4 .2h0m-22.5 .1h0m28.6 .1h0m8.2 0h0m-33.1 .2h0m34.6 .2h0m-27.6 .4h0m2.2 .9h0m-6.2 .3h0m5.2 0h0m23.8 0h0m.3 0h0m-32.5 .2h0m16.8 .7h0m-16.7 .3h0m12.4 .1h0m11.9 0h0m-16.3 .4h0m14.1 0h0m10.3 .1h0m-6.6 .1h0m-19.3 .1h0m-8.7 .1h0m4.3 0h0m24.2 .2h0m-19.2 .3h0m3.2 .1h0m7 .2h0m3.9 .1h0m8.4 .4h0m-22.8 .1h0m8.8 0h0m18.4 0h0m-19.1 .3h0m13.6 0h0m6 .1h0m-32.8 .3h0m26.5 .2h0m-12 .2h0m12.4 0h0m-24.6 .3h0m1.9 .1h0m18.1 0h0m9.1 .4h0m-31.2 .1h0m7.7 .8h0m19.7 .5h0m-12 .1h0m7.1 .1h0m-19.4 .1h0m25 0h0m-17.4 .2h0m20.8 0h0m-24 .5h0m3.9 .1h0m14.1 0h0m2 .6h0m-12.3 .1h0m4.7 .2h0m8.7 .2h0m-.9 .1h0m-12.4 .1h0m3.4 .2h0m11.6 0h0m0 .1h0m-21.2 .2h0m1.8 .3h0m9.1 .3h0m8.6 0h0m-19.5 .4h0m-5 .1h0m16.8 .1h0m-15.3 .1h0m.4 .2h0m7.5 .1h0m3.7 .3h0m1.3 0h0m3.6 .4h0m-8.1 .2h0m10.1 .2h0m-18.1 .3h0m15.8 .1h0m-2.8 .5h0m-12.8 .2h0m16.1 .3h0m-5.6 .2h0m-7.9 .1h0m-1.7 .1h0m14 0h0m-2 .6h0m-5.7 .6h0m4.8 .2h0m2.1 0h0" stroke="#8460ba" stroke-width="1" stroke-linecap="round" fill="none" stroke-opacity="0.6"/>
<path d="M82.1 509.4h0m.4 4.6h0m7.3 .3h0m-22.1 .6h0m3.7 3.6h0m24.3 2.1h0m-13.3 7.6h0m-21.6 .6h0m-3.8 1.3h0m25.5 2.1h0m-15.9 3.8h0m10.3 6.1h0" stroke="#6340a2" stroke-width="1.3" stroke-linecap="round" fill="none" stroke-opacity="0.9"/>
</g></g>
<circle cx="76.6" cy="528.7" r="21.2" fill="none" stroke="#6d6a78" stroke-width="0.55"/>
<clipPath id="p22"><circle cx="76.6" cy="575.6" r="21.5"/></clipPath>
<circle cx="76.6" cy="575.6" r="21.5" fill="#efebf4"/>
<g clip-path="url(#p22)">
<g filter="url(#b10)">
<path d="M77.1 556.4h0m1.3 .1h0m-.4 1.9h0m8.1 .9h0m-2 .2h0m-4.2 1.7h0m-.9 1.5h0m-13.9 .8h0m4.5 0h0m-2.9 .9h0m14.4 .1h0m.4 .5h0m-13.2 .2h0m1.9 .5h0m20.8 .2h0m-16.3 .3h0m-8.4 2.2h0m13.7 .6h0m-17.8 1h0m-1.2 .4h0m-3.1 .7h0m29.7 0h0m-5.7 .5h0m-9.2 2.5h0m.1 1h0m23 1.6h0m1.4 2.3h0m-31 .5h0m12.7 .1h0m-2.8 .6h0m4 2.3h0m-10.9 .1h0m18.6 .9h0m-27.4 .4h0m16.5 .8h0m2 2.7h0m-12 .4h0m2.6 2h0m21.2 1.1h0m-11.3 3.4h0m-9 .6h0m8.5 .7h0" stroke="#8460ba" stroke-width="3.75" stroke-linecap="round" fill="none" stroke-opacity="0.3"/>
</g>
<g filter="url(#b6)">
<path d="M71.1 556.1h0m3.6 .2h0m2.4 .1h0m.9 2h0m6.1 1.1h0m-4.2 1.7h0m2 .6h0m-2.9 .9h0m-13.9 .8h0m28.1 .3h0m-26.5 .6h0m14.4 .1h0m-11.4 .1h0m20.3 .1h0m-8.5 .3h0m-13.2 .2h0m1.9 .5h0m20.8 .2h0m-16.3 .3h0m-16.5 .9h0m30.8 .7h0m-15.2 .4h0m-7.5 .2h0m15.2 .5h0m-1.5 .1h0m-17.8 1h0m-1.2 .4h0m26.6 .7h0m-26.1 .2h0m2.2 .9h0m26.7 .3h0m-18.4 2.6h0m.8 0h0m23 1.6h0m-20.4 .6h0m-15.1 .2h0m21.8 0h0m1.5 0h0m-17.4 2h0m12.7 .1h0m-14.3 .3h0m17.1 .5h0m-1.6 2.1h0m-10.9 .1h0m-12.1 .6h0m30.7 .3h0m-27.4 .4h0m31.8 2.6h0m-8.5 .1h0m8 .2h0m-12.8 .6h0m-12 .4h0m9.6 .3h0m-14.5 .1h0m7.5 1.6h0m18.3 .5h0m2.9 .6h0m-10.3 1h0m5.2 .6h0m-6.2 1.8h0m-9.8 .3h0m10 0h0m-7.5 .1h0m-1.7 .2h0m8.5 .7h0" stroke="#8460ba" stroke-width="1.8" stroke-linecap="round" fill="none" stroke-opacity="0.66"/>
<path d="M78.4 556.5h0m7.7 2.8h0m-16.5 4.2h0m-11.7 7.6h0m24 .5h0m-9.2 2.5h0m24.5 4.9h0m-21.1 1.2h0m.8 4.5h0" stroke="#6340a2" stroke-width="2.5" stroke-linecap="round" fill="none" stroke-opacity="0.78"/>
</g><g filter="url(#b3)">
<path d="M81.3 555.7h0m2.8 .8h0m-15.2 .2h0m2.5 0h0m14.4 1.1h0m-.3 .3h0m-9 .5h0m-.5 .1h0m2.9 1h0m9.9 .4h0m.8 .9h0m-1.2 .1h0m-17.2 .2h0m-9.6 .8h0m18.2 0h0m12.6 0h0m-28.5 .1h0m5.2 .1h0m12.8 0h0m11.4 .8h0m-32.2 .3h0m4 .3h0m18.1 .3h0m1.3 .5h0m-23.7 .1h0m30.7 .1h0m-20.5 .1h0m-7.6 .7h0m2.9 0h0m2.1 .1h0m7.2 0h0m-15.9 .1h0m20.2 .1h0m-7.5 .3h0m10.2 .3h0m-9.5 .1h0m18.3 .6h0m-4.2 .8h0m-20.8 .4h0m4.6 .7h0m24.9 0h0m-1.4 .3h0m-2.3 .3h0m-10.1 .2h0m14 .2h0m-9 .4h0m3 0h0m2 .4h0m1.1 .5h0m-31.1 .1h0m25.4 .1h0m5 .9h0m-34.8 .3h0m25 .2h0m-20 .5h0m9.3 .4h0m4.9 0h0m6.8 .3h0m-19.5 .5h0m22 .1h0m-8.8 .7h0m-2.6 .7h0m-8.2 .2h0m6.1 .9h0m-10 .2h0m20.9 .4h0m-13.4 .5h0m20.1 0h0m4 0h0m-27.7 .2h0m20.9 .3h0m-20.3 1.2h0m-3.6 .2h0m1.7 .7h0m3.3 .1h0m27.2 .1h0m-21.9 .1h0m-9.8 .5h0m15.8 0h0m8 0h0m-29 .1h0m20.7 0h0m-8.9 .5h0m15 1h0m7.6 .3h0m-2.9 .1h0m-31.9 .1h0m28.3 0h0m-20 .1h0m24 .1h0m4.2 .3h0m-27.9 .2h0m23.9 .6h0m-32.8 .4h0m9.7 .1h0m21.3 .1h0m-21.9 .4h0m6.9 .1h0m6.1 1.2h0m7.6 .2h0m-16.1 .3h0m-9.7 .2h0m29.2 .2h0m-7.7 .3h0m1.6 0h0m-17.6 .5h0m24.9 .2h0m-6 .3h0m-.1 .1h0m-17.8 .1h0m15.9 .1h0m6 .6h0m-8.3 .6h0m-8.1 .1h0m-1.7 .1h0m7.6 1.1h0m-4.8 .1h0m-9.5 .1h0m22.1 .1h0m.2 .1h0m-12.3 .1h0m11.1 .3h0m-9.1 .5h0m-.7 .1h0m-8.6 .2h0m1.4 .2h0m7.5 .6h0m-4.4 .3h0m-.5 .5h0m2 .3h0" stroke="#8460ba" stroke-width="1" stroke-linecap="round" fill="none" stroke-opacity="0.6"/>
<path d="M78.4 556.5h0m7.7 2.8h0m-16.5 4.2h0m12.3 8.1h0m-5 13.1h0" stroke="#6340a2" stroke-width="1.3" stroke-linecap="round" fill="none" stroke-opacity="0.9"/>
</g></g>
<circle cx="76.6" cy="575.6" r="21.2" fill="none" stroke="#6d6a78" stroke-width="0.55"/>
<clipPath id="p23"><circle cx="124.6" cy="528.7" r="21.5"/></clipPath>
<circle cx="124.6" cy="528.7" r="21.5" fill="#ebe5f3"/>
<g clip-path="url(#p23)">
<g filter="url(#b10)">
<path d="M121.6 508.2h0m3.8 .1h0m.2 .5h0m-3.7 .6h0m1 .1h0m2.7 0h0m1.4 .4h0m-9.4 .3h0m10.5 .2h0m4 0h0m2.5 .2h0m-6.5 .3h0m5 .5h0m-9.3 .6h0m1.6 1.5h0m-10.1 .8h0m17.6 .3h0m-2.6 .3h0m-5.2 .2h0m5 .6h0m3 .1h0m-24.4 .2h0m.8 0h0m28.6 .8h0m-12.1 .6h0m-17.1 .2h0m21.5 .2h0m7.6 0h0m-14.5 .4h0m-5.6 .5h0m23.5 .1h0m-25.4 .2h0m19.8 0h0m6.2 .2h0m-30.5 .2h0m16.3 .8h0m-6.1 .2h0m20.3 0h0m-28.7 1.3h0m3.3 .3h0m15.3 .1h0m-20.2 .7h0m10.3 .5h0m22.7 .1h0m-27.2 .8h0m5.4 0h0m-9.5 .1h0m-9.2 .4h0m9.8 0h0m27.6 0h0m-26.4 .1h0m19.2 .1h0m-9.9 .5h0m4.5 .2h0m-3.9 .1h0m-13.5 .4h0m-5 .5h0m-1.9 .1h0m38.5 .2h0m-29.6 .4h0m-2.2 .2h0m31 .9h0m-16.4 .1h0m-6.5 1.4h0m-13.2 .1h0m19.6 0h0m-15.4 .2h0m2.8 0h0m21.1 .3h0m-6.3 .1h0m10.1 .3h0m-22.5 .1h0m7.1 .3h0m20.1 .1h0m-26 .1h0m13.4 .4h0m-25.3 .4h0m36.2 .2h0m-34.8 .5h0m23.1 0h0m.7 .5h0m-1.8 .3h0m-4.4 .1h0m.7 .2h0m7.7 .1h0m-8.9 .1h0m-1.1 .4h0m-2.3 .4h0m8.2 0h0m-4.1 .1h0m-17.9 .3h0m12.4 .1h0m-3.6 .2h0m1.1 .4h0m8.5 0h0m-8.5 .4h0m18.8 .2h0m7.2 .6h0m-34.8 .4h0m14.8 0h0m-2.3 .4h0m11.3 0h0m4.9 0h0m3.3 0h0m-28.3 .2h0m7.5 0h0m13.3 .8h0m-6.2 1.4h0m6 0h0m1.5 0h0m1.9 .6h0m-1.6 1.3h0m-23.1 .1h0m.1 0h0m.4 .2h0m3.1 1.4h0m1.6 0h0m2.7 .1h0m10.3 .6h0m8.5 .3h0m-16.2 .3h0m-2.8 .9h0m6.1 1.2h0m8 .4h0m-12.3 .2h0m11.6 .1h0" stroke="#8460ba" stroke-width="3.75" stroke-linecap="round" fill="none" stroke-opacity="0.3"/>
</g>
<g filter="url(#b6)">
<path d="M121.6 508.2h0m3.8 .1h0m.2 .5h0m-3.7 .6h0m1 .1h0m2.7 0h0m-2.3 .5h0m-1.8 .4h0m6.6 0h0m4 0h0m2.9 .1h0m-.4 .1h0m-13.5 .3h0m7 0h0m5 .5h0m-5 .5h0m8 .3h0m-2.9 .1h0m-16.3 .7h0m18.2 .7h0m-19.8 .6h0m2.3 0h0m5.7 .1h0m9.6 .2h0m-13.2 .3h0m10.6 0h0m-17.8 .1h0m9.6 0h0m3 .1h0m-5.3 .2h0m10.3 .4h0m3 .1h0m-24.4 .2h0m.8 0h0m15.8 .1h0m-2.1 .7h0m14.9 0h0m-13.3 .2h0m-9.2 .3h0m-8 .1h0m4.7 .2h0m18.1 .2h0m7.6 0h0m-27 .1h0m26.4 .5h0m-19.6 .3h0m5 .1h0m6 .1h0m-12.8 .1h0m19.8 0h0m6.2 .2h0m-11.2 .5h0m-3 .5h0m-6.1 .2h0m11.6 0h0m-12.8 .1h0m17.1 0h0m-22.8 .4h0m28.4 0h0m-37.5 .1h0m28.7 0h0m-18.4 .1h0m-9 .3h0m8.8 .1h0m-2.5 .2h0m6.3 .2h0m12.3 .2h0m4.3 .6h0m-24.5 .1h0m26.3 .1h0m-17.9 .1h0m-14.8 .1h0m.2 .1h0m39.2 .2h0m-22.1 .1h0m21.2 .2h0m-25.2 .1h0m18 .1h0m-19.1 .3h0m-12.5 .1h0m8.4 0h0m5.5 .1h0m-.5 .1h0m26.7 .1h0m-40.9 .1h0m9.8 0h0m1.2 .1h0m19.2 .1h0m-9.9 .5h0m-6.4 .3h0m7 0h0m10 0h0m-23.5 .4h0m9.8 .1h0m-4 .2h0m-12.7 .3h0m38.5 .2h0m-31.8 .6h0m13 0h0m11.7 .3h0m-10.2 1.8h0m-6.4 .3h0m23.3 0h0m-36.5 .1h0m19.6 0h0m-15.4 .2h0m2.8 0h0m25.6 .2h0m-4.5 .1h0m-6.3 .1h0m8.6 .1h0m-21 .3h0m23.7 0h0m-17.6 .3h0m1 0h0m-13.9 .1h0m34 0h0m-26 .1h0m13.4 .4h0m-16.7 .3h0m-8.6 .1h0m26.1 0h0m5.1 .2h0m-15.1 .2h0m8.4 .3h0m-9.2 .3h0m19.5 0h0m-9.6 .2h0m-1.8 .3h0m-4.4 .1h0m13.4 .1h0m-12.7 .1h0m7.7 .1h0m-8.9 .1h0m-1.1 .4h0m-2.3 .4h0m8.2 0h0m13.9 .3h0m-35.9 .1h0m28.4 0h0m-16 .1h0m11.9 .1h0m-15.5 .1h0m1.1 .4h0m8.5 0h0m8.7 .2h0m-17.2 .2h0m18.8 .2h0m7.2 .6h0m-34.8 .4h0m14.8 0h0m1 .2h0m-3.3 .2h0m11.3 0h0m4.9 0h0m3.3 0h0m-28.3 .2h0m23.6 0h0m-24.2 .2h0m32.3 .3h0m.2 .2h0m-11.1 .1h0m9.8 .2h0m-2 .5h0m-32.1 .3h0m12.3 0h0m8.6 .3h0m-2.8 .1h0m6 0h0m1.5 0h0m1.9 .6h0m-15.5 .2h0m-8.5 .8h0m12 .3h0m10.4 0h0m-23.1 .1h0m.1 0h0m.4 .2h0m18.5 .1h0m4.4 .8h0m2.2 0h0m-22 .5h0m1.6 0h0m2.7 .1h0m-1.5 .1h0m18.4 .4h0m-6.6 .1h0m.7 .1h0m-3 .2h0m10.8 0h0m-16.2 .3h0m-3.4 .9h0m.6 0h0m2 0h0m-5.3 .1h0m17.4 1.5h0m-12.3 .2h0m11.6 .1h0m-9.2 1h0m3.4 .1h0" stroke="#8460ba" stroke-width="1.8" stroke-linecap="round" fill="none" stroke-opacity="0.66"/>
<path d="M127 509.9h0m-9.4 .3h0m6.2 1.8h0m1.6 1.5h0m.6 3.9h0m-17.1 .2h0m14.6 .6h0m-5.6 .5h0m23.5 .1h0m-29.9 .6h0m30.5 1h0m-25.4 1.6h0m5.4 1.3h0m.9 .9h0m18.7 .5h0m-12.6 .9h0m-22.4 1h0m7 .7h0m28.8 1.1h0m-16.4 .1h0m12.2 2.4h0m3 1.6h0m-34.8 .5h0m17.8 2.2h0m-5.6 3.2h0m5.6 9.2h0" stroke="#6340a2" stroke-width="2.5" stroke-linecap="round" fill="none" stroke-opacity="0.78"/>
</g><g filter="url(#b3)">
<path d="M119.3 508.8h0m11.2 0h0m-.8 .3h0m-1.4 .3h0m2.3 0h0m-4.7 .8h0m-11.4 .4h0m15.5 0h0m5.7 .3h0m-3.3 .1h0m1.4 0h0m.2 .2h0m-19.3 .2h0m17 0h0m-9.5 .1h0m4 .1h0m5.7 .2h0m-15.5 .1h0m16.5 .3h0m1.8 .6h0m3.1 0h0m.7 .6h0m-14.8 .1h0m12.9 .1h0m-2.5 .2h0m-21.6 .2h0m3.6 .1h0m.1 .1h0m22.2 0h0m-1.2 .1h0m-27.9 .2h0m19.9 0h0m-8.3 .1h0m-11.1 .2h0m-.4 .1h0m-.5 .1h0m22.6 0h0m1.5 .1h0m-17.1 .2h0m8.9 .3h0m13.9 0h0m-9.9 .1h0m-9.6 .2h0m-7.6 .1h0m2.5 0h0m24.7 .2h0m-21.5 .1h0m-3 .2h0m12.1 .1h0m1.8 .2h0m12.6 .1h0m-13.3 .1h0m-9.7 .2h0m4.3 0h0m18.4 .2h0m-21.4 .5h0m17.3 .2h0m-22.7 .2h0m20.8 0h0m-16.2 .1h0m-7.6 .1h0m9.9 0h0m21.9 .1h0m-7.4 .2h0m-26.1 .1h0m-2.5 .1h0m36 .1h0m-25.9 .2h0m6.6 .1h0m17.9 .5h0m-22.1 .2h0m24.2 .1h0m-35.4 .8h0m.7 .2h0m5.2 0h0m14.8 .1h0m-8.4 .1h0m-4.6 .6h0m12.5 .1h0m-2.3 .1h0m-19.2 .3h0m34.9 0h0m-35.4 .1h0m17.4 0h0m7.2 0h0m2.1 0h0m-15 .1h0m2.4 0h0m8.1 .2h0m11.6 0h0m-18.2 .1h0m-16.6 .1h0m5.4 0h0m16.1 0h0m7.3 .2h0m-7.1 .2h0m-2.6 .1h0m19.7 .4h0m-33.4 .1h0m4.2 0h0m16.5 .1h0m11.5 .1h0m-20.3 .2h0m-12.5 .1h0m4 0h0m24.6 0h0m-6 .1h0m9.7 0h0m-24.2 .1h0m6.8 0h0m.8 0h0m-18.9 .2h0m38.9 0h0m-39.2 .1h0m15.6 0h0m-17 .1h0m3.8 .1h0m17.8 0h0m5.9 0h0m-18.3 .1h0m-8 .3h0m21.6 .4h0m-15.4 .3h0m-1.9 .1h0m13.7 .1h0m9 0h0m-15.1 .1h0m-1.1 .1h0m6.4 0h0m-19 .1h0m22.2 .1h0m-22.2 .2h0m20.3 0h0m6.4 0h0m13 0h0m-19.9 .1h0m3.5 .2h0m13.9 0h0m-15.2 .1h0m4.6 .2h0m-14.7 .1h0m-1.4 .1h0m2.6 0h0m-11.9 .2h0m13.9 .1h0m21.1 .1h0m-26.1 .1h0m6.3 0h0m-12.9 .3h0m18.4 0h0m-21.7 .1h0m14.5 .3h0m2.5 0h0m3.3 0h0m-19.8 .2h0m33.6 .1h0m-31.9 .3h0m22.6 0h0m-14.8 .1h0m22.4 0h0m7.7 0h0m-29.6 .1h0m17.7 .2h0m12 0h0m-32.1 .3h0m21.9 0h0m1.5 0h0m-3.5 .1h0m9.1 0h0m3.7 .1h0m-41.3 .1h0m39.4 0h0m-5.2 .1h0m-26.3 .1h0m19.8 0h0m-24.4 .1h0m17.4 .2h0m-9.4 .5h0m-1.7 .1h0m29.8 .1h0m1.8 0h0m-23.1 .1h0m-16.7 .3h0m35.5 0h0m-10 .2h0m-7.5 .1h0m15 0h0m7 .1h0m-37.3 .2h0m18.3 .1h0m9.4 .1h0m6.4 .1h0m-35.3 .2h0m17.1 0h0m-16.5 .1h0m16.5 .1h0m2.1 0h0m-14 .2h0m26.1 .1h0m6.4 0h0m-34.9 .3h0m29.9 0h0m.6 .2h0m-8 .3h0m-20.1 .4h0m7.2 .1h0m14.2 0h0m6 .1h0m-12.6 .2h0m-20.5 .1h0m12.3 .4h0m13.1 0h0m-18.6 .1h0m-8.1 .1h0m23.4 .1h0m-8.5 .1h0m-13.7 .2h0m32.2 0h0m-20.9 .1h0m5.2 .1h0m-10 .5h0m23.6 .1h0m-6.6 .5h0m6.6 0h0m-27.7 .1h0m5.6 .4h0m9.1 .1h0m2.1 .1h0m11 .1h0m6.2 0h0m-33.6 .1h0m15.2 .1h0m15.5 0h0m-9.8 .2h0m-22.7 .1h0m34.4 0h0m-10.6 .1h0m8.4 .1h0m-24.7 .5h0m23.2 0h0m.7 0h0m-27.1 .1h0m5.7 0h0m20.7 0h0m-24 .3h0m-6.6 .1h0m19.5 .1h0m1.1 .3h0m1.4 .1h0m11.9 .1h0m-25 .2h0m5.3 0h0m19 .1h0m-2.7 .3h0m-27 .1h0m-1.2 .4h0m4.3 0h0m.1 0h0m6.8 .1h0m18.9 .1h0m-28.4 .1h0m17.7 .2h0m-20.3 .1h0m17.4 .1h0m-9.1 .2h0m9.8 .2h0m-3.7 .1h0m13.4 0h0m-10.3 .1h0m10.4 .1h0m-14.9 .1h0m5.2 .5h0m4.4 0h0m-2.9 .1h0m9 .1h0m1.2 .1h0m-8.5 .1h0m-6.1 .6h0m-.7 .2h0m9.7 0h0m-16.9 .1h0m7.1 0h0m11.4 .2h0m.8 0h0m-2.7 .2h0m-9.9 .1h0m11.2 .1h0m-16.6 .6h0m17.3 .2h0m-5.3 .2h0m4.3 .2h0m-.7 .1h0m-15.2 .1h0m14.2 .2h0m-13.4 .4h0m6.1 .6h0m5.3 .3h0m-4.6 .2h0m1.3 0h0m-3.6 .3h0" stroke="#8460ba" stroke-width="1" stroke-linecap="round" fill="none" stroke-opacity="0.6"/>
<path d="M117.6 510.2h0m6.2 1.8h0m-.3 6.2h0m-5.6 .5h0m-6.4 .7h0m30.5 1h0m-25.4 1.6h0m25 2.7h0m-35 1.9h0m31.6 4.3h0m-31.8 2.1h0m17.8 2.2h0m-5.6 3.2h0" stroke="#6340a2" stroke-width="1.3" stroke-linecap="round" fill="none" stroke-opacity="0.9"/>
</g></g>
<circle cx="124.6" cy="528.7" r="21.2" fill="none" stroke="#6d6a78" stroke-width="0.55"/>
<clipPath id="p24"><circle cx="124.6" cy="575.6" r="21.5"/></clipPath>
<circle cx="124.6" cy="575.6" r="21.5" fill="#efebf4"/>
<g clip-path="url(#p24)">
<g filter="url(#b10)">
<path d="M131.8 556.5h0m-13.9 .5h0m4.6 .2h0m8.7 .5h0m-8.4 .8h0m10.4 .9h0m-18.6 .2h0m10.7 0h0m.4 1.3h0m-15 2.3h0m22.5 .5h0m-24.4 .6h0m17.7 .2h0m-.7 1h0m16.1 .6h0m-19.5 1h0m-16.6 .5h0m17.1 .1h0m-17 1h0m11.1 0h0m24.9 .3h0m2 .1h0m-34 .9h0m23 .3h0m-11.3 .2h0m11.2 1.7h0m5.6 .3h0m-5.6 .1h0m-2.7 .5h0m12.8 0h0m-2.8 .5h0m4.3 .3h0m-31.9 1.5h0m32.6 .1h0m-39.6 .4h0m31.3 .5h0m-28.6 .1h0m5.6 .6h0m-9.1 .5h0m16.1 .4h0m22.7 .2h0m-9.1 .1h0m-14.8 .1h0m18.5 .2h0m6 0h0m-6.6 .2h0m5.9 0h0m-39 .1h0m16 0h0m20.4 .1h0m-28.7 .3h0m7.8 0h0m-9.3 .5h0m11.7 1h0m12.1 .3h0m-8.7 .7h0m-11.9 1.1h0m1.4 .5h0m19.7 0h0m-27.7 .3h0m35.4 .4h0m-22.9 .8h0m13 .4h0m8.7 .2h0m-31.5 1.4h0m10.2 .2h0m9.3 2.6h0m-6.3 .2h0m-13.4 .8h0m26.7 .2h0m-.9 .4h0m-23 .2h0m25.1 .3h0m-9.9 .3h0m-13 1h0m18.5 1.4h0" stroke="#8460ba" stroke-width="3.75" stroke-linecap="round" fill="none" stroke-opacity="0.3"/>
</g>
<g filter="url(#b6)">
<path d="M131.8 556.5h0m1.6 .2h0m-15.5 .3h0m13.3 .7h0m-8.4 .8h0m1.8 0h0m-5.6 .2h0m14.2 .7h0m-18.6 .2h0m10.7 0h0m-10.5 .2h0m10.9 1.1h0m6.1 1.3h0m-7.6 .9h0m-13.5 .1h0m22.5 .5h0m-20.8 .4h0m-3.6 .2h0m17.7 .2h0m2.9 .2h0m7.3 .6h0m-10.9 .2h0m16.1 .6h0m-25.1 .3h0m1.1 0h0m14.5 .1h0m-.2 .4h0m3.5 .1h0m6 .2h0m-35.9 .4h0m17.1 .1h0m-.2 .1h0m10.8 .7h0m-27.6 .2h0m11.1 0h0m26.9 .4h0m-34 .9h0m23 .3h0m-11.3 .2h0m10.2 .5h0m1 1.2h0m0 .4h0m-21.5 .4h0m6 .1h0m3 0h0m9.8 0h0m12.8 0h0m-2.8 .5h0m-13.4 .1h0m.9 1.1h0m-15.1 .6h0m32.6 .1h0m-8.3 .9h0m-23 .7h0m5.3 .3h0m-5.6 .1h0m6.5 0h0m-15.3 .1h0m30.6 .3h0m-14.5 .1h0m22.7 .2h0m-9.1 .1h0m-7 .2h0m10.7 .1h0m-6.2 .1h0m2.7 .1h0m2.9 0h0m5.9 0h0m-39 .1h0m16 0h0m14.9 .1h0m5.5 0h0m-20.9 .3h0m-2.4 .2h0m-4.9 .3h0m24 .4h0m-14.3 .6h0m-.8 .2h0m12.9 .1h0m-15.3 .6h0m6.6 .1h0m15.9 .3h0m-8.1 .1h0m-19.7 .7h0m1.4 .5h0m19.7 0h0m-27.7 .3h0m16.4 .3h0m19 .1h0m-26.6 .2h0m26.5 .4h0m-17.8 .2h0m8 .4h0m8.7 .2h0m-15.3 .4h0m9.4 0h0m4.3 .3h0m-29.9 .7h0m28.8 0h0m-27 .1h0m-2.4 .1h0m10.8 0h0m-13 .2h0m8 .5h0m8 2.1h0m-2.9 .6h0m-10.5 .2h0m2.9 .1h0m23.8 .1h0m-24.8 .4h0m23.9 0h0m-23 .2h0m25.1 .3h0m-3.9 .1h0m-19.6 .5h0m17.8 .4h0m-13.4 1.3h0m10.4 1.2h0m-5.3 .1h0m-1.2 .4h0" stroke="#8460ba" stroke-width="1.8" stroke-linecap="round" fill="none" stroke-opacity="0.66"/>
<path d="M122.5 557.2h0m-.1 9.9h0m19.5 1.9h0m-3.5 3.5h0m6 1.4h0m-38.9 2h0m2.7 .6h0m11.4 1.9h0m24.5 .2h0m-32 .7h0m-1.5 .5h0m9.1 5.1h0m9.7 4.8h0m-1.7 2.4h0m-13 1h0m18.5 1.4h0" stroke="#6340a2" stroke-width="2.5" stroke-linecap="round" fill="none" stroke-opacity="0.78"/>
</g><g filter="url(#b3)">
<path d="M126.3 555.2h0m-1.6 .7h0m-5.5 1h0m7.9 .1h0m2.2 0h0m1.8 .2h0m-10.3 .1h0m-4.5 .1h0m-2.3 .3h0m3.9 .3h0m-2.4 .2h0m2.9 0h0m6.9 .3h0m10.5 .1h0m.2 .3h0m-21 .1h0m.8 .7h0m21 0h0m-19 .2h0m-2.2 .2h0m19.3 .6h0m-9.6 .2h0m-13.4 1.4h0m-.9 .4h0m-2 .1h0m30.7 .1h0m-24.1 .3h0m-.9 .2h0m24.9 0h0m-32.3 .3h0m26.9 .3h0m-21.4 .2h0m16.3 .3h0m10.5 0h0m-20.4 .2h0m-1.6 .1h0m13.3 0h0m-.6 .3h0m9.6 .2h0m-18.7 .2h0m21.2 0h0m-31.8 .4h0m17.3 .1h0m3.5 0h0m6.3 0h0m-28.2 .5h0m-2.2 .3h0m12.3 .3h0m9 0h0m-11.9 .1h0m-8.2 .2h0m21.5 0h0m2.3 0h0m7.1 .5h0m-32.7 .3h0m35 0h0m-36.7 .1h0m22.5 0h0m13.9 0h0m-29.5 .1h0m.7 .1h0m25.6 0h0m-11.2 .3h0m3 0h0m-4 .3h0m7.2 0h0m-18 .5h0m28.5 .2h0m-35 .5h0m34.4 0h0m-28.6 .5h0m7.5 0h0m13.4 0h0m-.1 .2h0m8.3 .2h0m.7 .1h0m-33.2 .2h0m20.4 .1h0m13.1 0h0m-11.8 .2h0m0 0h0m-17.5 .5h0m23.5 .1h0m-26 .4h0m16.4 .2h0m-24.4 .1h0m21.2 0h0m9.6 0h0m-31.4 .2h0m3.3 .1h0m10.9 0h0m15.4 0h0m-17.8 .3h0m1.9 0h0m10 .1h0m-5.6 .9h0m.6 .2h0m22 .1h0m-19.4 .1h0m18.2 .2h0m-7.3 .4h0m-23.9 .1h0m24.9 .2h0m-4.8 .2h0m5.7 0h0m-21.4 .6h0m15.1 .2h0m-10.3 .1h0m18.9 .2h0m-23.4 .4h0m27 .2h0m-31.5 .1h0m24.2 0h0m3.7 0h0m-29.4 .1h0m2.2 .1h0m20.3 0h0m-16.9 .4h0m19.1 .3h0m-9.3 .5h0m-22 .1h0m22.1 0h0m-9 .2h0m14.8 0h0m-22.6 .5h0m26.9 .4h0m-31.6 .4h0m9 .1h0m12.4 .3h0m-9.9 .3h0m13.3 .2h0m.5 .4h0m-14.1 .2h0m10.6 .1h0m.5 0h0m1.7 .1h0m-15.1 .1h0m-3.1 .1h0m.4 0h0m-6.1 .1h0m2.1 0h0m31.9 0h0m-28.4 .1h0m31.7 .2h0m-7.9 .1h0m3.6 .5h0m-4.1 .4h0m6 .1h0m-30.4 .2h0m23.3 0h0m.2 .1h0m-12.6 .1h0m20 .1h0m-12.1 .5h0m2.9 0h0m-19.8 .4h0m29.8 0h0m-22.8 .3h0m4.2 .2h0m9.1 0h0m-2.3 .1h0m2.6 .4h0m-14 .5h0m15.8 .1h0m-19.1 .2h0m1.6 0h0m5.7 .1h0m-10.9 .9h0m3.5 .2h0m10.7 .1h0m-.1 .2h0m11.5 .4h0m-4.9 .1h0m-.1 .1h0m6.2 0h0m-20.8 .3h0m-2.7 .4h0m16.6 0h0m-14.9 .1h0m-5 .1h0m20.4 0h0m6.3 .1h0m-8.5 .1h0m-8.9 .1h0m1.4 .1h0m4.1 .6h0m-6 .1h0m8.6 .3h0m6.5 .3h0m-6.7 .4h0m-.2 .1h0m-9.3 .5h0m12.7 .1h0m-1.3 .2h0m-11.5 .1h0m4.5 0h0m10.2 0h0m-2.1 1h0m-6.2 .2h0m-7.6 .7h0" stroke="#8460ba" stroke-width="1" stroke-linecap="round" fill="none" stroke-opacity="0.6"/>
<path d="M122.5 557.2h0m15.9 15.3h0m-32.9 3.4h0m38.6 2.7h0m-32 .7h0m17.3 10.4h0m-1.7 2.4h0m-13 1h0" stroke="#6340a2" stroke-width="1.3" stroke-linecap="round" fill="none" stroke-opacity="0.9"/>
</g></g>
<circle cx="124.6" cy="575.6" r="21.2" fill="none" stroke="#6d6a78" stroke-width="0.55"/>
<clipPath id="p25"><circle cx="172.9" cy="528.7" r="21.5"/></clipPath>
<circle cx="172.9" cy="528.7" r="21.5" fill="#ebe5f3"/>
<g clip-path="url(#p25)">
<g filter="url(#b10)">
<path d="M173.1 508.3h0m-2.8 .4h0m-.5 .4h0m13.3 1.3h0m-19.5 .2h0m14.9 .1h0m-15.7 .6h0m18.6 .5h0m.5 .3h0m-20.5 .2h0m7.2 .5h0m16.1 0h0m-2.8 .2h0m1.9 .7h0m-24.6 .4h0m17.4 .1h0m10.9 .2h0m-13.6 .3h0m-8.6 .4h0m-9 .4h0m31.9 .1h0m-8.3 .3h0m-2.6 .1h0m-17.8 .1h0m-1.2 .1h0m4.3 0h0m-3.8 .7h0m11.6 .2h0m-14.5 1.3h0m4.9 .1h0m5.2 0h0m-11.6 .1h0m2.5 0h0m15.8 .1h0m14.2 0h0m-8.2 .5h0m-4.4 .4h0m5.1 .8h0m-18.6 .3h0m9 .4h0m18.4 .5h0m3.9 .3h0m-20.5 .5h0m-1.8 .1h0m9.3 0h0m2.1 0h0m-21.6 .2h0m.1 0h0m17.7 1.1h0m-9.5 .4h0m16.1 .1h0m-4.6 .1h0m-19.2 .4h0m-.9 .1h0m2.2 .2h0m-8.1 .1h0m5.8 .1h0m22.2 .1h0m-.8 .4h0m9.7 0h0m-23 .4h0m25.5 .1h0m.6 0h0m-28 .5h0m16 .3h0m-2.7 .1h0m-6.7 .1h0m10.2 .1h0m2.9 .2h0m2 .1h0m-16.5 .7h0m5.1 0h0m.5 0h0m13.2 .3h0m-31.4 .1h0m11.5 .1h0m-6.2 .6h0m21.6 .1h0m-30.7 .1h0m1.2 0h0m37.9 0h0m-16.2 .1h0m3.5 .3h0m8.8 0h0m-36.7 .2h0m23.9 .7h0m-16.7 1.1h0m21.4 0h0m-7 .1h0m-6.4 .2h0m12.6 0h0m5.5 .3h0m-18.9 .2h0m16.8 0h0m-29.6 .2h0m4.4 .2h0m6.4 0h0m18.6 .1h0m-25.8 .1h0m22.9 .3h0m1.6 0h0m-15.3 .8h0m-13 .2h0m37.1 .1h0m-14.5 .3h0m-18.5 .1h0m6 .2h0m23.9 .1h0m-11.6 .1h0m2.7 .1h0m-24.1 .8h0m34.4 .9h0m-16.3 .4h0m-14.6 .2h0m19.9 0h0m3.9 0h0m-10.1 .2h0m17.8 .5h0m-14.4 .4h0m-.4 .3h0m-14.1 .2h0m1.2 .7h0m14.6 .3h0m-5 .6h0m8.2 0h0m-8.9 .2h0m10.6 0h0m-2.4 .2h0m6.5 .1h0m-23.5 .6h0m2.3 .8h0m2.6 .3h0m-8.6 .2h0m4.9 1.5h0m-1.1 .5h0m-1.1 .3h0m13.7 0h0m1.4 .4h0m-11.1 .8h0m16.9 .3h0m-17.7 .8h0m9.2 .2h0m.7 .1h0" stroke="#8460ba" stroke-width="3.75" stroke-linecap="round" fill="none" stroke-opacity="0.3"/>
</g>
<g filter="url(#b6)">
<path d="M173.1 508.3h0m-2.8 .4h0m2.1 .3h0m-2.6 .1h0m-2.4 .4h0m5.9 .2h0m7.1 0h0m2.7 .7h0m-4.6 .3h0m-15.7 .6h0m18.6 .5h0m.5 .3h0m-13.3 .7h0m-8.7 .2h0m22 0h0m-4.3 .1h0m-7.3 .2h0m2.7 .1h0m3.6 .2h0m-6.9 .2h0m4.3 0h0m-16.3 .2h0m1.5 .1h0m17.4 .1h0m10.9 .2h0m-13.6 .3h0m12.3 .3h0m-20.9 .1h0m-9 .4h0m31.9 .1h0m-8.3 .3h0m-2.6 .1h0m-17.8 .1h0m3 0h0m-4.2 .1h0m4.3 0h0m11.1 .7h0m16.5 0h0m-21.5 .2h0m1.7 0h0m4.7 .5h0m-8.6 .4h0m-7.9 .1h0m26.7 .2h0m-29.4 .1h0m4.9 .1h0m5.2 0h0m-11.6 .1h0m2.5 0h0m34.5 0h0m-18.7 .1h0m14.2 0h0m-21.6 .2h0m17.9 0h0m-16.6 .1h0m22 .1h0m-9.9 .1h0m12.1 .1h0m-8.9 .2h0m-7.6 .1h0m16.2 .4h0m-11.1 .4h0m-16.6 .1h0m-5.4 .1h0m15.6 .3h0m17 0h0m-20.2 .2h0m18.4 .5h0m3.9 .3h0m-27.5 .3h0m22.1 .1h0m-15.1 .1h0m-1.8 .1h0m11.4 0h0m-21.6 .2h0m.1 0h0m4.8 0h0m4.5 .2h0m23 .1h0m-32.1 .1h0m11.3 0h0m-13.4 .2h0m5.1 0h0m17.8 .1h0m-3.3 .4h0m-13.6 .3h0m4.1 .1h0m3.1 .2h0m8.4 0h0m-21.2 .2h0m1.1 .1h0m11.9 0h0m-11 .1h0m-.9 .1h0m-4.8 .1h0m19 0h0m5.9 0h0m-26 .2h0m1.5 0h0m4.3 .1h0m22.2 .1h0m2.6 .1h0m-32 .1h0m2.6 .2h0m7 0h0m19 0h0m5.5 0h0m4.2 0h0m-3.6 .1h0m-13.4 .1h0m17.8 0h0m-23.8 .2h0m2.1 0h0m23.4 .1h0m.6 0h0m-17.2 .1h0m-23.2 .3h0m12.4 .1h0m-5.3 .3h0m21.3 0h0m-2.7 .1h0m-6.7 .1h0m13.1 .3h0m2 .1h0m3.7 .6h0m-20.2 .1h0m2.7 0h0m2.4 0h0m.5 0h0m4.3 0h0m8.9 .3h0m-19.9 .2h0m8 0h0m10.5 0h0m5 .1h0m-28.3 .1h0m15.3 .3h0m4.9 .2h0m-30.7 .1h0m1.2 0h0m.2 0h0m25 .4h0m-27.9 .2h0m29.8 .2h0m3.4 .3h0m-21.6 .2h0m12.3 0h0m9.4 .2h0m5.2 .5h0m-24.2 .2h0m-7.1 .2h0m21.4 0h0m-7 .1h0m-5.5 .1h0m-.9 .1h0m12.6 0h0m5.5 .3h0m-18.9 .2h0m16.8 0h0m.5 0h0m6.7 .1h0m-36.8 .1h0m17.1 0h0m18.3 .1h0m-24.6 .1h0m-12.3 .1h0m5.1 .1h0m22.9 .3h0m-20.9 .6h0m28.3 .2h0m-34.1 .2h0m31.2 0h0m5.9 .1h0m-15.9 .1h0m3.9 .1h0m-21 .2h0m6 .2h0m15 .3h0m-10.9 .2h0m3.2 .1h0m-17.3 .2h0m.9 .3h0m25.9 .2h0m-9.1 .6h0m1.3 .5h0m1.5 0h0m-15.4 .1h0m-.7 .1h0m19.9 0h0m3.9 0h0m-10.1 .2h0m-15.9 .1h0m33.7 .4h0m-1.3 .2h0m-13.1 .2h0m-1.6 .1h0m1.2 .2h0m-14.1 .2h0m-6.4 .1h0m9.3 .4h0m-1.7 .2h0m14.6 .3h0m-10.7 .2h0m5.7 .4h0m8.2 0h0m-8.9 .2h0m10.6 0h0m6.8 .1h0m-9.2 .1h0m6.5 .1h0m-11.7 .2h0m-11.8 .4h0m-1.9 .8h0m.5 0h0m-2.4 .2h0m2.7 0h0m23.5 .3h0m.9 .2h0m-22.1 1.3h0m-1.8 .1h0m-.4 .7h0m13.7 0h0m-9.7 1.2h0m16.9 .3h0m-14.2 .7h0m-3.5 .1h0m9.2 .2h0m.7 .1h0m1.7 .1h0m-3.2 .5h0" stroke="#8460ba" stroke-width="1.8" stroke-linecap="round" fill="none" stroke-opacity="0.66"/>
<path d="M163.6 510.6h0m-2.2 1.7h0m23.3 .5h0m-.9 .9h0m-25 3.2h0m2 3.8h0m18.3 1.8h0m4.9 1.8h0m-22.5 .8h0m20.7 2.3h0m-24.2 1.4h0m5.3 .7h0m30 .2h0m-16.2 .1h0m12.3 .3h0m-30.7 3.2h0m25 .1h0m-1.3 .4h0m-15.3 .8h0m9.6 .6h0m11.4 .4h0m-11.6 .1h0m13 1.8h0m-24.7 5.7h0m2.6 .3h0m-8.6 .2h0m3.8 2h0m14 .7h0" stroke="#6340a2" stroke-width="2.5" stroke-linecap="round" fill="none" stroke-opacity="0.78"/>
</g><g filter="url(#b3)">
<path d="M174.3 507.5h0m-3.8 .1h0m2.5 .4h0m.1 .3h0m-.7 .1h0m-1.1 .5h0m2.4 .6h0m-.2 .2h0m-6.3 .2h0m9 .1h0m1.7 .1h0m-9.3 .6h0m12.3 .1h0m-3 .5h0m1.3 0h0m-10 .1h0m5.8 .6h0m-12.4 .4h0m-.2 .3h0m8.1 0h0m9.8 .2h0m-8 .1h0m1.3 .1h0m8.3 .3h0m-6.6 .2h0m-12.2 .2h0m19.6 .1h0m-2.4 .3h0m-22.1 .1h0m.4 0h0m15.7 0h0m4.9 .1h0m-1.9 .2h0m-8.6 .2h0m18.6 .1h0m-19.7 .2h0m1 .1h0m.8 0h0m-2.2 .5h0m21.7 .2h0m-2 .1h0m1.2 0h0m-29.3 .3h0m10.4 .1h0m-10 .1h0m12.3 0h0m17.1 0h0m-21.9 .4h0m17.5 0h0m.3 0h0m1.4 .2h0m-21.1 .3h0m8.9 .1h0m2.9 0h0m-14.9 .2h0m7.4 0h0m-13.4 .1h0m1.2 .2h0m24 0h0m-13.7 .1h0m17.6 0h0m-24.5 .3h0m-2.1 .1h0m9.9 .1h0m14.3 0h0m-8.6 .2h0m-13.5 .1h0m6 0h0m-5.1 .4h0m.7 0h0m7.4 0h0m-7.9 .1h0m2.2 0h0m17.7 0h0m-25.7 .2h0m12.6 0h0m3.9 0h0m-11.4 .1h0m13.6 0h0m-.4 .1h0m-18 .1h0m34.3 0h0m-34 .4h0m35.5 0h0m-16.6 .2h0m6.9 .2h0m5.2 0h0m-26.2 .1h0m25.8 .2h0m-20.7 .1h0m24 .4h0m-35.9 .1h0m3.5 .1h0m-4 .2h0m17.4 .1h0m17.9 .1h0m-15.3 .2h0m-17.1 .1h0m23.8 0h0m1.4 0h0m-23.5 .2h0m13.2 0h0m-6.1 .1h0m26.7 .1h0m-8.6 .1h0m7 0h0m-26.5 .1h0m3.8 0h0m10.8 0h0m-24.6 .3h0m15.4 0h0m20.3 0h0m2.5 .1h0m-22.8 .1h0m12.3 0h0m-28.8 .3h0m8.7 .2h0m-6.1 .1h0m.5 0h0m3.7 0h0m10.8 0h0m17.2 .1h0m.5 0h0m-33.7 .2h0m26.3 .1h0m-28 .1h0m.7 .1h0m35.7 0h0m-28.4 .4h0m26.6 .2h0m.6 0h0m-4.4 .1h0m-5 .1h0m10.3 .1h0m-22.7 .2h0m21.6 0h0m6 0h0m-19 .2h0m-10 .1h0m22.7 0h0m-15.2 .1h0m18.5 .3h0m-1.3 .1h0m4.3 0h0m-35.9 .1h0m13.2 .1h0m1.9 0h0m6.1 .1h0m-7.1 .1h0m8.4 0h0m-25.2 .1h0m11.9 0h0m13.8 0h0m4.3 0h0m-4.2 .2h0m-24.4 .1h0m16.8 0h0m19.4 .3h0m-27.9 .1h0m-6.3 .1h0m12.3 0h0m8 0h0m10.9 .6h0m-23.5 .1h0m2.1 .1h0m-.9 .1h0m-13.3 .1h0m-2.5 .2h0m35.5 0h0m2.6 0h0m-22.6 .2h0m1.7 0h0m4.8 0h0m1 .2h0m-10.3 .3h0m10.1 .1h0m-20.1 .1h0m22.3 .1h0m.1 .1h0m15.2 0h0m-37.4 .1h0m7.5 0h0m-9.7 .2h0m24.6 .2h0m4.8 0h0m10.5 0h0m-23.2 .1h0m.6 0h0m2.5 .1h0m-.7 .1h0m15.4 0h0m-32.8 .1h0m13.2 0h0m17.9 0h0m-21.3 .3h0m.8 0h0m23.2 0h0m-33 .1h0m4.1 0h0m3.3 0h0m26.8 0h0m.5 .1h0m-23.7 .2h0m-1.4 .1h0m-1.5 .2h0m-6.8 .1h0m14.4 0h0m11.1 .1h0m-19.7 .2h0m-5.5 .1h0m1.8 .1h0m28.8 0h0m-17.5 .3h0m6.9 .3h0m9.9 .1h0m6.7 0h0m-11.8 .1h0m5.7 0h0m-11.3 .2h0m-22.5 .1h0m2.6 0h0m26 0h0m-27.8 .2h0m15.3 0h0m3 .3h0m15.4 0h0m-16.7 .1h0m5.9 .1h0m-7.7 .1h0m-9.1 .1h0m21.4 .1h0m-18.1 .2h0m17.6 0h0m4.6 0h0m-18.7 .2h0m22 .1h0m-16.2 .1h0m19.2 .2h0m-7.5 .2h0m-19.7 .3h0m-9 .1h0m25.5 0h0m-16.4 .3h0m22.7 .2h0m3.4 .3h0m-6.8 .1h0m-16.4 .1h0m22.6 .1h0m-29.4 .3h0m-5.8 .2h0m17.2 .3h0m17.2 .4h0m-25.4 .2h0m4.8 .4h0m20.6 .1h0m-30.8 .1h0m21.5 0h0m-12.7 .1h0m.5 0h0m22.7 .1h0m-32.5 .2h0m12.2 0h0m-14 .1h0m.8 .1h0m4 0h0m20.2 .2h0m8.7 0h0m-4.5 .2h0m-28.2 .7h0m21.1 0h0m-11.8 .1h0m18.1 0h0m-7 .1h0m-5.4 .1h0m6 .1h0m-20.9 .1h0m.2 0h0m6.1 .1h0m3.7 .1h0m-2.3 .2h0m20.3 .2h0m-1.5 .2h0m-11.4 .4h0m12.4 .1h0m.8 0h0m-27.6 .5h0m12.2 0h0m-4.1 .1h0m14.2 0h0m-.4 .4h0m-20.6 .4h0m1.6 .1h0m8.6 0h0m2.4 0h0m4.1 0h0m4.3 .1h0m-14.1 .1h0m5.6 .3h0m-3.7 .1h0m14.5 .2h0m-18.4 .1h0m15.7 0h0m-19.5 .1h0m13.9 .4h0m7.1 .2h0m-2.2 .1h0m-14.6 .1h0m2.7 .4h0m8.3 0h0m-8.1 .3h0m2 0h0m-2 .1h0m12.9 .1h0m-6.5 .1h0m-7.9 .1h0m8.7 .1h0m-10.8 .1h0m16.7 0h0m-7.2 .1h0m.5 0h0m-7.4 .4h0m12 0h0m-1.3 .2h0m-10.6 .1h0m6.3 .3h0m3.4 .1h0m-7.4 .1h0m4.9 .2h0m4.8 0h0m-4.9 .6h0" stroke="#8460ba" stroke-width="1" stroke-linecap="round" fill="none" stroke-opacity="0.6"/>
<path d="M184.7 512.8h0m-.9 .9h0m-23 7h0m18.3 1.8h0m4.9 1.8h0m-22.5 .8h0m20.7 2.3h0m1.5 6h0m-1.3 .4h0m-15.3 .8h0m21 1h0m-11.6 .1h0m-11.7 7.5h0m-6 .5h0" stroke="#6340a2" stroke-width="1.3" stroke-linecap="round" fill="none" stroke-opacity="0.9"/>
</g></g>
<circle cx="172.9" cy="528.7" r="21.2" fill="none" stroke="#6d6a78" stroke-width="0.55"/>
<clipPath id="p26"><circle cx="172.9" cy="575.6" r="21.5"/></clipPath>
<circle cx="172.9" cy="575.6" r="21.5" fill="#efebf4"/>
<g clip-path="url(#p26)">
<g filter="url(#b10)">
<path d="M174.6 555.3h0m-6.3 .1h0m2.1 .4h0m11.4 1h0m.3 .6h0m.5 .7h0m.4 .6h0m-19.2 .7h0m-1 .2h0m1.5 0h0m19.3 1.6h0m-13.2 1.4h0m2.7 .6h0m1 .3h0m-13 .3h0m22 .1h0m3.9 .9h0m3.3 .2h0m-32.8 .7h0m.6 0h0m19.3 .2h0m11.8 0h0m-20.6 .1h0m-7.3 .1h0m-5.6 .1h0m13.9 .3h0m13 0h0m8.5 .1h0m-27.5 .1h0m12.7 .2h0m7.5 .2h0m-17.9 .1h0m18.6 0h0m-2.4 .3h0m-17.8 .2h0m4.2 .3h0m22.1 .1h0m-25.5 .1h0m21.5 .1h0m-14.6 .3h0m-1 .1h0m22 .9h0m-1.4 .3h0m-15.9 .2h0m-22.4 .1h0m34 .1h0m-28.9 .1h0m8.6 .4h0m15.7 .2h0m-27.3 .2h0m2.5 1.8h0m-3.6 .3h0m.2 0h0m39.5 .6h0m-30.3 .8h0m-.2 1.1h0m10 .3h0m-4.2 .7h0m1.4 0h0m1 .4h0m11.1 .5h0m3.7 0h0m-29.6 .1h0m2.1 .7h0m3.3 .3h0m-5.4 .1h0m31.5 0h0m-9.9 .1h0m3.3 1h0m-15.1 .2h0m18.7 1.2h0m-15.9 .1h0m9.3 .1h0m-8.7 .1h0m-3 .2h0m-.6 .2h0m23.2 0h0m-16.7 .1h0m18.7 .1h0m-38.4 .1h0m32.9 .4h0m-4.3 .1h0m5.2 .1h0m-7.4 .1h0m10.7 .8h0m-36.5 .3h0m14.8 .1h0m-2.7 .9h0m15.5 .8h0m.1 1h0m-4.6 .2h0m5.9 .7h0m-25.2 .1h0m-.4 .2h0m2 .5h0m.3 0h0m11 .5h0m3.1 .1h0m-10.8 .5h0m11.8 .1h0m10.9 .2h0m-1.8 .2h0m-6.7 .3h0m2.7 2.1h0m-8.3 .9h0m2.3 1.2h0m-5.6 .7h0" stroke="#8460ba" stroke-width="3.75" stroke-linecap="round" fill="none" stroke-opacity="0.3"/>
</g>
<g filter="url(#b6)">
<path d="M174.6 555.3h0m-4.2 .5h0m6.6 .3h0m4.8 .7h0m-14.6 .1h0m13.4 .5h0m1.5 0h0m-19.4 .5h0m20.3 .8h0m-8.7 .1h0m-10.2 .4h0m.1 0h0m-.4 .2h0m17.5 .1h0m-18.5 .1h0m1.5 0h0m-2.2 .9h0m21.5 .7h0m.1 .1h0m-13.3 1.3h0m2.7 .6h0m5.6 .1h0m-4.6 .2h0m14.9 0h0m-27.9 .3h0m-4.2 .6h0m30.1 .4h0m3.3 .2h0m-25.7 .5h0m-6.5 .2h0m19.3 .2h0m11.8 0h0m-30.5 .1h0m9.9 0h0m-12.9 .2h0m26.9 .3h0m-11.5 .1h0m20 0h0m-27.5 .1h0m12.7 .2h0m-21.3 .1h0m10.9 .2h0m18.6 0h0m-20.2 .5h0m4.2 .3h0m22.1 .1h0m-27.3 .1h0m1.8 0h0m12.2 .1h0m9.3 0h0m-14.6 .3h0m-1 .1h0m2.4 .4h0m-3.8 .3h0m22.6 .1h0m-3.6 .3h0m3 .1h0m-7.6 .1h0m-19.7 .1h0m11.4 0h0m11.6 .2h0m-28.9 .1h0m33.2 .2h0m-8.9 .4h0m-29.4 .3h0m27.6 0h0m.8 .8h0m-13.7 .1h0m16.9 .1h0m-15.4 .2h0m-16.9 .7h0m1.7 .1h0m.2 0h0m17.5 .1h0m-9.2 .1h0m22.8 .1h0m6 0h0m-1 .2h0m-22 .4h0m6.6 .3h0m-11.5 .2h0m15.3 0h0m4 0h0m-22.6 .1h0m17.3 .2h0m-14.2 .8h0m10 .3h0m2.8 .4h0m-7 .3h0m2.4 .4h0m3.6 0h0m11.9 .2h0m-22.9 .1h0m18.5 .2h0m3.7 0h0m-29.6 .1h0m2.1 .7h0m13.7 .1h0m6.8 0h0m-17.2 .2h0m-5.4 .1h0m31.5 0h0m4.6 0h0m-14.5 .1h0m-7.4 .7h0m14.4 .1h0m-26.5 .2h0m-5.4 .1h0m13.1 .1h0m24.6 .4h0m-19.9 .1h0m9.4 0h0m-18.1 .1h0m-5 .3h0m5 0h0m22.7 .3h0m-15.9 .1h0m.6 .2h0m-3 .2h0m-.6 .2h0m6.5 .1h0m18.7 .1h0m-38.4 .1h0m33.3 .1h0m-.4 .3h0m-17.5 .1h0m18.4 .1h0m-7.4 .1h0m1 0h0m9.7 .8h0m-36.5 .3h0m14.8 .1h0m-5.9 .2h0m10 .5h0m6.5 .3h0m4.8 .4h0m-2.6 .3h0m5.2 .2h0m-28.9 .4h0m23.8 .4h0m-4.6 .2h0m5.9 .7h0m-25.2 .1h0m12.3 .1h0m-12.7 .1h0m2.3 .5h0m8.3 .3h0m18 .1h0m-16.4 .2h0m14.1 .2h0m-20.7 .3h0m11.8 .1h0m10.9 .2h0m-1.8 .2h0m-22.6 .1h0m15.9 .2h0m-15.5 .7h0m5.8 .5h0m5.4 .4h0m-1.3 1.4h0m2 0h0m3.5 .1h0m-9.3 .5h0m6.1 .6h0m-5.6 .7h0" stroke="#8460ba" stroke-width="1.8" stroke-linecap="round" fill="none" stroke-opacity="0.66"/>
<path d="M168.3 555.4h0m14.3 2.7h0m.5 5.8h0m-25.6 1.8h0m3.8 .4h0m8.3 .4h0m14.2 .6h0m-1.7 .4h0m10.9 2.1h0m-39.7 .6h0m13.7 .6h0m-11.6 .4h0m2.5 1.8h0m36.1 .9h0m-23.3 2.9h0m11.1 3.2h0m-3 1.6h0m10.9 .5h0m-7.8 .8h0m-15.9 2.3h0m-6.7 3.5h0m11.3 .5h0m3.1 .1h0m6.1 3.4h0" stroke="#6340a2" stroke-width="2.5" stroke-linecap="round" fill="none" stroke-opacity="0.78"/>
</g><g filter="url(#b3)">
<path d="M173 554.9h0m.4 .4h0m.6 .4h0m4.5 .4h0m-10.5 .2h0m-1.5 .3h0m11 .1h0m-8.1 .5h0m6.6 0h0m.6 .1h0m3.1 .3h0m3.6 .1h0m-19.2 .3h0m14.8 0h0m-16.8 .2h0m.6 .2h0m10.7 0h0m5.8 .2h0m-1.1 .2h0m-15.8 .1h0m13.8 .5h0m-8.7 .1h0m16.5 .2h0m.5 0h0m-6.1 .2h0m1.2 0h0m-19.6 .3h0m13.9 .1h0m-9.6 .1h0m20.5 .1h0m-23.8 .5h0m12.6 0h0m-12.2 .2h0m16.8 .1h0m-4.7 .3h0m9.3 .1h0m-22.8 .1h0m6.1 0h0m15.1 0h0m-.7 .1h0m-16.6 .2h0m18.7 0h0m-21.9 .2h0m25.7 0h0m2.4 .1h0m-14.8 .1h0m-14.7 .1h0m13.3 0h0m16.4 0h0m-12.4 .2h0m11.6 0h0m-18.6 .6h0m20.2 0h0m-6.5 .4h0m-2.9 .1h0m-25.3 .5h0m31.4 .2h0m-19.5 .4h0m22.6 0h0m-26.7 .5h0m-8 .1h0m19.3 0h0m-8 .1h0m21.7 .1h0m-5.4 .2h0m.7 0h0m1 0h0m-19.7 .1h0m12.1 .1h0m-11.8 .1h0m2.4 0h0m-6.4 .1h0m3.6 .6h0m4.3 0h0m18.7 .6h0m2.5 0h0m-12.7 .6h0m4.5 0h0m-9 1.1h0m1.4 0h0m-9.9 .1h0m7.9 .3h0m-5.7 .1h0m-1.6 .1h0m19.6 .2h0m-25 .2h0m5.3 .2h0m-.1 .1h0m24.2 .3h0m-34.7 .1h0m37.5 .1h0m-28.4 .3h0m-1.7 .3h0m5.5 0h0m9.2 .2h0m-21 .2h0m2.9 0h0m15.1 0h0m1.3 0h0m19.3 .1h0m-21 .1h0m15.4 0h0m3.5 0h0m-.2 .1h0m-4.9 .1h0m3.2 0h0m-9.7 .3h0m-5.3 .2h0m2.4 0h0m-16.8 .1h0m19.1 0h0m-24.5 .2h0m-1.7 .3h0m6.4 0h0m-7 .1h0m18.9 0h0m22.2 .1h0m-18.1 .1h0m-.6 .1h0m-1.6 .1h0m-15.8 .1h0m26.1 0h0m-31.8 .1h0m9.6 .5h0m-7.2 .5h0m23.2 0h0m-10.7 .2h0m3.5 0h0m17.3 0h0m-32.7 .7h0m2.2 0h0m7.1 0h0m-9.6 .2h0m13 0h0m-13.2 .2h0m9 0h0m10.6 0h0m11.9 0h0m-20.1 .3h0m-3.8 .2h0m30.5 .1h0m-25.4 .2h0m-10.6 .1h0m15.4 .3h0m-19.6 .4h0m32.5 0h0m1.3 .1h0m-1.2 .2h0m3.3 .1h0m-1 .1h0m-4.8 .1h0m3 0h0m-10.9 .1h0m-11.1 .5h0m9.7 0h0m-19.5 .3h0m30.1 0h0m-6.2 .2h0m-15.3 .3h0m.2 0h0m-9.2 .2h0m36.8 0h0m-18.4 .4h0m-6 .3h0m17.8 .2h0m-29.1 .3h0m12.7 0h0m8.2 0h0m-1.6 .1h0m-1 .1h0m17.7 .2h0m-22.8 .1h0m24.7 0h0m-.1 .1h0m-11.4 .2h0m-25.5 .1h0m36.3 .1h0m-33 .1h0m15.6 .2h0m-12.6 .1h0m1.7 .3h0m21.8 .1h0m-5.3 .1h0m12.2 0h0m-34.9 .3h0m35 0h0m-31.6 .3h0m10 .1h0m12.4 0h0m-18.6 .2h0m10.1 .3h0m14.8 0h0m-24.8 .3h0m23.8 .1h0m-22.5 .1h0m3.4 0h0m1.5 0h0m15.9 .1h0m-27.9 .1h0m20 .1h0m-22 .8h0m27 .1h0m.9 0h0m4 0h0m-5.9 .1h0m-12.2 .3h0m-5.6 .1h0m15.6 0h0m-4.3 .2h0m1.5 .1h0m4.3 .1h0m-20.3 .3h0m14.9 0h0m9.6 .1h0m-1.4 .3h0m-3.1 .4h0m7.6 .1h0m-20.1 .2h0m4.1 0h0m-2.5 .4h0m17.8 0h0m.7 .1h0m-30.2 .1h0m1.9 0h0m-2.9 .4h0m24.8 .7h0m-20.1 .1h0m22.7 .1h0m-10.4 .2h0m-15.2 .1h0m8.1 .3h0m13.3 0h0m-16.2 .1h0m13.2 0h0m-4 .1h0m-13.8 .1h0m24.1 .1h0m-22.1 .4h0m20.1 .2h0m3.5 0h0m-9.9 .1h0m5.5 .1h0m3.1 0h0m-13.7 .1h0m2.1 .1h0m-4.7 .7h0m-2.8 .2h0m5.7 .1h0m.2 0h0m-7.7 .1h0m13.7 .4h0m4.7 .1h0m-8.3 .1h0m-3.4 .3h0m1.3 0h0m.2 .1h0m-7.6 .1h0m14.7 0h0m-.8 .6h0m-3.7 .3h0" stroke="#8460ba" stroke-width="1" stroke-linecap="round" fill="none" stroke-opacity="0.6"/>
<path d="M168.3 555.4h0m14.3 2.7h0m-.5 9.4h0m10.9 2.1h0m-39.7 .6h0m13.7 .6h0m-9.1 2.2h0m36.1 .9h0m-4.3 8.2h0m-7.8 .8h0m-15.9 2.3h0m13.8 7.5h0" stroke="#6340a2" stroke-width="1.3" stroke-linecap="round" fill="none" stroke-opacity="0.9"/>
</g></g>
<circle cx="172.9" cy="575.6" r="21.2" fill="none" stroke="#6d6a78" stroke-width="0.55"/>
<clipPath id="p27"><circle cx="221.4" cy="528.7" r="21.5"/></clipPath>
<circle cx="221.4" cy="528.7" r="21.5" fill="#ebe5f3"/>
<g clip-path="url(#p27)">
<g filter="url(#b10)">
<path d="M220.4 508.2h0m-2.5 .8h0m-.3 .5h0m-.4 .6h0m5.4 0h0m-8 .4h0m15.1 1.1h0m1.5 .3h0m-11.7 1.1h0m-6.7 .6h0m-6.6 .2h0m14.4 .6h0m11.4 0h0m1.7 .1h0m-25.4 .6h0m14.6 .2h0m-9.7 .1h0m12.5 .5h0m-16.2 .3h0m22.2 .5h0m-15.7 .7h0m7.6 0h0m8.3 .6h0m-28.3 .3h0m3.4 .1h0m-1.1 .1h0m32.9 .1h0m-25.4 .3h0m3 1.3h0m16.8 .3h0m-3.5 .1h0m-9.3 .4h0m-11.1 .4h0m.2 .2h0m26.8 .2h0m-31.7 .1h0m19.8 0h0m-5.4 .3h0m-12.9 .3h0m10.8 0h0m-8 .4h0m-6.3 .1h0m35.9 0h0m-36.4 .4h0m30.8 .5h0m-11.6 .2h0m8.9 0h0m-6.8 .7h0m9.5 .4h0m6.3 .2h0m-34.4 .4h0m32.3 0h0m-16.4 .5h0m12.1 .2h0m7.5 .1h0m-38.7 .3h0m1 0h0m6 .3h0m14.2 .6h0m16.4 .3h0m-36.1 .4h0m-.5 .3h0m19 1.1h0m13.2 0h0m4 .2h0m-29.4 .6h0m26.2 .1h0m5.3 0h0m-35.9 .2h0m14.1 .1h0m-8.9 .1h0m3.3 0h0m-4.5 .5h0m7.6 .5h0m-9.9 .2h0m6.9 .9h0m9 .2h0m-21.1 .3h0m39.6 0h0m-26.2 .2h0m24.3 .1h0m-15.5 .2h0m-21.6 .3h0m15.3 .1h0m16.5 0h0m-29.7 .1h0m7.2 0h0m24.9 .3h0m-8.4 .1h0m-5.4 .1h0m-15.8 .8h0m26.4 .1h0m-28.7 .4h0m18.3 .1h0m-6.9 .1h0m19.2 0h0m-33.1 .1h0m8.2 .6h0m29.3 0h0m-24.6 .5h0m8.3 0h0m-20.6 .1h0m15.1 .1h0m-4 .2h0m.1 0h0m16.6 .2h0m9.2 0h0m-34 .8h0m27.1 .9h0m-26.9 .2h0m-.9 .5h0m26.9 .4h0m-9.8 .5h0m13 .1h0m.2 .2h0m-15.8 .1h0m15.3 .1h0m-8.7 .2h0m6.8 .1h0m-22.3 2.1h0m13.7 .2h0m-14.4 1.1h0m.6 .2h0m11.4 .3h0m-8.6 .1h0m9.1 .1h0m3.4 0h0m-6.3 1h0m-4.9 .7h0m8 1h0m.6 0h0" stroke="#8460ba" stroke-width="3.75" stroke-linecap="round" fill="none" stroke-opacity="0.3"/>
</g>
<g filter="url(#b6)">
<path d="M220.4 508.2h0m-2.5 .8h0m.3 .1h0m-.6 .4h0m-4.6 .2h0m3.7 .4h0m.5 0h0m10.2 .1h0m-8.1 .2h0m-4.7 .1h0m15.5 .1h0m.3 .4h0m-.7 .6h0m-3.1 .1h0m4.6 .2h0m-6.3 .8h0m-16.2 .7h0m4.1 .2h0m-6.6 .2h0m14.4 .6h0m13.1 .1h0m-25.4 .6h0m14.6 .2h0m-9.7 .1h0m12.5 .5h0m-7.6 .1h0m-8.6 .2h0m20.8 0h0m-17.9 .2h0m19.3 .3h0m-27.5 .4h0m21.1 .2h0m-9.3 .1h0m7.6 0h0m7 .3h0m1.3 .3h0m-1.7 .2h0m-26.6 .1h0m7.5 0h0m-4.1 .1h0m23.7 0h0m-24.8 .1h0m32.9 .1h0m-.3 .2h0m-25.1 .1h0m26.1 1.1h0m-23.1 .2h0m11.3 0h0m10.5 .1h0m.5 .1h0m-5.5 .1h0m3.8 .3h0m-16.6 .2h0m-11.1 .4h0m-1.8 .2h0m2 0h0m26.8 .2h0m-31.7 .1h0m19.8 0h0m-13.5 .2h0m-8.3 .4h0m3.5 0h0m2 0h0m8.8 0h0m-14.3 .5h0m35.9 0h0m2.8 .1h0m-39.2 .3h0m.1 .1h0m3.7 .2h0m27 .2h0m-17 .1h0m6.8 0h0m-1.4 .1h0m16.5 .3h0m-17.2 .3h0m2.8 .1h0m.6 0h0m.9 .1h0m8 .3h0m6.3 .2h0m-7.1 .2h0m-26.5 .1h0m-.8 .1h0m14.4 0h0m-13.2 .1h0m10.7 .2h0m4 .2h0m12.1 .2h0m7.5 .1h0m-38.7 .3h0m1 0h0m26.2 0h0m-20.2 .3h0m8.3 .1h0m-11.1 .1h0m34.6 0h0m-33.8 .3h0m17.5 0h0m-1.3 .1h0m-8.5 .1h0m6.6 .3h0m1.4 .2h0m-19.2 .1h0m-.5 .3h0m7.4 .9h0m18.2 0h0m-6.6 .2h0m13.2 0h0m-3.5 .1h0m7.5 .1h0m-35.9 .1h0m2.6 .2h0m-4.8 .3h0m8.7 0h0m26.2 .1h0m3.7 0h0m1.6 0h0m-35.9 .2h0m14.1 .1h0m-8.9 .1h0m3.3 0h0m27.8 .1h0m-7 .1h0m-25.3 .3h0m.1 0h0m-5.1 .4h0m.7 .1h0m11.9 0h0m-9.9 .2h0m3.5 0h0m4 0h0m11 .3h0m14.7 .5h0m-26.3 .1h0m2.7 0h0m20.7 0h0m-14.4 .2h0m-21.1 .3h0m13.4 .2h0m26.1 0h0m-1.8 .1h0m-28.1 .2h0m12.6 0h0m-21.6 .3h0m15.3 .1h0m-13.2 .1h0m7.2 0h0m24.9 .3h0m-8.4 .1h0m-5.4 .1h0m5.6 .1h0m-21.4 .7h0m16.5 .3h0m-2.3 .2h0m1.8 .1h0m-6.9 .1h0m-13.9 .1h0m8.2 .6h0m-7 .1h0m36 0h0m-2.4 .3h0m-21.9 .1h0m-12.3 .1h0m11.2 .3h0m16.6 .2h0m9.2 0h0m-11.9 .1h0m2.5 0h0m9.2 .2h0m-13.5 .1h0m-20.3 .4h0m11.5 0h0m17.6 .1h0m-1.9 .4h0m-27.1 .1h0m.4 .4h0m6.3 0h0m-6.6 .1h0m17.4 .6h0m8.6 .3h0m-9.8 .5h0m13 .1h0m.2 .2h0m-20.1 .1h0m4.3 0h0m-6.9 .3h0m6.5 0h0m7 0h0m1.5 .1h0m5.3 0h0m-21.5 .2h0m-3.3 .2h0m2.1 1.3h0m.4 .4h0m23.7 .1h0m-10 .1h0m-9.2 .6h0m11.3 .2h0m-7.6 .2h0m-1.5 .2h0m11.5 0h0m-6.9 .4h0m-8.6 .1h0m9.1 .1h0m3.4 0h0m-5.6 .3h0m-.7 .7h0m4.5 1h0m-2.7 .3h0" stroke="#8460ba" stroke-width="1.8" stroke-linecap="round" fill="none" stroke-opacity="0.66"/>
<path d="M222.6 510.1h0m-3.1 2.9h0m12.5 1.4h0m-2.3 6.2h0m-10.7 1.6h0m-10.1 .7h0m21.3 1.2h0m6.9 1.7h0m2.1 2.3h0m1.9 5.7h0m-7.2 .9h0m-.8 1.5h0m-28.7 .4h0m30.6 .2h0m4.4 .7h0m-16.3 .5h0m-5.5 .2h0m-4 .2h0m19 1.9h0m-27.8 .7h0m29.8 1.4h0m-24.9 3.7h0m.6 .2h0m4.1 2.2h0m8 1h0m.6 0h0" stroke="#6340a2" stroke-width="2.5" stroke-linecap="round" fill="none" stroke-opacity="0.78"/>
</g><g filter="url(#b3)">
<path d="M217.8 508.4h0m-.5 .3h0m-3.1 .5h0m9.1 0h0m-8.8 .2h0m2.8 0h0m3.9 .3h0m-8.3 .3h0m10.3 .2h0m3.6 .3h0m-3.7 .2h0m6.6 0h0m-17.6 .1h0m15.3 .2h0m4.8 .1h0m-10.1 .3h0m6.3 .1h0m-19 .1h0m7.6 .2h0m9 0h0m6.9 0h0m-.8 .2h0m2.9 .3h0m-20.6 .1h0m7.6 .2h0m12 .1h0m-25.3 .3h0m2.6 .1h0m-1.8 .1h0m23.5 0h0m-13.2 .4h0m8.5 .7h0m4.6 0h0m-19.7 .1h0m8.7 0h0m-13.3 .4h0m25.8 .1h0m-7.2 .1h0m-13.2 .1h0m5.7 0h0m10.7 .1h0m-23 .1h0m12.1 0h0m14.4 .1h0m1.3 0h0m-6.2 .2h0m-19.6 .2h0m4.6 0h0m7.9 .1h0m-8.8 .1h0m2 .1h0m-.9 .7h0m22.9 .2h0m-24.8 .2h0m25.1 .2h0m-11.4 .2h0m-9.3 .1h0m-1.7 .6h0m-10.7 .1h0m17 .1h0m2.7 0h0m-5.7 .2h0m-.7 .2h0m9.4 .2h0m10.4 0h0m-30.6 .3h0m-2.7 .1h0m4.3 .3h0m31 .1h0m1.3 .1h0m-29.2 .1h0m6 0h0m-7.4 .1h0m-5.2 .1h0m19.5 0h0m7.4 0h0m4.5 0h0m-13.5 .3h0m-18.3 .1h0m32.1 .1h0m-24.5 .2h0m19.5 0h0m2.2 0h0m-9.8 .2h0m3.8 0h0m8.3 0h0m3.6 .1h0m-5.9 .1h0m-15.3 .1h0m10.6 .1h0m-24.4 .4h0m11.3 .2h0m-9.3 .1h0m3.5 .2h0m25.7 0h0m-32.7 .1h0m14.2 .2h0m18.1 .4h0m-17.6 .2h0m10.7 .2h0m-14.2 .1h0m.2 .2h0m2.7 .1h0m21.3 .1h0m-32.7 .2h0m32.3 0h0m-4.7 .3h0m-21.5 .2h0m-9.9 .3h0m7.5 0h0m3 0h0m18 0h0m-27.6 .1h0m14.5 .1h0m6.4 .1h0m17 0h0m-16.9 .3h0m6.2 0h0m-29.8 .1h0m37 0h0m-13.5 .1h0m18 .1h0m-41.1 .1h0m26 0h0m-2.3 .1h0m-4.7 .1h0m10.3 .1h0m-22.5 .3h0m21 .1h0m-22 .3h0m25.9 0h0m-24.1 .1h0m-.3 .1h0m-6.9 .1h0m30.2 0h0m-29.9 .1h0m24.4 0h0m-20 .1h0m25.2 .1h0m-23.8 .4h0m31.9 0h0m-11.3 .1h0m4.1 .1h0m8.9 0h0m-39.1 .1h0m31.8 .4h0m5 0h0m-37.7 .1h0m1.4 .1h0m8.6 0h0m-4.5 .2h0m33.8 0h0m-16.1 .1h0m-19.6 .4h0m12.6 0h0m23.1 .3h0m-18.9 .1h0m5.9 0h0m-13.8 .3h0m.5 0h0m14.9 0h0m-23.9 .1h0m8.9 0h0m14.2 0h0m2.4 0h0m.5 0h0m-27.6 .1h0m13.6 .2h0m-3.5 .1h0m5.2 .1h0m6.9 .2h0m-24.9 .2h0m6.9 .6h0m33.9 0h0m.6 0h0m-.3 .1h0m-38.2 .1h0m20.2 .4h0m-14.6 .1h0m10.6 0h0m9.7 0h0m-26.6 .1h0m-1.4 .2h0m6.5 .1h0m4.2 .1h0m-10 .1h0m7.8 0h0m10.2 .1h0m13.3 0h0m-20.2 .1h0m19 .2h0m-30.7 .1h0m.3 0h0m9.5 .2h0m19.5 .1h0m-18.2 .2h0m7.1 0h0m1.2 .1h0m14.2 0h0m-16.1 .3h0m6.3 0h0m14.1 0h0m.4 .1h0m-9.9 .2h0m-13.4 .2h0m13.1 0h0m3 0h0m2.5 .1h0m-30.7 .1h0m9.7 0h0m-5.4 .2h0m-6.1 .3h0m4.9 0h0m-1.7 .6h0m-3.2 .1h0m29.8 .1h0m-16.9 .1h0m6 0h0m2.7 .1h0m-11.5 .4h0m17.3 .3h0m-13 .1h0m-11.9 .1h0m29.1 0h0m3 0h0m-33.3 .1h0m.3 .1h0m31.9 0h0m-7.7 .1h0m10.3 0h0m-19.2 .4h0m9.1 0h0m5.5 0h0m-24.8 .2h0m-1.4 .1h0m24.1 0h0m-28.6 .1h0m6.8 0h0m15.4 .2h0m-8.6 .2h0m13.9 0h0m-17.4 .1h0m-3.2 .1h0m28.1 0h0m-4.6 .2h0m.5 .2h0m1 0h0m-.2 .1h0m3 .4h0m-15.7 .2h0m5.4 0h0m-3.5 .1h0m5.3 0h0m-6.4 .2h0m-19.1 .2h0m17.7 0h0m10.2 .1h0m3.1 0h0m-24.5 .1h0m5.3 0h0m20 .3h0m-2.4 .1h0m-13.7 .2h0m-4.4 .1h0m4.3 0h0m-10.6 .1h0m3 0h0m.7 0h0m15.6 .1h0m-15.4 .1h0m18.3 0h0m-20.1 .1h0m15.7 .2h0m-18.5 .2h0m20.7 0h0m-20.5 .3h0m24.7 0h0m-26.6 .3h0m13.3 .5h0m-2.2 .2h0m1.2 0h0m10.3 0h0m-6.8 .2h0m5.4 0h0m5.1 0h0m-24.9 .4h0m6.8 .1h0m6.4 .1h0m-11.5 .1h0m4.2 0h0m-2.4 .3h0m.6 0h0m-1.9 .6h0m.8 .7h0m16.1 0h0m-14.4 .2h0m14 0h0m-2 .2h0m4.3 0h0m-10.1 .1h0m4.5 0h0m6.4 .1h0m-.3 .3h0m-10.6 .2h0m8.3 .1h0m-8.4 .3h0m-3.7 .4h0m10.9 0h0m-7.2 .3h0m-.3 .4h0" stroke="#8460ba" stroke-width="1" stroke-linecap="round" fill="none" stroke-opacity="0.6"/>
<path d="M219.5 513h0m12.5 1.4h0m-1.8 9.7h0m6.9 1.7h0m4 8h0m-7.2 .9h0m5.5 2.8h0m-6.8 2.8h0m-27.8 .7h0m29.8 1.4h0m-24.9 3.7h0m4.7 2.4h0m8.6 1h0" stroke="#6340a2" stroke-width="1.3" stroke-linecap="round" fill="none" stroke-opacity="0.9"/>
</g></g>
<circle cx="221.4" cy="528.7" r="21.2" fill="none" stroke="#6d6a78" stroke-width="0.55"/>
<clipPath id="p28"><circle cx="221.4" cy="575.6" r="21.5"/></clipPath>
<circle cx="221.4" cy="575.6" r="21.5" fill="#efebf4"/>
<g clip-path="url(#p28)">
<g filter="url(#b10)">
<path d="M223 557.1h0m-11.2 1.1h0m2.7 1.7h0m18.2 .1h0m2.1 1h0m-.5 .2h0m-18.2 .7h0m-5.5 .5h0m12.9 .2h0m4.2 .3h0m1.9 .7h0m-21.2 .5h0m11.6 .1h0m4.5 .7h0m3 0h0m-8.1 .6h0m-5.6 .7h0m-11.1 .7h0m30.9 .7h0m6.3 .4h0m-23.3 .5h0m-13.3 .7h0m1.6 .2h0m12.5 .2h0m2 .2h0m20.8 .2h0m-10.4 .4h0m-.3 .4h0m-17 2h0m-9.6 1h0m39.2 .2h0m-12.2 .6h0m-2.7 .5h0m-12.9 .2h0m-4.1 .7h0m27.2 .6h0m-27.7 .7h0m18.9 0h0m-.7 1.5h0m-26.9 .2h0m7.6 .5h0m5.2 .2h0m-4.6 .8h0m21.2 0h0m-.4 .2h0m-8.7 2.1h0m-14.7 .3h0m28.4 .2h0m-16.6 .9h0m7.8 0h0m-6.7 .1h0m-7.5 .3h0m18.8 .2h0m-26.8 .8h0m26.9 .1h0m-12.5 .5h0m.7 .2h0m18.9 .1h0m-3.5 .9h0m-14.8 .7h0m-3.5 .4h0m-7 1.4h0m-.8 .4h0m7.2 1.3h0m8.3 .1h0m-13.8 .4h0m8.2 0h0m-8.6 .1h0m3.4 .3h0m-2.9 .3h0m10.5 0h0m-7.9 1.4h0m3.3 0h0m4.1 .2h0m-6.4 .1h0m4.3 .7h0m4.7 0h0" stroke="#8460ba" stroke-width="3.75" stroke-linecap="round" fill="none" stroke-opacity="0.3"/>
</g>
<g filter="url(#b6)">
<path d="M226.2 555.7h0m2 .8h0m-3.6 .2h0m-.2 .2h0m-1.4 .2h0m-6.4 .2h0m.3 .9h0m2.9 1.1h0m-5.3 .6h0m18.2 .1h0m-.7 .3h0m-22.6 .6h0m-2.8 .1h0m28.2 0h0m-.5 .2h0m-2.9 .2h0m-4.9 .4h0m-10.4 .1h0m8.2 0h0m-13.7 .5h0m4.3 0h0m-1.6 .1h0m10.2 .1h0m4.2 .3h0m1.9 .7h0m-21.2 .5h0m11.6 .1h0m4.5 .7h0m.2 .5h0m-5.3 .1h0m7.3 0h0m9.8 0h0m-28.5 .1h0m5.8 .6h0m-11.1 .7h0m4.9 .9h0m32.3 .2h0m-18.7 .1h0m-4.6 .4h0m4.1 .4h0m-17.4 .3h0m1.6 .2h0m2.3 0h0m10.2 .2h0m2 .2h0m20.8 .2h0m-10.4 .4h0m-10.1 .3h0m9.8 .1h0m-5.3 .5h0m-14.5 .7h0m12.5 0h0m-18.3 .5h0m8.6 .3h0m25.1 .4h0m-27 .1h0m-7.7 .5h0m39.2 .2h0m-28.4 .4h0m16.2 .2h0m9.2 .4h0m-11.9 .1h0m-12.9 .2h0m-4.5 .2h0m.4 .5h0m27.2 .6h0m-8.8 .7h0m3.8 .5h0m-23.8 1.7h0m6 0h0m-12.8 .2h0m12 0h0m26.5 .3h0m-8.9 .2h0m-1 .3h0m-.4 .2h0m-5.3 .6h0m-14.9 .3h0m11.5 1.2h0m16.6 .1h0m-10.4 .1h0m-20.9 .1h0m.9 0h0m26.9 .1h0m.6 .1h0m2.8 .7h0m-19.4 .2h0m7.8 0h0m-6.7 .1h0m8.3 0h0m-15.8 .3h0m18.8 .2h0m-26.8 .8h0m15.1 .8h0m18.5 0h0m-22.9 .1h0m23.3 0h0m-2.6 .5h0m-6.7 .2h0m-23.4 .1h0m29.2 .1h0m-23.9 .5h0m12 0h0m-2.9 .2h0m-3.5 .4h0m-2.8 .3h0m2.4 .8h0m-6.6 .3h0m10.9 .2h0m.3 0h0m-12 .2h0m7.4 .1h0m7.3 0h0m-13.5 .6h0m6 .6h0m8.3 .1h0m-13.8 .4h0m-.4 .1h0m3.4 .3h0m7.6 .3h0m10.6 1h0m-18.5 .4h0m7.4 .2h0m2.6 .8h0m.8 .7h0" stroke="#8460ba" stroke-width="1.8" stroke-linecap="round" fill="none" stroke-opacity="0.66"/>
<path d="M211.8 558.2h0m15.7 6.7h0m6.1 2.7h0m-23.9 9.7h0m18.2 1.5h0m-26.9 .2h0m8.2 1.5h0m21.7 5.2h0m-12.5 .5h0m-.1 5.9h0m-8.1 .7h0m5.9 1.4h0m-2.3 .3h0m4.3 .7h0" stroke="#6340a2" stroke-width="2.5" stroke-linecap="round" fill="none" stroke-opacity="0.78"/>
</g><g filter="url(#b3)">
<path d="M221.3 554.8h0m-3.5 .6h0m2.8 .3h0m7.2 .5h0m-15.2 .1h0m2.4 .2h0m-1.2 .3h0m2.2 .7h0m5.5 .3h0m4.4 .3h0m-12.1 .5h0m-1.2 .1h0m21.3 .5h0m-2.4 1h0m-21.8 .3h0m-2.2 .2h0m24.9 0h0m-17.1 .4h0m2.4 0h0m-7.4 .5h0m2.4 .1h0m23.6 0h0m-16.7 .1h0m5 .1h0m-8.9 .1h0m14.3 0h0m-1.8 .2h0m-17.1 .1h0m11.8 .2h0m.9 0h0m10.3 .2h0m2.5 0h0m-11.1 .1h0m-11.6 .1h0m6.9 .2h0m2.1 .1h0m-15.7 .1h0m11 .2h0m-7.4 .3h0m17.5 0h0m-23.7 .4h0m1.8 .3h0m24.2 .3h0m8.2 .5h0m-15.3 .2h0m-19.5 .2h0m25.2 .1h0m-5.5 .6h0m-19.8 .1h0m20.5 .1h0m-1.4 .1h0m1.4 .3h0m-14.6 .1h0m7.6 .6h0m-.6 .2h0m3.8 0h0m15.9 .1h0m2.3 0h0m.1 0h0m-5.8 .1h0m-18.8 .1h0m-3.3 .1h0m6.4 .1h0m18.7 0h0m2.4 0h0m-31.3 .1h0m23.7 0h0m-4.5 .2h0m-24.6 .2h0m18.7 0h0m-9.5 .2h0m-9.6 .2h0m11.8 .4h0m11.5 .1h0m-13.7 .2h0m26.5 0h0m-5 .1h0m9 0h0m-35.7 .1h0m4 0h0m6 .1h0m25.2 .7h0m-13.8 .3h0m5.7 0h0m-2.1 .4h0m-6.3 .1h0m9.8 0h0m-19.3 .1h0m10.1 0h0m-5.1 .1h0m-19.4 .2h0m15.2 .1h0m19.6 0h0m.9 0h0m-30.6 .1h0m23 .3h0m-6.8 .2h0m18.5 0h0m-29.3 .4h0m12.7 .1h0m-20.2 .3h0m8.9 0h0m20.7 .1h0m-31.4 .1h0m21 0h0m3.5 0h0m.7 0h0m-19.3 .1h0m25.7 .1h0m2.3 0h0m.9 .1h0m-23.4 .1h0m-1.4 .1h0m17.7 0h0m11.7 0h0m-15.4 .1h0m-18.6 .7h0m24.9 1.1h0m-20.4 .2h0m-7.5 .1h0m5.9 .1h0m-.6 .5h0m13.3 .1h0m-.1 .7h0m-11.2 .2h0m16.3 .1h0m-23.1 .1h0m19 0h0m6.2 .5h0m-27.3 .2h0m17.7 0h0m18.6 .1h0m-12.6 .1h0m-20.8 .2h0m11.6 .1h0m14.4 .2h0m3.3 .2h0m-9.3 .1h0m3.5 .3h0m6.5 0h0m-33.5 .7h0m8.3 .1h0m-1.4 .1h0m-5.7 .5h0m29.2 0h0m7.5 .1h0m-13.7 .2h0m13.2 .3h0m.1 .1h0m-32.2 .1h0m6.1 .3h0m23.3 .2h0m-8.8 .1h0m-23.8 .4h0m7.5 0h0m.3 .2h0m12.4 .1h0m-4.8 .2h0m-7.2 .2h0m3.8 .7h0m19.5 .5h0m-32.2 .1h0m6.6 .1h0m23.1 .1h0m-4.7 .1h0m-20 .4h0m23.7 .5h0m-1.5 .1h0m6.9 .1h0m.2 .2h0m-33.7 .1h0m31.8 .5h0m-10.1 .5h0m-21.1 .2h0m29.1 .2h0m-25 .1h0m4 .2h0m7.4 .5h0m8.3 .1h0m-6.9 .2h0m-9.8 .1h0m-2.7 .3h0m10 .3h0m-9.2 .2h0m22.6 .3h0m-17.1 .5h0m7.1 0h0m-13.1 .1h0m1.4 .4h0m.8 .1h0m20.4 .9h0m-14 .4h0m14.4 0h0m-21.2 .2h0m13.6 .1h0m.1 0h0m-13.5 .1h0m7.3 .3h0m1 .1h0m-.4 .5h0m1.2 .2h0m-.1 .3h0m-4.5 .1h0m11.2 .1h0m-4 .2h0m-1.5 .2h0m5.6 0h0m.6 0h0m-1.3 .1h0m-1.1 .1h0" stroke="#8460ba" stroke-width="1" stroke-linecap="round" fill="none" stroke-opacity="0.6"/>
<path d="M233.6 567.6h0m-5.7 11.2h0m-26.9 .2h0m17.4 7.2h0m-8.2 6.6h0m5.9 1.4h0m2 1h0" stroke="#6340a2" stroke-width="1.3" stroke-linecap="round" fill="none" stroke-opacity="0.9"/>
</g></g>
<circle cx="221.4" cy="575.6" r="21.2" fill="none" stroke="#6d6a78" stroke-width="0.55"/>
<clipPath id="p29"><circle cx="269.6" cy="528.7" r="21.5"/></clipPath>
<circle cx="269.6" cy="528.7" r="21.5" fill="#ebe5f3"/>
<g clip-path="url(#p29)">
<g filter="url(#b10)">
<path d="M271.2 508.1h0m.1 .8h0m-9.5 1.5h0m15.5 .6h0m-11.6 .3h0m-8.5 .7h0m3.8 .2h0m18.8 1h0m-11.4 .1h0m-4.7 .2h0m15.1 .6h0m-1.5 .4h0m4.8 .7h0m-.1 .3h0m3.3 .2h0m-14.6 .2h0m7 .1h0m-2.4 .3h0m-12.2 .1h0m18.7 .6h0m-24 .3h0m-4.7 .3h0m14 0h0m-10.3 .1h0m1 .3h0m2.7 1h0m13 .4h0m12.4 .3h0m1.5 0h0m.4 .1h0m-19.9 .2h0m12.7 .4h0m-13.3 .1h0m-7.6 .1h0m-1.4 .2h0m28.8 .3h0m-35.6 .4h0m16.3 .1h0m11.1 .5h0m-17 .7h0m13.9 0h0m-6.1 .5h0m1.8 .3h0m-20.6 .4h0m17.7 .2h0m12.9 0h0m4.5 .1h0m-20.4 .1h0m19.6 .1h0m-21.5 .4h0m1.6 .5h0m-.5 .1h0m19.3 0h0m-6.7 .6h0m-24.4 .1h0m16.2 .2h0m3 0h0m11.3 .7h0m-9.1 .2h0m-21.1 .3h0m6.9 .1h0m-2.7 .1h0m15.4 .3h0m17.1 0h0m-13.1 .1h0m-17.3 .1h0m5.9 .4h0m-9.6 .1h0m22.8 .2h0m-.2 .4h0m3 0h0m-25 .1h0m31.9 0h0m-26.9 .2h0m8.3 .1h0m-6.1 .2h0m-7.8 .4h0m.8 .3h0m30.1 .7h0m-18.2 .4h0m20.1 .3h0m-38.1 .1h0m33.8 .3h0m-12.6 .1h0m2.7 .4h0m.3 .1h0m3 0h0m11.8 .1h0m-5.5 .2h0m.5 .3h0m-24.7 .2h0m24.6 .2h0m4.7 0h0m-15.6 .7h0m-23.6 .3h0m9.8 0h0m2.6 0h0m18.4 .6h0m-4.2 .2h0m-23.9 1h0m30.3 .4h0m-3.7 .4h0m-1.8 .6h0m-20.7 .1h0m-2.2 .3h0m13.3 .2h0m-14.7 .3h0m2.8 0h0m18.4 0h0m-21.2 1.3h0m8.5 0h0m-5.7 .3h0m19.4 .5h0m8.8 .3h0m-21.8 .5h0m-3.2 .2h0m-1.3 .2h0m8.8 .2h0m6.7 .4h0m2.3 .4h0m-11.5 1.5h0m4.3 .1h0m1.7 .1h0m10 .2h0m1.9 0h0m-2.5 .8h0m-6.2 1.8h0m.7 0h0m-4.1 .2h0m1.2 .2h0m-4.6 .8h0m1.6 .2h0" stroke="#8460ba" stroke-width="3.75" stroke-linecap="round" fill="none" stroke-opacity="0.3"/>
</g>
<g filter="url(#b6)">
<path d="M271.3 508.9h0m-11.2 .8h0m12.9 .2h0m.9 0h0m-7.1 .2h0m-5 .3h0m9.9 .1h0m5.6 .5h0m-11.6 .3h0m15.4 .1h0m-21.6 .2h0m-2.3 .4h0m3.8 .2h0m18.8 1h0m-11.4 .1h0m-6.7 .2h0m2 0h0m15.1 .6h0m4.6 0h0m-6.1 .4h0m4.7 .3h0m-26.9 .1h0m19.1 .5h0m7.8 .1h0m3.3 .2h0m-14.6 .2h0m7 .1h0m-15.5 .4h0m.9 0h0m22.7 .2h0m-20.3 .1h0m-4.2 .1h0m9.4 .1h0m-12.9 .4h0m-1 .4h0m27.9 0h0m-26.3 .3h0m3.3 .2h0m4.5 .4h0m2 0h0m-12.3 .2h0m4.6 .2h0m1.7 .4h0m20.9 .1h0m-29.5 .1h0m25.2 .1h0m7.1 0h0m-25.9 .1h0m27.8 0h0m-33.7 .1h0m13.8 .1h0m8.1 .3h0m4.6 .1h0m-13.3 .1h0m-9 .3h0m13.2 .1h0m9.5 0h0m6.1 .2h0m-35.6 .4h0m16.3 .1h0m21.6 .3h0m-26.2 .1h0m3.1 0h0m12.6 .1h0m-16.6 .2h0m-10.5 .2h0m10.1 .3h0m7.8 .5h0m1.8 .3h0m-21.9 .2h0m1.3 .2h0m8.3 0h0m22.3 .2h0m-12.2 .1h0m16.7 0h0m-20.4 .1h0m19.6 .1h0m-21.5 .4h0m-1.2 .3h0m13.7 0h0m-10.9 .2h0m-12.3 .1h0m1 0h0m10.8 0h0m19.3 0h0m-.6 .1h0m-30.5 .6h0m33.4 .1h0m-17.2 .1h0m3 0h0m14 .6h0m-31 .1h0m28.3 0h0m-13.4 .1h0m4.3 .1h0m-21.1 .3h0m6.9 .1h0m23.2 .1h0m6.6 .3h0m-40.9 .1h0m25.2 0h0m2.6 0h0m-17.3 .1h0m5.9 .4h0m18.8 .2h0m-5.6 .1h0m-29.9 .2h0m29.7 .2h0m3 0h0m-25 .1h0m31.9 0h0m-8.7 .4h0m-16 .1h0m-7.8 .4h0m.1 .2h0m.7 .1h0m.2 0h0m19.5 0h0m-14.1 .3h0m9.2 .1h0m3.8 0h0m11.5 .3h0m-21.7 .2h0m3.5 .2h0m-17.3 .1h0m10.3 .1h0m4.6 .1h0m22.5 0h0m-38.1 .1h0m17.1 .3h0m16.7 0h0m1.7 0h0m-14.3 .1h0m2.7 .4h0m-21.1 .1h0m21.4 0h0m3 0h0m11.8 .1h0m-9.6 .2h0m4.1 0h0m.5 .3h0m-24.7 .2h0m6.1 .2h0m18.5 0h0m4.7 0h0m-39.5 .1h0m33.7 0h0m-19.7 .1h0m18 .1h0m-30.6 .2h0m22.5 .2h0m-23.6 .3h0m9.8 0h0m2.6 0h0m-11.9 .2h0m.7 .5h0m25.4 .1h0m11.9 0h0m-35.8 .6h0m0 .4h0m11.9 .1h0m18.4 .3h0m-2.7 .2h0m-1 .2h0m-1.8 .6h0m-20.7 .1h0m22.3 .2h0m-24.5 .1h0m22.5 .1h0m-9.2 .1h0m-1.5 .1h0m3.5 0h0m-16.7 .2h0m33.4 0h0m.9 .1h0m-13.8 .2h0m-10.1 .3h0m-8.9 .1h0m21.9 0h0m-23.4 .6h0m8.5 0h0m-8 .3h0m7.1 .1h0m-8.1 .3h0m22.7 .1h0m-11 .2h0m-2.9 .1h0m22.7 0h0m-20.7 .2h0m-1.1 .3h0m.6 .1h0m-8.8 .2h0m12.5 .3h0m.6 .4h0m6.1 0h0m2.3 .4h0m7.4 .6h0m-18.9 .9h0m4.3 .1h0m1.7 .1h0m-4.8 .2h0m14.8 0h0m1.9 0h0m-17.6 .1h0m15.1 .7h0m-.2 .7h0m-13.3 .1h0m.5 1h0m6.8 0h0m.7 0h0m-4.1 .2h0m1.2 .2h0m-4.6 .8h0m1.6 .2h0m3.1 0h0" stroke="#8460ba" stroke-width="1.8" stroke-linecap="round" fill="none" stroke-opacity="0.66"/>
<path d="M271.2 508.1h0m10.9 7.1h0m-6.8 1.1h0m6.5 .7h0m-28.7 .6h0m14 0h0m-9.3 .4h0m15.7 1.4h0m13.9 .3h0m-27.7 .9h0m16.1 2.2h0m-7.2 1.4h0m8.8 1.9h0m-19.9 1.7h0m15.4 .3h0m-17 .7h0m5.6 .9h0m8.3 .1h0m11 5.9h0m-24.8 3.5h0m18.4 0h0m-18.4 1.6h0m3.2 1.5h0m-1.3 .2h0" stroke="#6340a2" stroke-width="2.5" stroke-linecap="round" fill="none" stroke-opacity="0.78"/>
</g><g filter="url(#b3)">
<path d="M268.4 507.6h0m.7 .4h0m-2.1 .2h0m-.1 .1h0m8.5 .1h0m-3.7 .6h0m-1.4 .4h0m6.6 .1h0m-1.9 .1h0m-.6 .2h0m-6.2 .1h0m2.6 0h0m3.8 0h0m-5.9 .2h0m6.5 .7h0m-17.3 .2h0m2.3 .3h0m.6 0h0m3.6 0h0m2.1 0h0m7.2 0h0m5.9 .2h0m-3.4 .8h0m-4.1 .1h0m.8 .2h0m.9 .1h0m6.6 0h0m-.3 .7h0m-20.4 .1h0m3.3 0h0m6.2 0h0m11 0h0m-7.4 .3h0m11.2 .2h0m-5.9 .1h0m-.3 .2h0m-18.7 .2h0m17.3 0h0m4.5 0h0m-25.8 .1h0m18 .1h0m5.4 .3h0m-21.5 .7h0m17.9 .1h0m2.1 .1h0m-15.8 .2h0m3.9 .1h0m19.2 0h0m-24 .3h0m19 .1h0m.3 .2h0m1.7 0h0m-20.7 .1h0m8.1 0h0m17.3 0h0m-30.5 .2h0m11.7 0h0m-8.2 .1h0m-1.6 .3h0m1 0h0m23.8 0h0m-22.6 .1h0m21 0h0m-4.7 .1h0m6.9 0h0m-24.9 .2h0m17.6 .3h0m-18.4 .1h0m28.8 .5h0m-33.2 .3h0m.2 0h0m2.4 .2h0m20.1 .4h0m12 .1h0m-3 .1h0m-31.6 .3h0m4.1 0h0m17.1 0h0m-21.8 .1h0m35.1 0h0m-17.3 .1h0m-11.1 .1h0m15 0h0m-4 .3h0m-18.7 .1h0m27.5 0h0m-10.6 .1h0m9.5 .1h0m-6.3 .1h0m11.2 0h0m-9.1 .1h0m7.6 0h0m-19.7 .3h0m21.8 0h0m-12.9 .1h0m15.5 0h0m-8.3 .1h0m-23 .3h0m15.8 0h0m-8.1 .1h0m-9.5 .2h0m8.2 0h0m19.9 0h0m-9.8 .1h0m-17.9 .1h0m6.8 .1h0m6.5 .3h0m-5.6 .2h0m16.9 0h0m-25.4 .1h0m30.4 0h0m2.5 0h0m-35.7 .2h0m2.9 0h0m4.1 0h0m-4.7 .1h0m8.6 0h0m1.5 0h0m18.9 .1h0m-28.9 .3h0m34.9 0h0m-28.8 .1h0m12.7 0h0m5.6 .1h0m-4.7 .2h0m-12.4 .2h0m-9.2 .3h0m3.6 0h0m35.2 .2h0m-24.4 .1h0m-3 .1h0m19.4 .1h0m8.1 .2h0m0 .1h0m-14.8 .1h0m3.1 .1h0m-9.3 .1h0m12.6 .1h0m5.8 0h0m0 .2h0m3.8 .1h0m-23.4 .1h0m12 0h0m-27.5 .1h0m21.7 0h0m3.2 0h0m-12.3 .3h0m1 0h0m.4 0h0m24.5 0h0m-39.7 .2h0m11.5 0h0m18.5 .1h0m6 0h0m-4.9 .3h0m9.4 .2h0m-27.2 .1h0m19.3 0h0m-22.7 .1h0m-3.1 .1h0m20.2 .3h0m-.9 .3h0m6.7 .3h0m-13.1 .1h0m12.5 0h0m-6.8 .1h0m13.3 0h0m-11 .4h0m-19.7 .2h0m.3 0h0m20.1 .2h0m-21.3 .6h0m19.1 0h0m4.5 0h0m-14.9 .1h0m-1 .1h0m9.3 .2h0m6.9 0h0m.1 0h0m5.4 0h0m.3 0h0m-37.7 .2h0m37.8 .1h0m-1.1 .1h0m-17.6 .4h0m10.2 0h0m5 .3h0m-9.5 .1h0m-11.7 .1h0m3.3 .6h0m18.2 0h0m-29.7 .1h0m31.3 0h0m4.3 0h0m-13.4 .1h0m13.5 0h0m-1.9 .2h0m-11 .1h0m-5.3 .1h0m17.6 0h0m.1 .1h0m-27.3 .2h0m-8.5 .1h0m35.4 0h0m-12.4 .1h0m11.3 0h0m-2 .3h0m-31.9 .2h0m15.8 0h0m15.1 0h0m-12.8 .2h0m-18.4 .1h0m16.5 0h0m-19.2 .2h0m14 .2h0m11.1 0h0m-14.9 .1h0m13 .1h0m7.9 .2h0m-2.6 .1h0m-3.6 .3h0m-13.9 .3h0m-7.7 .2h0m25.3 .1h0m-7.2 .1h0m-11.8 .1h0m2.6 .2h0m19.4 0h0m-10.5 .2h0m5.2 0h0m9.9 0h0m-6 .1h0m1.6 0h0m-27.6 .3h0m1.9 .1h0m9.6 0h0m8.5 0h0m-18.6 .1h0m16.5 0h0m-19.5 .3h0m-2.3 .1h0m2.5 0h0m5.9 0h0m6.8 0h0m-.1 .1h0m-12.3 .1h0m5.4 .1h0m15.7 0h0m5.9 0h0m-21.4 .2h0m-2.5 .1h0m30.4 0h0m-19.4 .3h0m-7.3 .1h0m16.2 0h0m-15.6 .2h0m14.3 0h0m-23.3 .1h0m15.7 0h0m.3 .3h0m-1.9 .2h0m-4.9 .1h0m.8 .1h0m16.4 .1h0m-3.4 .4h0m8.6 .2h0m-6.9 .1h0m-24.2 .1h0m11 0h0m22.2 0h0m-11.9 .2h0m-9.5 .3h0m8.8 0h0m-5.2 .3h0m.3 0h0m-10.6 .1h0m4.8 0h0m1.4 0h0m-1.1 .1h0m-5 .1h0m18.7 0h0m-11.5 .1h0m-11.1 .1h0m18.9 .1h0m-18.3 .3h0m13.7 0h0m-7.2 .1h0m8.3 .2h0m3.5 0h0m2.8 .1h0m6.7 0h0m-18.7 .6h0m6.1 .1h0m-7.3 .3h0m1 0h0m20.1 .1h0m-2.4 .2h0m-3 .2h0m2.1 .2h0m-19.1 .1h0m17.4 0h0m-3.9 .1h0m4.7 .4h0m1.8 0h0m-19.4 .1h0m14.8 0h0m-1.3 .2h0m-2.8 .5h0m4.5 .2h0m1.4 0h0m3 0h0m-3.1 .5h0m-13.3 .1h0m-.9 .2h0m7.1 .1h0m.2 .1h0m-10.3 .5h0m11.7 .2h0m2.7 0h0m-2.6 .4h0" stroke="#8460ba" stroke-width="1" stroke-linecap="round" fill="none" stroke-opacity="0.6"/>
<path d="M271.2 508.1h0m4.1 8.2h0m-8.2 1.3h0m-9.3 .4h0m29.6 1.7h0m-29.9 8.1h0m15.4 .3h0m-17 .7h0m13.9 1h0m-13.8 11h0m3.2 1.5h0m-1.3 .2h0" stroke="#6340a2" stroke-width="1.3" stroke-linecap="round" fill="none" stroke-opacity="0.9"/>
</g></g>
<circle cx="269.6" cy="528.7" r="21.2" fill="none" stroke="#6d6a78" stroke-width="0.55"/>
<clipPath id="p30"><circle cx="269.6" cy="575.6" r="21.5"/></clipPath>
<circle cx="269.6" cy="575.6" r="21.5" fill="#efebf4"/>
<g clip-path="url(#p30)">
<g filter="url(#b10)">
<path d="M267 555.1h0m6.7 .6h0m-8.3 .9h0m0 .8h0m-3.6 .6h0m2.8 .2h0m14.6 .2h0m-22 .7h0m1.4 .6h0m18.3 .2h0m2 0h0m-19.7 .1h0m4.4 .1h0m-7.2 .4h0m16.1 .6h0m12.4 1.2h0m-6.4 .8h0m4.2 1.2h0m-4.2 .6h0m-24.9 .3h0m2.6 .5h0m12.5 1.3h0m8.7 .2h0m-2.1 .2h0m-15.9 .6h0m1.9 0h0m19.4 1.2h0m7.7 .1h0m-34.1 .1h0m31.5 .3h0m-7.1 .3h0m-27 .1h0m16.5 .3h0m-12.7 .1h0m25.9 0h0m1.1 0h0m-12.9 .1h0m-4.6 .7h0m2.1 .3h0m20.9 0h0m-30.4 .5h0m-1 .2h0m-1.4 .4h0m5 .1h0m22.8 .5h0m-6.6 .2h0m8 0h0m-34.4 .8h0m.8 .4h0m13 0h0m14.4 0h0m-24.2 .2h0m15.1 .3h0m-4.6 .2h0m-7.6 .1h0m28.3 0h0m.7 .3h0m1.6 .3h0m.4 .4h0m.8 .1h0m-9 .5h0m-18.4 .2h0m28.4 0h0m-21.4 .6h0m20.9 .3h0m-38.1 .1h0m11.9 0h0m9.9 .1h0m-3 .6h0m16.3 .3h0m-19.9 .5h0m20.9 .2h0m-10 .2h0m-22.8 .2h0m22.9 .3h0m-22.2 .7h0m13.8 .7h0m-2.1 .6h0m.6 0h0m-2.6 .1h0m6 .1h0m-15.3 .3h0m11.3 1.3h0m7.4 0h0m-6 .4h0m14.6 0h0m-9.3 .2h0m9.3 .3h0m-29.5 .2h0m13.1 .2h0m-14.1 .2h0m5.8 .3h0m-4.6 .3h0m19.5 .1h0m-12.6 1h0m-5.7 1.8h0m24.1 1.2h0m2.9 1.2h0m-9.3 .7h0m-6.5 .4h0m.5 0h0m10.5 .3h0m-12.9 1.7h0m2 .8h0m1.3 .4h0" stroke="#8460ba" stroke-width="3.75" stroke-linecap="round" fill="none" stroke-opacity="0.3"/>
</g>
<g filter="url(#b6)">
<path d="M267 555.1h0m2 .4h0m-5.4 .2h0m10.1 0h0m-8.3 .9h0m11 .1h0m2.1 .5h0m-13.1 .2h0m-2.6 .1h0m1.1 .3h0m-.9 .3h0m16.2 .3h0m-18.9 .4h0m19.3 .1h0m-21 .8h0m18.3 .2h0m2 0h0m-19.7 .1h0m4.4 .1h0m18.9 .1h0m-15.3 .2h0m-2.7 .1h0m8 .6h0m9 .3h0m3.4 .8h0m0 .1h0m-19 .1h0m3.9 1.2h0m-.7 .1h0m3.7 .4h0m12.3 0h0m-6.6 .8h0m6.6 .1h0m-31.5 .2h0m.5 .3h0m2.1 .2h0m17.9 .4h0m-5.4 .9h0m-12 .1h0m20.7 .1h0m-2.1 .2h0m-22.3 .1h0m1.9 .1h0m1 .3h0m5.4 .1h0m24.8 .1h0m-27.5 .3h0m24.7 .1h0m-31.4 .3h0m32.3 .3h0m-32.1 .1h0m28.6 0h0m7.7 .1h0m-34.1 .1h0m31.5 .3h0m-4.4 .2h0m-13.3 .1h0m-16.4 .1h0m16.5 .3h0m-12.7 .1h0m25.9 0h0m1.1 0h0m-18.9 .2h0m8.1 .2h0m12.5 .1h0m-19.2 .3h0m11.8 .1h0m-9.7 .2h0m-9.5 .5h0m-1 .2h0m17.7 .3h0m-19.1 .1h0m11.3 0h0m-6.3 .1h0m-8.8 .3h0m31.6 .2h0m-6.6 .2h0m8 0h0m-3.7 .4h0m5.8 .1h0m-36.5 .3h0m1.9 .2h0m1.8 .1h0m-2.9 .1h0m18.3 .5h0m-5.9 .2h0m1.3 0h0m20.7 .1h0m4.8 .1h0m-1.3 .1h0m-2.8 .1h0m1.6 .3h0m-11 .1h0m-2.3 .3h0m13.7 0h0m.2 .1h0m.6 0h0m-4.4 .1h0m-22.2 .1h0m-.8 .5h0m28.4 0h0m-17.3 .2h0m4.7 0h0m-8.8 .4h0m20.9 .3h0m-38.1 .1h0m11.9 0h0m9.9 .1h0m-3 .6h0m-2.7 .1h0m19 .2h0m-30.1 .3h0m10.2 .2h0m14.5 .1h0m6.4 .1h0m-35.1 .2h0m25.1 0h0m-22.8 .2h0m.5 .3h0m22.4 0h0m-22.2 .7h0m31.9 .1h0m-9.4 .4h0m-8.7 .2h0m-14.8 .5h0m12.7 .1h0m.6 0h0m-2.6 .1h0m6 .1h0m16 .4h0m-36 .6h0m1.7 .2h0m10.6 .3h0m3.7 .1h0m7.4 0h0m-6 .4h0m14.6 0h0m-9.3 .2h0m3.9 .1h0m5.4 .2h0m-15.1 .1h0m-14.4 .1h0m13.1 .2h0m-14.1 .2h0m5.8 .3h0m14.6 .2h0m-14.9 .2h0m.4 .4h0m6.7 .2h0m-4.5 .4h0m-5.7 1.8h0m20.9 .8h0m3.2 .4h0m-12.5 .5h0m4.1 .1h0m11.3 .6h0m-9.3 .7h0m-6.5 .4h0m2.3 0h0m8.7 .3h0m-16.9 .3h0m12.1 1.4h0m-9.5 .1h0m12.8 .4h0m-6.2 .8h0" stroke="#8460ba" stroke-width="1.8" stroke-linecap="round" fill="none" stroke-opacity="0.66"/>
<path d="M261.8 558h0m2.8 .2h0m-7.4 .9h0m-.8 1.4h0m22.1 2.6h0m4.2 1.2h0m-23.3 3.7h0m19.3 2h0m-9.1 .6h0m18.4 1h0m-24.2 3.1h0m14.4 0h0m-24.2 .2h0m2.9 .6h0m22.8 1.6h0m-24.2 6.1h0m-2 3.4h0m19.5 .1h0m-6.6 6.3h0m-2.4 2h0m2 .8h0m1.3 .4h0" stroke="#6340a2" stroke-width="2.5" stroke-linecap="round" fill="none" stroke-opacity="0.78"/>
</g><g filter="url(#b3)">
<path d="M264.5 555.7h0m11.3 .4h0m-12.5 .2h0m13.9 0h0m-5.5 .2h0m-5.3 .4h0m8.1 .1h0m.8 0h0m2.5 .2h0m-5.8 .3h0m-8.9 .5h0m-1.8 .1h0m11.7 .2h0m-10.5 .2h0m-4.3 .2h0m9.5 .2h0m-6.3 .1h0m18.7 0h0m-22.5 .3h0m24 0h0m-20.1 .4h0m3.8 0h0m-.7 .2h0m1.8 0h0m16.2 0h0m-26.1 .1h0m22.8 .4h0m-14 .5h0m16.4 0h0m-.1 .1h0m-23.6 .2h0m10.4 .5h0m-13.5 .1h0m24.2 .1h0m-11.4 .1h0m5.9 0h0m4.5 .2h0m1.2 0h0m-25.1 .2h0m30.3 0h0m-28.3 .1h0m16.3 0h0m10.8 .1h0m1.2 .1h0m-18.1 .2h0m17.7 0h0m-21.9 .1h0m1.1 .2h0m15.3 .2h0m4 .2h0m-26.2 .2h0m14 .1h0m-15.3 .2h0m31.2 0h0m.3 0h0m-.1 .4h0m-34.2 .1h0m34.8 .1h0m-33.8 .8h0m-.4 .2h0m23.6 .1h0m-14.3 .1h0m25 .1h0m-22.6 .4h0m-2 .1h0m10.3 .1h0m-10.6 .3h0m1.7 .3h0m16.8 0h0m2.8 .2h0m-30.8 .2h0m1.4 .1h0m18.4 .4h0m2.8 0h0m11.8 0h0m-32.7 .4h0m24.6 0h0m9.1 .2h0m-28.6 .1h0m2.4 .1h0m20.9 .4h0m-19.2 .1h0m17.1 0h0m-10.8 .1h0m8.1 .1h0m5.5 .2h0m-14.2 .1h0m-5.1 .2h0m21.6 0h0m-12.9 .2h0m-20.5 .3h0m8.4 .3h0m-10.3 .2h0m18.1 .2h0m-19.1 .1h0m14.7 .1h0m20.8 .1h0m-12.8 .3h0m-14.9 .2h0m16.4 .2h0m2.5 0h0m-24.6 .1h0m16 0h0m7.1 0h0m-2.9 .2h0m-15 .1h0m22.3 0h0m-9.4 .3h0m-2.3 .5h0m7.2 .1h0m-19.7 .4h0m.9 0h0m10.8 .1h0m1.8 0h0m12 .1h0m-23.3 .2h0m28.5 0h0m-5.6 .3h0m4.5 .2h0m-31.8 .2h0m-2.6 .1h0m22.1 .2h0m7.7 0h0m-30.3 .4h0m26.9 .1h0m3.3 0h0m-23.1 .3h0m25.6 .1h0m-26.4 .1h0m33.5 .3h0m-3.6 .2h0m-14.9 .2h0m-20.6 .2h0m24.6 .7h0m4 .2h0m-26 .1h0m21.9 0h0m-9.6 .1h0m-5.3 .2h0m5.6 0h0m19.8 .1h0m-13.3 .1h0m-21.2 .2h0m8.3 0h0m23.9 0h0m-33.4 .1h0m31 .1h0m-3 .3h0m2.8 .1h0m-16.9 .2h0m22.7 0h0m-19.2 .1h0m-2.6 .1h0m-2.1 .1h0m.6 .2h0m-13.2 .5h0m9 .2h0m29.6 0h0m-36.2 .2h0m9.1 .4h0m6.9 .7h0m11.7 .4h0m-5.7 .1h0m12.9 0h0m-4.4 .2h0m-15.8 .1h0m4.1 .2h0m1.9 0h0m-.1 .4h0m-12.2 .1h0m3.9 .3h0m18.3 0h0m-1.1 .3h0m-28.1 .1h0m2.6 .1h0m18.2 0h0m4.9 .1h0m.1 .1h0m-6.4 .1h0m-16 .2h0m26.5 .1h0m-24.2 .1h0m26.4 .1h0m-31.6 .1h0m31.5 0h0m.2 .3h0m-34.4 .3h0m2.5 .3h0m17.5 0h0m6.6 .1h0m-18.3 .1h0m23.5 0h0m-.5 .1h0m.9 .2h0m-4.4 .1h0m-1.4 .1h0m-7.4 .1h0m-12.9 .3h0m7.9 0h0m2.5 0h0m5.2 0h0m-18.9 .1h0m-.4 .7h0m27.9 .2h0m4.8 0h0m-28.3 .1h0m.7 .1h0m.7 .1h0m24 .1h0m-9.3 .1h0m-2.7 .1h0m-3.3 .1h0m16 0h0m-18.5 .4h0m-9.5 .1h0m22.2 0h0m-14.9 .1h0m-8.3 .1h0m2.5 .5h0m21.4 0h0m-5.6 .3h0m6.5 .3h0m-14.5 .4h0m12.3 .1h0m-15.4 .2h0m2.5 0h0m15.1 .1h0m.7 .4h0m-20.7 .3h0m-1.8 .2h0m1.5 .2h0m15.8 0h0m5.1 .1h0m-4.1 .4h0m-9.3 .1h0m8.2 0h0m0 0h0m-15.9 .6h0m1.4 .1h0m18.2 0h0m-1.9 .1h0m-6.8 .2h0m-4.4 .1h0m-.3 .1h0m8.9 .2h0m-7 .2h0m6.1 .4h0m-8.8 .1h0m-.1 .3h0m2.9 .1h0" stroke="#8460ba" stroke-width="1" stroke-linecap="round" fill="none" stroke-opacity="0.6"/>
<path d="M264.6 558.2h0m-8.2 2.3h0m22.1 2.6h0m4.2 1.2h0m-13.1 6.3h0m18.4 1h0m-31.1 3.9h0m-1.4 7.7h0m10.9 9.8h0m-.4 2.8h0m1.3 .4h0" stroke="#6340a2" stroke-width="1.3" stroke-linecap="round" fill="none" stroke-opacity="0.9"/>
</g></g>
<circle cx="269.6" cy="575.6" r="21.2" fill="none" stroke="#6d6a78" stroke-width="0.55"/>
<clipPath id="p31"><circle cx="317.7" cy="528.7" r="21.5"/></clipPath>
<circle cx="317.7" cy="528.7" r="21.5" fill="#ebe5f3"/>
<g clip-path="url(#p31)">
<g filter="url(#b10)">
<path d="M312.9 508.3h0m-1.7 .6h0m-.1 .2h0m-1.9 .9h0m3.4 .3h0m6.8 0h0m1 0h0m4.5 1h0m-19.6 .8h0m3.8 0h0m-4.1 .2h0m9.4 0h0m-6.6 .6h0m-.9 .1h0m12.2 0h0m9.9 .3h0m-23.7 .4h0m11.4 .5h0m-1.6 .1h0m-8.8 .3h0m22.1 .2h0m-13.6 .2h0m-9.9 .2h0m21.8 0h0m-23.9 .4h0m.9 0h0m15.2 0h0m-1.9 .1h0m6.4 .1h0m-15.7 .3h0m21.7 .2h0m-24.4 .7h0m9.6 .5h0m15.6 .1h0m-25.5 .1h0m12.8 .1h0m-3.6 .1h0m19.7 .3h0m-24.4 .2h0m18.1 .8h0m-24.2 .6h0m-2.9 .2h0m36.2 0h0m-20.7 .4h0m-1.7 .2h0m20.2 .1h0m-15.6 .1h0m2 0h0m14 .1h0m-17.3 .4h0m17.4 0h0m-35.8 .1h0m18.6 .1h0m10.8 0h0m8.6 0h0m-34.4 .2h0m-4.1 .1h0m37.8 .3h0m-38.3 .3h0m18.3 .3h0m15 .4h0m-18.2 .6h0m-4.7 .2h0m-9.6 .2h0m21.7 0h0m6 0h0m-14.5 .5h0m3.8 .2h0m15 0h0m-2.7 .2h0m-29.7 .4h0m1.2 0h0m35.7 .1h0m-33.6 .1h0m25.8 .3h0m4 .1h0m-26.9 .2h0m17.5 .4h0m-2.9 .1h0m3.7 0h0m12.2 .3h0m-27.1 .5h0m18.7 .3h0m-18.1 .9h0m28.4 .8h0m-32 .4h0m9.9 0h0m13.5 .7h0m8.5 .1h0m-34.8 .1h0m4.3 .3h0m-5.6 .6h0m-1.8 .1h0m16.2 .6h0m10.4 .1h0m-18.1 .3h0m-9.7 .1h0m10.1 0h0m15.3 .2h0m.6 .2h0m-4.2 .2h0m3.2 .1h0m7.5 .3h0m7.1 .5h0m-20.5 .6h0m-2.9 .1h0m20.4 .3h0m-22 .3h0m22.4 .6h0m-.5 .3h0m-24.4 .1h0m7.4 .2h0m2.9 .1h0m-19.6 1h0m7.7 .1h0m8.7 .4h0m11.9 .1h0m-25.4 .4h0m16.9 .5h0m7.5 0h0m-8.3 .3h0m13.1 0h0m2.1 .1h0m-23.5 .4h0m15 .1h0m-23.5 .4h0m.3 0h0m12.6 0h0m-5.5 .6h0m5.1 .2h0m-7.9 .2h0m4.2 0h0m6.7 .2h0m5.6 .3h0m3.9 0h0m-22.2 .5h0m4.7 0h0m14.7 .2h0m-13.2 .9h0m19.4 .2h0m-10.2 .1h0m-11.9 .1h0m20 .1h0m-11.6 .3h0m4 .4h0m3.7 .5h0m1 .2h0m-18 .4h0m6.2 0h0m-3.5 .1h0m13.9 .1h0m3.2 .4h0m-11.3 .4h0m-4 .4h0m9.3 .1h0m-11.2 .3h0m8.8 .1h0m5.1 .1h0m-5.5 .8h0" stroke="#8460ba" stroke-width="3.75" stroke-linecap="round" fill="none" stroke-opacity="0.3"/>
</g>
<g filter="url(#b6)">
<path d="M312.9 508.3h0m7.3 0h0m-2.2 .7h0m5.7 0h0m-12.6 .1h0m13 .5h0m-9.3 .3h0m10.3 0h0m-15.9 .1h0m17.7 0h0m-12.9 .1h0m2.2 0h0m-3.6 .2h0m6.8 0h0m1 0h0m-2.9 .5h0m9.4 .2h0m-17.8 1.1h0m.4 0h0m7.3 0h0m-11.8 .2h0m9.4 0h0m2.1 0h0m4.8 0h0m-13.5 .6h0m-.9 .1h0m12.2 0h0m9.4 0h0m-8.1 .2h0m8.6 .1h0m-23.7 .4h0m22.9 .3h0m-11.5 .2h0m-1.6 .1h0m-8.8 .3h0m9.2 .1h0m-.7 .3h0m-9.9 .2h0m21.8 0h0m-7.9 .1h0m6.4 .2h0m-21.5 .1h0m15.2 0h0m-11.2 .5h0m21.7 .2h0m-26.9 .4h0m4.6 .1h0m-2.1 .2h0m11.3 .1h0m7.2 .3h0m9.3 0h0m-2.6 .2h0m-11.6 .1h0m14.8 0h0m-15.9 .1h0m-3.6 .1h0m-7.9 .4h0m3.2 .1h0m-2.1 .4h0m20.2 .4h0m-27.1 .8h0m.8 0h0m25 .3h0m.4 0h0m-10.7 .1h0m12.3 0h0m-22.5 .3h0m13.1 .1h0m2 0h0m14 .1h0m-8.9 .1h0m-16.7 .3h0m8.3 0h0m17.4 0h0m-35.8 .1h0m18.6 .1h0m10.8 0h0m8.6 0h0m-34.4 .2h0m-4.1 .1h0m37.8 .3h0m-38.3 .3h0m18.3 .3h0m.8 .1h0m-.7 .2h0m14.9 .1h0m-22 .3h0m28 .1h0m-23.6 .1h0m-.6 .1h0m-4.7 .2h0m-9.6 .2h0m21.7 0h0m6 0h0m-22.4 .5h0m7.9 0h0m3.8 .2h0m15 0h0m-8 .1h0m5.3 .1h0m-13.7 .1h0m-16 .3h0m29.4 0h0m7.5 .1h0m-33.6 .1h0m22.7 0h0m-1.4 .1h0m-5.5 .1h0m14 .2h0m-29 .2h0m15 .3h0m4.6 .1h0m13 0h0m.1 0h0m.1 0h0m-33.1 .1h0m17 0h0m3.5 0h0m.2 0h0m1.9 0h0m-8.7 .1h0m16.3 0h0m2.7 .2h0m-28.8 .5h0m1.7 0h0m18.5 0h0m-27.3 .4h0m8 .4h0m18.5 .1h0m-17.1 .3h0m6.4 0h0m22 .8h0m-35.4 .4h0m1.6 0h0m1.8 0h0m9.9 0h0m-4.5 .7h0m26.5 .1h0m-34.8 .1h0m6.5 .1h0m8.4 .3h0m4.1 0h0m-20.3 .5h0m38 0h0m-39.8 .1h0m26.2 .5h0m-10 .1h0m10.4 .1h0m-18.1 .3h0m.4 .1h0m25.1 .3h0m-23.9 .1h0m13.6 0h0m1.1 0h0m-4.2 .2h0m3.2 .1h0m-7.8 .2h0m18 0h0m-21.5 .1h0m-13.3 .2h0m38.3 0h0m-31.5 .1h0m14.5 .2h0m17.9 0h0m-26.3 .1h0m24.4 .1h0m-29 .2h0m10.4 .2h0m-2.9 .1h0m-3.8 .1h0m24.2 .2h0m-21 .1h0m4.1 .1h0m17.4 0h0m-22.5 .1h0m21 .7h0m-31.6 .2h0m32.5 0h0m-24.4 .1h0m7.4 .2h0m1.4 0h0m9.2 0h0m-15.8 .1h0m8.1 0h0m-20.8 .4h0m35.9 .1h0m-15.9 .1h0m3.7 .1h0m-22.5 .3h0m7.7 .1h0m.1 .1h0m8.6 .3h0m11.9 .1h0m-25.4 .4h0m1.3 .4h0m15.6 .1h0m7.5 0h0m-20.2 .1h0m27.1 .3h0m.4 .3h0m-23.9 .1h0m15 .1h0m-23.5 .4h0m.3 0h0m13.5 0h0m16.4 .1h0m-11.6 .4h0m5.6 0h0m-7.7 .1h0m-11.1 .3h0m-.8 .1h0m.5 0h0m3.7 0h0m11.4 0h0m-4.7 .2h0m-15.3 .3h0m20.9 0h0m-18.3 .5h0m4.7 0h0m14.7 .2h0m6.2 .2h0m-17.8 .2h0m-5.8 .1h0m16.9 0h0m-10.1 .6h0m16.8 0h0m-10.2 .1h0m-12.4 .1h0m4.3 .4h0m4.6 0h0m-1.5 .3h0m5.5 .1h0m-10.1 .1h0m13.8 .4h0m-4.7 .1h0m5.7 .1h0m-11.8 .4h0m-3.5 .1h0m13.9 .1h0m3.7 .3h0m-.5 .1h0m-11.3 .4h0m-4 .4h0m9.3 .1h0m-11.2 .3h0m9.6 0h0m-.8 .1h0m5.1 .1h0m-7.3 .5h0m1.8 .3h0" stroke="#8460ba" stroke-width="1.8" stroke-linecap="round" fill="none" stroke-opacity="0.66"/>
<path d="M311.2 508.9h0m13.7 2.4h0m-19.6 .8h0m23.1 2.7h0m-25.6 .8h0m14.2 .1h0m6.4 .1h0m-8.8 1.7h0m-9.9 .2h0m28.9 .5h0m-30.5 1.6h0m33.3 .2h0m-22.4 .6h0m20.2 .1h0m-34.7 4.7h0m27.9 .5h0m-22.9 .3h0m22.1 1.6h0m1.7 2.8h0m-22 .5h0m-8.6 1.8h0m25.4 .2h0m7.1 .8h0m4.5 2.4h0m-15.2 3.5h0m13.1 0h0m-17 1h0m-5.5 .6h0m5.1 .2h0m12.5 .7h0m-16 1.6h0m-2.7 .4h0m20 .1h0m-20.9 1.8h0" stroke="#6340a2" stroke-width="2.5" stroke-linecap="round" fill="none" stroke-opacity="0.78"/>
</g><g filter="url(#b3)">
<path d="M320.3 508.3h0m2 .1h0m.9 .4h0m-5.6 .3h0m2.5 0h0m2.5 0h0m-.1 .2h0m-8.9 .2h0m2.1 .1h0m1.9 0h0m-8 .3h0m9.9 .1h0m7.2 .4h0m2 .2h0m-18.3 .3h0m1.9 0h0m-1.3 .1h0m-.2 .1h0m10.8 .2h0m-11.2 .1h0m17.6 0h0m-20.8 .1h0m21.5 0h0m-4.8 .1h0m-18.8 .1h0m21.2 .1h0m-19.8 .3h0m2.6 .2h0m19.6 0h0m-16.1 .1h0m17.4 .1h0m-.9 .1h0m-23.8 .4h0m9.6 .2h0m-1.8 .3h0m17.8 .1h0m.4 0h0m-1.6 .1h0m1.7 0h0m-17.7 .3h0m-4.4 .1h0m-3.5 .1h0m23.8 .1h0m-11.3 .1h0m-3.1 .2h0m.5 0h0m-11.7 .3h0m-1.5 .1h0m6.7 0h0m23.4 .2h0m.8 0h0m-7.3 .2h0m.8 0h0m.3 .1h0m-25.2 .2h0m7.8 .1h0m18 .1h0m-24.3 .1h0m-2.2 .1h0m22 0h0m-20 .1h0m17.6 .2h0m8.5 0h0m-14.7 .2h0m8.1 .1h0m-15.7 .1h0m24.6 0h0m.7 0h0m-24.4 .1h0m13.5 0h0m6.1 .1h0m6.3 0h0m-18.4 .2h0m18 .1h0m1.7 .1h0m-2.5 .1h0m-22.1 .3h0m-8.6 .1h0m17.3 .2h0m-13.3 .1h0m27.4 .1h0m1.6 0h0m-23.2 .3h0m4.5 0h0m8.7 0h0m-2.1 .1h0m12.6 .1h0m-3.4 .2h0m-4.7 .1h0m4 0h0m3.8 0h0m.9 0h0m-1 .1h0m-35.6 .1h0m28.5 .1h0m-15.7 .3h0m.9 0h0m18 0h0m2.3 .2h0m-23.2 .1h0m-.5 .1h0m23 .2h0m-23.9 .1h0m10 0h0m2.3 0h0m12.5 0h0m1.1 .2h0m-33.8 .1h0m35.1 0h0m-1.6 .8h0m-21.3 .1h0m-9.3 .3h0m13.2 .2h0m9.4 0h0m-21.8 .1h0m7.5 .2h0m4.4 0h0m10.2 .1h0m10.6 .1h0m-24 .1h0m17.6 0h0m2.5 0h0m-3.7 .1h0m1.6 0h0m-3.5 .1h0m-12.2 .7h0m-14 .1h0m14.1 0h0m6.3 0h0m8.5 .3h0m4.4 .1h0m-36.4 .1h0m13.8 0h0m-6.7 .1h0m5.3 .2h0m-5.8 .1h0m3.9 0h0m-10 .1h0m3.5 0h0m13.9 .1h0m13 0h0m-13.4 .1h0m-18.5 .1h0m20 0h0m2.8 0h0m15.4 0h0m2.5 .1h0m-4.9 .3h0m-27.7 .3h0m22 .1h0m10.8 0h0m-31.4 .1h0m18.7 0h0m6.5 0h0m-16.8 .1h0m-8.1 .1h0m15.2 0h0m-11.5 .1h0m-7 .1h0m17.2 .1h0m-8.4 .1h0m-12.5 .1h0m.5 .5h0m37.1 .1h0m-40.2 .1h0m31.2 0h0m-2.7 .1h0m4.8 0h0m3.1 .2h0m-35 .2h0m15.8 0h0m-5.9 .1h0m-6.9 .2h0m21.3 0h0m-18.5 .1h0m26.1 0h0m-24.2 .1h0m22.4 .3h0m-3 .1h0m8.5 .1h0m2 0h0m-38.3 .1h0m.2 0h0m10.5 0h0m-8.4 .1h0m4.2 0h0m32.1 .1h0m-23.4 .3h0m-16 .1h0m11.4 .2h0m28.1 .5h0m-16.5 .1h0m4.3 0h0m2.7 .3h0m-18.4 .1h0m-7.9 .1h0m-.7 .1h0m4.7 0h0m26.6 .2h0m3.1 0h0m-26.4 .1h0m10.5 0h0m15.4 0h0m.1 0h0m-8 .2h0m-4.4 .1h0m15.5 0h0m-37.3 .2h0m18.2 0h0m2.7 0h0m10.7 0h0m-31.5 .2h0m4.9 .2h0m15.3 .1h0m15.7 0h0m-29.9 .1h0m17.6 .1h0m-11.2 .3h0m-2.5 .1h0m14.4 .1h0m-20.1 .2h0m25.8 0h0m-32.6 .9h0m14.6 0h0m2.9 0h0m-13.2 .2h0m26.9 0h0m7.1 0h0m-12.9 .3h0m10 0h0m-25.7 .1h0m-1.8 .1h0m6.7 .3h0m-8.5 .1h0m28.3 .1h0m-7.4 .2h0m-24.2 .1h0m6.4 0h0m5.6 0h0m23.3 0h0m-30.5 .1h0m-3.1 .1h0m33.1 0h0m-34.3 .1h0m21 0h0m-5.9 .3h0m7.9 0h0m-10.7 .1h0m3.3 0h0m-18.4 .1h0m33.8 .1h0m-14 .1h0m11.1 0h0m.2 0h0m-8.1 .1h0m-4.1 .2h0m-4.6 .2h0m12 .3h0m-26 .2h0m32.5 .1h0m5.2 .1h0m-27 .1h0m24.8 .1h0m1.8 0h0m-31.5 .2h0m28.7 0h0m-7 .2h0m-7.4 .2h0m-14.3 .1h0m24.3 0h0m1 0h0m4.5 0h0m-27.6 .1h0m14.5 0h0m-21.7 .7h0m28.7 .2h0m-11.5 .1h0m9.6 .2h0m-9.4 .1h0m-13.9 .2h0m31.4 .1h0m-15.5 .1h0m-11.3 .2h0m9.1 0h0m-14.2 .1h0m19.8 .1h0m.9 .4h0m-4.9 .1h0m11.2 0h0m-11.4 .2h0m15.3 0h0m-30.9 .1h0m3.4 .1h0m19.5 0h0m6.6 0h0m-29.2 .4h0m9.7 0h0m3.4 .1h0m7.6 .6h0m-11.2 .4h0m10.6 0h0m.5 .2h0m-11.3 .2h0m1.8 .1h0m-9.2 .1h0m6.3 0h0m13.4 0h0m-10 .2h0m.3 .1h0m.4 0h0m-3.1 .1h0m2.5 .1h0m.4 0h0m13.4 0h0m-1.2 .3h0m-15.6 .1h0m17.1 .2h0m-17.4 .1h0m3.4 0h0m10.9 .1h0m-13.4 .1h0m3.6 .1h0m2.8 .5h0m-1.7 .1h0m11.6 .1h0m-17.3 .2h0m4.5 0h0m2.1 0h0m.9 .1h0m8.7 0h0m-1.3 .2h0m-1.5 .1h0m-10.7 .1h0m.5 0h0m5.9 0h0m-10.6 .1h0m-.1 .1h0m-1 .2h0m12.1 0h0m-2.3 .3h0m-6.1 .2h0m14.7 0h0m-9.9 .2h0m1.3 0h0m2.2 .5h0m.6 .1h0m-2.9 .1h0m-6.1 .1h0m3.8 .3h0m6 0h0" stroke="#8460ba" stroke-width="1" stroke-linecap="round" fill="none" stroke-opacity="0.6"/>
<path d="M324.9 511.3h0m-22.1 4.3h0m11.8 1.9h0m-.6 3.1h0m20.2 .1h0m-6.8 5.2h0m-22.9 .3h0m22.1 1.6h0m-28.9 5.1h0m25.4 .2h0m11.6 3.2h0m-2.1 3.5h0m-17 1h0m-5.5 .6h0m5.1 .2h0m-6.2 2.7h0m20 .1h0" stroke="#6340a2" stroke-width="1.3" stroke-linecap="round" fill="none" stroke-opacity="0.9"/>
</g></g>
<circle cx="317.7" cy="528.7" r="21.2" fill="none" stroke="#6d6a78" stroke-width="0.55"/>
<clipPath id="p32"><circle cx="317.7" cy="575.6" r="21.5"/></clipPath>
<circle cx="317.7" cy="575.6" r="21.5" fill="#efebf4"/>
<g clip-path="url(#p32)">
<g filter="url(#b10)">
<path d="M314.6 555.1h0m4.1 0h0m-1.9 .1h0m7.1 .7h0m-6.9 .8h0m11.7 1.5h0m-14.2 .3h0m9.4 0h0m-15.7 .6h0m.9 .6h0m21.4 0h0m-11.9 .3h0m-4.5 .1h0m-2.9 .2h0m3.9 .1h0m2.1 .1h0m2.4 0h0m-4.2 .5h0m-7.4 .1h0m-5.4 .3h0m17.6 .3h0m7 0h0m-24 .1h0m9.9 .2h0m2.8 .4h0m15.4 0h0m-6.5 .4h0m7.7 .2h0m-4.2 .3h0m-27.6 .3h0m1.8 .2h0m9.3 .1h0m4.7 .2h0m17.3 .2h0m-9.1 .2h0m-22.8 1.5h0m1.9 .1h0m.2 .1h0m31 .1h0m-25.8 .4h0m-3.6 .3h0m17.4 .2h0m3.2 0h0m-.9 .1h0m-23.9 1.1h0m20.7 .1h0m13.9 .4h0m-24.5 1h0m6.8 .1h0m-12.1 .6h0m2.2 .2h0m27.8 0h0m-27.5 .4h0m3.2 0h0m4.3 .1h0m9.1 .1h0m-7.6 .1h0m3.4 0h0m16.7 0h0m-34.7 .5h0m8.6 .4h0m25 0h0m-38.9 .2h0m16 .3h0m15.9 0h0m-.8 .5h0m-25.3 .5h0m-.4 .2h0m29.4 .1h0m3.4 .1h0m.6 0h0m-11.1 .1h0m6.7 0h0m-14.7 .1h0m7.2 0h0m-26.5 .4h0m.2 .2h0m4.4 0h0m31.5 .4h0m-26 .1h0m25.1 .5h0m-1.2 .3h0m-10.5 .2h0m-6.6 .1h0m7.5 .1h0m-19.4 .7h0m32.9 .1h0m-37.1 .4h0m28.5 0h0m6.6 .4h0m-6.8 .2h0m-16.8 .2h0m27.2 .1h0m-38 .6h0m8.3 0h0m15 .1h0m-17.7 .1h0m-6.4 .1h0m1.6 .7h0m36 .1h0m-23.2 .3h0m19.3 .4h0m-16.5 .4h0m-8.5 .1h0m12.9 .4h0m-7.5 .3h0m-12.8 .4h0m8.1 .6h0m19.8 .4h0m-.1 .2h0m-22.2 .2h0m-7.2 .3h0m2.8 .2h0m23.2 .2h0m-9 .7h0m-11.2 .1h0m.5 .1h0m21.1 0h0m-9.4 .2h0m-1.8 .3h0m7.9 .1h0m12.5 0h0m-19.3 .3h0m-14.2 .1h0m7.5 0h0m24.6 .1h0m-31.1 1.9h0m16.5 0h0m-7.8 2.1h0m15.4 1.1h0m-6.1 .3h0m-.2 1.2h0m2.1 .2h0" stroke="#8460ba" stroke-width="3.75" stroke-linecap="round" fill="none" stroke-opacity="0.3"/>
</g>
<g filter="url(#b6)">
<path d="M314.6 555.1h0m4.1 0h0m-1.9 .1h0m-.8 1h0m3 0h0m4.8 .2h0m-6.8 .3h0m-6.7 .2h0m16.8 1h0m-7.2 .1h0m8.8 .2h0m-14.2 .3h0m9.4 0h0m-15.7 .6h0m22.3 .6h0m-16.4 .4h0m-10.3 .2h0m7.4 0h0m3.9 .1h0m9.5 0h0m1.1 0h0m-8.5 .1h0m2.4 0h0m-4.2 .5h0m-12.8 .4h0m15.1 .2h0m2.5 .1h0m7 0h0m-20.9 .2h0m7.3 .3h0m14.3 0h0m-16.9 .1h0m9.9 0h0m-5 .1h0m15.4 0h0m-25.9 .1h0m19.4 .3h0m7.7 .2h0m-1.3 .2h0m-30.5 .4h0m1.8 .2h0m1.5 0h0m7.8 .1h0m16.7 0h0m-12 .2h0m17.3 .2h0m-29.7 .2h0m20.6 0h0m-24.7 .6h0m31.5 0h0m-5.8 .5h0m-3.3 .3h0m-18.4 .3h0m31 .1h0m-24.3 .2h0m25.3 .4h0m-30.4 .1h0m9.5 .3h0m10.2 0h0m4.5 .1h0m-23 .1h0m15.4 .1h0m-.2 .3h0m.1 .6h0m13.9 .4h0m-29.2 .1h0m-6.2 .4h0m10.5 .3h0m11.5 0h0m-11.1 .2h0m6.8 .1h0m-10.4 .2h0m25.7 .1h0m-2.3 .1h0m4.6 0h0m-29.7 .2h0m22.1 0h0m-19.9 .2h0m27.8 0h0m-33.5 .1h0m6 .3h0m3.2 0h0m20.9 0h0m-16.6 .1h0m9.1 .1h0m-4.2 .1h0m16.7 0h0m-34.7 .5h0m3.3 .2h0m10.1 0h0m-4.8 .2h0m25 0h0m-38.9 .2h0m16 .3h0m15.9 0h0m-30.6 .4h0m5.3 0h0m24.5 .1h0m-19.1 .3h0m-6.2 .2h0m-.4 .2h0m29.4 .1h0m-9.1 .1h0m12.5 0h0m.6 0h0m-19.1 .2h0m12.1 .1h0m-31.4 .3h0m5 .1h0m-4.8 .1h0m4.4 0h0m31.5 .4h0m-26 .1h0m27.1 0h0m-36.2 .2h0m15.6 0h0m4.5 .3h0m14.1 0h0m-1.2 .3h0m-10.5 .2h0m.9 .2h0m-13 .1h0m25.9 0h0m-17.8 .2h0m16.1 .3h0m-30.6 .1h0m8 .3h0m-12.4 .1h0m.2 .1h0m-2.4 .2h0m37.5 .2h0m-6.8 .2h0m-14.2 .1h0m-2.6 .1h0m-9.7 .1h0m36.9 0h0m-38 .6h0m15.4 0h0m2.3 0h0m5.6 .1h0m-17.7 .1h0m2.2 0h0m-8.6 .1h0m14.6 .3h0m11.3 .3h0m-24.3 .1h0m12.8 .4h0m19.5 .1h0m-14.6 .1h0m-14.1 .3h0m12 .3h0m-8.5 .1h0m29.7 .1h0m-16.8 .3h0m14.7 .2h0m-35 .5h0m35.3 .1h0m-14.3 .1h0m1.8 .2h0m-14.7 .2h0m26.4 .3h0m-6.6 .1h0m-26.6 .1h0m10.9 .1h0m-6.6 .2h0m6.5 0h0m-10.9 .5h0m23.2 .2h0m-9 .7h0m5.6 0h0m-16.8 .1h0m.5 .1h0m21.1 0h0m-4.2 .2h0m11.5 .1h0m-18.5 .2h0m7.9 .1h0m12.5 0h0m-28.8 .2h0m9.5 .1h0m4.7 0h0m-18.9 .1h0m32.1 .1h0m-2.2 .2h0m-.6 .2h0m-5.3 .1h0m-10.4 .7h0m16.8 0h0m-29.4 .7h0m16.5 0h0m1.8 .2h0m-9.3 .1h0m.3 .1h0m-9.5 .2h0m27.1 0h0m-24.8 1.1h0m1.2 .2h0m5.4 .2h0m14.2 .1h0m-13.5 .3h0m14.7 .7h0m-6.1 .3h0m-5.7 .5h0m5.5 .7h0m2.1 .2h0m-1.2 .6h0m2.2 .2h0m-5.8 .9h0m1.4 .2h0m1.9 .7h0" stroke="#8460ba" stroke-width="1.8" stroke-linecap="round" fill="none" stroke-opacity="0.66"/>
<path d="M323.9 555.9h0m-14.8 3.8h0m9.5 .3h0m-10.6 1.1h0m-4.8 .7h0m9.9 .2h0m15.2 1.3h0m-26.4 2.7h0m1.9 .1h0m5.4 .6h0m13.8 .5h0m3.2 0h0m-24.8 1.2h0m16.3 3.1h0m7.8 2.9h0m6.7 0h0m-7.5 .1h0m-9.6 2.2h0m21 .9h0m-8.6 .4h0m-19.5 1.5h0m28.5 1.1h0m-3.9 .7h0m-19.6 1.2h0m15 1.6h0m-29.4 .5h0m18 1.5h0m-7.4 .8h0" stroke="#6340a2" stroke-width="2.5" stroke-linecap="round" fill="none" stroke-opacity="0.78"/>
</g><g filter="url(#b3)">
<path d="M314.4 555.2h0m1.9 0h0m-5.3 .3h0m4 .3h0m3.4 .1h0m-7 .3h0m9.5 0h0m-11.3 .4h0m2 .3h0m1.7 .1h0m10.1 .1h0m-10.5 .4h0m-4.4 .3h0m4.2 0h0m5.5 .1h0m11.2 .5h0m.7 .6h0m-7.6 .1h0m1.5 .1h0m1 0h0m2.3 0h0m-19.1 .1h0m3.6 .1h0m5.6 .3h0m-10.8 .1h0m22.7 0h0m-9.1 .7h0m-6.7 .1h0m17.1 0h0m-8.9 .1h0m7.5 0h0m-19.3 .1h0m12.1 0h0m.1 0h0m5.2 0h0m-4.2 .6h0m8.1 .1h0m-23.7 .1h0m8.5 0h0m0 0h0m-11.9 .1h0m26.8 .6h0m-18.7 .1h0m19.3 .3h0m-18.1 .4h0m3.5 0h0m14.9 0h0m-13.4 .3h0m6 0h0m9.8 0h0m-2.1 .2h0m-18.3 .7h0m1.7 0h0m-15.2 .2h0m14.7 .1h0m14.8 .3h0m-25 .1h0m8.1 .2h0m1.1 0h0m-9.2 .1h0m10.6 0h0m14.7 .1h0m-13.6 .1h0m12.8 .2h0m-24.5 .1h0m7.8 .1h0m23.6 .1h0m-11.1 .1h0m-23.5 .1h0m5.1 0h0m11.9 0h0m15.7 .1h0m-13.3 .1h0m15.8 0h0m-8.1 .1h0m-9.3 .1h0m-.9 .3h0m16.8 0h0m-25.7 .3h0m11 .1h0m-7.6 .3h0m-4.7 .1h0m13 0h0m13.2 .1h0m-25.8 .1h0m24.4 0h0m-31.4 .1h0m3.4 0h0m7.9 0h0m4.4 .2h0m-9.6 .1h0m-7.8 .2h0m22.8 0h0m-15.9 .2h0m10 0h0m-8.4 .2h0m.1 0h0m5.7 0h0m15.9 0h0m6.7 .1h0m-1.3 .1h0m-14.7 .1h0m10.2 .1h0m-26.8 .1h0m10.1 .2h0m3.6 0h0m4.7 0h0m-22.5 .4h0m-2.5 .2h0m19.8 0h0m-14.7 .2h0m13.2 0h0m-3 .1h0m-10.6 .1h0m22.3 .3h0m6.5 .1h0m-31.2 .1h0m-.6 .1h0m11.7 0h0m14 0h0m-18.8 .1h0m9.4 0h0m14.5 0h0m3.2 0h0m-15.1 .1h0m16.2 0h0m-30.8 .2h0m30.9 0h0m-29.5 .2h0m28.2 0h0m3.5 .2h0m-36.7 .1h0m22.9 0h0m-26.1 .1h0m3.6 0h0m-1.7 .1h0m34.8 .2h0m-21.9 .2h0m2.1 0h0m18.1 .2h0m-33.9 .1h0m7.8 0h0m6.9 0h0m11.3 0h0m-7.7 .1h0m-5.5 .2h0m3.6 .2h0m12 0h0m-11 .1h0m-18 .1h0m11.1 .1h0m27.6 .3h0m-1.7 .1h0m-29 .4h0m18 0h0m-10.6 .2h0m6.9 .1h0m3.2 0h0m.6 0h0m13.6 0h0m-34.5 .2h0m5.8 0h0m13.7 .2h0m-22.4 .1h0m19.6 0h0m4.9 .1h0m-18.1 .1h0m1.2 0h0m15.5 0h0m-19.2 .1h0m15.4 .1h0m17.6 0h0m-9.8 .2h0m-25.9 .1h0m37.4 0h0m-2 .1h0m-28.3 .1h0m12 .1h0m8.2 .1h0m-21.9 .2h0m11.8 .1h0m-11.3 .2h0m.6 0h0m15.4 0h0m6.7 0h0m-15.2 .4h0m5.4 0h0m-2.8 .3h0m.7 0h0m13.2 .1h0m-8 .1h0m-24.4 .5h0m3.6 .1h0m31.7 0h0m-4.3 .1h0m-25.3 .2h0m26.1 .3h0m-18.3 .2h0m18.4 0h0m-25.4 .1h0m30.8 0h0m-25.2 .1h0m26.3 0h0m-1.4 .1h0m-24.5 .1h0m-3.6 .3h0m15.5 .1h0m8.6 0h0m-21.8 .2h0m21.6 0h0m-24.8 .1h0m14.4 .1h0m6.6 0h0m-1.1 .2h0m4.5 .3h0m4.6 0h0m1.5 0h0m-28.7 .3h0m27.5 .1h0m-18.5 .2h0m8.1 .1h0m-24.6 .1h0m6.2 0h0m19 .3h0m-12.7 .4h0m22.2 .1h0m-26.5 .2h0m2.2 .3h0m4.3 .5h0m16.9 0h0m-9.3 .2h0m-8 .1h0m6.1 0h0m12.9 0h0m2.2 .1h0m.9 0h0m-34.7 .1h0m3.3 0h0m6.8 0h0m22.4 0h0m-29.2 .1h0m6.5 0h0m12.1 0h0m3.9 0h0m-27.3 .1h0m26.9 .1h0m-12.3 .1h0m2.8 0h0m-17.5 .2h0m33.4 0h0m-15.4 .2h0m-15.6 .1h0m-.6 .1h0m33.4 0h0m-32.3 .2h0m4.9 0h0m-6.2 .1h0m4.4 0h0m2 .3h0m25.9 .4h0m-22.4 .2h0m-3.6 .3h0m-3.9 .2h0m7.1 .1h0m4.3 .4h0m-13.8 .2h0m8.1 .1h0m22.8 0h0m-26.1 .3h0m-3.1 .1h0m11.9 0h0m-1.2 .2h0m15 0h0m1.2 0h0m-14.9 .4h0m17.8 .1h0m-26.6 .4h0m0 0h0m21.1 .3h0m-9.5 .1h0m-10.3 .1h0m-5.5 .2h0m12.1 .1h0m1.4 .2h0m-1.4 1.3h0m-8.7 .1h0m14.6 .4h0m1.4 0h0m-10.5 .1h0m12.3 0h0m-7.1 .1h0m5.5 0h0m-.8 .5h0m4.6 0h0m.2 .8h0m-18.9 .4h0m16.9 0h0m-5.2 .1h0m8.6 .1h0m-15.7 .4h0m8.4 .2h0m-.1 .1h0m-10.5 .1h0m11.9 .3h0m-2.4 .1h0m1.6 .1h0m-2.9 .2h0m2.7 .1h0m.3 .2h0m-2.3 .7h0" stroke="#8460ba" stroke-width="1" stroke-linecap="round" fill="none" stroke-opacity="0.6"/>
<path d="M318.6 560h0m-10.6 1.1h0m5.1 .9h0m15.2 1.3h0m-19.1 3.4h0m13.8 .5h0m3.2 0h0m-24.8 1.2h0m16.3 3.1h0m7.8 2.9h0m-10.4 2.3h0m21 .9h0m.4 3h0m-27.3 6.3h0" stroke="#6340a2" stroke-width="1.3" stroke-linecap="round" fill="none" stroke-opacity="0.9"/>
</g></g>
<circle cx="317.7" cy="575.6" r="21.2" fill="none" stroke="#6d6a78" stroke-width="0.55"/>
<clipPath id="p33"><circle cx="365.8" cy="528.7" r="21.5"/></clipPath>
<circle cx="365.8" cy="528.7" r="21.5" fill="#ebe5f3"/>
<g clip-path="url(#p33)">
<g filter="url(#b10)">
<path d="M373.3 508.9h0m-14.1 .8h0m5.9 .3h0m6.8 .1h0m-12.4 .2h0m15.2 1.8h0m-19.3 .4h0m6.4 0h0m11 1.6h0m-21.6 .7h0m15 .3h0m.8 0h0m3.9 .4h0m-18.3 .1h0m23.8 .1h0m-24.2 .6h0m19.5 .2h0m-2.1 .2h0m-11.9 .2h0m23.2 0h0m-28.3 .2h0m28.2 .5h0m-10.9 .2h0m.8 .3h0m-7.7 1.8h0m-7.4 .2h0m-4.6 .1h0m12.6 0h0m6.1 .3h0m6.4 .2h0m-6.6 .5h0m-8.6 .2h0m11.7 .2h0m-18.9 .2h0m-1.2 1.1h0m24 0h0m-29.2 .1h0m32.6 .2h0m-13.8 .2h0m13.3 .2h0m-3.2 .1h0m-23.8 .1h0m20.8 .3h0m8.8 0h0m-29.9 .1h0m13.1 .3h0m14.2 .6h0m-33.4 1.4h0m16.2 .1h0m-3.7 .8h0m-7.3 .7h0m10.5 .1h0m14.4 .9h0m-7.1 .1h0m-20.4 .2h0m15.8 .1h0m6.4 0h0m-22.6 .1h0m21.5 0h0m-1.9 .6h0m-22 .9h0m6.4 .2h0m17.6 0h0m-19.6 .1h0m9.4 0h0m9.1 .6h0m.7 .6h0m-13.2 .2h0m4.6 0h0m9.3 .5h0m-3.9 .3h0m-6 .1h0m16.2 .3h0m-18.6 .1h0m13.5 0h0m4.6 .8h0m2.1 .5h0m7.3 .1h0m-4 .3h0m3 .4h0m-27.6 .2h0m19.1 .6h0m-27.9 .1h0m36.1 .3h0m-16.8 .1h0m-19.8 .1h0m.3 .3h0m1.4 .2h0m26.6 .1h0m-24.9 .2h0m3.7 .2h0m-4.1 .3h0m8 .1h0m14 0h0m-23.7 .4h0m8.5 .4h0m26.4 0h0m-33.4 1.2h0m30 .2h0m-28 .4h0m6.9 .1h0m4.1 .7h0m16.1 .2h0m-3.9 .1h0m-24.4 1.1h0m25.2 .4h0m2.2 .1h0m-15.8 .2h0m.1 .3h0m-7.5 .6h0m.5 .2h0m4.1 .4h0m17 .5h0m-18.1 .2h0m7.7 .4h0m-4.8 .1h0m-1.4 1.2h0m1.8 .7h0" stroke="#8460ba" stroke-width="3.75" stroke-linecap="round" fill="none" stroke-opacity="0.3"/>
</g>
<g filter="url(#b6)">
<path d="M366 508.5h0m7.3 .4h0m-14.1 .8h0m1.6 0h0m4.3 .3h0m6.8 .1h0m-12.4 .2h0m16.2 .8h0m-4.9 .8h0m-14.8 .3h0m-.6 .3h0m6.4 0h0m13.4 .8h0m-11.6 .3h0m16.5 .3h0m-7.3 .2h0m-1.9 .1h0m-19.7 .6h0m27.2 .1h0m.6 0h0m-28.7 .2h0m16.7 0h0m-3.9 .1h0m1.7 .2h0m4.3 0h0m1.8 .1h0m-18.3 .1h0m23.8 .1h0m3.7 .1h0m-4 .2h0m-23.9 .3h0m19.5 .2h0m1.1 0h0m-3.2 .2h0m6.8 0h0m-18.7 .2h0m23.2 0h0m-1.4 .1h0m-26.9 .1h0m28.2 .5h0m-6.7 .1h0m-4.2 .1h0m-22.5 .2h0m23.3 .1h0m-14.2 .3h0m2 0h0m-11.2 .6h0m15.7 .9h0m7 0h0m-14.4 .2h0m-4.6 .1h0m12.6 0h0m6.1 .3h0m8.5 .6h0m-28.2 .3h0m10.4 .2h0m12.2 0h0m-18.9 .2h0m10 .3h0m-7.6 .1h0m-2.1 .1h0m4.1 .2h0m-5.6 .4h0m24 0h0m-29.2 .1h0m32.6 .2h0m-13.8 .2h0m16.8 .1h0m-3.5 .1h0m-16 .3h0m9.8 .2h0m8.8 0h0m-29.9 .1h0m10 0h0m-2.3 .1h0m5.4 .2h0m5.1 0h0m11.7 0h0m-31.2 .1h0m28.6 .5h0m-13.8 .8h0m-3.4 .7h0m10.4 .2h0m-19.5 .1h0m20.9 0h0m-9.7 .2h0m-5.8 .3h0m11.7 .1h0m-16.5 .3h0m26 .2h0m-28.5 .1h0m23.8 0h0m-22.3 .2h0m26.9 .1h0m-22.5 .2h0m-10.8 .4h0m2.7 0h0m14.2 .2h0m5.8 0h0m-20.4 .2h0m27.1 0h0m-11.3 .1h0m6.4 0h0m-22.6 .1h0m21.5 0h0m-22.1 .1h0m20.2 .5h0m17.9 .1h0m-39.9 .8h0m26.4 0h0m-23.6 .2h0m16.3 0h0m-14.7 .1h0m9.4 0h0m-7 .2h0m16.1 .4h0m5.4 0h0m10.4 0h0m-5 .5h0m-10.1 .1h0m13.8 0h0m-34.5 .2h0m12.1 0h0m-5.3 .2h0m14.6 .3h0m10.3 .2h0m-20.2 .2h0m3.9 .2h0m8.4 0h0m3.9 .1h0m-18.6 .1h0m24.7 .1h0m-6.6 .7h0m9.4 .6h0m-4 .3h0m-33.4 1.3h0m36.1 .3h0m-16.8 .1h0m8.4 .2h0m-27.9 .2h0m36.6 .1h0m-35.2 .1h0m1.6 0h0m18.4 .1h0m-14.6 .4h0m27.2 .2h0m-34.1 .1h0m2.8 0h0m14.2 0h0m-6.2 .1h0m14 0h0m-8.5 .3h0m-6.7 .5h0m26.4 0h0m-23 .5h0m-10.4 .7h0m30 .2h0m-4.2 .2h0m-23.8 .2h0m7.9 0h0m-1 .1h0m17.9 0h0m-13.8 .7h0m6.3 .3h0m5.9 0h0m-1.1 .2h0m-23.3 .9h0m4.6 .2h0m20.6 .2h0m2.2 .1h0m-15.8 .2h0m11 .6h0m-18.4 .3h0m.5 .2h0m4.1 .4h0m17 .5h0m-21.1 .6h0m10.7 0h0m4.8 .6h0m-11 .7h0" stroke="#8460ba" stroke-width="1.8" stroke-linecap="round" fill="none" stroke-opacity="0.66"/>
<path d="M374.7 512.1h0m-8.5 3h0m9.9 5.6h0m-6.6 .5h0m-8.6 .2h0m15.3 2.3h0m-23.8 .1h0m-6.4 2.7h0m15.7 1.7h0m14.4 .9h0m-23.9 2.2h0m17.6 0h0m-13.6 1.5h0m10 .8h0m5.1 .5h0m6.7 1.3h0m6.3 .8h0m-27.6 .2h0m19.1 .6h0m-28.4 .6h0m28.3 .6h0m-24.9 .2h0m-2.1 1h0m30.6 3.2h0m-16.6 2.2h0m-4 1.9h0m2.9 .5h0m.4 1.9h0" stroke="#6340a2" stroke-width="2.5" stroke-linecap="round" fill="none" stroke-opacity="0.78"/>
</g><g filter="url(#b3)">
<path d="M364.7 507.9h0m2.9 .5h0m.7 0h0m1.6 .1h0m2.4 .7h0m-4.7 .1h0m1.5 .4h0m-11.9 .9h0m1.3 .1h0m-.8 .1h0m16.5 0h0m1.1 0h0m-14 .1h0m6 .1h0m2.1 0h0m-5.4 .1h0m.3 .1h0m-8.4 .1h0m20.6 .1h0m-1.2 .3h0m-3.8 .2h0m-4.9 .4h0m11.9 0h0m-21.8 .3h0m19.3 .2h0m-12.6 .1h0m13.6 .1h0m-2.1 .1h0m.7 .1h0m-9.1 .1h0m5.8 0h0m-.4 .1h0m-5.4 .5h0m1.9 .2h0m-15.2 .1h0m22.1 .3h0m5 0h0m-.2 .1h0m-9.9 .1h0m-3.9 .2h0m1.4 0h0m-17.3 .2h0m14.6 .4h0m15.3 0h0m.4 .1h0m.3 .2h0m-26.8 .2h0m-3.5 .5h0m14.9 0h0m17.2 0h0m-12.4 .3h0m6.2 0h0m-21.9 .1h0m-2.8 .1h0m27.3 0h0m-20.3 .2h0m6.1 .2h0m11.8 0h0m-15.1 .1h0m.3 0h0m-2.3 .1h0m5.3 .1h0m-11.7 .1h0m28.3 .3h0m-32 .5h0m22.9 0h0m1.5 0h0m-24.6 .1h0m28.2 .4h0m-30.2 .1h0m27.4 .2h0m1 .5h0m-15.8 .2h0m7.5 0h0m7 0h0m-27.5 .2h0m6.3 .3h0m24.8 .1h0m-29.2 .1h0m1.9 0h0m19.8 0h0m-15.3 .2h0m19.6 .2h0m-1.3 .3h0m-7.8 .3h0m-17.5 .1h0m13.6 .2h0m-15.5 .2h0m7.8 0h0m19.2 .1h0m11.9 .1h0m-28.7 .3h0m.2 0h0m17.3 .2h0m-5.3 .3h0m6.6 0h0m-5.7 .3h0m-2.2 .3h0m1.1 .1h0m-.4 .1h0m11.3 0h0m4.7 .1h0m-27.5 .1h0m29 .1h0m-38 .4h0m4.8 0h0m6.5 0h0m26.9 0h0m-17.9 .1h0m11.1 0h0m-3.6 .1h0m-4.9 .1h0m4.6 .2h0m-24.9 .1h0m5.3 0h0m2.9 0h0m24.1 0h0m-29.6 .1h0m32.6 0h0m-35.5 .4h0m20.7 0h0m14.5 .2h0m-18.6 .1h0m4.2 0h0m-9.7 .1h0m10.9 .2h0m-.3 .1h0m-22.9 .2h0m-2.9 .1h0m7.1 0h0m8.4 .1h0m.5 .2h0m16.9 0h0m-4.6 .1h0m-21.3 .1h0m-4.2 .1h0m35.9 0h0m-38.3 .6h0m.8 0h0m8.7 0h0m6.5 .2h0m1.6 0h0m6.5 .2h0m-8.9 .1h0m-.1 .2h0m23.5 0h0m-25.4 .1h0m5.2 .3h0m11 0h0m-.9 .3h0m-27.4 .2h0m7.8 0h0m13.1 0h0m2.2 .1h0m14 .3h0m-3.5 .4h0m-27 .1h0m-7 .1h0m4.1 .1h0m18.9 .1h0m-24.4 .1h0m38.1 .2h0m-11.6 .1h0m-22.7 .1h0m4.7 .2h0m21.8 0h0m3.9 .1h0m6.7 0h0m-37.6 .2h0m7.4 .2h0m2.3 0h0m20.8 .1h0m-12.7 .3h0m-9.2 .1h0m9.3 0h0m4.4 0h0m4.7 0h0m8.1 0h0m-21 .2h0m-9.5 .2h0m25.8 .1h0m-24 .4h0m22.3 .1h0m-27.7 .1h0m6.9 .1h0m21.4 0h0m-25.8 .2h0m32.1 0h0m-37.7 .1h0m3.4 0h0m12.7 0h0m15.6 0h0m.2 0h0m-29.8 .1h0m20.1 .3h0m9.9 0h0m2 0h0m-.2 .3h0m-34.9 .2h0m13.7 .1h0m13.4 .2h0m-14.6 .1h0m12.9 .3h0m-13.6 .2h0m5.8 .4h0m-5.7 .1h0m-3.6 .2h0m-4.5 .1h0m23 .8h0m5.7 0h0m-27 .1h0m13.8 0h0m1.8 0h0m1.5 .5h0m4.1 .1h0m-8.1 .2h0m-13 .2h0m31.3 0h0m1.3 0h0m-27.9 .3h0m7.9 .2h0m9 .3h0m-6.4 .1h0m1 .1h0m-1.9 .1h0m6.6 .1h0m9.1 0h0m1.6 .3h0m-14.4 .1h0m-17.2 .2h0m8.7 .2h0m21.8 .1h0m-.7 .4h0m-28.8 .3h0m10.6 .2h0m-5.8 .1h0m-7.9 .2h0m24.3 0h0m-13.4 .4h0m11.4 0h0m7.3 0h0m-24.9 .2h0m-.3 .7h0m14.7 0h0m-10.7 .4h0m15.5 .1h0m1.7 .2h0m-16.6 .4h0m12.7 0h0m-2.4 .1h0m5.5 0h0m-8.4 .4h0m-11.9 .1h0m8.6 0h0m2.8 0h0m2 .3h0m-2.2 .2h0m-10.8 .1h0m18.9 .2h0m-1 .2h0m-7.6 .1h0m4.7 0h0m-3.8 .3h0m8.4 0h0m-7.5 .3h0m-7.4 .4h0m4.1 0h0m8.6 0h0m-14 .3h0m2.4 .1h0m-.8 .1h0m11.2 0h0m-7.5 .2h0m.7 .1h0m5.3 .2h0m-8.8 .1h0m1.8 .3h0m0 .4h0m2.7 0h0m-2.5 .6h0" stroke="#8460ba" stroke-width="1" stroke-linecap="round" fill="none" stroke-opacity="0.6"/>
<path d="M374.7 512.1h0m-8.5 3h0m-5.3 6.3h0m15.3 2.3h0m-30.2 2.8h0m30.1 2.6h0m-19.9 3.7h0m28.1 3.4h0m-8.5 .8h0m-.1 1.2h0m-24.9 .2h0m-2.1 1h0m30.6 3.2h0m-17.3 6.5h0" stroke="#6340a2" stroke-width="1.3" stroke-linecap="round" fill="none" stroke-opacity="0.9"/>
</g></g>
<circle cx="365.8" cy="528.7" r="21.2" fill="none" stroke="#6d6a78" stroke-width="0.55"/>
<clipPath id="p34"><circle cx="365.8" cy="575.6" r="21.5"/></clipPath>
<circle cx="365.8" cy="575.6" r="21.5" fill="#efebf4"/>
<g clip-path="url(#p34)">
<g filter="url(#b10)">
<path d="M372.3 556.8h0m-14.7 .5h0m2.1 .7h0m20 1.5h0m-20.2 .1h0m-6.6 .4h0m-.5 .3h0m3.2 .6h0m-5.1 .3h0m11.8 1.2h0m20.5 .4h0m-7.9 1.1h0m-9.3 .2h0m-6.7 .6h0m17.2 .2h0m-27.1 .6h0m25.7 0h0m-3.5 .2h0m-19.9 .8h0m4.2 .1h0m10.4 .1h0m-2.7 .1h0m-14.1 .4h0m5.5 .8h0m17.6 .3h0m-12.9 1.2h0m-13.3 .2h0m1.1 1.6h0m23.7 0h0m13.2 .5h0m-11.3 .1h0m12.6 .2h0m-10.6 .1h0m2.8 .2h0m-17.2 2.6h0m23.9 .7h0m-39.4 .8h0m29.7 .6h0m-2.6 .6h0m-2.2 .4h0m4.3 .1h0m-15.9 .3h0m16 .2h0m-15.9 .1h0m16.6 0h0m-23.5 .5h0m17.3 1.7h0m16.3 .6h0m-22.5 .3h0m8.5 2.8h0m-20.9 1.6h0m20.3 .1h0m-21.2 .5h0m4.1 0h0m-2.7 .1h0m23.5 0h0m9.2 0h0m-12.3 1h0m-5.7 .4h0m13.2 .6h0m-4.1 .1h0m-21.7 .4h0m13 0h0m7.8 .8h0m-20.6 .3h0m25.6 0h0m-2.7 .5h0m.3 1.8h0m-13.5 2.8h0" stroke="#8460ba" stroke-width="3.75" stroke-linecap="round" fill="none" stroke-opacity="0.3"/>
</g>
<g filter="url(#b6)">
<path d="M369.1 555.6h0m3.2 1.2h0m-6.7 .3h0m-8 .2h0m2.1 .7h0m15.7 .4h0m4.3 1.1h0m-20.2 .1h0m-4 .2h0m-2.6 .2h0m-1.1 .2h0m3.8 .7h0m-5.1 .3h0m30.7 .5h0m-18.9 .7h0m20.5 .4h0m-17.2 1.3h0m-9.1 .1h0m22.4 .2h0m-20 .3h0m17.2 .2h0m5.5 0h0m-6.9 .6h0m-3.5 .2h0m-6.9 .1h0m4 .4h0m-17 .3h0m4.2 .1h0m10.4 .1h0m-2.7 .1h0m-14.1 .4h0m16.8 .5h0m5.7 .5h0m-8.2 .7h0m14.1 0h0m-18.2 .6h0m-13.3 .2h0m31.3 .4h0m-28.9 1h0m-1.3 .2h0m23.7 0h0m13.2 .5h0m-11.3 .1h0m8.8 .1h0m3.8 .1h0m-10.6 .1h0m-23.5 1.4h0m21.6 1.2h0m-12.5 .2h0m17.8 .3h0m6.1 .4h0m-39.4 .8h0m11.8 .1h0m15.3 1.1h0m-8.3 .6h0m-5.5 .2h0m16 .2h0m2.9 0h0m-18.8 .1h0m-8.7 .4h0m34.7 0h0m-32.9 .1h0m8.4 .3h0m17.7 .2h0m.7 .5h0m3.1 .1h0m-18.6 .8h0m22.3 .4h0m-33 .1h0m1.7 .2h0m8.8 0h0m8.5 2.8h0m-21.9 .1h0m33.5 1h0m-30.9 .5h0m20.4 0h0m-1.7 .1h0m7.6 .1h0m-28.8 .4h0m4.1 0h0m26.2 .4h0m-8.5 .7h0m5.5 0h0m-11.2 .4h0m-3.1 .5h0m16.3 .1h0m-4.1 .1h0m-23.6 .3h0m1.9 .1h0m13 0h0m2.2 0h0m5.6 .8h0m-17.4 .1h0m-3.2 .2h0m25.6 0h0m-2.7 .5h0m-1.2 .4h0m.6 1.1h0m-3.8 .2h0m4.7 .1h0m-18 .5h0m.2 0h0m16.5 .9h0m-5.2 .6h0m-4.7 1.8h0" stroke="#8460ba" stroke-width="1.8" stroke-linecap="round" fill="none" stroke-opacity="0.66"/>
<path d="M352.4 560.3h0m22.5 3.6h0m-25.9 1.6h0m5.6 2.5h0m17.6 .3h0m5.3 4.1h0m-3 4.7h0m-4.8 1h0m4.3 .1h0m.8 .6h0m-6.2 2.2h0m-18.6 5.3h0m.5 .7h0m23.5 0h0m9.2 0h0m-20.7 8.7h0" stroke="#6340a2" stroke-width="2.5" stroke-linecap="round" fill="none" stroke-opacity="0.78"/>
</g><g filter="url(#b3)">
<path d="M364.2 555.1h0m5.9 .3h0m-5.2 1h0m6.9 .2h0m-10.3 .2h0m8.2 .8h0m1.8 .2h0m3.6 .5h0m-17.5 .2h0m-1.1 .1h0m9.1 .3h0m9 0h0m-16 .5h0m-3.6 .1h0m3.3 0h0m16 .5h0m-12.2 .5h0m-11.4 .7h0m29.4 .6h0m-20.2 .8h0m11.3 .1h0m-.7 .2h0m4.4 .3h0m.1 .2h0m-25 .2h0m21.8 0h0m-22.1 .3h0m22.4 .1h0m-13.2 .4h0m15.8 0h0m-3 .1h0m-15.4 .4h0m24.4 .2h0m-31.1 .1h0m3 0h0m15.7 .9h0m4.2 0h0m-22.1 .1h0m2.1 0h0m20.9 0h0m-1.2 .3h0m-22.7 .1h0m16.1 .4h0m-3.5 .2h0m7.9 .1h0m-7.3 .1h0m-9.4 .4h0m19.6 .1h0m6.2 0h0m4.1 0h0m-31.4 .3h0m29.9 0h0m-29.8 .1h0m5 0h0m20.2 0h0m2.7 .3h0m-8.9 .2h0m6.5 .2h0m.5 .4h0m5.2 .4h0m-12.3 .7h0m-18.9 .1h0m1.6 .3h0m21.9 0h0m10.1 0h0m-25.1 .1h0m-5.5 .1h0m19.9 .1h0m4.9 0h0m-18.2 .1h0m-12.7 .1h0m23.9 0h0m-27.2 .4h0m9.8 .2h0m30.7 .4h0m-22 .7h0m4.9 0h0m-12.4 .1h0m-5.5 .6h0m11.1 .2h0m20.1 .1h0m-26.2 .1h0m-4.4 .8h0m34.7 .3h0m-41.7 .3h0m5 0h0m21.3 0h0m14 0h0m-30.6 .6h0m-8.1 .5h0m34.6 .2h0m-13.2 .1h0m16.5 0h0m-7.3 .1h0m-30.2 .7h0m28.7 .2h0m-8.7 .3h0m10 .4h0m-15 .1h0m-13.8 .4h0m12.6 0h0m5.9 .2h0m-13.6 .3h0m30 .4h0m-22.4 .1h0m24.1 0h0m-25.3 .2h0m-12.9 .4h0m2.5 .1h0m30 .1h0m-17.7 .2h0m-14.4 .2h0m24.3 .1h0m-22.7 .2h0m25.1 .1h0m-9.2 .2h0m2 0h0m-18.7 .1h0m21.5 .1h0m-18.8 .5h0m34.4 .2h0m-1.2 .3h0m-28.5 .2h0m3.4 .1h0m-5.4 .3h0m11.4 0h0m-14.3 .1h0m15.2 .2h0m-17.2 .2h0m4.7 0h0m5.1 .4h0m-6.4 .1h0m27.5 .1h0m4.4 0h0m-29 .1h0m-.3 .4h0m19 0h0m11.1 .1h0m-7.6 .1h0m8 0h0m-20.1 .1h0m-14 .2h0m7.4 0h0m17.2 .2h0m-5.7 .1h0m-9 .1h0m22.8 0h0m-28.9 .1h0m23.4 .4h0m-21.8 .2h0m2.9 0h0m22 0h0m1.7 .4h0m-23.1 .1h0m-9.5 .3h0m10.5 0h0m6.3 .2h0m16.2 .2h0m-11.3 .1h0m9.7 .1h0m-28.2 .4h0m12.5 .3h0m-10.7 .8h0m13.4 1h0m-3.3 .6h0m4.3 .3h0m-10.1 .2h0m-1.9 .8h0m6.7 0h0m4.3 1h0m-5.3 .2h0m2.2 0h0m4.8 .4h0m2.9 .1h0m-13.9 .4h0m2.8 .1h0m-.1 .7h0m8.3 0h0m-9 .1h0m-.8 .1h0" stroke="#8460ba" stroke-width="1" stroke-linecap="round" fill="none" stroke-opacity="0.6"/>
<path d="M352.4 560.3h0m-3.4 5.2h0m5.6 2.5h0m17.6 .3h0m2.3 8.8h0m-4.8 1h0m4.3 .1h0m-5.4 2.8h0" stroke="#6340a2" stroke-width="1.3" stroke-linecap="round" fill="none" stroke-opacity="0.9"/>
</g></g>
<circle cx="365.8" cy="575.6" r="21.2" fill="none" stroke="#6d6a78" stroke-width="0.55"/>
<text x="419.6" y="483.6" font-size="12.6" stroke="#000" stroke-width=".16">m</text>
<rect x="478.1" y="546.7" width="5.3" height="44" fill="#ff9503"/>
<rect x="485.2" y="571.8" width="5.3" height="18.92" fill="#fdd377"/>
<path d="M480.8 544.5V548.9M479.6 544.5h2.4M479.6 548.9h2.4" stroke="#111" stroke-width="0.5" fill="none"/>
<path d="M487.9 568.3V575.3M486.7 568.3h2.4M486.7 575.3h2.4" stroke="#111" stroke-width="0.5" fill="none"/>
<path d="M480 545.1h0m1.6 1.8h0m-1 1.7h0" stroke="#111" stroke-width="1.6" stroke-linecap="round" fill="none"/>
<path d="M487.1 569.1h0m1.6 2.5h0m-1 3.2h0" stroke="#111" stroke-width="1.6" stroke-linecap="round" fill="none"/>
<rect x="497.2" y="531.3" width="5.3" height="59.4" fill="#ff9503"/>
<rect x="504.3" y="562.1" width="5.3" height="28.6" fill="#fdd377"/>
<path d="M499.8 528.7V533.9M498.6 528.7h2.4M498.6 533.9h2.4" stroke="#111" stroke-width="0.5" fill="none"/>
<path d="M506.9 560.8V563.4M505.7 560.8h2.4M505.7 563.4h2.4" stroke="#111" stroke-width="0.5" fill="none"/>
<path d="M499 529.3h0m1.6 2.3h0m-1 1.9h0" stroke="#111" stroke-width="1.6" stroke-linecap="round" fill="none"/>
<path d="M506.2 561.1h0m1.6 .9h0m-1 1.2h0" stroke="#111" stroke-width="1.6" stroke-linecap="round" fill="none"/>
<rect x="516.2" y="524.3" width="5.3" height="66.4" fill="#ff9503"/>
<rect x="523.3" y="545.4" width="5.3" height="45.3" fill="#fdd377"/>
<path d="M518.9 523.4V525.1M517.6 523.4h2.4M517.6 525.1h2.4" stroke="#111" stroke-width="0.5" fill="none"/>
<path d="M526 540.5V550.2M524.8 540.5h2.4M524.8 550.2h2.4" stroke="#111" stroke-width="0.5" fill="none"/>
<path d="M518.1 523.6h0m1.6 .7h0m-1 .7h0" stroke="#111" stroke-width="1.6" stroke-linecap="round" fill="none"/>
<path d="M525.2 541.8h0m1.6 3.3h0m-1 4.4h0" stroke="#111" stroke-width="1.6" stroke-linecap="round" fill="none"/>
<rect x="535.2" y="527.8" width="5.3" height="62.9" fill="#ff9503"/>
<rect x="542.4" y="560.3" width="5.3" height="30.4" fill="#fdd377"/>
<path d="M537.9 523.4V532.2M536.7 523.4h2.4M536.7 532.2h2.4" stroke="#111" stroke-width="0.5" fill="none"/>
<path d="M545 557.3V563.4M543.8 557.3h2.4M543.8 563.4h2.4" stroke="#111" stroke-width="0.5" fill="none"/>
<path d="M537.2 524.5h0m1.6 3.7h0m-1 3.3h0" stroke="#111" stroke-width="1.6" stroke-linecap="round" fill="none"/>
<path d="M544.2 558h0m1.6 2.2h0m-1 2.8h0" stroke="#111" stroke-width="1.6" stroke-linecap="round" fill="none"/>
<rect x="554.3" y="525.6" width="5.3" height="65.1" fill="#ff9503"/>
<rect x="561.4" y="545.4" width="5.3" height="45.3" fill="#fdd377"/>
<path d="M557 525.1V526M555.8 525.1h2.4M555.8 526h2.4" stroke="#111" stroke-width="0.5" fill="none"/>
<path d="M564.1 542.3V548.5M562.9 542.3h2.4M562.9 548.5h2.4" stroke="#111" stroke-width="0.5" fill="none"/>
<path d="M556.2 525.2h0m1.6 .4h0m-1 .4h0" stroke="#111" stroke-width="1.6" stroke-linecap="round" fill="none"/>
<path d="M563.3 543.1h0m1.6 2.1h0m-1 2.8h0" stroke="#111" stroke-width="1.6" stroke-linecap="round" fill="none"/>
<rect x="573.4" y="522.5" width="5.3" height="68.2" fill="#ff9503"/>
<rect x="580.5" y="533.5" width="5.3" height="57.2" fill="#fdd377"/>
<path d="M576 516.3V528.7M574.8 516.3h2.4M574.8 528.7h2.4" stroke="#111" stroke-width="0.5" fill="none"/>
<path d="M583.1 530.4V536.6M581.9 530.4h2.4M581.9 536.6h2.4" stroke="#111" stroke-width="0.5" fill="none"/>
<path d="M575.2 517.9h0m1.6 5.2h0m-1 4.6h0" stroke="#111" stroke-width="1.6" stroke-linecap="round" fill="none"/>
<path d="M582.4 531.2h0m1.6 2.1h0m-1 2.8h0" stroke="#111" stroke-width="1.6" stroke-linecap="round" fill="none"/>
<rect x="592.4" y="528.2" width="5.3" height="62.5" fill="#ff9503"/>
<rect x="599.5" y="559.9" width="5.3" height="30.8" fill="#fdd377"/>
<path d="M595.1 524.7V531.7M593.9 524.7h2.4M593.9 531.7h2.4" stroke="#111" stroke-width="0.5" fill="none"/>
<path d="M602.2 555.5V564.3M601 555.5h2.4M601 564.3h2.4" stroke="#111" stroke-width="0.5" fill="none"/>
<path d="M594.3 525.6h0m1.6 3h0m-1 2.6h0" stroke="#111" stroke-width="1.6" stroke-linecap="round" fill="none"/>
<path d="M601.4 556.6h0m1.6 3.1h0m-1 3.9h0" stroke="#111" stroke-width="1.6" stroke-linecap="round" fill="none"/>
<line x1="475.5" y1="502.3" x2="475.5" y2="591.2" stroke="#000" stroke-width="1"/>
<line x1="475" y1="590.7" x2="607.4" y2="590.7" stroke="#000" stroke-width="1"/>
<line x1="472.1" y1="590.7" x2="475.5" y2="590.7" stroke="#000" stroke-width="1"/>
<text x="471.5" y="593" font-size="6.3" text-anchor="end">0</text>
<line x1="472.1" y1="568.7" x2="475.5" y2="568.7" stroke="#000" stroke-width="1"/>
<text x="471.5" y="571" font-size="6.3" text-anchor="end">50</text>
<line x1="472.1" y1="546.7" x2="475.5" y2="546.7" stroke="#000" stroke-width="1"/>
<text x="471.5" y="549" font-size="6.3" text-anchor="end">100</text>
<line x1="472.1" y1="524.7" x2="475.5" y2="524.7" stroke="#000" stroke-width="1"/>
<text x="471.5" y="527" font-size="6.3" text-anchor="end">150</text>
<line x1="472.1" y1="502.7" x2="475.5" y2="502.7" stroke="#000" stroke-width="1"/>
<text x="471.5" y="505" font-size="6.3" text-anchor="end">200</text>
<line x1="484.3" y1="590.7" x2="484.3" y2="593.9" stroke="#000" stroke-width="1"/>
<text font-size="7" text-anchor="end" transform="translate(485.9 597.7) rotate(-45)">NT1</text>
<line x1="503.4" y1="590.7" x2="503.4" y2="593.9" stroke="#000" stroke-width="1"/>
<text font-size="7" text-anchor="end" transform="translate(505 597.7) rotate(-45)">gKAT6A</text>
<line x1="522.4" y1="590.7" x2="522.4" y2="593.9" stroke="#000" stroke-width="1"/>
<text font-size="7" text-anchor="end" transform="translate(524 597.7) rotate(-45)">gKAT6B</text>
<line x1="541.5" y1="590.7" x2="541.5" y2="593.9" stroke="#000" stroke-width="1"/>
<text font-size="7" text-anchor="end" transform="translate(543.1 597.7) rotate(-45)">gMEAF6</text>
<line x1="560.5" y1="590.7" x2="560.5" y2="593.9" stroke="#000" stroke-width="1"/>
<text font-size="7" text-anchor="end" transform="translate(562.1 597.7) rotate(-45)">gING5</text>
<line x1="579.6" y1="590.7" x2="579.6" y2="593.9" stroke="#000" stroke-width="1"/>
<text font-size="7" text-anchor="end" transform="translate(581.2 597.7) rotate(-45)">gJADE3</text>
<line x1="598.6" y1="590.7" x2="598.6" y2="593.9" stroke="#000" stroke-width="1"/>
<text font-size="7" text-anchor="end" transform="translate(600.2 597.7) rotate(-45)">gKAT7</text>
<text font-size="7.03" text-anchor="middle" textLength="119.6" lengthAdjust="spacingAndGlyphs" transform="translate(454.8 547.2) rotate(-90)">% Colony Area (Normalized to control)</text>
<text x="500.4" y="528.4" font-size="9" text-anchor="middle" letter-spacing=".6">***</text>
<text x="519.8" y="523.2" font-size="9" text-anchor="middle" letter-spacing=".6">***</text>
<text x="538.4" y="524.4" font-size="9" text-anchor="middle" letter-spacing=".6">**</text>
<text x="557.8" y="524.4" font-size="9" text-anchor="middle" letter-spacing=".6">***</text>
<text x="576.4" y="515" font-size="9" text-anchor="middle" letter-spacing=".6">**</text>
<text x="595.6" y="519" font-size="9" text-anchor="middle" letter-spacing=".6">**</text>
<text x="507.8" y="561.6" font-size="9" text-anchor="middle" letter-spacing=".6">**</text>
<text x="527" y="540.8" font-size="9" text-anchor="middle" letter-spacing=".6">**</text>
<text x="545.6" y="557.4" font-size="9" text-anchor="middle" letter-spacing=".6">**</text>
<text x="566" y="543.4" font-size="9" text-anchor="middle" letter-spacing=".6">***</text>
<text x="584.8" y="526.6" font-size="9" text-anchor="middle" letter-spacing=".6">***</text>
<text x="603" y="555.6" font-size="9" text-anchor="middle" letter-spacing=".6">*</text>
<rect x="577.9" y="484.5" width="9.8" height="4.2" fill="#ff9503"/>
<text x="591.9" y="489" font-size="7.17" textLength="21.5" lengthAdjust="spacingAndGlyphs">DMSO</text>
<rect x="577.9" y="497" width="9.8" height="4" fill="#fdd377"/>
<text x="591.9" y="501.6" font-size="7.33" textLength="11.4" lengthAdjust="spacingAndGlyphs">Tax</text>
<text x="6.9" y="626.8" font-size="12.6" stroke="#000" stroke-width=".16">n</text>
<rect x="46" y="687.2" width="85" height="41.3" fill="#c2c2c2"/>
<rect x="46" y="687.2" width="85" height="41.3" fill="url(#ngr)"/>
<rect x="50.4" y="702.6" width="21.2" height="6.4" rx="3.2" fill="#141414" opacity="0.95" filter="url(#b10)"/>
<rect x="51" y="703.8" width="20" height="5.2" rx="2.6" fill="#050505" opacity="0.9" filter="url(#b6)"/>
<rect x="50" y="708.1" width="22.5" height="5" rx="2.5" fill="#3a3a3a" opacity="0.6" filter="url(#b10)"/>
<rect x="70" y="704" width="7" height="4" rx="2" fill="#555" opacity="0.5" filter="url(#b10)"/>
<rect x="82.3" y="713.4" width="15.1" height="2.4" rx="1.2" fill="#9a9a9a" opacity="0.55" filter="url(#b10)"/>
<rect x="95.5" y="708" width="1.800" height="7" fill="#b0b0b0" opacity=".6" filter="url(#b10)"/>
<rect x="106.4" y="688.5" width="23.5" height="39" rx="4" fill="#6e6e6e" opacity=".7" filter="url(#b15)"/>
<rect x="106.8" y="698.1" width="22.8" height="5.4" rx="2.7" fill="#222" opacity="0.9" filter="url(#b6)"/>
<rect x="108" y="711.5" width="21" height="9" rx="4.5" fill="#4c4c4c" opacity="0.6" filter="url(#b10)"/>
<rect x="127.400" y="687.5" width="3" height="20" fill="#666" opacity=".55" filter="url(#b10)"/>
<rect x="46" y="734.2" width="85" height="17.8" fill="#bcbcbc"/>
<rect x="52" y="740.7" width="23.6" height="4.6" rx="2.3" fill="#0a0a0a" opacity="1" filter="url(#b6)"/>
<rect x="82.3" y="741.8" width="20.3" height="4.4" rx="2.2" fill="#0a0a0a" opacity="1" filter="url(#b6)"/>
<rect x="107.5" y="742.6" width="22.1" height="3.6" rx="1.8" fill="#0a0a0a" opacity="1" filter="url(#b6)"/>
<text x="0.4" y="701.8" font-size="7.83" textLength="39" lengthAdjust="spacingAndGlyphs" stroke="#000" stroke-width=".14">GFP-BRPF1</text>
<text x="16.8" y="709.9" font-size="7.91" textLength="22.6" lengthAdjust="spacingAndGlyphs" stroke="#000" stroke-width=".14">BRPF1</text>
<path d="M41.500 695.7l3.800 1.900-3.800 1.900z M41.500 703.800l3.800 1.900-3.800 1.900z" fill="#000"/>
<text x="13.4" y="746.2" font-size="7.78" textLength="30.3" lengthAdjust="spacingAndGlyphs" stroke="#000" stroke-width=".14">LaminB1</text>
<text x="132.6" y="705.8" font-size="7.84" textLength="29.6" lengthAdjust="spacingAndGlyphs" stroke="#000" stroke-width=".14">150 kDA</text>
<text x="132.6" y="741.8" font-size="7.85" textLength="25.2" lengthAdjust="spacingAndGlyphs" stroke="#000" stroke-width=".14">75 kDA</text>
<text font-size="7.96" textLength="14.5" lengthAdjust="spacingAndGlyphs" transform="translate(61.6 683.2) rotate(-44)" stroke="#000" stroke-width=".14">NT1</text>
<text font-size="8.11" textLength="34" lengthAdjust="spacingAndGlyphs" transform="translate(86.6 683) rotate(-46)" stroke="#000" stroke-width=".14">BRPF1 g1</text>
<text font-size="8" textLength="40" lengthAdjust="spacingAndGlyphs" transform="translate(112.4 678.2) rotate(-45)" stroke="#000" stroke-width=".14">BRPF1 g1 +</text>
<text font-size="7.41" textLength="32.5" lengthAdjust="spacingAndGlyphs" transform="translate(122.2 684.6) rotate(-43)" stroke="#000" stroke-width=".14">BRPF1 OE</text>
<text x="182" y="627.8" font-size="12.6" stroke="#000" stroke-width=".16">o</text>
<text x="266.6" y="640.6" font-size="8.51" text-anchor="middle" textLength="15.5" lengthAdjust="spacingAndGlyphs" stroke="#000" stroke-width=".14">NT1</text>
<text x="362" y="640.6" font-size="8.82" text-anchor="middle" textLength="37" lengthAdjust="spacingAndGlyphs" stroke="#000" stroke-width=".14">BRPF1 g1</text>
<line x1="231.9" y1="647.6" x2="299.3" y2="647.6" stroke="#444" stroke-width="0.6"/>
<line x1="329.6" y1="647.6" x2="393.5" y2="647.6" stroke="#444" stroke-width="0.6"/>
<text x="233" y="661.5" font-size="8.79" textLength="13.6" lengthAdjust="spacingAndGlyphs" stroke="#000" stroke-width=".14">Cnt</text>
<text x="233" y="670.6" font-size="5.94" textLength="14.6" lengthAdjust="spacingAndGlyphs" stroke="#000" stroke-width=".14">(GFP)</text>
<text x="268.5" y="661.5" font-size="8.83" textLength="38.7" lengthAdjust="spacingAndGlyphs" stroke="#000" stroke-width=".14">BRPF1 OE</text>
<text x="265.8" y="670.6" font-size="5.84" textLength="45.3" lengthAdjust="spacingAndGlyphs" stroke="#000" stroke-width=".14">(g1 PAM mutant)</text>
<text x="328.8" y="661.5" font-size="8.79" textLength="13.6" lengthAdjust="spacingAndGlyphs" stroke="#000" stroke-width=".14">Cnt</text>
<text x="328.8" y="670.6" font-size="5.94" textLength="14.6" lengthAdjust="spacingAndGlyphs" stroke="#000" stroke-width=".14">(GFP)</text>
<text x="363.9" y="661.5" font-size="8.83" textLength="38.7" lengthAdjust="spacingAndGlyphs" stroke="#000" stroke-width=".14">BRPF1 OE</text>
<text x="361.2" y="670.6" font-size="5.84" textLength="45.3" lengthAdjust="spacingAndGlyphs" stroke="#000" stroke-width=".14">(g1 PAM mutant)</text>
<text x="186.6" y="704.8" font-size="8.89" textLength="25.6" lengthAdjust="spacingAndGlyphs" stroke="#000" stroke-width=".14">DMSO</text>
<text x="191.7" y="755.3" font-size="8.56" textLength="20.5" lengthAdjust="spacingAndGlyphs" stroke="#000" stroke-width=".14">Taxol</text>
<clipPath id="p35"><circle cx="239.8" cy="701.8" r="22.7"/></clipPath>
<circle cx="239.8" cy="701.8" r="22.7" fill="#e3e2ec"/>
<g clip-path="url(#p35)">
<g filter="url(#b10)">
<path d="M241.7 680.9h0m-10.5 .9h0m6.9 .1h0m12 0h0m-19.1 .5h0m17.1 .9h0m-9.7 .1h0m6.1 .1h0m7.1 .4h0m-21.2 .8h0m3.3 .2h0m20 .6h0m-8.5 .8h0m5.4 .8h0m-14.7 .5h0m20.1 .2h0m-14.7 .5h0m8.6 0h0m-11.9 .2h0m11.6 .6h0m6.5 .8h0m-9.1 .3h0m9.3 .3h0m-16.5 .3h0m1.9 .1h0m-4 .3h0m8.1 .1h0m-2.1 .1h0m-3.7 .2h0m-17.8 .4h0m3.6 .2h0m20.7 1.1h0m.5 .2h0m12.1 .9h0m-19.5 1.7h0m.7 .2h0m-10.1 .2h0m-.9 .2h0m-8.8 .4h0m13.7 .5h0m8.6 0h0m-20.4 .4h0m17.7 .2h0m7.6 1.5h0m-11.3 .5h0m7.4 .4h0m8.9 .2h0m6.8 .7h0m-9.9 .4h0m2.1 .2h0m-6.5 .4h0m5.3 .1h0m5.5 0h0m-18.5 .6h0m-18.2 .1h0m35 0h0m-28.8 .1h0m2 .3h0m10.3 .1h0m-11.8 .2h0m32.3 0h0m-28.2 .5h0m27.9 .4h0m-.4 1.2h0m-7.9 .3h0m-17.6 .2h0m5.1 .3h0m-12.7 .8h0m16 0h0m13.5 .9h0m-12.7 .1h0m-15.9 .2h0m10.9 .6h0m17.5 0h0m-6 .1h0m5.7 .1h0m-5.4 .4h0m6.6 .4h0m-.6 1.2h0m-17.1 .7h0m2.6 0h0m17.8 .6h0m-30.9 .1h0m26.8 .3h0m-3.6 .1h0m-28 .2h0m8.2 .4h0m17.9 1.1h0m7.9 .2h0m-24.7 .4h0m7.9 .2h0m5.9 .1h0m-2 .1h0m13.7 .5h0m-1.2 .6h0m-20.4 .2h0m-5.2 .1h0m24.7 .6h0m-5.3 1h0m2.7 0h0m-1 .1h0m-12 .4h0m3.2 0h0m-7.8 .2h0m9.8 .3h0m-6.4 .5h0m-8.3 .3h0m8.5 .4h0m.6 1.1h0m8.2 .1h0m-2.5 .2h0" stroke="#5a3cc6" stroke-width="4.65" stroke-linecap="round" fill="none" stroke-opacity="0.15"/>
</g>
<g filter="url(#b6)">
<path d="M235.7 680.8h0m6 .1h0m2.8 .4h0m-13.3 .5h0m4.3 .1h0m2.6 0h0m10 1.4h0m-9.7 .1h0m6 .2h0m-10.7 1.3h0m11.5 1.4h0m5.4 .8h0m-1.9 .3h0m-12.8 .2h0m20.1 .2h0m-29 .2h0m-3.9 .3h0m18.2 0h0m11.6 .1h0m-10.9 .7h0m7.6 0h0m6.5 .8h0m-11.6 .5h0m11.8 .1h0m-16.5 .3h0m1.9 .1h0m11.8 0h0m4.8 0h0m-20.6 .3h0m3.1 .1h0m5 0h0m-5.8 .3h0m-17.8 .4h0m3.6 .2h0m-3.4 .1h0m.4 .5h0m10.1 .1h0m13.6 .4h0m-3.5 .3h0m10.3 .3h0m-14.6 .2h0m-7.6 .5h0m2 .5h0m-1.4 .8h0m-6 .2h0m13.9 0h0m.7 .2h0m-10.1 .2h0m4.2 .1h0m-5.1 .1h0m30.2 0h0m-39 .4h0m2.1 .5h0m11.6 0h0m8.6 0h0m-18.8 .3h0m20.8 0h0m-22.4 .1h0m32.5 .1h0m-14.8 .1h0m3.5 0h0m-7 .1h0m8.9 .7h0m14.6 1h0m-16.3 .6h0m-1.6 .1h0m10.5 .1h0m-24.4 .2h0m20.7 .1h0m10.5 .4h0m-16.8 .3h0m6.9 .1h0m2.1 .2h0m-7.2 .2h0m.7 .2h0m-14.2 .1h0m19.5 0h0m5.5 0h0m-30.5 .8h0m33.9 .1h0m-31.9 .2h0m10.3 .1h0m-16.7 .1h0m5.2 .1h0m32 0h0m-31.1 .2h0m2.9 .3h0m1.5 .7h0m26 .9h0m-25.5 .5h0m26.7 .2h0m-21.6 .1h0m19.6 .5h0m-28.1 .2h0m1.7 0h0m16.5 0h0m-22.4 .1h0m16 0h0m13.5 .9h0m-12.7 .1h0m-15.9 .2h0m27.6 0h0m-16.7 .6h0m17.5 0h0m-23.2 .1h0m.6 0h0m16.6 0h0m5.7 .1h0m-5.4 .4h0m10 0h0m-18 .4h0m14.6 0h0m-21.5 .3h0m11.6 .2h0m-5.7 .4h0m-16.1 .2h0m32.2 0h0m-1.1 .1h0m-1.2 .6h0m-15.9 .1h0m2.6 0h0m-16.9 .5h0m3.8 .2h0m23.2 .4h0m-28 .2h0m27.4 .1h0m-18.2 .6h0m14.1 .1h0m-17.8 .1h0m2 .3h0m18.6 .3h0m7.9 .2h0m-24.7 .4h0m6.7 .1h0m1.2 .1h0m5.9 .1h0m-21.5 .1h0m19.5 0h0m-19.5 .1h0m19.9 0h0m13.3 .4h0m-13.6 .2h0m12.4 .4h0m-20.4 .2h0m-5.2 .1h0m1.8 .6h0m22.9 0h0m-27.6 .2h0m18.4 0h0m2.3 .6h0m-19.1 .2h0m20.7 0h0m2.7 0h0m-1 .1h0m-17.6 .1h0m-3.1 .1h0m8.8 .3h0m-4.7 .1h0m3.2 0h0m6.6 .3h0m-9.3 .3h0m2.9 .2h0m-8.3 .3h0m8.5 .4h0m-7.5 .1h0m15.3 .1h0m-12.9 .4h0m5.3 .2h0m.4 .3h0m8.2 .1h0" stroke="#5a3cc6" stroke-width="2.1" stroke-linecap="round" fill="none" stroke-opacity="0.72"/>
<path d="M250.1 681.9h0m-19.1 .5h0m13.5 1.1h0m7.1 .4h0m-21.2 .8h0m23.3 .8h0m-3.8 2.8h0m-11.9 .2h0m9 1.7h0m-3.3 1.2h0m3.3 2.1h0m12.1 .9h0m-11.4 5.3h0m-11.3 .5h0m1.1 3h0m-18.2 .1h0m35 0h0m-28.3 .7h0m32 .9h0m-8.3 1.5h0m7.7 6.6h0m-4.1 .4h0m-23.4 .7h0m8.9 5.6h0m3.2 0h0m2.1 3.1h0" stroke="#4224b2" stroke-width="3.1" stroke-linecap="round" fill="none" stroke-opacity="0.85"/>
</g><g filter="url(#b3)">
<path d="M239.9 680.1h0m-4 .6h0m10 .1h0m-11.4 .1h0m-.7 .3h0m8.5 .1h0m.8 0h0m-6.1 .3h0m5.8 0h0m-6.1 .2h0m1.1 .1h0m-2.8 .2h0m13.9 0h0m-7.5 .1h0m-9.8 .1h0m8.8 .4h0m.2 .1h0m-11.5 .1h0m13.1 .3h0m6.9 0h0m-20.4 .1h0m-1.5 .2h0m21.6 .3h0m-18.5 .7h0m9.8 0h0m3.8 .1h0m-16.7 .3h0m19.8 .2h0m-20.9 .1h0m11.4 .1h0m7.5 .3h0m-18.3 .1h0m17.6 0h0m2.2 .1h0m-18.5 .1h0m24.6 .4h0m-26.7 .3h0m.3 .2h0m26 .1h0m-27.3 .1h0m7.6 .2h0m7 .1h0m13.6 .2h0m3.5 .2h0m-3.8 .1h0m-26.7 .2h0m22.6 .1h0m-.3 .1h0m-12.9 .2h0m20.2 0h0m-14.1 .3h0m3.8 0h0m5.3 0h0m.8 0h0m5.6 .2h0m-10.6 .2h0m.3 .1h0m-21.1 .2h0m2.6 .1h0m1.5 .1h0m-4.6 .2h0m32.8 0h0m-.1 .2h0m-8.1 .1h0m-.3 .2h0m-21.3 .2h0m7 0h0m22.6 0h0m-2 .1h0m-30.1 .1h0m5.4 0h0m23 0h0m-30.2 .1h0m14.3 0h0m-2.1 .1h0m12.9 0h0m-26.1 .2h0m10 .2h0m14 .1h0m-21.2 .1h0m10.9 .1h0m21.2 0h0m-17.8 .1h0m.1 .1h0m6.9 .1h0m-11.2 .1h0m4.5 .2h0m18.4 .1h0m-37.3 .2h0m27.8 0h0m-25.1 .8h0m34.7 .2h0m-12.7 .4h0m9.3 .5h0m1.8 0h0m-10.6 .1h0m-19.1 .1h0m10.6 .5h0m-15.3 .2h0m17 .1h0m15 0h0m-24.3 .1h0m-11.7 .1h0m7.4 .2h0m32.9 .1h0m-24.6 .1h0m14.1 .1h0m-2.3 .2h0m-26.2 .1h0m16.8 0h0m21.8 .1h0m-38.5 .1h0m3.1 0h0m2.6 0h0m2.1 0h0m-8.6 .2h0m.8 .2h0m30.5 0h0m8.1 0h0m-33.3 .1h0m35.5 0h0m-20 .1h0m-1 .5h0m-21.4 .2h0m7.1 .2h0m23.6 .1h0m-30.6 .1h0m42.6 0h0m-24.4 .1h0m9.2 .2h0m-16.9 .2h0m30.3 0h0m-19 .1h0m-11.9 .3h0m30.9 .2h0m1.2 .1h0m-2.2 .1h0m-30 .1h0m4.3 .5h0m-14.4 .2h0m3 0h0m26.3 0h0m-4.3 .1h0m-11 .2h0m8.3 0h0m16.1 .2h0m-15.3 .1h0m-23.7 .2h0m27.5 0h0m10.4 0h0m4.9 0h0m-41.9 .4h0m.8 0h0m39.6 .3h0m-17.5 .2h0m-14.9 .1h0m17.2 .3h0m-5.4 .6h0m12.4 .1h0m1.8 .2h0m-22.2 .1h0m18.9 .1h0m6.1 .1h0m-23.6 .1h0m-12.7 .1h0m6.8 0h0m4.8 0h0m14.9 0h0m-7.8 .3h0m-4.2 .3h0m2.3 0h0m25.2 0h0m-23.6 .1h0m-14.5 .2h0m-4.5 .5h0m9.8 0h0m14.1 0h0m-3.4 .1h0m-20.2 .2h0m13.8 .2h0m14.6 0h0m-14.5 .4h0m14.4 0h0m1.6 .3h0m3 .3h0m-1.7 .4h0m-28.2 .3h0m36 .8h0m2.2 .5h0m-18.5 .2h0m8.9 0h0m-2 .1h0m-21.2 .4h0m15.6 0h0m12.7 0h0m-33 .1h0m23.3 0h0m-1.2 .4h0m15.7 0h0m-27.5 .3h0m14.4 0h0m-3 .1h0m15 .1h0m-38.9 .2h0m5.7 .1h0m8.3 .2h0m23 .2h0m-18.4 .1h0m-18.6 .1h0m14.5 .2h0m18.1 .3h0m-20.2 .1h0m8.4 0h0m9 0h0m-18.4 .1h0m20.5 0h0m6.1 0h0m-2.1 .2h0m-35.6 .1h0m12.7 .2h0m4.3 0h0m-16.1 .3h0m.8 .1h0m2.4 .5h0m2.9 .1h0m27.3 .1h0m-31.6 .2h0m6 .2h0m10.5 0h0m17.1 0h0m-34.2 .4h0m16 .3h0m11.8 .4h0m-10.2 .1h0m7 .1h0m-11.5 .2h0m4 .2h0m-6.4 .1h0m3.3 .1h0m-3.9 .5h0m-5.1 .2h0m11 0h0m1.6 .5h0m12.4 0h0m2.4 0h0m-25.3 .1h0m-4.2 .1h0m9.1 .2h0m.1 .3h0m7.7 0h0m-2.3 .3h0m8.1 .3h0m-13.4 .2h0m10.5 .3h0m.2 0h0m6.3 0h0m-12.8 .1h0m-8.5 .1h0m5.3 .3h0m16.2 0h0m-9.1 .3h0m-9.4 .2h0m13 0h0m5.2 .1h0m.3 0h0m-9.2 .1h0m-10.2 .2h0m-4.3 .2h0m14.6 .2h0m-2.7 .1h0m3.4 0h0m.1 .3h0m.4 .6h0m-8.5 .1h0m.5 .2h0m3.6 .4h0m.5 .2h0m-1.1 .4h0m-.3 .1h0m4.6 .6h0" stroke="#5a3cc6" stroke-width="1.15" stroke-linecap="round" fill="none" stroke-opacity="0.62"/>
<path d="M231 682.4h0m13.5 1.1h0m-14.1 1.2h0m23.3 .8h0m-3.8 2.8h0m-11.9 .2h0m9 1.7h0m-3.3 1.2h0m15.4 3h0m-11.4 5.3h0m10.3 5.2h0m-8.3 1.5h0m-19.8 7.7h0" stroke="#4224b2" stroke-width="1.49" stroke-linecap="round" fill="none" stroke-opacity="0.9"/>
</g></g>
<circle cx="239.8" cy="701.8" r="22.5" fill="none" stroke="#8c8ca0" stroke-width="0.45"/>
<g filter="url(#b6)">
<path d="M241.8 695.4h0m4.7 3.2h0m1 14.9h0" stroke="#4224b2" stroke-width="4.4" stroke-linecap="round" fill="none" stroke-opacity="0.85"/>
</g>
<clipPath id="p36"><circle cx="239.8" cy="751.3" r="22.8"/></clipPath>
<circle cx="239.8" cy="751.3" r="22.8" fill="#e6e6ec"/>
<g clip-path="url(#p36)">
<g filter="url(#b10)">
<path d="M252.8 733.2h0m-3.9 .9h0m-19.1 .7h0m4.9 6.7h0m4.3 2.8h0m12.4 1.2h0m-5 .1h0m5.8 2.2h0m3.6 .1h0m-12.6 .2h0m2 .9h0m6.1 0h0m-29 1.2h0m21.8 1.2h0m-8.3 .5h0m11.6 3.5h0m-17.6 .3h0m13 3h0m-16.8 .2h0m6.7 .6h0m26.1 1.7h0m-35.4 .6h0m4.1 .1h0m-4.2 4.3h0m3.7 0h0m6 1.1h0m-2.4 .2h0m-2.6 1.8h0m5.5 1h0m8.9 1h0" stroke="#5a3cc6" stroke-width="4.65" stroke-linecap="round" fill="none" stroke-opacity="0.15"/>
</g>
<g filter="url(#b6)">
<path d="M250.5 731.6h0m-19.6 1h0m21.9 .6h0m-3.9 .9h0m-23.3 4h0m30.2 1.8h0m3.4 1h0m-24.5 .6h0m4.3 2.8h0m-16.4 1.1h0m23.8 .2h0m5.8 2.2h0m3.6 .1h0m-12.6 .2h0m18.5 .1h0m-16.5 .8h0m-1.1 2.4h0m-8.3 .5h0m-8.1 1.9h0m19.7 1.6h0m-25.9 2.5h0m4.5 1h0m6.1 .4h0m19.1 .1h0m-18.5 .1h0m24.8 .7h0m1.3 1h0m-36.6 .3h0m34.5 .7h0m-24.2 1h0m-1.4 1.1h0m-7.8 1.9h0m3.7 0h0m17.5 .4h0m-11.5 .7h0m-2.4 .2h0m.5 .6h0m19.7 1.5h0m-19.6 .7h0m11.2 1h0" stroke="#5a3cc6" stroke-width="2.1" stroke-linecap="round" fill="none" stroke-opacity="0.72"/>
<path d="M229.8 734.8h0m21.6 10.7h0m-.1 3.5h0m-29 1.2h0m7.5 5.5h0m13 3h0m-19.4 3.1h0m4.1 .1h0m.5 7.4h0m5.5 1h0" stroke="#4224b2" stroke-width="3.1" stroke-linecap="round" fill="none" stroke-opacity="0.85"/>
</g><g filter="url(#b3)">
<path d="M233.3 732h0m-4.3 1h0m23.2 .4h0m-1.3 .3h0m-6.7 .2h0m-8.4 1.1h0m-3.8 .3h0m4.6 0h0m-9.9 .8h0m13 .5h0m8.6 .4h0m5 .2h0m-.7 .1h0m-8 .5h0m-12.3 .2h0m3.6 .7h0m17 .1h0m3.2 1.8h0m-24.7 .8h0m21.2 .8h0m-8.6 .7h0m-18.3 .6h0m16 0h0m-14.7 .9h0m5.1 0h0m18.6 .1h0m10.3 .7h0m-4.2 .1h0m-5.9 .3h0m-11.6 .3h0m-18.8 .5h0m33.9 0h0m3.9 0h0m-4.1 .3h0m5.9 0h0m-12.9 .5h0m13.7 .3h0m-28 1.2h0m-11.7 .7h0m17.5 0h0m-7.8 .1h0m.3 1.3h0m23.4 .3h0m-5.7 .4h0m-1.5 .2h0m.2 .5h0m9.1 .4h0m-20.9 .2h0m13.7 0h0m-30.8 .4h0m13.4 0h0m19.1 0h0m-1.1 .8h0m-13.2 1.3h0m24.6 .2h0m-42.8 .1h0m37.8 .1h0m1.2 0h0m-1.1 .3h0m-21.7 .1h0m25 0h0m-37.9 .7h0m9.7 .3h0m15.6 .1h0m-11.3 .9h0m-8.1 2.5h0m5.8 0h0m20.9 .8h0m-29.9 .2h0m28.2 0h0m-11.9 .4h0m17.4 0h0m-29.2 1.8h0m20.8 0h0m-20.1 .1h0m26 .1h0m-4.8 .4h0m3.6 2.1h0m-21.9 1.4h0m6.3 2.3h0" stroke="#5a3cc6" stroke-width="1.15" stroke-linecap="round" fill="none" stroke-opacity="0.62"/>
<path d="M229.8 734.8h0m21.6 10.7h0m-21.6 10.2h0m-6.4 6.1h0m4.1 .1h0" stroke="#4224b2" stroke-width="1.49" stroke-linecap="round" fill="none" stroke-opacity="0.9"/>
</g></g>
<circle cx="239.8" cy="751.3" r="22.6" fill="none" stroke="#8c8ca0" stroke-width="0.45"/>
<g filter="url(#b6)">
<path d="M228.2 747.2h0m18.8 .2h0m-5.5 10.9h0" stroke="#4224b2" stroke-width="5.2" stroke-linecap="round" fill="none" stroke-opacity="0.88"/>
</g>
<clipPath id="p37"><circle cx="288.1" cy="701.8" r="22.7"/></clipPath>
<circle cx="288.1" cy="701.8" r="22.7" fill="#e3e2ec"/>
<g clip-path="url(#p37)">
<g filter="url(#b10)">
<path d="M285.9 680.4h0m1.6 1.3h0m.6 0h0m6.7 .2h0m-7.2 1h0m-8.8 .1h0m10.6 1.9h0m-15 .6h0m26.5 .8h0m-6.1 .2h0m-5.4 .1h0m12.3 .2h0m-28 .2h0m14.3 .6h0m4 .2h0m11.1 .2h0m-27.5 .6h0m-.5 .2h0m28.3 .1h0m-16.3 1h0m7.4 .6h0m-2.8 .4h0m-10.2 1.2h0m1.5 .2h0m13.4 0h0m3.7 .4h0m-13.8 .3h0m-16.3 .5h0m16.3 .1h0m-11.1 .1h0m7.3 0h0m11.1 0h0m-13.7 .6h0m5.5 .3h0m-13.8 .7h0m35.9 .9h0m-18.3 .2h0m-17.6 .2h0m11.3 .8h0m14.4 .4h0m-30.5 .9h0m6.5 .2h0m24.1 .1h0m-22.5 .4h0m9.9 .3h0m13.7 .1h0m-23.2 .5h0m-7.8 .1h0m33.8 0h0m-32.2 .7h0m27.6 .1h0m-28 .5h0m21.8 .1h0m5.9 .3h0m-13.2 .1h0m10.4 .2h0m15.1 .8h0m-14.2 .5h0m1.2 .4h0m-17.3 .6h0m-7 .2h0m28.5 .1h0m-25.3 .2h0m34.9 .9h0m-22.4 .5h0m-17 .1h0m10 .3h0m25.4 0h0m-30.1 .2h0m24.6 .3h0m-32.9 .3h0m2.1 .1h0m2.1 0h0m7.9 .5h0m3.9 .3h0m12.3 .2h0m3 0h0m-28.7 1h0m33.2 .4h0m-.5 .1h0m-30.6 .3h0m14 0h0m4.5 0h0m15.6 0h0m-2.2 .3h0m-26.7 .7h0m-6.9 .9h0m1.7 .3h0m18.3 .3h0m14.7 .4h0m-19.8 .4h0m17.2 .2h0m-14.6 .2h0m-5.9 .1h0m15.6 .9h0m-23 .2h0m29.9 .1h0m-32.4 .2h0m14.9 .7h0m14.2 1.3h0m-25.7 .3h0m14.8 .1h0m6.9 .1h0m-12.9 .2h0m-3.3 1.2h0m4.1 .3h0m-5.7 .5h0m8.2 1.3h0m8.7 0h0m-13.3 .3h0m9.7 .1h0" stroke="#5a3cc6" stroke-width="4.65" stroke-linecap="round" fill="none" stroke-opacity="0.15"/>
</g>
<g filter="url(#b6)">
<path d="M285.9 680.4h0m.1 .2h0m4.2 .8h0m-2.1 .3h0m-4 .1h0m10.2 0h0m.5 .1h0m-17.2 .1h0m13 .2h0m3.7 .2h0m5.4 .7h0m-12.3 1.2h0m7.1 .3h0m-9.2 .2h0m15.3 0h0m-18.5 .5h0m-7.7 .2h0m8.1 .2h0m.8 .3h0m10.1 .3h0m7.5 0h0m-6.1 .2h0m-5.4 .1h0m12.3 .2h0m-27.9 .1h0m-.1 .1h0m23.4 .3h0m5.1 .2h0m-14.2 .1h0m4 .2h0m11.1 .2h0m-27.5 .6h0m-.5 .2h0m28.3 .1h0m-23.5 .3h0m-3.2 .4h0m10.4 .3h0m7.4 .6h0m-2.8 .4h0m7.2 .1h0m7.2 0h0m-23.7 .9h0m24.6 .3h0m-33.8 .1h0m20.8 0h0m.4 0h0m2 0h0m3.7 .4h0m-28.5 .3h0m14.7 0h0m-16.3 .5h0m15.2 0h0m-2.7 .2h0m11.1 0h0m-25 .2h0m11.3 .4h0m-7.1 .1h0m9.7 .1h0m18.6 .2h0m-30.3 1h0m7.8 .4h0m28.9 .1h0m-18.3 .2h0m-17.6 .2h0m-.1 .5h0m11.4 .3h0m14.4 .4h0m-29 .4h0m-1.5 .5h0m36.4 .1h0m-29.9 .1h0m14.3 0h0m2.7 0h0m3.2 .2h0m-3.4 .1h0m-15.2 .2h0m-5.4 .1h0m15.3 .2h0m13.7 .1h0m9.7 .2h0m-34 .1h0m1.1 .2h0m12.9 .5h0m-19.1 .3h0m27.6 .1h0m12.9 .1h0m-1 .2h0m-39.9 .2h0m12.9 0h0m8.9 .1h0m-22.3 .2h0m28.2 .1h0m-13.2 .1h0m-13.6 1.3h0m-2.2 .2h0m27.1 0h0m-28.3 .2h0m25.1 .2h0m-24.5 .5h0m11.6 .1h0m-3.8 .5h0m12.1 .4h0m7.7 0h0m15.1 .5h0m-3.6 .3h0m-18.8 .2h0m-17 .1h0m6 0h0m4 .3h0m25.4 0h0m-30.1 .2h0m-2 .5h0m-4.2 .2h0m2.1 0h0m36.4 0h0m-28.5 .5h0m22.2 .1h0m-6 .4h0m3 0h0m-29.7 .1h0m1 .9h0m33.5 .2h0m-28.4 .3h0m27.6 0h0m-14.6 .2h0m-16 .1h0m14 0h0m4.5 0h0m15.6 0h0m-2.2 .3h0m-8.7 .2h0m-18 .5h0m24.9 .4h0m-31.9 .1h0m34.4 0h0m-20.3 .3h0m-14 .1h0m12.2 .1h0m-10.5 .2h0m3 0h0m15.3 .3h0m14.7 .4h0m-19.8 .4h0m17.2 .2h0m-14.6 .2h0m-5.9 .1h0m12.8 .5h0m2.8 .4h0m-23 .2h0m-3 .1h0m32.9 0h0m-2.8 .1h0m-29.6 .1h0m14.9 .7h0m-.5 .3h0m-11.9 .8h0m26.6 .2h0m-25.7 .3h0m14.8 .1h0m-12.4 .5h0m.2 .4h0m7 .9h0m2.5 1.8h0m8.7 0h0m-11.9 .1h0m13.4 .1h0m-14.8 .1h0m9.7 .1h0m-7.2 1.1h0m-2.3 .2h0" stroke="#5a3cc6" stroke-width="2.1" stroke-linecap="round" fill="none" stroke-opacity="0.72"/>
<path d="M287.5 681.7h0m.1 1.2h0m-8.8 .1h0m10.6 1.9h0m-7.9 7.2h0m1.5 .2h0m3.3 1.3h0m-11.1 .1h0m10.2 .9h0m-13.8 .7h0m25.8 3.7h0m-29.9 1.4h0m33.8 0h0m-7.7 2h0m15.1 .8h0m-13 .9h0m-24.3 .8h0m28.5 .1h0m.1 2.5h0m-32.9 .3h0m16 .9h0m19.8 1.6h0m-6 8.1h0m-12.9 .2h0m-3.3 1.2h0m-1.6 .8h0" stroke="#4224b2" stroke-width="3.1" stroke-linecap="round" fill="none" stroke-opacity="0.85"/>
</g><g filter="url(#b3)">
<path d="M292.1 680h0m-7.8 .5h0m-1.3 .4h0m12.3 .2h0m-7.4 .1h0m-5.5 .1h0m8.5 0h0m.2 0h0m-3.4 .1h0m-4.2 .4h0m2.1 0h0m9.8 .1h0m1.1 0h0m-17.8 .2h0m16 0h0m-7.3 .1h0m-9.1 .2h0m4.7 0h0m11.6 .3h0m-12.2 .3h0m9 0h0m-13.7 .1h0m6.2 .1h0m5.6 .2h0m-8.2 .1h0m5.8 .3h0m11 0h0m-15.1 .2h0m-6.3 .1h0m1.1 0h0m5.7 .1h0m11.7 .1h0m-1.7 .6h0m-4 .7h0m6 0h0m6.3 .6h0m-15.7 .3h0m4 0h0m-1.1 .3h0m2.8 0h0m9.2 .4h0m3.3 0h0m-11.2 .2h0m-13.5 .2h0m3 0h0m4.1 .1h0m17.1 .1h0m-25.5 .1h0m-6.2 .1h0m0 .1h0m31.5 .1h0m-21.7 .1h0m5.5 0h0m-15.3 .1h0m19.8 .1h0m-21.4 .5h0m21.9 .2h0m-11.5 .1h0m1.2 0h0m6.5 .1h0m15.4 .1h0m-23.4 .2h0m.9 .2h0m2.6 .1h0m4.5 .3h0m-7.9 .1h0m-9.8 .1h0m26.8 .4h0m-11.6 .2h0m21.3 .5h0m-20.4 .3h0m8.2 .1h0m-21.4 .1h0m21.5 .3h0m-14.6 .1h0m5.4 .2h0m17.8 .2h0m-19.1 .2h0m18.1 .3h0m3.6 .3h0m-24.4 .1h0m2.3 .2h0m8.8 .1h0m-11.3 .1h0m-14.5 .1h0m31.3 0h0m-17.3 .3h0m13.5 0h0m6.1 0h0m-30.8 .1h0m-.3 .4h0m12.8 .1h0m16.3 0h0m-26.4 .1h0m-2.2 .1h0m10.7 .2h0m28.4 .3h0m-2.6 .3h0m-29.7 .1h0m24.2 .3h0m-17.4 .1h0m22.5 .2h0m-24.7 .3h0m17 .1h0m-27.4 .5h0m.8 0h0m1 .1h0m25.4 0h0m-30.2 .1h0m34.4 0h0m-36.4 .3h0m14.3 .1h0m.4 0h0m24.2 0h0m-32.5 .1h0m17 0h0m12.9 0h0m-27.7 .1h0m13.1 .1h0m12.2 .1h0m-27.3 .2h0m1.2 .2h0m23.2 0h0m-16.3 .2h0m13.1 0h0m5.2 0h0m-27.1 .1h0m13.8 .2h0m.9 0h0m7.2 0h0m-5.3 .1h0m14.5 0h0m-29.5 .2h0m13.3 .3h0m-12.7 .2h0m26.8 .3h0m-8.3 .2h0m-26.1 .2h0m16.6 0h0m-9.7 .7h0m34 .1h0m-39.7 .1h0m41.2 0h0m-10 .1h0m2.2 0h0m2.5 0h0m3.5 0h0m-37.7 .1h0m16.1 0h0m4 .1h0m3.9 0h0m-24.7 .2h0m.9 .1h0m18 0h0m-18 .3h0m1.8 .3h0m33.6 .1h0m3.3 .1h0m-38.4 .1h0m29.8 0h0m-9.2 .1h0m-12.2 .5h0m22.2 0h0m6.9 .2h0m-11.3 .5h0m13 .2h0m-8.3 .2h0m-9.9 .3h0m-2.1 .1h0m-13.5 .2h0m26.7 .6h0m-35.4 .2h0m37.9 0h0m-.6 .3h0m-26.2 .2h0m-5.3 .2h0m11.8 .2h0m1.9 0h0m21.3 0h0m-12.2 .5h0m-21.4 .1h0m19.1 .7h0m-18.6 .4h0m18 0h0m-2.9 .1h0m-10.8 .1h0m13.2 0h0m3.4 .1h0m-10.1 .6h0m19.5 0h0m-13.8 .1h0m-14.6 .3h0m5.6 .3h0m4.1 .1h0m.7 .2h0m1.2 0h0m2.4 .7h0m7.8 0h0m4.6 .1h0m-34 .2h0m24.9 .4h0m-19.2 .1h0m-3.5 .2h0m-1.7 .1h0m8 .2h0m10 0h0m12.3 .2h0m-4.7 .1h0m-19.9 .1h0m14.6 0h0m5.3 0h0m9.8 0h0m-24.4 .7h0m-9.1 .2h0m25.2 .2h0m-23.5 .3h0m10.8 .1h0m-9.1 .1h0m26.7 .4h0m-24.8 .4h0m-3.3 .1h0m1.9 0h0m26.1 .2h0m-10 .1h0m-11.7 .1h0m2.7 0h0m6.8 .1h0m12.9 .1h0m-6.2 .1h0m-1.5 .1h0m8.6 .5h0m-7.5 .1h0m-1.3 .1h0m-6.9 .1h0m-13 .1h0m14.6 .1h0m-10.2 .2h0m2.6 0h0m20.9 0h0m-.9 .7h0m-23.3 .1h0m22.2 .1h0m-18.8 .6h0m16.1 0h0m-19.4 .3h0m13.7 .1h0m8.1 .5h0m-4 .3h0m-4.3 .2h0m-12.1 .1h0m12.5 .3h0m-2.2 .2h0m5.6 .1h0m-2 .2h0m-13.1 .1h0m15.7 .1h0m-6.2 .3h0m-5.4 .5h0m1.4 0h0m5 0h0" stroke="#5a3cc6" stroke-width="1.15" stroke-linecap="round" fill="none" stroke-opacity="0.62"/>
<path d="M287.5 681.7h0m.1 1.2h0m-16 12.4h0m25.8 3.7h0m-29.9 1.4h0m33.8 0h0m-7.7 2h0m15.1 .8h0m-8.7 4.3h0m-32.9 .3h0m35.8 2.5h0m-18.9 8.3h0m-4.9 2h0" stroke="#4224b2" stroke-width="1.49" stroke-linecap="round" fill="none" stroke-opacity="0.9"/>
</g></g>
<circle cx="288.1" cy="701.8" r="22.5" fill="none" stroke="#8c8ca0" stroke-width="0.45"/>
<g filter="url(#b6)">
<path d="M293.8 697.9h0m-10 .4h0m7.9 6.8h0m-10.3 4.7h0" stroke="#4224b2" stroke-width="4.4" stroke-linecap="round" fill="none" stroke-opacity="0.85"/>
</g>
<clipPath id="p38"><circle cx="288.1" cy="751.3" r="22.8"/></clipPath>
<circle cx="288.1" cy="751.3" r="22.8" fill="#e6e6ec"/>
<g clip-path="url(#p38)">
<g filter="url(#b10)">
<path d="M291.6 730.5h0m-10.6 .5h0m13.1 0h0m-13.9 1.6h0m13.7 3h0m-6.6 .6h0m16.1 1.2h0m-26.6 .9h0m20.9 .2h0m-12 .3h0m19 1.1h0m-2.7 .4h0m-22.8 2.4h0m4.2 .3h0m-1 .2h0m-10.7 2.3h0m24.1 .3h0m-27.3 .4h0m1.1 .8h0m19.4 .2h0m6.7 1.1h0m11.1 .9h0m-9.1 1h0m-12.7 .4h0m-3.6 .4h0m-1.7 .6h0m11 1.7h0m-21.8 .4h0m-1.5 1.6h0m23.5 .8h0m17 .8h0m-15.7 .8h0m-5.2 .9h0m-15.6 .1h0m33 0h0m-35.6 1.1h0m38.6 .4h0m-30.6 .2h0m18.5 1.9h0m1.1 1.1h0m-14.8 .2h0m-3.6 .3h0m19.6 .2h0m-3.9 .8h0m-22.6 .3h0m1.5 .7h0m28.2 .2h0m-7.9 2h0m-17.8 .1h0m16 1.5h0m-.8 .8h0m-11.7 .5h0m15.1 .3h0m.2 .4h0" stroke="#5a3cc6" stroke-width="4.65" stroke-linecap="round" fill="none" stroke-opacity="0.15"/>
</g>
<g filter="url(#b6)">
<path d="M294.4 730.3h0m-2.8 .2h0m-9.9 .2h0m-.7 .3h0m13.1 0h0m-2.5 .2h0m-12.3 .7h0m10.8 .5h0m8.2 .1h0m-18.1 .1h0m.3 1.9h0m22.2 .3h0m-15.4 1.4h0m16.1 1.2h0m-26.6 .9h0m8.9 .5h0m11.5 .8h0m-10.3 .3h0m17.8 0h0m-19.1 .4h0m16.4 0h0m-1.3 .4h0m-.3 .7h0m-21.2 1.3h0m4.2 .3h0m-1 .2h0m13.4 2.6h0m11.9 0h0m-14.7 .2h0m15.5 .7h0m-38.9 .3h0m26.1 1.3h0m11.1 .9h0m-9.1 1h0m-12.7 .4h0m-3.6 .4h0m.4 .5h0m-15.3 .2h0m19.7 .5h0m-17.3 1.5h0m26 .3h0m13.7 .7h0m-41.2 .6h0m17.3 .9h0m23.2 .7h0m-16.4 .2h0m-9.4 .4h0m10.1 .2h0m13.4 .5h0m2 .1h0m-20.6 .3h0m-15.6 .1h0m33 0h0m-35.6 1.1h0m8 .6h0m26.4 .3h0m-32.7 .1h0m29.5 1.7h0m-3.9 .9h0m.3 0h0m-14.8 .2h0m17.3 0h0m6.7 0h0m-27.6 .3h0m7.4 0h0m19.2 0h0m-7 .2h0m-5.1 .1h0m3.9 .5h0m-2.7 .2h0m10 .2h0m-32.6 .1h0m29.7 .9h0m-5.8 1.4h0m-2.1 .6h0m-17.8 .1h0m19.1 .2h0m-3.9 2.1h0m6.7 .1h0m-3.1 1.1h0" stroke="#5a3cc6" stroke-width="2.1" stroke-linecap="round" fill="none" stroke-opacity="0.72"/>
<path d="M293.9 735.6h0m3.8 2.9h0m-26 7h0m-3.2 .7h0m20.5 1h0m-9.3 4.4h0m11 1.7h0m.2 2.8h0m16.5 4.1h0m-12.1 2.1h0m-22.7 3.6h0m18.5 3.8h0m-12.5 1.3h0m15.1 .3h0" stroke="#4224b2" stroke-width="3.1" stroke-linecap="round" fill="none" stroke-opacity="0.85"/>
</g><g filter="url(#b3)">
<path d="M288.3 729.2h0m6.4 1h0m-4.4 .3h0m-4.4 .6h0m-3.4 .6h0m2.3 0h0m-7.2 .2h0m18 0h0m-12.6 .1h0m.3 .1h0m12.4 .7h0m-15.3 1.2h0m16.6 .1h0m-20.5 .2h0m18 .2h0m-19.8 .1h0m-.8 .1h0m10.6 0h0m-6.6 .1h0m16.2 0h0m-17.2 .3h0m6 0h0m-4.1 .2h0m20 .4h0m-23.1 .2h0m17.7 .2h0m-19.9 .8h0m18.6 .2h0m6.2 .5h0m2.2 0h0m-22.8 .4h0m26.8 .1h0m-14.1 .5h0m-20.4 .9h0m35 0h0m-19.6 .7h0m-16.8 .3h0m39 .1h0m-23.6 .8h0m-5.6 .4h0m18.4 .3h0m-12.6 .5h0m11.3 .7h0m-26.1 .1h0m37.9 0h0m-19.8 .2h0m14.5 .1h0m-33.5 .5h0m22.1 1.2h0m-7.5 1.1h0m8.4 0h0m.4 .2h0m16.5 .3h0m-34.4 .4h0m11.7 0h0m24.2 .2h0m-32 .5h0m28.1 .4h0m-2 .1h0m4.9 .5h0m-19 .2h0m-8.2 .2h0m-10.4 .3h0m38.1 .2h0m-36 .2h0m24.7 .1h0m-19 .1h0m28.3 .2h0m-35.6 .1h0m6 .1h0m13.7 .3h0m5 .1h0m-9.4 .1h0m-3.3 .1h0m-12.6 .1h0m33.1 .2h0m-28.8 .1h0m34 .1h0m-15.8 .3h0m12.3 0h0m-31.7 .3h0m-1.2 .2h0m14 .9h0m-6.5 .3h0m-7.5 .1h0m3.8 0h0m10.9 0h0m17.6 .2h0m-27.6 .1h0m29.7 0h0m-11 .6h0m-17.3 .3h0m23.8 .3h0m-4.8 .2h0m-3.4 .1h0m3.6 .3h0m-1 .6h0m-24.8 .1h0m-5.9 .9h0m1.3 0h0m34.3 0h0m-2.6 .2h0m-24.9 .1h0m10.6 0h0m-5.3 .7h0m-10.7 .1h0m27.8 0h0m6.6 .3h0m-9.8 .9h0m2.5 .1h0m-9.6 .3h0m13.2 .4h0m-13.7 .5h0m-6.9 .2h0m19.3 0h0m-2.6 .4h0m-20.1 .4h0m-4.6 .3h0m26.5 .5h0m-28.7 .2h0m16.6 .5h0m8.6 0h0m-15.4 .1h0m-6.2 .4h0m23.4 0h0m-20.5 .1h0m13.7 0h0m5.9 .1h0m9.1 .2h0m-33.9 .2h0m24.3 0h0m-3.3 .2h0m-.7 .4h0m-18.2 .8h0m11.7 .1h0m2.4 .2h0m15.8 .2h0m-13 .1h0m1.8 .6h0m-13.3 .4h0m6.1 0h0m8.9 .5h0m6.7 .1h0m-21 .2h0m13.9 .1h0m6.9 0h0m-20.3 .2h0m8.7 .9h0m-.4 .3h0m-1.8 .7h0m-2.6 .2h0m11.4 .4h0m-1.1 .1h0m-5 .1h0m7.4 .1h0m-8.5 .4h0m2.1 0h0m-5.2 .2h0m4.6 .2h0m1.8 .5h0" stroke="#5a3cc6" stroke-width="1.15" stroke-linecap="round" fill="none" stroke-opacity="0.62"/>
<path d="M293.9 735.6h0m3.8 2.9h0m-8.7 8.7h0m1.7 6.1h0m.2 2.8h0m.2 13.6h0m2.6 1.6h0" stroke="#4224b2" stroke-width="1.49" stroke-linecap="round" fill="none" stroke-opacity="0.9"/>
</g></g>
<circle cx="288.1" cy="751.3" r="22.6" fill="none" stroke="#8c8ca0" stroke-width="0.45"/>
<g filter="url(#b6)">
<path d="M298.8 750.3h0" stroke="#4224b2" stroke-width="5.2" stroke-linecap="round" fill="none" stroke-opacity="0.88"/>
</g>
<clipPath id="p39"><circle cx="337" cy="701.8" r="22.7"/></clipPath>
<circle cx="337" cy="701.8" r="22.7" fill="#e3e2ec"/>
<g clip-path="url(#p39)">
<g filter="url(#b10)">
<path d="M335.9 679.9h0m2.7 .1h0m-5.3 .8h0m2.1 .1h0m9.7 .4h0m-1.4 .2h0m-10.1 3.4h0m-5.5 .9h0m7.1 .2h0m-10.4 .4h0m26.8 .5h0m.6 .2h0m-2.8 .3h0m-7.5 1.1h0m-16.3 .7h0m7.1 0h0m18.9 0h0m-17.9 .2h0m21.2 .2h0m-26.2 .6h0m8 .1h0m-16.9 .2h0m32 .2h0m-27.8 1.9h0m1.5 .7h0m8 0h0m-15.5 .3h0m16.1 .4h0m9.8 .3h0m-4.6 .1h0m-14.3 .8h0m-6.7 1h0m37.2 1h0m-29.7 .2h0m-5.4 1.6h0m37.6 .2h0m-37.8 .9h0m-1.2 .9h0m-.6 .2h0m0 .3h0m28.3 .5h0m-29.8 .4h0m-.5 1.2h0m4 .4h0m37.7 .7h0m-19.5 .3h0m-18.1 .2h0m1.5 .2h0m.6 .8h0m17.8 2.1h0m15.6 .1h0m-10.5 1.5h0m-3.6 .7h0m-1.2 .9h0m-17.3 1h0m28.5 .5h0m-25.7 2.8h0m25.9 0h0m-4.6 .5h0m-5.9 .4h0m-18.9 .3h0m4.9 1.5h0m10.9 .2h0m-6 .7h0m-2.6 .2h0m7 1.2h0m-9 .1h0m11.2 .9h0m.5 1.3h0" stroke="#5a3cc6" stroke-width="4.65" stroke-linecap="round" fill="none" stroke-opacity="0.15"/>
</g>
<g filter="url(#b6)">
<path d="M335.9 679.9h0m2.7 .1h0m-3.2 .9h0m9.7 .4h0m-8.7 .2h0m7.3 0h0m1.7 .3h0m-12.6 .6h0m13.4 .8h0m-6.9 1.3h0m-12.6 .1h0m-2.5 .2h0m9.4 .1h0m-1.3 .2h0m-4.2 .7h0m19.7 .1h0m-12.6 .1h0m14.6 .7h0m1.8 .2h0m.6 .2h0m-9.6 .1h0m6.8 .2h0m-17.4 .4h0m-6.4 1.4h0m7.1 0h0m18.9 0h0m-17.9 .2h0m21.2 .2h0m-9.8 .3h0m-16.4 .3h0m8 .1h0m-16.9 .2h0m32 .2h0m-16.4 .4h0m-10.3 .1h0m3.3 1h0m-4.4 .4h0m16.2 0h0m-22.8 .2h0m8.1 .5h0m-7.5 .3h0m16.1 .4h0m1.1 0h0m4.1 .4h0m-4.3 .1h0m19.8 .5h0m-29.8 .2h0m26.7 .6h0m-33.4 .4h0m19.7 .1h0m-13.2 .7h0m30.7 .2h0m-3.9 .1h0m-25.8 .1h0m-5.7 1h0m22.9 .3h0m3.1 .2h0m-25.7 .1h0m-3 .2h0m40.6 0h0m-21.7 .6h0m-16.1 .3h0m33.3 .8h0m-34.5 .1h0m-.6 .2h0m-3 .1h0m3 .2h0m28.3 .5h0m-29.8 .4h0m-.5 1.2h0m40.4 .1h0m-29.9 .1h0m-6.5 .2h0m37.7 .7h0m-19.5 .3h0m-18.1 .2h0m1.5 .2h0m5 .1h0m-4.4 .7h0m28 .9h0m-30.6 .1h0m20.4 1.1h0m15.6 .1h0m-9.6 .3h0m7.7 0h0m-8.4 1h0m-14.6 .1h0m14.4 .1h0m11.1 .1h0m-10.4 .1h0m-12 .4h0m7.7 .1h0m9.1 1.5h0m-28.7 .4h0m1.1 0h0m17.1 .8h0m-10.1 .2h0m-6 .6h0m23.1 .8h0m0 1.4h0m-24.8 .7h0m1.5 1.1h0m17.2 .3h0m-8.9 1h0m17.5 0h0m-20.1 .2h0m7 1.2h0m-9 .1h0m9.9 1.9h0m.1 .8h0" stroke="#5a3cc6" stroke-width="2.1" stroke-linecap="round" fill="none" stroke-opacity="0.72"/>
<path d="M333.3 680.8h0m-8.5 5.6h0m17.1 2.1h0m-8.4 4.8h0m10.4 1h0m-3.2 17.2h0m11.2 1.5h0m-25.7 2.8h0m25.9 0h0m-10.5 .9h0m-14 1.8h0m10.9 .2h0m.6 3.1h0m.5 1.3h0" stroke="#4224b2" stroke-width="3.1" stroke-linecap="round" fill="none" stroke-opacity="0.85"/>
</g><g filter="url(#b3)">
<path d="M341.4 679.9h0m-4.4 .6h0m-2.2 .6h0m3.6 .1h0m1.2 .3h0m-6.5 .2h0m13.3 .8h0m-15.1 .1h0m2.4 .2h0m9.8 .3h0m-13.8 .1h0m10.1 .1h0m-6.9 .6h0m16 .1h0m-23.7 .1h0m1.4 0h0m9.2 .4h0m2.4 0h0m12.7 0h0m-2.7 .2h0m-6.6 .1h0m7.3 .1h0m-9 .2h0m-16 .2h0m11.1 0h0m5.6 .5h0m-8.2 .5h0m1.8 0h0m-7.7 .3h0m7.8 .3h0m-13.2 .1h0m-.2 .2h0m18.3 0h0m-12.6 .3h0m7.1 .4h0m-6.7 .3h0m14.3 .1h0m-18.3 .1h0m23.3 0h0m-26.7 .1h0m31.7 0h0m2.4 .1h0m-20.2 .3h0m15 .4h0m2.4 .1h0m-31.3 .1h0m10.1 0h0m8.8 0h0m14.5 0h0m-15.1 .3h0m2.6 0h0m13.9 0h0m-2 .1h0m-17.8 .5h0m17.1 .2h0m3.1 .1h0m-26.9 .1h0m27.9 .2h0m-32.5 .1h0m3.3 .1h0m-5.2 .1h0m9.1 .2h0m15.9 .1h0m-27.4 .1h0m10.8 .2h0m-5.6 .3h0m-4.9 1.1h0m18.9 0h0m-19.4 .4h0m-.2 .2h0m23.7 0h0m-8.3 .1h0m-13.7 .6h0m20.8 .1h0m10.8 0h0m-7.7 .2h0m12.7 .1h0m-22.1 .4h0m.8 0h0m3.6 .1h0m5.6 0h0m-1.4 .2h0m1 0h0m-.9 .2h0m-.3 .2h0m-24.9 .3h0m20 .4h0m4.3 .2h0m4.5 0h0m-24.9 .1h0m1.1 .1h0m28.4 0h0m-1.5 .3h0m4.5 0h0m-25.4 .2h0m-12.4 .6h0m30.6 .3h0m-4 .4h0m15.2 0h0m-35.9 .1h0m24.3 0h0m-1.9 .1h0m11 0h0m-28.7 .7h0m2 .6h0m20.3 .1h0m-18.1 .1h0m-16.1 .3h0m25 .2h0m12.1 .3h0m2.6 0h0m1.3 .2h0m-24.7 .3h0m-6.2 .1h0m4.8 0h0m1.1 0h0m19.5 .2h0m-2.8 .4h0m-24.6 .1h0m6.8 .1h0m.5 .1h0m17 0h0m-22.8 .1h0m25.7 0h0m-1.9 .1h0m6.5 .1h0m-32.4 .3h0m2.6 .1h0m15.4 .3h0m-23.1 .1h0m17.5 .1h0m.1 .1h0m16 .1h0m-33.6 .1h0m33.8 .1h0m-13.7 .1h0m-.9 .1h0m18.7 .6h0m-26.3 .2h0m7.5 0h0m-15.9 .8h0m-1.1 .1h0m14.6 0h0m-14 .2h0m1.4 .1h0m3.8 .3h0m-1.4 .3h0m9.6 .2h0m-18.1 .3h0m14.9 0h0m26.5 .2h0m-10.7 .1h0m-2.9 .4h0m-17.3 .1h0m31.1 0h0m-1.9 .1h0m.4 0h0m-14.3 .1h0m6.7 .3h0m-17.1 .1h0m6.1 0h0m-17.1 .3h0m.5 .1h0m4.4 0h0m15.5 0h0m14.6 .1h0m-27.9 .1h0m24.7 .2h0m-18.2 .2h0m-14.3 .2h0m5.4 .4h0m21.7 .2h0m-8.7 .6h0m5.7 .4h0m-1.5 .2h0m-23.7 .2h0m4.1 .1h0m-2.4 .5h0m35.5 0h0m-6.7 .6h0m4.8 .1h0m.9 .2h0m-16.5 .1h0m8.3 .3h0m-13.2 .4h0m5.5 .1h0m-13.8 .1h0m-3.2 .1h0m2.3 .4h0m-1 .1h0m14.7 0h0m9 .3h0m3.7 .3h0m-5.4 .9h0m-23.3 .6h0m0 .1h0m24 0h0m-14.9 .4h0m-8.2 .1h0m26.5 .2h0m-15.6 .3h0m-4.9 .8h0m-1.6 .1h0m13.7 .6h0m-11.9 .7h0m5.3 .3h0m-6.3 .1h0m4.7 0h0m7.5 1.9h0m-1.2 .7h0" stroke="#5a3cc6" stroke-width="1.15" stroke-linecap="round" fill="none" stroke-opacity="0.62"/>
<path d="M341.9 688.5h0m10 24.5h0m.2 2.8h0m-24.5 2.7h0m10.9 .2h0m.6 3.1h0m.5 1.3h0" stroke="#4224b2" stroke-width="1.49" stroke-linecap="round" fill="none" stroke-opacity="0.9"/>
</g></g>
<circle cx="337" cy="701.8" r="22.5" fill="none" stroke="#8c8ca0" stroke-width="0.45"/>
<g filter="url(#b6)">
<path d="M337.1 693.2h0m-4 16.6h0" stroke="#4224b2" stroke-width="4.4" stroke-linecap="round" fill="none" stroke-opacity="0.85"/>
</g>
<clipPath id="p40"><circle cx="337" cy="751.3" r="22.8"/></clipPath>
<circle cx="337" cy="751.3" r="22.8" fill="#e6e6ec"/>
<g clip-path="url(#p40)">
<g filter="url(#b10)">
<path d="M336.2 729.7h0m-.4 3.3h0m-14.6 5.5h0m-3.4 7.9h0m39.6 5h0m-6 6.1h0m-6.4 5.5h0m-.6 6h0" stroke="#5a3cc6" stroke-width="4.65" stroke-linecap="round" fill="none" stroke-opacity="0.15"/>
</g>
<g filter="url(#b6)">
<path d="M336.2 729.7h0m-.4 3.3h0m-4.2 1.7h0m-12.6 3.3h0m4.1 .4h0m-1.9 .1h0m14.5 5.7h0m-17.9 2.2h0m-3 .9h0m35.3 13.1h0m-5.1 2.6h0m-.6 6h0" stroke="#5a3cc6" stroke-width="2.1" stroke-linecap="round" fill="none" stroke-opacity="0.72"/>
<path d="M357.4 751.4h0m-6 6.1h0" stroke="#4224b2" stroke-width="3.1" stroke-linecap="round" fill="none" stroke-opacity="0.85"/>
</g><g filter="url(#b3)">
<path d="M338.7 733.8h0m.9 .1h0m2.7 1.5h0m-10.1 .3h0m-8.8 .1h0m10.6 1.5h0m7.6 .2h0m-18.6 .5h0m8.8 2h0m8.2 1.2h0m8.9 .7h0m2.6 .3h0m-23.8 .5h0m-.4 1.2h0m15.7 .6h0m-4.7 1.2h0m19.5 .5h0m-2.1 .5h0m-31.3 .6h0m18.8 1.3h0m1 1.8h0m-27.2 .5h0m31.3 .7h0m-9.2 1.9h0m-4.6 .3h0m-7 .2h0m-5.7 .1h0m26.5 .7h0m7.9 .9h0m-40.7 .8h0m15.4 2.7h0m4.8 .2h0m21.2 0h0m-30.9 .6h0m29.2 1.2h0m-30.9 1.4h0m30.5 .5h0m-8.4 1.3h0m-25.9 1.5h0m-.5 .2h0m21.2 2.1h0m-1.3 1h0m-12.8 .1h0m21.1 .1h0" stroke="#5a3cc6" stroke-width="1.15" stroke-linecap="round" fill="none" stroke-opacity="0.62"/>
<path d="M351.4 757.5h0" stroke="#4224b2" stroke-width="1.49" stroke-linecap="round" fill="none" stroke-opacity="0.9"/>
</g></g>
<circle cx="337" cy="751.3" r="22.6" fill="none" stroke="#8c8ca0" stroke-width="0.45"/>
<g filter="url(#b6)">
<path d="M341.7 743.4h0" stroke="#4224b2" stroke-width="5.2" stroke-linecap="round" fill="none" stroke-opacity="0.88"/>
</g>
<clipPath id="p41"><circle cx="385.8" cy="701.8" r="22.7"/></clipPath>
<circle cx="385.8" cy="701.8" r="22.7" fill="#e3e2ec"/>
<g clip-path="url(#p41)">
<g filter="url(#b10)">
<path d="M378.1 682.1h0m18 .9h0m-19.7 .2h0m12.8 .1h0m-.8 .1h0m4.6 .1h0m-18.7 1.7h0m11.9 .3h0m12.9 .1h0m-6.3 .3h0m-20.8 1.1h0m7.5 0h0m5 0h0m1.4 0h0m-11.8 .1h0m12.3 .4h0m-14.9 .6h0m12.4 .5h0m-9.4 .1h0m25.5 0h0m-19.3 .7h0m7.8 .3h0m-19.2 .3h0m3.2 .1h0m30.5 .2h0m-26.6 .2h0m15.5 0h0m-16.1 1.3h0m2.9 1h0m10.1 1.2h0m-24.1 .4h0m1.2 .4h0m14.9 1h0m-13.7 .1h0m29.4 .2h0m5 .2h0m-20.9 .3h0m10.6 0h0m-3.3 .2h0m18.9 .4h0m-23.5 .4h0m-9.3 2.2h0m8.8 0h0m23.6 .9h0m-32.9 1.1h0m28.7 0h0m-10.3 .4h0m-27 1h0m18.7 .6h0m.2 0h0m-2.6 .1h0m-8 .1h0m-1.5 .4h0m-5.9 .4h0m20.2 .1h0m6.7 0h0m6.4 .2h0m-15.6 .8h0m21.6 .2h0m-23.9 .2h0m24.2 0h0m1.1 .1h0m-20.9 .4h0m17.1 .4h0m-32 .1h0m.3 .2h0m1 1h0m7.3 .1h0m26.1 0h0m-31.8 .1h0m33.2 .6h0m-14.9 .3h0m-24 .7h0m2.9 1h0m-4.5 .7h0m36.1 .3h0m-14.2 .3h0m-16.8 .5h0m25.1 0h0m-9.9 .5h0m-7.8 .6h0m19.8 0h0m-28.6 1h0m3 .1h0m10.8 .6h0m-9.3 2h0m-1.5 .4h0m22.5 .2h0m-9.4 .1h0m-4.8 .2h0m17.7 0h0m-4 .6h0m-15.5 .2h0m-2.3 .2h0m-2.3 .2h0m22.5 .1h0m-2.7 .1h0m-16.8 .5h0m4 1.8h0m10.5 .2h0m-12.6 .2h0m3.3 .7h0" stroke="#5a3cc6" stroke-width="4.65" stroke-linecap="round" fill="none" stroke-opacity="0.15"/>
</g>
<g filter="url(#b6)">
<path d="M383.6 681.8h0m-5.5 .3h0m12.2 .1h0m-13.8 .4h0m19.6 .4h0m-19.7 .2h0m12.8 .1h0m7.4 0h0m-16.1 .1h0m2.4 0h0m5.5 0h0m4.6 .1h0m-16.5 .1h0m17.4 .7h0m1.5 .5h0m-24.4 .1h0m28.3 .1h0m-6.5 .9h0m-3.8 1h0m-17 .1h0m7.5 0h0m5 0h0m1.4 0h0m-11.8 .1h0m15.5 .1h0m-3.2 .3h0m-14.9 .6h0m13 .4h0m-.6 .1h0m-9.4 .1h0m25.5 0h0m-31.3 .1h0m15.1 .2h0m12.2 0h0m1.7 0h0m-9.2 .7h0m-19.2 .3h0m3.2 .1h0m-3.2 .1h0m33.7 .1h0m-26.6 .2h0m15.5 0h0m-11.6 .1h0m19.9 .5h0m-31.5 .7h0m29.6 .4h0m-20.6 .2h0m14.1 .1h0m-13.1 .3h0m1.1 1.2h0m9 0h0m-24.1 .4h0m1.2 .4h0m2.8 0h0m23.1 .2h0m8.3 0h0m-23.6 .4h0m-9.4 .5h0m29.4 .2h0m-6.8 .2h0m1.5 .3h0m-19.2 .1h0m15.9 .1h0m18.9 .4h0m-23.5 .4h0m10.5 .1h0m-11 .5h0m5.3 0h0m15.9 .5h0m-24.3 .2h0m-5.7 .9h0m-4.5 .2h0m-3.5 .4h0m39.9 .1h0m-17.6 .2h0m18.1 0h0m-32.9 1.1h0m28.7 0h0m-10.3 .4h0m1.5 .1h0m-24.5 1.2h0m32.9 .1h0m-37.2 .2h0m19 0h0m-10.4 .2h0m-2.1 .2h0m.6 .2h0m14.3 .5h0m13.1 .2h0m-15.6 .8h0m-16.9 .2h0m38.5 0h0m.3 .2h0m1.7 .2h0m-20.4 .2h0m-1.1 .1h0m-19.2 .3h0m0 .1h0m4.3 .1h0m.3 .2h0m8.3 1.1h0m26.1 0h0m-31.8 .1h0m1.8 0h0m31.4 .6h0m-.8 .1h0m-33.4 .4h0m-.4 .3h0m-4.3 .2h0m9.2 .3h0m-10.6 .2h0m21.9 .1h0m-17.6 .4h0m30 .6h0m-34.5 .1h0m19 .3h0m17.1 0h0m-24.9 .2h0m10.7 .1h0m-1 .1h0m-15.8 .4h0m25.1 0h0m-9.9 .5h0m-5.9 .2h0m22.9 0h0m-33.7 .3h0m8.9 .1h0m19.8 0h0m-6.3 1h0m-19.3 .1h0m-3.3 .2h0m14.1 .4h0m-7.8 .5h0m3.9 .1h0m6.7 .3h0m-13.6 1.5h0m22.5 .2h0m-9.4 .1h0m-4.8 .2h0m17.7 0h0m.8 .5h0m-4.8 .1h0m-15.5 .2h0m10.1 .1h0m-12.4 .1h0m-2.3 .2h0m20.8 .1h0m-1 .1h0m-12.8 .4h0m-4 .1h0m1.7 .2h0m10.4 .1h0m.8 .8h0m-10.3 .5h0m11.2 0h0m.2 .1h0m-10 .1h0m10.5 .2h0m-12.6 .2h0m3.3 .7h0" stroke="#5a3cc6" stroke-width="2.1" stroke-linecap="round" fill="none" stroke-opacity="0.72"/>
<path d="M374.3 685.2h0m11.9 .3h0m12.9 .1h0m-18.4 3.8h0m-4.9 2.4h0m5 4h0m20.7 .5h0m-20.9 .3h0m2.2 3.2h0m-17.9 3.4h0m18.9 .6h0m-2.6 .1h0m-15.4 .9h0m26.9 .1h0m-11.5 1.4h0m25.3 .1h0m-3.8 .8h0m-30.7 1.3h0m19.9 1.1h0m-21.9 5.6h0m4.5 2.7h0m22.9 2.2h0" stroke="#4224b2" stroke-width="3.1" stroke-linecap="round" fill="none" stroke-opacity="0.85"/>
</g><g filter="url(#b3)">
<path d="M378.9 680.6h0m15.1 .4h0m-8.9 .2h0m.3 .6h0m4.5 0h0m-11.6 .1h0m5.6 .1h0m11.4 .5h0m.4 .1h0m-8.8 .2h0m10 0h0m-2.9 .1h0m1 .3h0m-17.1 .4h0m16.3 0h0m3.1 .8h0m-23.5 .1h0m17.1 0h0m-14.7 .1h0m1.6 .1h0m0 .2h0m18.5 .1h0m2.8 0h0m-8.1 .1h0m-18.7 .2h0m1.1 0h0m25.2 .1h0m-14.2 .6h0m7.1 0h0m-1.9 .2h0m-19.4 .1h0m12.5 .1h0m16.1 0h0m-29.2 .2h0m11.1 .3h0m20.3 0h0m-4.3 .1h0m-3.4 .2h0m-20.6 .1h0m8.9 .2h0m8.2 0h0m-.2 .2h0m-8.9 .3h0m3.7 .2h0m-1.1 .4h0m10.9 .2h0m5 0h0m-15.2 .1h0m-11.4 .1h0m30.3 0h0m-34.6 .1h0m31.6 .1h0m-9.6 .1h0m-1.5 .1h0m-17.9 .3h0m33.9 .2h0m-33.9 .4h0m30 .2h0m-30.2 .2h0m23.8 .1h0m5.5 0h0m-33 .4h0m10.4 0h0m8.8 0h0m-14.7 .1h0m8.7 0h0m-5.3 .1h0m-8.9 .1h0m36.4 0h0m1.1 .3h0m-9.6 .3h0m9.6 .2h0m-7.8 .1h0m-5.7 .1h0m-3.7 .4h0m19 0h0m-24.5 .1h0m10.6 0h0m12.5 .1h0m-28.9 .4h0m2.9 0h0m1.7 .1h0m26.3 .1h0m-4.5 .1h0m-15.6 .1h0m7.1 0h0m3.4 0h0m8.3 .5h0m-33.5 .1h0m28.3 0h0m-17.1 .2h0m9.6 .1h0m-20.6 .2h0m15.1 0h0m12.9 0h0m-13.9 .1h0m-16.7 .2h0m37.9 0h0m-22.7 .4h0m-13.9 .2h0m14.9 .1h0m11.4 0h0m-14.7 .1h0m23.1 0h0m-35 .2h0m5 .2h0m16.9 0h0m-7.4 .1h0m18.3 0h0m-13 .2h0m7.8 0h0m.9 0h0m-29.2 .1h0m11.2 0h0m21 0h0m-18.2 .1h0m-3.2 .6h0m-13.5 .1h0m27.4 .1h0m-28.7 .1h0m32.9 .1h0m4.6 0h0m2.6 0h0m1.4 .1h0m-28.6 .4h0m10.1 .1h0m-19.2 .4h0m-2.2 .7h0m31.4 .1h0m-26.1 .4h0m30 0h0m-37.3 .1h0m36.3 .1h0m-4.1 .4h0m-26.9 .1h0m37.9 0h0m-33.4 .6h0m27.1 .5h0m-30.3 .1h0m32.4 0h0m1.8 .1h0m-19.8 .1h0m2.7 0h0m10.8 .1h0m7.9 0h0m-1.8 .1h0m-.9 .1h0m-34.8 .2h0m4.4 .4h0m29.3 0h0m1.5 0h0m-15 .2h0m-7 .1h0m-13.3 .1h0m2.8 0h0m14 .1h0m4.2 0h0m12.9 0h0m-.2 .2h0m-2.5 .3h0m-33.9 .2h0m1.7 .2h0m-3 .1h0m23.7 .2h0m-18.2 .2h0m23.5 .4h0m6.1 .6h0m-13.8 .1h0m-20.5 .1h0m5.9 0h0m11 0h0m3 0h0m3.5 0h0m15.3 .4h0m-19.7 .7h0m-11.8 .1h0m-6.9 .2h0m17 .2h0m-7.8 .3h0m-.4 .1h0m3.1 0h0m17.8 0h0m-23.7 .1h0m17.2 .2h0m1.8 .1h0m-8.5 .6h0m-10.8 .6h0m9.8 0h0m4 .5h0m-10.4 .1h0m17.7 .2h0m-25.8 .4h0m1.5 .1h0m35.5 0h0m-21.1 .1h0m-17.2 .1h0m39.3 0h0m-22.8 .2h0m21.8 0h0m-14.1 .4h0m-6.1 .4h0m20.4 0h0m-20.6 .1h0m17.9 .1h0m-18.2 .1h0m1.3 0h0m19.7 0h0m-38.2 .1h0m30.4 0h0m4.1 .2h0m-17.7 .2h0m-15.9 .3h0m10.4 .1h0m11 0h0m-17.9 .3h0m9.9 0h0m6.1 .2h0m9.7 0h0m-23 .1h0m28.5 0h0m.7 .1h0m1.6 0h0m-28.2 .1h0m-3.2 .1h0m-4.6 .2h0m20.5 0h0m9.3 0h0m-15.5 .1h0m-4.6 .2h0m19.2 0h0m3.2 .1h0m-26.6 .1h0m20.3 0h0m8.4 .3h0m-3.5 .1h0m-27.7 .3h0m-.5 .1h0m22.4 .2h0m-23.3 .5h0m14.6 .1h0m3.7 .4h0m8.7 0h0m-15.1 .1h0m14.5 0h0m-23.5 .2h0m9.1 .1h0m18 .1h0m-11.9 .1h0m4 0h0m6.7 .5h0m-7.2 .3h0m-17.1 .2h0m20.9 .4h0m-23.3 .3h0m1.3 0h0m10.2 .1h0m6.5 .2h0m-3.1 .1h0m-10.3 .1h0m7.9 .2h0m3.8 .3h0m5.6 .1h0m.5 0h0m-18.6 .4h0m17.4 0h0m-7.6 .3h0m3.8 0h0m-6.2 1.5h0m.5 .3h0m4.9 0h0" stroke="#5a3cc6" stroke-width="1.15" stroke-linecap="round" fill="none" stroke-opacity="0.62"/>
<path d="M386.2 685.5h0m12.9 .1h0m-23.3 6.2h0m5 4h0m-.2 .8h0m-15.7 6.6h0m18.9 .6h0m-2.6 .1h0m25.3 2.5h0m-34.5 2.1h0m19.9 1.1h0" stroke="#4224b2" stroke-width="1.49" stroke-linecap="round" fill="none" stroke-opacity="0.9"/>
</g></g>
<circle cx="385.8" cy="701.8" r="22.5" fill="none" stroke="#8c8ca0" stroke-width="0.45"/>
<g filter="url(#b6)">
<path d="M396.1 689.3h0m-18.3 7.6h0m-.6 1.1h0m16.1 9h0" stroke="#4224b2" stroke-width="4.4" stroke-linecap="round" fill="none" stroke-opacity="0.85"/>
</g>
<clipPath id="p42"><circle cx="385.8" cy="751.3" r="22.8"/></clipPath>
<circle cx="385.8" cy="751.3" r="22.8" fill="#e6e6ec"/>
<g clip-path="url(#p42)">
<g filter="url(#b10)">
<path d="M373.1 736.1h0m-1 4.1h0m-3.5 .2h0m2 .2h0m22.6 .4h0m9.8 .1h0m-35.5 .3h0m-1.4 .3h0m19.5 .7h0m15.9 3h0m-34.2 .3h0m24.8 0h0m10.3 .4h0m-17.6 .3h0m8.4 .3h0m-2.5 .1h0m17.1 2.1h0m-38.7 .1h0m21.7 .2h0m-23 1.9h0m14.4 .7h0m19 .2h0m-17.7 .1h0m.4 .3h0m6.4 3.3h0m-24.3 .3h0m32.7 .7h0m-27.9 .9h0m6.8 1h0m-11.5 1.5h0m35.9 1.9h0m-13.5 1.7h0m-4.8 .3h0m-12.2 1.1h0m16.4 .8h0m7.6 .3h0m3.1 .3h0m.6 .5h0m-16.9 1.3h0m7.5 .9h0m-4.7 .9h0m3.7 .1h0m-13.5 .1h0m17.5 1.6h0" stroke="#5a3cc6" stroke-width="4.65" stroke-linecap="round" fill="none" stroke-opacity="0.15"/>
</g>
<g filter="url(#b6)">
<path d="M383.9 731.1h0m.1 3.8h0m2.1 .8h0m-13 .4h0m22.9 2.4h0m7.7 .6h0m-31.6 1.1h0m-3.5 .2h0m2 .2h0m22.6 .4h0m9.8 .1h0m-28.1 .1h0m26.5 .7h0m-15.8 .5h0m11.4 .8h0m4.5 2.2h0m-9.4 .3h0m-1.4 1.1h0m-18.4 .6h0m32.5 0h0m-22.3 .5h0m25.3 1h0m-38.7 .1h0m21.7 .2h0m-17.5 1.2h0m-5.5 .7h0m20 .1h0m1.5 .3h0m-13.8 .3h0m8 .3h0m-9.4 .7h0m9.4 .2h0m15.2 .3h0m-25.2 1.2h0m6.5 1h0m10.3 .2h0m-24.3 .3h0m12.3 .3h0m26 .7h0m-33.5 .6h0m31.6 .7h0m-24.8 .3h0m-2.5 .5h0m23.7 .3h0m-32.7 .7h0m7.4 .3h0m10.3 .3h0m18.2 1.3h0m-4.7 .8h0m-13.6 1.2h0m-12.2 1.1h0m16.4 .8h0m7.6 .3h0m3.1 .3h0m-28 .1h0m3.7 .4h0m24.9 0h0m-9.4 2.2h0m-4.7 .9h0m3.7 .1h0m-13.5 .1h0m18.6 .1h0m-.5 1.2h0m-.6 .3h0" stroke="#5a3cc6" stroke-width="2.1" stroke-linecap="round" fill="none" stroke-opacity="0.72"/>
<path d="M367.5 741.4h0m-1.4 .3h0m1.2 4h0m35.1 .4h0m-17.6 .3h0m8.4 .3h0m-11 5.1h0m19 .2h0m-17.3 .4h0m14.8 4.3h0m-10.2 7h0m-6.2 4.6h0" stroke="#4224b2" stroke-width="3.1" stroke-linecap="round" fill="none" stroke-opacity="0.85"/>
</g><g filter="url(#b3)">
<path d="M392 732.2h0m-8.5 .4h0m12.8 0h0m-14 .2h0m-7.1 .2h0m19.4 .5h0m-1 .1h0m-21.8 .9h0m10.2 0h0m-11.1 1.4h0m2.5 .5h0m27.9 .2h0m-12.3 .1h0m12.7 .3h0m-19.8 .2h0m3.1 .1h0m4 .5h0m5 .8h0m-15.6 .2h0m-4.8 .1h0m.8 .3h0m.3 0h0m7.7 .2h0m-11.4 .9h0m24.7 .3h0m-15.3 .1h0m18.7 .3h0m4.7 0h0m.7 .1h0m-12.2 .3h0m13.4 .6h0m-4.9 .8h0m4.9 1.4h0m-6.9 .1h0m-32.5 .7h0m36.9 .1h0m-39.1 .3h0m20.9 .2h0m6.3 .4h0m3.5 .9h0m-28.2 .1h0m32.3 .4h0m-18.1 .4h0m14.6 .5h0m-15.6 .4h0m12.3 .5h0m.9 0h0m8.6 .4h0m-27.5 .2h0m.4 0h0m24.4 0h0m3.3 .2h0m-.5 .4h0m1.5 .1h0m-12.7 .1h0m16.7 .3h0m.8 .1h0m-.9 .3h0m-21.8 .5h0m10.6 .7h0m-23.6 .2h0m2.4 0h0m15.2 0h0m-12.1 .1h0m28 0h0m-3 .1h0m-.2 .1h0m-28.5 1h0m33.3 .2h0m-29 .3h0m.1 0h0m24.4 0h0m-15.7 .3h0m5.8 .6h0m-16.7 .3h0m17.9 .3h0m-11.1 .3h0m15.8 0h0m-13.9 .5h0m18.2 .1h0m-9.8 .1h0m1.5 .1h0m1.8 0h0m-1.7 .2h0m-2.5 .1h0m-14.3 .4h0m7.6 0h0m14.6 .5h0m2.2 .3h0m-14.1 .2h0m12.6 0h0m-.1 .4h0m-35.8 .3h0m7.8 .1h0m22 .1h0m5.3 1.7h0m-8.3 .4h0m7.6 .1h0m3.2 .2h0m-15.7 .2h0m-11.6 .1h0m13.9 .1h0m-5.8 .1h0m12.4 .1h0m-3 .3h0m7.5 .1h0m-11.3 .2h0m2.4 .8h0m.1 0h0m-16.1 .4h0m14.9 .2h0m11.3 0h0m-23.8 .1h0m11.4 0h0m13.7 .3h0m-2.1 .8h0m-5.5 .4h0m-21.6 .3h0m24.2 0h0m-14.2 .3h0m-12.1 .6h0m11.1 .8h0m-5.7 .3h0m-1.9 .4h0m22.6 .3h0m-24.6 .1h0m14.3 .8h0m-.7 .2h0m7.4 .2h0m-6.6 .1h0m-.3 .4h0m4.8 0h0m-7.3 .3h0m8.5 0h0m-2.1 .3h0m-2.7 .5h0m-5 .2h0m.8 .6h0m1.1 .1h0m2.5 .1h0" stroke="#5a3cc6" stroke-width="1.15" stroke-linecap="round" fill="none" stroke-opacity="0.62"/>
<path d="M366.1 741.7h0m16.1 10.1h0m19 .2h0m-17.3 .4h0m14.8 4.3h0m-16.4 11.6h0" stroke="#4224b2" stroke-width="1.49" stroke-linecap="round" fill="none" stroke-opacity="0.9"/>
</g></g>
<circle cx="385.8" cy="751.3" r="22.6" fill="none" stroke="#8c8ca0" stroke-width="0.45"/>
<g filter="url(#b6)">
<path d="M374.5 740.1h0m12.7 20.7h0" stroke="#4224b2" stroke-width="5.2" stroke-linecap="round" fill="none" stroke-opacity="0.88"/>
</g>
<text x="422.4" y="625.8" font-size="12.6" stroke="#000" stroke-width=".16">p</text>
<rect x="480.7" y="677.1" width="6.1" height="62.2" fill="#ff9503"/>
<path d="M483.8 675.2V679M482.4 675.2h2.6M482.4 679h2.6" stroke="#111" stroke-width="0.5" fill="none"/>
<path d="M482.9 675.6h0m1.8 1.3h0m-1.2 1.8h0" stroke="#111" stroke-width="1.9" stroke-linecap="round" fill="none"/>
<rect x="489.9" y="717.5" width="6.1" height="21.8" fill="#fdd377"/>
<path d="M492.9 713.2V721.9M491.6 713.2h2.6M491.6 721.9h2.6" stroke="#111" stroke-width="0.5" fill="none"/>
<path d="M492.1 714h0m1.8 3.1h0m-1.2 4.1h0" stroke="#111" stroke-width="1.9" stroke-linecap="round" fill="none"/>
<rect x="504.9" y="678.3" width="6.1" height="61" fill="#ff9503"/>
<path d="M507.9 675.9V680.8M506.6 675.9h2.6M506.6 680.8h2.6" stroke="#111" stroke-width="0.5" fill="none"/>
<path d="M507.1 676.4h0m1.8 1.7h0m-1.2 2.4h0" stroke="#111" stroke-width="1.9" stroke-linecap="round" fill="none"/>
<rect x="514.1" y="713.8" width="6.1" height="25.5" fill="#fdd377"/>
<path d="M517.1 711.3V716.3M515.9 711.3h2.6M515.9 716.3h2.6" stroke="#111" stroke-width="0.5" fill="none"/>
<path d="M516.3 711.8h0m1.8 1.7h0m-1.2 2.4h0" stroke="#111" stroke-width="1.9" stroke-linecap="round" fill="none"/>
<rect x="528.8" y="694.5" width="6.1" height="44.8" fill="#ff9503"/>
<path d="M531.8 691.4V697.6M530.5 691.4h2.6M530.5 697.6h2.6" stroke="#111" stroke-width="0.5" fill="none"/>
<path d="M531 692h0m1.8 2.2h0m-1.2 3h0" stroke="#111" stroke-width="1.9" stroke-linecap="round" fill="none"/>
<rect x="537.7" y="734.9" width="6.1" height="4.35" fill="#fdd377"/>
<path d="M540.8 733.1V736.8M539.5 733.1h2.6M539.5 736.8h2.6" stroke="#111" stroke-width="0.5" fill="none"/>
<path d="M539.9 733.5h0m1.8 1.3h0m-1.2 1.7h0" stroke="#111" stroke-width="1.9" stroke-linecap="round" fill="none"/>
<rect x="553" y="674.6" width="6.1" height="64.7" fill="#ff9503"/>
<path d="M556 670.9V678.3M554.8 670.9h2.6M554.8 678.3h2.6" stroke="#111" stroke-width="0.5" fill="none"/>
<path d="M555.2 671.6h0m1.8 2.6h0m-1.2 3.6h0" stroke="#111" stroke-width="1.9" stroke-linecap="round" fill="none"/>
<rect x="562.2" y="722.5" width="6.1" height="16.79" fill="#fdd377"/>
<path d="M565.2 720.6V724.4M564 720.6h2.6M564 724.4h2.6" stroke="#111" stroke-width="0.5" fill="none"/>
<path d="M564.4 721h0m1.8 1.3h0m-1.2 1.8h0" stroke="#111" stroke-width="1.9" stroke-linecap="round" fill="none"/>
<line x1="477.3" y1="645.5" x2="477.3" y2="739.8" stroke="#000" stroke-width="1"/>
<line x1="476.8" y1="739.3" x2="571.6" y2="739.3" stroke="#000" stroke-width="1"/>
<line x1="473.9" y1="739.3" x2="477.3" y2="739.3" stroke="#000" stroke-width="1"/>
<text x="473.1" y="741.9" font-size="7.1" text-anchor="end">0</text>
<line x1="473.9" y1="708.2" x2="477.3" y2="708.2" stroke="#000" stroke-width="1"/>
<text x="473.1" y="710.8" font-size="7.1" text-anchor="end">50</text>
<line x1="473.9" y1="677.1" x2="477.3" y2="677.1" stroke="#000" stroke-width="1"/>
<text x="473.1" y="679.7" font-size="7.1" text-anchor="end">100</text>
<line x1="473.9" y1="646" x2="477.3" y2="646" stroke="#000" stroke-width="1"/>
<text x="473.1" y="648.6" font-size="7.1" text-anchor="end">150</text>
<line x1="488.3" y1="739.3" x2="488.3" y2="742.7" stroke="#000" stroke-width="1"/>
<line x1="512.5" y1="739.3" x2="512.5" y2="742.7" stroke="#000" stroke-width="1"/>
<line x1="536.4" y1="739.3" x2="536.4" y2="742.7" stroke="#000" stroke-width="1"/>
<line x1="560.6" y1="739.3" x2="560.6" y2="742.7" stroke="#000" stroke-width="1"/>
<text x="486.8" y="752.5" font-size="7.88" text-anchor="middle" textLength="12.2" lengthAdjust="spacingAndGlyphs" stroke="#000" stroke-width=".14">Cnt</text>
<text x="537.2" y="752.5" font-size="7.88" text-anchor="middle" textLength="12.2" lengthAdjust="spacingAndGlyphs" stroke="#000" stroke-width=".14">Cnt</text>
<text x="511.5" y="752.5" font-size="7.49" text-anchor="middle" textLength="21.4" lengthAdjust="spacingAndGlyphs" stroke="#000" stroke-width=".14">BRPF1</text>
<text x="562.2" y="752.5" font-size="7.49" text-anchor="middle" textLength="21.4" lengthAdjust="spacingAndGlyphs" stroke="#000" stroke-width=".14">BRPF1</text>
<text x="511.5" y="763.6" font-size="7.51" text-anchor="middle" textLength="9.6" lengthAdjust="spacingAndGlyphs" stroke="#000" stroke-width=".14">OE</text>
<text x="562.2" y="763.6" font-size="7.51" text-anchor="middle" textLength="9.6" lengthAdjust="spacingAndGlyphs" stroke="#000" stroke-width=".14">OE</text>
<line x1="479.9" y1="768.2" x2="522" y2="768.2" stroke="#333" stroke-width="0.6"/>
<line x1="531.2" y1="768.2" x2="572.7" y2="768.2" stroke="#333" stroke-width="0.6"/>
<text x="501.7" y="776.2" font-size="7.35" text-anchor="middle" textLength="13.4" lengthAdjust="spacingAndGlyphs" stroke="#000" stroke-width=".14">NT1</text>
<text x="549" y="776.2" font-size="7.75" text-anchor="middle" textLength="32.5" lengthAdjust="spacingAndGlyphs" stroke="#000" stroke-width=".14">BRPF1 g1</text>
<text font-size="7.41" text-anchor="middle" textLength="126" lengthAdjust="spacingAndGlyphs" transform="translate(455.3 692) rotate(-90)">% Colony Area (Normalized to control)</text>
<path d="M541.2 665.7V655.7H568.7V665.7" fill="none" stroke="#333" stroke-width=".6"/>
<text x="553.8" y="657.6" font-size="8.6" text-anchor="middle">**</text>
<rect x="575.8" y="644.7" width="8.7" height="4.4" fill="#ff9503"/>
<text x="588.5" y="649.3" font-size="7.63" textLength="22.9" lengthAdjust="spacingAndGlyphs">DMSO</text>
<rect x="575.8" y="656.5" width="8.7" height="4.2" fill="#fdd377"/>
<text x="588.5" y="661.4" font-size="7.33" textLength="11.4" lengthAdjust="spacingAndGlyphs">Tax</text>
</g>
</svg>
</body></html>
